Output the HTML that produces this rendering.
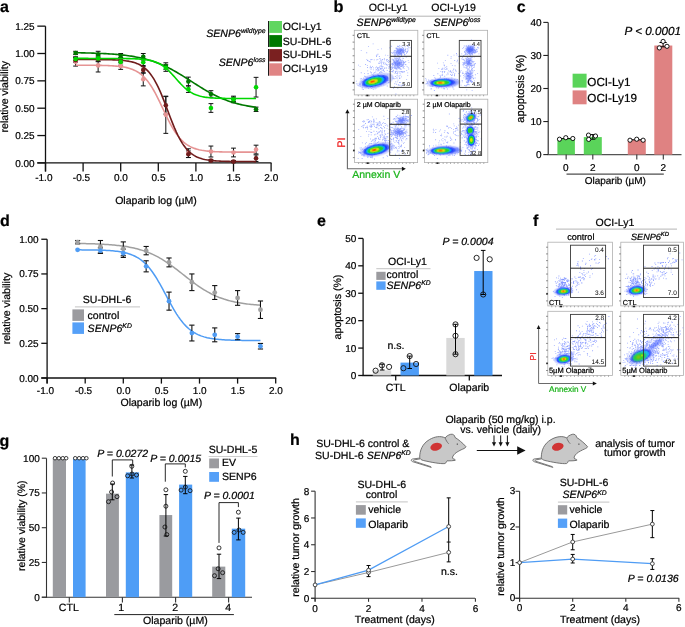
<!DOCTYPE html>
<html><head><meta charset="utf-8"><style>
html,body{margin:0;padding:0;background:#fff;overflow:hidden;}
svg{display:block;font-family:"Liberation Sans", sans-serif;will-change:transform;filter:blur(0.3px);}
text{stroke-width:0.22px;text-rendering:geometricPrecision;}
</style></head><body>
<svg width="685" height="627" viewBox="0 0 685 627">
<defs>
<filter id="bl1" x="-50%" y="-50%" width="200%" height="200%"><feGaussianBlur stdDeviation="1"/></filter>
<filter id="bl2" x="-50%" y="-50%" width="200%" height="200%"><feGaussianBlur stdDeviation="1.6"/></filter>
<filter id="bl07" x="-50%" y="-50%" width="200%" height="200%"><feGaussianBlur stdDeviation="0.7"/></filter>
<filter id="bl05" x="-50%" y="-50%" width="200%" height="200%"><feGaussianBlur stdDeviation="0.5"/></filter>
</defs>
<text x="0.00" y="12.30" font-size="16" text-anchor="start" fill="#000" stroke="#000" font-weight="bold">a</text>
<line x1="45.50" y1="26.20" x2="45.50" y2="171.50" stroke="#111" stroke-width="1.3"/>
<line x1="37.30" y1="162.90" x2="271.50" y2="162.90" stroke="#111" stroke-width="1.3"/>
<line x1="37.30" y1="162.90" x2="45.50" y2="162.90" stroke="#111" stroke-width="1.3"/>
<text x="34.60" y="166.50" font-size="10" text-anchor="end" fill="#000" stroke="#000">0.00</text>
<line x1="37.30" y1="135.55" x2="45.50" y2="135.55" stroke="#111" stroke-width="1.3"/>
<text x="34.60" y="139.15" font-size="10" text-anchor="end" fill="#000" stroke="#000">0.25</text>
<line x1="37.30" y1="108.20" x2="45.50" y2="108.20" stroke="#111" stroke-width="1.3"/>
<text x="34.60" y="111.80" font-size="10" text-anchor="end" fill="#000" stroke="#000">0.50</text>
<line x1="37.30" y1="80.85" x2="45.50" y2="80.85" stroke="#111" stroke-width="1.3"/>
<text x="34.60" y="84.45" font-size="10" text-anchor="end" fill="#000" stroke="#000">0.75</text>
<line x1="37.30" y1="53.50" x2="45.50" y2="53.50" stroke="#111" stroke-width="1.3"/>
<text x="34.60" y="57.10" font-size="10" text-anchor="end" fill="#000" stroke="#000">1.00</text>
<line x1="37.30" y1="26.15" x2="45.50" y2="26.15" stroke="#111" stroke-width="1.3"/>
<text x="34.60" y="29.75" font-size="10" text-anchor="end" fill="#000" stroke="#000">1.25</text>
<line x1="45.50" y1="162.90" x2="45.50" y2="171.50" stroke="#111" stroke-width="1.3"/>
<text x="35.22" y="180.60" font-size="10" text-anchor="start" fill="#000" stroke="#000">-1.0</text>
<line x1="83.10" y1="162.90" x2="83.10" y2="171.50" stroke="#111" stroke-width="1.3"/>
<text x="72.82" y="180.60" font-size="10" text-anchor="start" fill="#000" stroke="#000">-0.5</text>
<line x1="120.70" y1="162.90" x2="120.70" y2="171.50" stroke="#111" stroke-width="1.3"/>
<text x="120.90" y="180.60" font-size="10" text-anchor="middle" fill="#000" stroke="#000">0.0</text>
<line x1="158.30" y1="162.90" x2="158.30" y2="171.50" stroke="#111" stroke-width="1.3"/>
<text x="158.50" y="180.60" font-size="10" text-anchor="middle" fill="#000" stroke="#000">0.5</text>
<line x1="195.90" y1="162.90" x2="195.90" y2="171.50" stroke="#111" stroke-width="1.3"/>
<text x="196.10" y="180.60" font-size="10" text-anchor="middle" fill="#000" stroke="#000">1.0</text>
<line x1="233.50" y1="162.90" x2="233.50" y2="171.50" stroke="#111" stroke-width="1.3"/>
<text x="233.70" y="180.60" font-size="10" text-anchor="middle" fill="#000" stroke="#000">1.5</text>
<line x1="271.10" y1="162.90" x2="271.10" y2="171.50" stroke="#111" stroke-width="1.3"/>
<text x="271.30" y="180.60" font-size="10" text-anchor="middle" fill="#000" stroke="#000">2.0</text>
<text x="156.00" y="203.80" font-size="10.55" text-anchor="middle" fill="#000" stroke="#000">Olaparib log (µM)</text>
<text x="8.40" y="96.70" font-size="10.55" text-anchor="middle" fill="#000" stroke="#000" transform="rotate(-90 8.40 96.70)">relative viability</text>
<line x1="75.58" y1="57.33" x2="75.58" y2="66.08" stroke="#111" stroke-width="1"/>
<line x1="73.18" y1="57.33" x2="77.98" y2="57.33" stroke="#111" stroke-width="1"/>
<line x1="73.18" y1="66.08" x2="77.98" y2="66.08" stroke="#111" stroke-width="1"/>
<line x1="98.14" y1="58.86" x2="98.14" y2="71.99" stroke="#111" stroke-width="1"/>
<line x1="95.74" y1="58.86" x2="100.54" y2="58.86" stroke="#111" stroke-width="1"/>
<line x1="95.74" y1="71.99" x2="100.54" y2="71.99" stroke="#111" stroke-width="1"/>
<line x1="120.70" y1="62.80" x2="120.70" y2="69.36" stroke="#111" stroke-width="1"/>
<line x1="118.30" y1="62.80" x2="123.10" y2="62.80" stroke="#111" stroke-width="1"/>
<line x1="118.30" y1="69.36" x2="123.10" y2="69.36" stroke="#111" stroke-width="1"/>
<line x1="143.26" y1="72.75" x2="143.26" y2="85.88" stroke="#111" stroke-width="1"/>
<line x1="140.86" y1="72.75" x2="145.66" y2="72.75" stroke="#111" stroke-width="1"/>
<line x1="140.86" y1="85.88" x2="145.66" y2="85.88" stroke="#111" stroke-width="1"/>
<line x1="165.82" y1="96.17" x2="165.82" y2="133.36" stroke="#111" stroke-width="1"/>
<line x1="163.42" y1="96.17" x2="168.22" y2="96.17" stroke="#111" stroke-width="1"/>
<line x1="163.42" y1="133.36" x2="168.22" y2="133.36" stroke="#111" stroke-width="1"/>
<line x1="188.38" y1="148.79" x2="188.38" y2="157.54" stroke="#111" stroke-width="1"/>
<line x1="185.98" y1="148.79" x2="190.78" y2="148.79" stroke="#111" stroke-width="1"/>
<line x1="185.98" y1="157.54" x2="190.78" y2="157.54" stroke="#111" stroke-width="1"/>
<line x1="210.94" y1="146.05" x2="210.94" y2="156.99" stroke="#111" stroke-width="1"/>
<line x1="208.54" y1="146.05" x2="213.34" y2="146.05" stroke="#111" stroke-width="1"/>
<line x1="208.54" y1="156.99" x2="213.34" y2="156.99" stroke="#111" stroke-width="1"/>
<line x1="233.50" y1="148.13" x2="233.50" y2="156.88" stroke="#111" stroke-width="1"/>
<line x1="231.10" y1="148.13" x2="235.90" y2="148.13" stroke="#111" stroke-width="1"/>
<line x1="231.10" y1="156.88" x2="235.90" y2="156.88" stroke="#111" stroke-width="1"/>
<line x1="256.06" y1="145.18" x2="256.06" y2="153.93" stroke="#111" stroke-width="1"/>
<line x1="253.66" y1="145.18" x2="258.46" y2="145.18" stroke="#111" stroke-width="1"/>
<line x1="253.66" y1="153.93" x2="258.46" y2="153.93" stroke="#111" stroke-width="1"/>
<line x1="75.58" y1="57.99" x2="75.58" y2="62.36" stroke="#111" stroke-width="1"/>
<line x1="73.18" y1="57.99" x2="77.98" y2="57.99" stroke="#111" stroke-width="1"/>
<line x1="73.18" y1="62.36" x2="77.98" y2="62.36" stroke="#111" stroke-width="1"/>
<line x1="98.14" y1="56.78" x2="98.14" y2="61.16" stroke="#111" stroke-width="1"/>
<line x1="95.74" y1="56.78" x2="100.54" y2="56.78" stroke="#111" stroke-width="1"/>
<line x1="95.74" y1="61.16" x2="100.54" y2="61.16" stroke="#111" stroke-width="1"/>
<line x1="120.70" y1="57.55" x2="120.70" y2="61.92" stroke="#111" stroke-width="1"/>
<line x1="118.30" y1="57.55" x2="123.10" y2="57.55" stroke="#111" stroke-width="1"/>
<line x1="118.30" y1="61.92" x2="123.10" y2="61.92" stroke="#111" stroke-width="1"/>
<line x1="143.26" y1="66.63" x2="143.26" y2="73.19" stroke="#111" stroke-width="1"/>
<line x1="140.86" y1="66.63" x2="145.66" y2="66.63" stroke="#111" stroke-width="1"/>
<line x1="140.86" y1="73.19" x2="145.66" y2="73.19" stroke="#111" stroke-width="1"/>
<line x1="165.82" y1="96.60" x2="165.82" y2="114.11" stroke="#111" stroke-width="1"/>
<line x1="163.42" y1="96.60" x2="168.22" y2="96.60" stroke="#111" stroke-width="1"/>
<line x1="163.42" y1="114.11" x2="168.22" y2="114.11" stroke="#111" stroke-width="1"/>
<line x1="188.38" y1="150.98" x2="188.38" y2="157.54" stroke="#111" stroke-width="1"/>
<line x1="185.98" y1="150.98" x2="190.78" y2="150.98" stroke="#111" stroke-width="1"/>
<line x1="185.98" y1="157.54" x2="190.78" y2="157.54" stroke="#111" stroke-width="1"/>
<line x1="210.94" y1="159.51" x2="210.94" y2="161.70" stroke="#111" stroke-width="1"/>
<line x1="208.54" y1="159.51" x2="213.34" y2="159.51" stroke="#111" stroke-width="1"/>
<line x1="208.54" y1="161.70" x2="213.34" y2="161.70" stroke="#111" stroke-width="1"/>
<line x1="233.50" y1="160.49" x2="233.50" y2="162.68" stroke="#111" stroke-width="1"/>
<line x1="231.10" y1="160.49" x2="235.90" y2="160.49" stroke="#111" stroke-width="1"/>
<line x1="231.10" y1="162.68" x2="235.90" y2="162.68" stroke="#111" stroke-width="1"/>
<line x1="256.06" y1="154.91" x2="256.06" y2="161.48" stroke="#111" stroke-width="1"/>
<line x1="253.66" y1="154.91" x2="258.46" y2="154.91" stroke="#111" stroke-width="1"/>
<line x1="253.66" y1="161.48" x2="258.46" y2="161.48" stroke="#111" stroke-width="1"/>
<line x1="75.58" y1="51.31" x2="75.58" y2="54.59" stroke="#111" stroke-width="1"/>
<line x1="73.18" y1="51.31" x2="77.98" y2="51.31" stroke="#111" stroke-width="1"/>
<line x1="73.18" y1="54.59" x2="77.98" y2="54.59" stroke="#111" stroke-width="1"/>
<line x1="98.14" y1="51.31" x2="98.14" y2="57.88" stroke="#111" stroke-width="1"/>
<line x1="95.74" y1="51.31" x2="100.54" y2="51.31" stroke="#111" stroke-width="1"/>
<line x1="95.74" y1="57.88" x2="100.54" y2="57.88" stroke="#111" stroke-width="1"/>
<line x1="120.70" y1="53.50" x2="120.70" y2="57.88" stroke="#111" stroke-width="1"/>
<line x1="118.30" y1="53.50" x2="123.10" y2="53.50" stroke="#111" stroke-width="1"/>
<line x1="118.30" y1="57.88" x2="123.10" y2="57.88" stroke="#111" stroke-width="1"/>
<line x1="143.26" y1="53.50" x2="143.26" y2="60.06" stroke="#111" stroke-width="1"/>
<line x1="140.86" y1="53.50" x2="145.66" y2="53.50" stroke="#111" stroke-width="1"/>
<line x1="140.86" y1="60.06" x2="145.66" y2="60.06" stroke="#111" stroke-width="1"/>
<line x1="165.82" y1="62.80" x2="165.82" y2="69.36" stroke="#111" stroke-width="1"/>
<line x1="163.42" y1="62.80" x2="168.22" y2="62.80" stroke="#111" stroke-width="1"/>
<line x1="163.42" y1="69.36" x2="168.22" y2="69.36" stroke="#111" stroke-width="1"/>
<line x1="188.38" y1="77.13" x2="188.38" y2="85.88" stroke="#111" stroke-width="1"/>
<line x1="185.98" y1="77.13" x2="190.78" y2="77.13" stroke="#111" stroke-width="1"/>
<line x1="185.98" y1="85.88" x2="190.78" y2="85.88" stroke="#111" stroke-width="1"/>
<line x1="210.94" y1="90.70" x2="210.94" y2="97.26" stroke="#111" stroke-width="1"/>
<line x1="208.54" y1="90.70" x2="213.34" y2="90.70" stroke="#111" stroke-width="1"/>
<line x1="208.54" y1="97.26" x2="213.34" y2="97.26" stroke="#111" stroke-width="1"/>
<line x1="233.50" y1="97.15" x2="233.50" y2="101.53" stroke="#111" stroke-width="1"/>
<line x1="231.10" y1="97.15" x2="235.90" y2="97.15" stroke="#111" stroke-width="1"/>
<line x1="231.10" y1="101.53" x2="235.90" y2="101.53" stroke="#111" stroke-width="1"/>
<line x1="256.06" y1="107.11" x2="256.06" y2="111.48" stroke="#111" stroke-width="1"/>
<line x1="253.66" y1="107.11" x2="258.46" y2="107.11" stroke="#111" stroke-width="1"/>
<line x1="253.66" y1="111.48" x2="258.46" y2="111.48" stroke="#111" stroke-width="1"/>
<line x1="75.58" y1="56.78" x2="75.58" y2="61.16" stroke="#111" stroke-width="1"/>
<line x1="73.18" y1="56.78" x2="77.98" y2="56.78" stroke="#111" stroke-width="1"/>
<line x1="73.18" y1="61.16" x2="77.98" y2="61.16" stroke="#111" stroke-width="1"/>
<line x1="98.14" y1="55.14" x2="98.14" y2="61.71" stroke="#111" stroke-width="1"/>
<line x1="95.74" y1="55.14" x2="100.54" y2="55.14" stroke="#111" stroke-width="1"/>
<line x1="95.74" y1="61.71" x2="100.54" y2="61.71" stroke="#111" stroke-width="1"/>
<line x1="120.70" y1="58.64" x2="120.70" y2="65.21" stroke="#111" stroke-width="1"/>
<line x1="118.30" y1="58.64" x2="123.10" y2="58.64" stroke="#111" stroke-width="1"/>
<line x1="118.30" y1="65.21" x2="123.10" y2="65.21" stroke="#111" stroke-width="1"/>
<line x1="143.26" y1="58.97" x2="143.26" y2="65.53" stroke="#111" stroke-width="1"/>
<line x1="140.86" y1="58.97" x2="145.66" y2="58.97" stroke="#111" stroke-width="1"/>
<line x1="140.86" y1="65.53" x2="145.66" y2="65.53" stroke="#111" stroke-width="1"/>
<line x1="165.82" y1="64.77" x2="165.82" y2="71.33" stroke="#111" stroke-width="1"/>
<line x1="163.42" y1="64.77" x2="168.22" y2="64.77" stroke="#111" stroke-width="1"/>
<line x1="163.42" y1="71.33" x2="168.22" y2="71.33" stroke="#111" stroke-width="1"/>
<line x1="188.38" y1="85.88" x2="188.38" y2="92.45" stroke="#111" stroke-width="1"/>
<line x1="185.98" y1="85.88" x2="190.78" y2="85.88" stroke="#111" stroke-width="1"/>
<line x1="185.98" y1="92.45" x2="190.78" y2="92.45" stroke="#111" stroke-width="1"/>
<line x1="210.94" y1="103.61" x2="210.94" y2="112.36" stroke="#111" stroke-width="1"/>
<line x1="208.54" y1="103.61" x2="213.34" y2="103.61" stroke="#111" stroke-width="1"/>
<line x1="208.54" y1="112.36" x2="213.34" y2="112.36" stroke="#111" stroke-width="1"/>
<line x1="233.50" y1="96.17" x2="233.50" y2="102.73" stroke="#111" stroke-width="1"/>
<line x1="231.10" y1="96.17" x2="235.90" y2="96.17" stroke="#111" stroke-width="1"/>
<line x1="231.10" y1="102.73" x2="235.90" y2="102.73" stroke="#111" stroke-width="1"/>
<line x1="256.06" y1="77.35" x2="256.06" y2="97.04" stroke="#111" stroke-width="1"/>
<line x1="253.66" y1="77.35" x2="258.46" y2="77.35" stroke="#111" stroke-width="1"/>
<line x1="253.66" y1="97.04" x2="258.46" y2="97.04" stroke="#111" stroke-width="1"/>
<path d="M75.58,65.22 L77.08,65.23 L78.59,65.23 L80.09,65.23 L81.60,65.24 L83.10,65.24 L84.60,65.25 L86.11,65.25 L87.61,65.26 L89.12,65.27 L90.62,65.28 L92.12,65.29 L93.63,65.30 L95.13,65.32 L96.64,65.34 L98.14,65.36 L99.64,65.38 L101.15,65.41 L102.65,65.44 L104.16,65.48 L105.66,65.52 L107.16,65.57 L108.67,65.63 L110.17,65.70 L111.68,65.78 L113.18,65.87 L114.68,65.97 L116.19,66.09 L117.69,66.23 L119.20,66.39 L120.70,66.58 L122.20,66.79 L123.71,67.04 L125.21,67.32 L126.72,67.65 L128.22,68.02 L129.72,68.45 L131.23,68.95 L132.73,69.51 L134.24,70.16 L135.74,70.89 L137.24,71.73 L138.75,72.67 L140.25,73.74 L141.76,74.95 L143.26,76.30 L144.76,77.80 L146.27,79.47 L147.77,81.32 L149.28,83.34 L150.78,85.55 L152.28,87.94 L153.79,90.50 L155.29,93.22 L156.80,96.09 L158.30,99.08 L159.80,102.17 L161.31,105.33 L162.81,108.53 L164.32,111.73 L165.82,114.90 L167.32,118.00 L168.83,121.00 L170.33,123.89 L171.84,126.62 L173.34,129.20 L174.84,131.60 L176.35,133.83 L177.85,135.87 L179.36,137.73 L180.86,139.42 L182.36,140.95 L183.87,142.31 L185.37,143.53 L186.88,144.61 L188.38,145.57 L189.88,146.41 L191.39,147.16 L192.89,147.81 L194.40,148.38 L195.90,148.88 L197.40,149.32 L198.91,149.70 L200.41,150.03 L201.92,150.32 L203.42,150.57 L204.92,150.79 L206.43,150.98 L207.93,151.14 L209.44,151.28 L210.94,151.40 L212.44,151.51 L213.95,151.60 L215.45,151.68 L216.96,151.75 L218.46,151.80 L219.96,151.86 L221.47,151.90 L222.97,151.94 L224.48,151.97 L225.98,152.00 L227.48,152.02 L228.99,152.05 L230.49,152.06 L232.00,152.08 L233.50,152.09 L235.00,152.10 L236.51,152.11 L238.01,152.12 L239.52,152.13 L241.02,152.14 L242.52,152.14 L244.03,152.15 L245.53,152.15 L247.04,152.16 L248.54,152.16 L250.04,152.16 L251.55,152.16 L253.05,152.17 L254.56,152.17 L256.06,152.17" stroke="#e69494" stroke-width="1.6" fill="none"/>
<circle cx="75.58" cy="61.70" r="2.3" fill="#e69494" stroke="none" stroke-width="0"/>
<circle cx="98.14" cy="65.42" r="2.3" fill="#e69494" stroke="none" stroke-width="0"/>
<circle cx="120.70" cy="66.08" r="2.3" fill="#e69494" stroke="none" stroke-width="0"/>
<circle cx="143.26" cy="79.32" r="2.3" fill="#e69494" stroke="none" stroke-width="0"/>
<circle cx="165.82" cy="114.76" r="2.3" fill="#e69494" stroke="none" stroke-width="0"/>
<circle cx="188.38" cy="153.16" r="2.3" fill="#e69494" stroke="none" stroke-width="0"/>
<circle cx="210.94" cy="151.52" r="2.3" fill="#e69494" stroke="none" stroke-width="0"/>
<circle cx="233.50" cy="152.51" r="2.3" fill="#e69494" stroke="none" stroke-width="0"/>
<circle cx="256.06" cy="149.55" r="2.3" fill="#e69494" stroke="none" stroke-width="0"/>
<path d="M75.58,59.52 L77.08,59.53 L78.59,59.53 L80.09,59.53 L81.60,59.53 L83.10,59.53 L84.60,59.53 L86.11,59.54 L87.61,59.54 L89.12,59.55 L90.62,59.55 L92.12,59.56 L93.63,59.56 L95.13,59.57 L96.64,59.58 L98.14,59.59 L99.64,59.60 L101.15,59.62 L102.65,59.63 L104.16,59.65 L105.66,59.68 L107.16,59.70 L108.67,59.74 L110.17,59.77 L111.68,59.82 L113.18,59.87 L114.68,59.92 L116.19,59.99 L117.69,60.07 L119.20,60.17 L120.70,60.28 L122.20,60.40 L123.71,60.55 L125.21,60.73 L126.72,60.93 L128.22,61.16 L129.72,61.44 L131.23,61.76 L132.73,62.13 L134.24,62.56 L135.74,63.05 L137.24,63.63 L138.75,64.29 L140.25,65.06 L141.76,65.94 L143.26,66.95 L144.76,68.10 L146.27,69.42 L147.77,70.91 L149.28,72.59 L150.78,74.48 L152.28,76.59 L153.79,78.94 L155.29,81.52 L156.80,84.34 L158.30,87.40 L159.80,90.68 L161.31,94.17 L162.81,97.84 L164.32,101.65 L165.82,105.57 L167.32,109.55 L168.83,113.55 L170.33,117.50 L171.84,121.37 L173.34,125.12 L174.84,128.70 L176.35,132.09 L177.85,135.26 L179.36,138.20 L180.86,140.91 L182.36,143.37 L183.87,145.60 L185.37,147.60 L186.88,149.38 L188.38,150.97 L189.88,152.37 L191.39,153.60 L192.89,154.68 L194.40,155.62 L195.90,156.44 L197.40,157.16 L198.91,157.77 L200.41,158.31 L201.92,158.77 L203.42,159.17 L204.92,159.51 L206.43,159.81 L207.93,160.06 L209.44,160.28 L210.94,160.47 L212.44,160.63 L213.95,160.77 L215.45,160.88 L216.96,160.99 L218.46,161.07 L219.96,161.15 L221.47,161.21 L222.97,161.26 L224.48,161.31 L225.98,161.35 L227.48,161.39 L228.99,161.41 L230.49,161.44 L232.00,161.46 L233.50,161.48 L235.00,161.49 L236.51,161.51 L238.01,161.52 L239.52,161.53 L241.02,161.54 L242.52,161.54 L244.03,161.55 L245.53,161.56 L247.04,161.56 L248.54,161.56 L250.04,161.57 L251.55,161.57 L253.05,161.57 L254.56,161.58 L256.06,161.58" stroke="#701c1c" stroke-width="1.6" fill="none"/>
<circle cx="75.58" cy="60.17" r="2.3" fill="#701c1c" stroke="none" stroke-width="0"/>
<circle cx="98.14" cy="58.97" r="2.3" fill="#701c1c" stroke="none" stroke-width="0"/>
<circle cx="120.70" cy="59.74" r="2.3" fill="#701c1c" stroke="none" stroke-width="0"/>
<circle cx="143.26" cy="69.91" r="2.3" fill="#701c1c" stroke="none" stroke-width="0"/>
<circle cx="165.82" cy="105.36" r="2.3" fill="#701c1c" stroke="none" stroke-width="0"/>
<circle cx="188.38" cy="154.26" r="2.3" fill="#701c1c" stroke="none" stroke-width="0"/>
<circle cx="210.94" cy="160.60" r="2.3" fill="#701c1c" stroke="none" stroke-width="0"/>
<circle cx="233.50" cy="161.59" r="2.3" fill="#701c1c" stroke="none" stroke-width="0"/>
<circle cx="256.06" cy="158.20" r="2.3" fill="#701c1c" stroke="none" stroke-width="0"/>
<path d="M75.58,52.74 L77.08,52.77 L78.59,52.79 L80.09,52.82 L81.60,52.85 L83.10,52.88 L84.60,52.91 L86.11,52.94 L87.61,52.98 L89.12,53.02 L90.62,53.06 L92.12,53.10 L93.63,53.15 L95.13,53.20 L96.64,53.26 L98.14,53.31 L99.64,53.38 L101.15,53.44 L102.65,53.51 L104.16,53.59 L105.66,53.67 L107.16,53.75 L108.67,53.84 L110.17,53.94 L111.68,54.04 L113.18,54.15 L114.68,54.27 L116.19,54.39 L117.69,54.52 L119.20,54.67 L120.70,54.82 L122.20,54.97 L123.71,55.14 L125.21,55.32 L126.72,55.51 L128.22,55.72 L129.72,55.93 L131.23,56.16 L132.73,56.40 L134.24,56.65 L135.74,56.93 L137.24,57.21 L138.75,57.51 L140.25,57.83 L141.76,58.17 L143.26,58.53 L144.76,58.90 L146.27,59.30 L147.77,59.71 L149.28,60.15 L150.78,60.61 L152.28,61.09 L153.79,61.60 L155.29,62.12 L156.80,62.68 L158.30,63.25 L159.80,63.85 L161.31,64.48 L162.81,65.13 L164.32,65.81 L165.82,66.51 L167.32,67.23 L168.83,67.98 L170.33,68.75 L171.84,69.55 L173.34,70.37 L174.84,71.20 L176.35,72.06 L177.85,72.94 L179.36,73.83 L180.86,74.74 L182.36,75.67 L183.87,76.60 L185.37,77.55 L186.88,78.50 L188.38,79.46 L189.88,80.43 L191.39,81.40 L192.89,82.36 L194.40,83.33 L195.90,84.29 L197.40,85.25 L198.91,86.19 L200.41,87.13 L201.92,88.05 L203.42,88.96 L204.92,89.86 L206.43,90.73 L207.93,91.59 L209.44,92.43 L210.94,93.25 L212.44,94.04 L213.95,94.81 L215.45,95.56 L216.96,96.29 L218.46,96.99 L219.96,97.66 L221.47,98.31 L222.97,98.94 L224.48,99.54 L225.98,100.12 L227.48,100.67 L228.99,101.20 L230.49,101.70 L232.00,102.18 L233.50,102.64 L235.00,103.08 L236.51,103.50 L238.01,103.89 L239.52,104.27 L241.02,104.62 L242.52,104.96 L244.03,105.28 L245.53,105.58 L247.04,105.87 L248.54,106.14 L250.04,106.39 L251.55,106.64 L253.05,106.86 L254.56,107.08 L256.06,107.28" stroke="#007800" stroke-width="1.6" fill="none"/>
<circle cx="75.58" cy="52.95" r="2.3" fill="#007800" stroke="none" stroke-width="0"/>
<circle cx="98.14" cy="54.59" r="2.3" fill="#007800" stroke="none" stroke-width="0"/>
<circle cx="120.70" cy="55.69" r="2.3" fill="#007800" stroke="none" stroke-width="0"/>
<circle cx="143.26" cy="56.78" r="2.3" fill="#007800" stroke="none" stroke-width="0"/>
<circle cx="165.82" cy="66.08" r="2.3" fill="#007800" stroke="none" stroke-width="0"/>
<circle cx="188.38" cy="81.51" r="2.3" fill="#007800" stroke="none" stroke-width="0"/>
<circle cx="210.94" cy="93.98" r="2.3" fill="#007800" stroke="none" stroke-width="0"/>
<circle cx="233.50" cy="99.34" r="2.3" fill="#007800" stroke="none" stroke-width="0"/>
<circle cx="256.06" cy="109.29" r="2.3" fill="#007800" stroke="none" stroke-width="0"/>
<path d="M75.58,58.42 L77.08,58.42 L78.59,58.42 L80.09,58.42 L81.60,58.42 L83.10,58.42 L84.60,58.42 L86.11,58.42 L87.61,58.42 L89.12,58.43 L90.62,58.43 L92.12,58.43 L93.63,58.43 L95.13,58.43 L96.64,58.43 L98.14,58.43 L99.64,58.43 L101.15,58.43 L102.65,58.43 L104.16,58.43 L105.66,58.44 L107.16,58.44 L108.67,58.44 L110.17,58.45 L111.68,58.45 L113.18,58.46 L114.68,58.46 L116.19,58.47 L117.69,58.48 L119.20,58.49 L120.70,58.50 L122.20,58.51 L123.71,58.53 L125.21,58.55 L126.72,58.58 L128.22,58.60 L129.72,58.64 L131.23,58.68 L132.73,58.72 L134.24,58.78 L135.74,58.84 L137.24,58.92 L138.75,59.01 L140.25,59.12 L141.76,59.25 L143.26,59.39 L144.76,59.57 L146.27,59.78 L147.77,60.02 L149.28,60.30 L150.78,60.63 L152.28,61.01 L153.79,61.46 L155.29,61.97 L156.80,62.56 L158.30,63.24 L159.80,64.01 L161.31,64.88 L162.81,65.85 L164.32,66.94 L165.82,68.14 L167.32,69.45 L168.83,70.86 L170.33,72.37 L171.84,73.96 L173.34,75.61 L174.84,77.30 L176.35,79.01 L177.85,80.71 L179.36,82.38 L180.86,84.00 L182.36,85.54 L183.87,86.99 L185.37,88.34 L186.88,89.59 L188.38,90.72 L189.88,91.74 L191.39,92.65 L192.89,93.46 L194.40,94.18 L195.90,94.80 L197.40,95.34 L198.91,95.81 L200.41,96.22 L201.92,96.57 L203.42,96.87 L204.92,97.13 L206.43,97.35 L207.93,97.54 L209.44,97.69 L210.94,97.83 L212.44,97.94 L213.95,98.04 L215.45,98.12 L216.96,98.19 L218.46,98.25 L219.96,98.30 L221.47,98.34 L222.97,98.38 L224.48,98.41 L225.98,98.44 L227.48,98.46 L228.99,98.47 L230.49,98.49 L232.00,98.50 L233.50,98.51 L235.00,98.52 L236.51,98.53 L238.01,98.54 L239.52,98.54 L241.02,98.55 L242.52,98.55 L244.03,98.55 L245.53,98.56 L247.04,98.56 L248.54,98.56 L250.04,98.56 L251.55,98.57 L253.05,98.57 L254.56,98.57 L256.06,98.57" stroke="#00d800" stroke-width="1.6" fill="none"/>
<circle cx="75.58" cy="58.97" r="2.3" fill="#00d800" stroke="none" stroke-width="0"/>
<circle cx="98.14" cy="58.42" r="2.3" fill="#00d800" stroke="none" stroke-width="0"/>
<circle cx="120.70" cy="61.92" r="2.3" fill="#00d800" stroke="none" stroke-width="0"/>
<circle cx="143.26" cy="62.25" r="2.3" fill="#00d800" stroke="none" stroke-width="0"/>
<circle cx="165.82" cy="68.05" r="2.3" fill="#00d800" stroke="none" stroke-width="0"/>
<circle cx="188.38" cy="89.16" r="2.3" fill="#00d800" stroke="none" stroke-width="0"/>
<circle cx="210.94" cy="107.98" r="2.3" fill="#00d800" stroke="none" stroke-width="0"/>
<circle cx="233.50" cy="99.45" r="2.3" fill="#00d800" stroke="none" stroke-width="0"/>
<circle cx="256.06" cy="87.20" r="2.3" fill="#00d800" stroke="none" stroke-width="0"/>
<text x="265.50" y="36.70" font-size="10.6" text-anchor="end" fill="#000" stroke="#000" font-style="italic">SENP6<tspan font-size="6.80" dy="-3.80">wildtype</tspan></text>
<text x="265.50" y="65.90" font-size="10.6" text-anchor="end" fill="#000" stroke="#000" font-style="italic">SENP6<tspan font-size="6.80" dy="-3.80">loss</tspan></text>
<line x1="268.60" y1="21.00" x2="268.60" y2="47.00" stroke="#111" stroke-width="1.1"/>
<line x1="268.60" y1="49.00" x2="268.60" y2="75.80" stroke="#111" stroke-width="1.1"/>
<rect x="269.20" y="21.00" width="12.80" height="11.90" fill="#60d660"/>
<rect x="269.20" y="35.10" width="12.80" height="11.80" fill="#007800"/>
<rect x="269.20" y="49.10" width="12.80" height="12.30" fill="#7a2020"/>
<rect x="269.20" y="63.30" width="12.80" height="12.40" fill="#e08484"/>
<text x="282.80" y="30.40" font-size="10.55" text-anchor="start" fill="#000" stroke="#000">OCI-Ly1</text>
<text x="282.80" y="44.70" font-size="10.55" text-anchor="start" fill="#000" stroke="#000">SU-DHL-6</text>
<text x="282.80" y="58.20" font-size="10.55" text-anchor="start" fill="#000" stroke="#000">SU-DHL-5</text>
<text x="282.80" y="72.00" font-size="10.55" text-anchor="start" fill="#000" stroke="#000">OCI-Ly19</text>
<text x="333.50" y="12.00" font-size="16.3" text-anchor="start" fill="#000" stroke="#000" font-weight="bold">b</text>
<text x="388.30" y="11.40" font-size="10.55" text-anchor="middle" fill="#000" stroke="#000">OCI-Ly1</text>
<text x="453.60" y="11.40" font-size="10.55" text-anchor="middle" fill="#000" stroke="#000">OCI-Ly19</text>
<line x1="359.30" y1="16.20" x2="481.00" y2="16.20" stroke="#b4b4b4" stroke-width="1"/>
<text x="356.60" y="26.20" font-size="10.6" text-anchor="start" fill="#000" stroke="#000" font-style="italic">SENP6<tspan font-size="6.80" dy="-3.80">wildtype</tspan></text>
<text x="433.60" y="26.20" font-size="10.6" text-anchor="start" fill="#000" stroke="#000" font-style="italic">SENP6<tspan font-size="6.80" dy="-3.80">loss</tspan></text>
<rect x="354.30" y="30.30" width="63.50" height="64.60" fill="none" stroke="#b0b0b0" stroke-width="0.8"/>
<line x1="352.60" y1="35.30" x2="354.30" y2="35.30" stroke="#555" stroke-width="0.7"/>
<line x1="352.60" y1="42.12" x2="354.30" y2="42.12" stroke="#555" stroke-width="0.7"/>
<line x1="352.60" y1="48.95" x2="354.30" y2="48.95" stroke="#555" stroke-width="0.7"/>
<line x1="352.60" y1="55.77" x2="354.30" y2="55.77" stroke="#555" stroke-width="0.7"/>
<line x1="352.60" y1="62.60" x2="354.30" y2="62.60" stroke="#555" stroke-width="0.7"/>
<line x1="352.60" y1="69.43" x2="354.30" y2="69.43" stroke="#555" stroke-width="0.7"/>
<line x1="352.60" y1="76.25" x2="354.30" y2="76.25" stroke="#555" stroke-width="0.7"/>
<line x1="352.60" y1="83.08" x2="354.30" y2="83.08" stroke="#555" stroke-width="0.7"/>
<line x1="352.60" y1="89.90" x2="354.30" y2="89.90" stroke="#555" stroke-width="0.7"/>
<line x1="358.30" y1="94.90" x2="358.30" y2="96.30" stroke="#777" stroke-width="0.6"/>
<line x1="362.00" y1="94.90" x2="362.00" y2="96.30" stroke="#777" stroke-width="0.6"/>
<line x1="365.70" y1="94.90" x2="365.70" y2="96.30" stroke="#777" stroke-width="0.6"/>
<line x1="369.40" y1="94.90" x2="369.40" y2="96.30" stroke="#777" stroke-width="0.6"/>
<line x1="373.10" y1="94.90" x2="373.10" y2="96.30" stroke="#777" stroke-width="0.6"/>
<line x1="376.80" y1="94.90" x2="376.80" y2="96.30" stroke="#777" stroke-width="0.6"/>
<line x1="380.50" y1="94.90" x2="380.50" y2="96.30" stroke="#777" stroke-width="0.6"/>
<line x1="384.20" y1="94.90" x2="384.20" y2="96.30" stroke="#777" stroke-width="0.6"/>
<line x1="387.90" y1="94.90" x2="387.90" y2="96.30" stroke="#777" stroke-width="0.6"/>
<line x1="391.60" y1="94.90" x2="391.60" y2="96.30" stroke="#777" stroke-width="0.6"/>
<line x1="395.30" y1="94.90" x2="395.30" y2="96.30" stroke="#777" stroke-width="0.6"/>
<line x1="399.00" y1="94.90" x2="399.00" y2="96.30" stroke="#777" stroke-width="0.6"/>
<line x1="402.70" y1="94.90" x2="402.70" y2="96.30" stroke="#777" stroke-width="0.6"/>
<line x1="406.40" y1="94.90" x2="406.40" y2="96.30" stroke="#777" stroke-width="0.6"/>
<line x1="410.10" y1="94.90" x2="410.10" y2="96.30" stroke="#777" stroke-width="0.6"/>
<line x1="413.80" y1="94.90" x2="413.80" y2="96.30" stroke="#777" stroke-width="0.6"/>
<rect x="352.80" y="81.90" width="1.50" height="1.60" fill="#222"/>
<rect x="366.30" y="94.70" width="2.20" height="1.60" fill="#222"/>
<path d="M372.7 80.0h0.85v0.85h-0.85zM375.3 79.2h0.85v0.85h-0.85zM371.0 84.2h0.85v0.85h-0.85zM364.9 82.1h0.85v0.85h-0.85zM368.9 81.8h0.85v0.85h-0.85zM364.3 83.4h0.85v0.85h-0.85zM374.4 85.4h0.85v0.85h-0.85zM385.3 81.3h0.85v0.85h-0.85zM368.9 83.7h0.85v0.85h-0.85zM367.1 80.7h0.85v0.85h-0.85zM376.3 75.9h0.85v0.85h-0.85zM376.8 84.1h0.85v0.85h-0.85zM374.6 84.6h0.85v0.85h-0.85zM364.7 82.8h0.85v0.85h-0.85zM373.1 83.4h0.85v0.85h-0.85zM379.7 82.9h0.85v0.85h-0.85zM361.8 86.9h0.85v0.85h-0.85zM369.6 85.5h0.85v0.85h-0.85zM355.9 83.5h0.85v0.85h-0.85zM362.8 89.1h0.85v0.85h-0.85zM355.9 80.7h0.85v0.85h-0.85zM371.6 84.9h0.85v0.85h-0.85zM362.2 85.6h0.85v0.85h-0.85zM376.0 84.0h0.85v0.85h-0.85zM375.7 87.6h0.85v0.85h-0.85zM372.4 86.9h0.85v0.85h-0.85zM367.0 76.7h0.85v0.85h-0.85zM373.2 84.4h0.85v0.85h-0.85zM373.3 77.8h0.85v0.85h-0.85zM359.5 84.3h0.85v0.85h-0.85zM369.4 85.3h0.85v0.85h-0.85zM363.2 77.7h0.85v0.85h-0.85zM364.3 75.8h0.85v0.85h-0.85zM382.5 80.4h0.85v0.85h-0.85zM365.9 83.2h0.85v0.85h-0.85zM372.5 80.7h0.85v0.85h-0.85zM380.8 80.0h0.85v0.85h-0.85zM367.2 79.6h0.85v0.85h-0.85zM370.9 76.5h0.85v0.85h-0.85zM373.9 80.7h0.85v0.85h-0.85zM372.9 78.1h0.85v0.85h-0.85zM361.0 78.2h0.85v0.85h-0.85zM374.0 83.1h0.85v0.85h-0.85zM384.9 78.7h0.85v0.85h-0.85zM359.7 85.8h0.85v0.85h-0.85zM379.8 76.5h0.85v0.85h-0.85zM373.6 79.0h0.85v0.85h-0.85zM366.6 79.3h0.85v0.85h-0.85zM390.0 74.7h0.85v0.85h-0.85zM379.9 80.7h0.85v0.85h-0.85zM361.9 81.1h0.85v0.85h-0.85zM373.9 82.6h0.85v0.85h-0.85zM378.3 81.6h0.85v0.85h-0.85zM372.8 88.8h0.85v0.85h-0.85zM378.0 75.5h0.85v0.85h-0.85zM373.1 84.7h0.85v0.85h-0.85zM378.8 79.9h0.85v0.85h-0.85zM385.7 78.8h0.85v0.85h-0.85zM366.0 77.8h0.85v0.85h-0.85zM374.5 79.5h0.85v0.85h-0.85zM369.5 84.9h0.85v0.85h-0.85zM374.1 81.0h0.85v0.85h-0.85zM362.6 84.0h0.85v0.85h-0.85zM367.7 81.6h0.85v0.85h-0.85zM372.1 85.8h0.85v0.85h-0.85zM380.9 79.7h0.85v0.85h-0.85zM381.5 71.8h0.85v0.85h-0.85zM360.8 81.6h0.85v0.85h-0.85zM364.6 76.2h0.85v0.85h-0.85zM376.3 69.2h0.85v0.85h-0.85zM369.9 86.9h0.85v0.85h-0.85zM372.2 81.8h0.85v0.85h-0.85zM383.2 75.1h0.85v0.85h-0.85zM378.4 77.0h0.85v0.85h-0.85zM370.9 86.0h0.85v0.85h-0.85zM369.9 82.7h0.85v0.85h-0.85zM370.8 82.1h0.85v0.85h-0.85zM386.4 78.5h0.85v0.85h-0.85zM369.3 82.4h0.85v0.85h-0.85zM370.9 84.8h0.85v0.85h-0.85zM376.5 82.7h0.85v0.85h-0.85zM372.1 82.5h0.85v0.85h-0.85zM370.5 78.3h0.85v0.85h-0.85zM363.6 85.3h0.85v0.85h-0.85zM372.4 79.2h0.85v0.85h-0.85zM369.9 86.1h0.85v0.85h-0.85zM382.3 75.0h0.85v0.85h-0.85zM378.6 79.8h0.85v0.85h-0.85zM372.8 81.5h0.85v0.85h-0.85zM377.9 75.7h0.85v0.85h-0.85zM371.3 88.0h0.85v0.85h-0.85zM383.3 84.5h0.85v0.85h-0.85zM372.6 79.9h0.85v0.85h-0.85zM378.7 83.1h0.85v0.85h-0.85zM361.9 85.2h0.85v0.85h-0.85zM374.2 71.9h0.85v0.85h-0.85zM358.3 85.5h0.85v0.85h-0.85zM370.4 82.4h0.85v0.85h-0.85zM364.3 79.5h0.85v0.85h-0.85zM374.2 80.3h0.85v0.85h-0.85zM392.6 76.7h0.85v0.85h-0.85zM366.5 87.1h0.85v0.85h-0.85zM367.8 83.8h0.85v0.85h-0.85zM374.8 81.1h0.85v0.85h-0.85zM378.5 85.8h0.85v0.85h-0.85zM371.0 79.9h0.85v0.85h-0.85zM370.9 80.6h0.85v0.85h-0.85zM377.9 74.0h0.85v0.85h-0.85zM378.7 85.9h0.85v0.85h-0.85zM364.6 86.7h0.85v0.85h-0.85zM373.0 84.8h0.85v0.85h-0.85zM373.8 83.7h0.85v0.85h-0.85zM363.8 83.9h0.85v0.85h-0.85zM375.4 81.8h0.85v0.85h-0.85zM365.3 82.2h0.85v0.85h-0.85zM381.4 79.0h0.85v0.85h-0.85zM374.7 81.3h0.85v0.85h-0.85zM374.9 86.5h0.85v0.85h-0.85zM368.2 84.5h0.85v0.85h-0.85zM371.9 81.5h0.85v0.85h-0.85zM362.6 81.4h0.85v0.85h-0.85zM377.4 86.3h0.85v0.85h-0.85zM380.5 80.1h0.85v0.85h-0.85zM357.4 83.6h0.85v0.85h-0.85zM378.9 76.3h0.85v0.85h-0.85zM365.5 82.9h0.85v0.85h-0.85zM380.5 83.0h0.85v0.85h-0.85zM373.9 79.9h0.85v0.85h-0.85zM359.3 83.6h0.85v0.85h-0.85zM383.8 78.4h0.85v0.85h-0.85zM385.8 79.2h0.85v0.85h-0.85zM371.3 76.2h0.85v0.85h-0.85zM370.4 81.2h0.85v0.85h-0.85zM371.0 78.9h0.85v0.85h-0.85zM365.1 86.4h0.85v0.85h-0.85zM382.1 76.8h0.85v0.85h-0.85zM368.6 84.5h0.85v0.85h-0.85zM373.7 86.8h0.85v0.85h-0.85zM365.8 81.9h0.85v0.85h-0.85zM367.1 80.6h0.85v0.85h-0.85zM361.9 84.5h0.85v0.85h-0.85zM384.1 79.1h0.85v0.85h-0.85zM370.9 78.4h0.85v0.85h-0.85zM381.8 81.3h0.85v0.85h-0.85zM374.6 88.4h0.85v0.85h-0.85zM366.7 81.9h0.85v0.85h-0.85zM370.0 81.4h0.85v0.85h-0.85zM367.3 79.0h0.85v0.85h-0.85zM373.3 82.6h0.85v0.85h-0.85zM368.8 77.9h0.85v0.85h-0.85zM369.6 78.3h0.85v0.85h-0.85zM361.8 88.5h0.85v0.85h-0.85zM365.2 79.9h0.85v0.85h-0.85zM388.3 82.1h0.85v0.85h-0.85zM368.2 88.0h0.85v0.85h-0.85zM363.9 84.4h0.85v0.85h-0.85zM376.4 82.8h0.85v0.85h-0.85zM386.8 85.6h0.85v0.85h-0.85zM360.1 83.5h0.85v0.85h-0.85zM370.7 79.9h0.85v0.85h-0.85zM366.5 78.0h0.85v0.85h-0.85zM357.5 84.9h0.85v0.85h-0.85zM380.5 85.2h0.85v0.85h-0.85zM373.5 84.8h0.85v0.85h-0.85zM372.9 78.1h0.85v0.85h-0.85zM365.8 80.0h0.85v0.85h-0.85zM376.6 78.9h0.85v0.85h-0.85zM368.5 83.5h0.85v0.85h-0.85zM371.6 81.1h0.85v0.85h-0.85zM363.4 84.3h0.85v0.85h-0.85zM362.5 84.8h0.85v0.85h-0.85zM384.5 78.0h0.85v0.85h-0.85zM368.5 82.3h0.85v0.85h-0.85zM375.7 81.7h0.85v0.85h-0.85zM372.6 81.3h0.85v0.85h-0.85zM388.5 67.9h0.85v0.85h-0.85zM393.2 52.3h0.85v0.85h-0.85zM382.1 58.9h0.85v0.85h-0.85zM381.3 66.3h0.85v0.85h-0.85zM373.6 84.2h0.85v0.85h-0.85zM375.9 54.7h0.85v0.85h-0.85zM368.8 82.5h0.85v0.85h-0.85zM367.7 72.9h0.85v0.85h-0.85zM391.9 66.5h0.85v0.85h-0.85zM383.9 59.3h0.85v0.85h-0.85zM379.9 67.9h0.85v0.85h-0.85zM364.1 73.2h0.85v0.85h-0.85zM376.0 66.6h0.85v0.85h-0.85zM381.3 77.7h0.85v0.85h-0.85zM389.5 67.0h0.85v0.85h-0.85zM398.0 51.9h0.85v0.85h-0.85zM380.9 63.3h0.85v0.85h-0.85zM369.9 65.8h0.85v0.85h-0.85zM371.8 74.0h0.85v0.85h-0.85zM381.5 68.2h0.85v0.85h-0.85zM380.4 68.8h0.85v0.85h-0.85zM372.9 75.0h0.85v0.85h-0.85zM379.3 63.0h0.85v0.85h-0.85zM373.0 75.1h0.85v0.85h-0.85zM390.4 60.7h0.85v0.85h-0.85zM394.3 66.1h0.85v0.85h-0.85zM396.3 68.2h0.85v0.85h-0.85zM377.9 70.5h0.85v0.85h-0.85zM383.5 61.8h0.85v0.85h-0.85zM380.8 68.6h0.85v0.85h-0.85zM377.1 68.2h0.85v0.85h-0.85zM377.0 67.3h0.85v0.85h-0.85zM371.9 76.1h0.85v0.85h-0.85zM367.6 73.3h0.85v0.85h-0.85zM390.0 65.2h0.85v0.85h-0.85zM380.2 68.8h0.85v0.85h-0.85zM384.5 67.6h0.85v0.85h-0.85zM389.1 60.9h0.85v0.85h-0.85zM366.4 76.4h0.85v0.85h-0.85zM372.9 69.4h0.85v0.85h-0.85zM382.6 66.0h0.85v0.85h-0.85zM383.2 63.4h0.85v0.85h-0.85zM379.9 71.3h0.85v0.85h-0.85zM389.9 61.4h0.85v0.85h-0.85zM379.2 61.4h0.85v0.85h-0.85zM372.9 76.1h0.85v0.85h-0.85zM370.6 68.8h0.85v0.85h-0.85zM386.2 60.5h0.85v0.85h-0.85zM384.6 63.9h0.85v0.85h-0.85zM360.8 72.3h0.85v0.85h-0.85zM392.6 59.7h0.85v0.85h-0.85zM387.1 64.7h0.85v0.85h-0.85zM391.8 58.8h0.85v0.85h-0.85zM377.7 68.8h0.85v0.85h-0.85zM378.5 68.5h0.85v0.85h-0.85zM370.2 71.5h0.85v0.85h-0.85zM400.6 50.7h0.85v0.85h-0.85zM378.9 67.0h0.85v0.85h-0.85zM394.5 58.1h0.85v0.85h-0.85zM373.2 67.5h0.85v0.85h-0.85zM384.0 67.8h0.85v0.85h-0.85zM369.7 79.3h0.85v0.85h-0.85zM378.6 69.9h0.85v0.85h-0.85zM388.1 60.0h0.85v0.85h-0.85zM374.2 78.2h0.85v0.85h-0.85zM384.9 54.7h0.85v0.85h-0.85zM386.1 67.6h0.85v0.85h-0.85zM374.8 75.6h0.85v0.85h-0.85zM379.1 72.3h0.85v0.85h-0.85zM379.7 72.4h0.85v0.85h-0.85zM379.5 65.8h0.85v0.85h-0.85zM377.1 70.5h0.85v0.85h-0.85zM377.7 75.8h0.85v0.85h-0.85zM381.1 71.6h0.85v0.85h-0.85zM374.8 75.4h0.85v0.85h-0.85zM367.3 70.5h0.85v0.85h-0.85zM383.4 70.4h0.85v0.85h-0.85zM392.5 66.8h0.85v0.85h-0.85zM373.5 81.7h0.85v0.85h-0.85zM382.8 68.9h0.85v0.85h-0.85zM372.0 66.2h0.85v0.85h-0.85zM377.5 77.9h0.85v0.85h-0.85zM388.1 62.0h0.85v0.85h-0.85zM369.9 61.6h0.85v0.85h-0.85zM394.7 59.8h0.85v0.85h-0.85zM371.2 67.3h0.85v0.85h-0.85zM380.8 60.5h0.85v0.85h-0.85zM378.2 67.0h0.85v0.85h-0.85zM380.3 77.7h0.85v0.85h-0.85zM385.3 62.8h0.85v0.85h-0.85zM381.7 70.0h0.85v0.85h-0.85zM392.2 70.8h0.85v0.85h-0.85zM386.8 74.4h0.85v0.85h-0.85zM373.3 74.6h0.85v0.85h-0.85zM380.4 67.7h0.85v0.85h-0.85zM378.3 62.8h0.85v0.85h-0.85zM387.1 59.2h0.85v0.85h-0.85zM376.4 75.5h0.85v0.85h-0.85zM383.0 69.8h0.85v0.85h-0.85zM369.2 79.5h0.85v0.85h-0.85zM390.2 67.6h0.85v0.85h-0.85zM371.2 72.0h0.85v0.85h-0.85zM368.0 79.4h0.85v0.85h-0.85zM383.9 71.2h0.85v0.85h-0.85zM392.3 63.1h0.85v0.85h-0.85zM373.8 81.9h0.85v0.85h-0.85zM374.9 76.5h0.85v0.85h-0.85zM375.3 71.6h0.85v0.85h-0.85zM374.5 76.6h0.85v0.85h-0.85zM381.7 61.7h0.85v0.85h-0.85zM370.5 66.9h0.85v0.85h-0.85zM378.3 74.9h0.85v0.85h-0.85zM386.3 64.0h0.85v0.85h-0.85zM377.2 74.0h0.85v0.85h-0.85zM379.9 58.7h0.85v0.85h-0.85zM373.4 72.8h0.85v0.85h-0.85zM370.8 73.5h0.85v0.85h-0.85zM365.2 76.5h0.85v0.85h-0.85zM389.0 47.4h0.85v0.85h-0.85zM378.5 68.8h0.85v0.85h-0.85zM386.8 69.9h0.85v0.85h-0.85zM383.0 69.7h0.85v0.85h-0.85zM381.3 64.7h0.85v0.85h-0.85zM382.3 67.6h0.85v0.85h-0.85zM399.1 58.6h0.85v0.85h-0.85zM365.2 64.1h0.85v0.85h-0.85zM369.7 77.5h0.85v0.85h-0.85zM376.0 76.6h0.85v0.85h-0.85zM374.0 79.2h0.85v0.85h-0.85zM393.2 69.7h0.85v0.85h-0.85zM391.6 67.0h0.85v0.85h-0.85zM381.8 59.3h0.85v0.85h-0.85zM381.6 66.0h0.85v0.85h-0.85zM387.4 54.9h0.85v0.85h-0.85zM371.5 59.1h0.85v0.85h-0.85zM377.5 53.8h0.85v0.85h-0.85zM388.9 71.1h0.85v0.85h-0.85zM401.5 61.8h0.85v0.85h-0.85zM376.1 56.1h0.85v0.85h-0.85zM377.4 59.2h0.85v0.85h-0.85zM380.4 60.2h0.85v0.85h-0.85zM394.1 67.6h0.85v0.85h-0.85zM377.6 49.2h0.85v0.85h-0.85zM395.6 53.7h0.85v0.85h-0.85zM366.4 59.0h0.85v0.85h-0.85zM375.8 82.3h0.85v0.85h-0.85zM375.6 69.6h0.85v0.85h-0.85zM387.4 61.1h0.85v0.85h-0.85zM390.5 67.7h0.85v0.85h-0.85zM359.9 78.5h0.85v0.85h-0.85zM367.0 60.1h0.85v0.85h-0.85zM382.0 59.1h0.85v0.85h-0.85zM370.1 71.7h0.85v0.85h-0.85zM359.7 66.0h0.85v0.85h-0.85zM390.5 67.4h0.85v0.85h-0.85zM383.9 57.9h0.85v0.85h-0.85zM383.9 77.4h0.85v0.85h-0.85zM372.3 75.7h0.85v0.85h-0.85zM390.3 66.5h0.85v0.85h-0.85zM375.1 67.5h0.85v0.85h-0.85zM391.2 45.8h0.85v0.85h-0.85zM367.1 67.1h0.85v0.85h-0.85zM367.8 60.4h0.85v0.85h-0.85zM380.5 65.5h0.85v0.85h-0.85zM369.6 67.5h0.85v0.85h-0.85zM386.1 59.3h0.85v0.85h-0.85zM381.1 48.5h0.85v0.85h-0.85zM366.9 64.9h0.85v0.85h-0.85zM378.9 56.1h0.85v0.85h-0.85zM373.8 59.4h0.85v0.85h-0.85zM389.0 57.2h0.85v0.85h-0.85zM370.4 59.3h0.85v0.85h-0.85zM372.7 43.5h0.85v0.85h-0.85zM392.5 71.7h0.85v0.85h-0.85zM404.9 64.0h0.85v0.85h-0.85zM402.0 70.9h0.85v0.85h-0.85zM378.8 77.8h0.85v0.85h-0.85zM380.6 62.2h0.85v0.85h-0.85zM396.4 47.6h0.85v0.85h-0.85zM376.5 54.8h0.85v0.85h-0.85zM366.3 52.3h0.85v0.85h-0.85zM379.4 58.0h0.85v0.85h-0.85zM383.4 62.6h0.85v0.85h-0.85zM368.1 46.0h0.85v0.85h-0.85zM358.2 64.7h0.85v0.85h-0.85zM360.8 49.9h0.85v0.85h-0.85zM386.0 64.4h0.85v0.85h-0.85zM368.9 61.1h0.85v0.85h-0.85zM376.3 59.5h0.85v0.85h-0.85zM380.6 61.4h0.85v0.85h-0.85zM399.0 54.5h0.85v0.85h-0.85zM399.8 57.5h0.85v0.85h-0.85zM395.5 58.2h0.85v0.85h-0.85zM399.7 50.5h0.85v0.85h-0.85zM407.6 50.3h0.85v0.85h-0.85zM407.6 48.6h0.85v0.85h-0.85zM405.1 49.4h0.85v0.85h-0.85zM404.0 53.8h0.85v0.85h-0.85zM396.3 48.7h0.85v0.85h-0.85zM406.4 51.6h0.85v0.85h-0.85zM399.7 51.0h0.85v0.85h-0.85zM401.0 54.5h0.85v0.85h-0.85zM399.1 51.9h0.85v0.85h-0.85zM399.7 49.2h0.85v0.85h-0.85zM398.6 52.3h0.85v0.85h-0.85zM400.3 52.9h0.85v0.85h-0.85zM396.0 52.6h0.85v0.85h-0.85zM399.0 52.7h0.85v0.85h-0.85zM408.1 46.6h0.85v0.85h-0.85zM397.8 45.9h0.85v0.85h-0.85zM399.9 53.5h0.85v0.85h-0.85zM402.6 52.0h0.85v0.85h-0.85zM402.8 50.4h0.85v0.85h-0.85zM395.9 52.7h0.85v0.85h-0.85zM400.1 53.8h0.85v0.85h-0.85zM403.0 48.6h0.85v0.85h-0.85zM400.4 48.9h0.85v0.85h-0.85zM400.3 50.4h0.85v0.85h-0.85zM406.9 51.8h0.85v0.85h-0.85zM396.2 48.5h0.85v0.85h-0.85zM401.4 53.8h0.85v0.85h-0.85zM397.5 50.1h0.85v0.85h-0.85zM404.6 46.3h0.85v0.85h-0.85zM393.8 56.7h0.85v0.85h-0.85zM397.4 51.7h0.85v0.85h-0.85zM396.9 48.5h0.85v0.85h-0.85zM402.2 49.2h0.85v0.85h-0.85zM403.1 52.4h0.85v0.85h-0.85zM406.3 52.0h0.85v0.85h-0.85zM393.7 52.1h0.85v0.85h-0.85zM403.2 51.0h0.85v0.85h-0.85zM399.5 53.1h0.85v0.85h-0.85zM396.9 50.3h0.85v0.85h-0.85zM402.3 51.1h0.85v0.85h-0.85zM396.5 52.2h0.85v0.85h-0.85zM391.7 52.5h0.85v0.85h-0.85zM398.2 50.3h0.85v0.85h-0.85zM394.4 53.2h0.85v0.85h-0.85zM397.6 52.0h0.85v0.85h-0.85zM400.9 49.1h0.85v0.85h-0.85zM400.8 49.5h0.85v0.85h-0.85zM407.0 51.5h0.85v0.85h-0.85zM399.4 51.8h0.85v0.85h-0.85zM395.0 55.3h0.85v0.85h-0.85zM398.2 55.0h0.85v0.85h-0.85zM397.1 53.7h0.85v0.85h-0.85zM397.4 58.2h0.85v0.85h-0.85zM400.9 48.4h0.85v0.85h-0.85zM398.3 53.9h0.85v0.85h-0.85zM392.3 52.9h0.85v0.85h-0.85zM404.3 54.6h0.85v0.85h-0.85zM401.1 55.3h0.85v0.85h-0.85zM399.6 45.7h0.85v0.85h-0.85zM399.5 48.5h0.85v0.85h-0.85zM403.0 51.8h0.85v0.85h-0.85zM400.8 52.9h0.85v0.85h-0.85zM405.3 51.1h0.85v0.85h-0.85zM401.5 50.2h0.85v0.85h-0.85zM401.9 51.6h0.85v0.85h-0.85zM402.1 52.0h0.85v0.85h-0.85zM394.5 52.8h0.85v0.85h-0.85zM400.3 53.7h0.85v0.85h-0.85zM397.0 45.8h0.85v0.85h-0.85zM401.3 52.3h0.85v0.85h-0.85zM394.0 50.3h0.85v0.85h-0.85zM407.0 51.1h0.85v0.85h-0.85zM400.2 50.3h0.85v0.85h-0.85zM394.7 50.5h0.85v0.85h-0.85zM393.9 54.3h0.85v0.85h-0.85zM398.1 49.2h0.85v0.85h-0.85zM398.9 48.9h0.85v0.85h-0.85zM395.9 48.2h0.85v0.85h-0.85zM400.3 50.8h0.85v0.85h-0.85zM398.0 53.1h0.85v0.85h-0.85zM403.0 52.7h0.85v0.85h-0.85zM397.2 51.6h0.85v0.85h-0.85zM400.8 53.6h0.85v0.85h-0.85zM403.7 49.7h0.85v0.85h-0.85zM409.6 47.3h0.85v0.85h-0.85zM396.7 53.8h0.85v0.85h-0.85zM399.2 54.2h0.85v0.85h-0.85zM396.5 51.3h0.85v0.85h-0.85zM402.7 49.3h0.85v0.85h-0.85zM395.5 52.2h0.85v0.85h-0.85zM398.3 51.9h0.85v0.85h-0.85zM399.1 48.8h0.85v0.85h-0.85zM397.2 54.9h0.85v0.85h-0.85zM396.0 51.3h0.85v0.85h-0.85zM398.6 52.8h0.85v0.85h-0.85zM391.4 51.9h0.85v0.85h-0.85zM394.9 53.9h0.85v0.85h-0.85zM398.8 52.5h0.85v0.85h-0.85zM400.2 49.8h0.85v0.85h-0.85zM401.1 56.2h0.85v0.85h-0.85zM393.7 54.3h0.85v0.85h-0.85zM399.8 56.0h0.85v0.85h-0.85zM403.9 52.3h0.85v0.85h-0.85zM401.5 48.6h0.85v0.85h-0.85zM399.4 50.2h0.85v0.85h-0.85zM397.1 53.3h0.85v0.85h-0.85zM402.4 50.3h0.85v0.85h-0.85zM397.9 51.9h0.85v0.85h-0.85zM395.4 51.9h0.85v0.85h-0.85zM395.4 47.7h0.85v0.85h-0.85zM405.2 48.5h0.85v0.85h-0.85zM398.9 45.3h0.85v0.85h-0.85zM404.7 50.3h0.85v0.85h-0.85zM397.6 49.9h0.85v0.85h-0.85zM402.9 48.0h0.85v0.85h-0.85zM397.5 51.3h0.85v0.85h-0.85zM399.7 51.9h0.85v0.85h-0.85zM408.1 44.1h0.85v0.85h-0.85zM401.3 45.7h0.85v0.85h-0.85zM397.2 49.1h0.85v0.85h-0.85zM397.9 46.1h0.85v0.85h-0.85zM400.4 48.2h0.85v0.85h-0.85zM406.0 53.2h0.85v0.85h-0.85zM397.2 49.1h0.85v0.85h-0.85zM394.0 55.0h0.85v0.85h-0.85zM397.7 48.0h0.85v0.85h-0.85zM400.3 51.7h0.85v0.85h-0.85zM400.1 50.1h0.85v0.85h-0.85zM404.9 49.1h0.85v0.85h-0.85zM401.7 52.0h0.85v0.85h-0.85zM404.6 54.2h0.85v0.85h-0.85zM396.0 53.0h0.85v0.85h-0.85zM403.4 50.1h0.85v0.85h-0.85zM407.0 45.8h0.85v0.85h-0.85zM403.4 51.4h0.85v0.85h-0.85zM400.7 50.1h0.85v0.85h-0.85zM401.3 52.8h0.85v0.85h-0.85zM406.7 48.4h0.85v0.85h-0.85zM398.1 56.5h0.85v0.85h-0.85zM397.8 46.3h0.85v0.85h-0.85zM401.5 49.6h0.85v0.85h-0.85zM403.6 52.1h0.85v0.85h-0.85zM398.0 50.7h0.85v0.85h-0.85zM400.5 48.6h0.85v0.85h-0.85zM398.7 50.7h0.85v0.85h-0.85zM399.2 47.5h0.85v0.85h-0.85zM399.6 51.5h0.85v0.85h-0.85zM397.9 58.5h0.85v0.85h-0.85zM400.9 53.8h0.85v0.85h-0.85zM402.3 47.1h0.85v0.85h-0.85zM395.6 50.2h0.85v0.85h-0.85zM398.7 50.3h0.85v0.85h-0.85zM403.4 52.5h0.85v0.85h-0.85zM395.2 50.5h0.85v0.85h-0.85zM400.1 49.1h0.85v0.85h-0.85zM396.8 54.6h0.85v0.85h-0.85zM401.6 66.1h0.85v0.85h-0.85zM396.4 62.5h0.85v0.85h-0.85zM393.3 60.9h0.85v0.85h-0.85zM391.5 67.5h0.85v0.85h-0.85zM395.1 65.4h0.85v0.85h-0.85zM388.6 64.1h0.85v0.85h-0.85zM401.1 66.1h0.85v0.85h-0.85zM395.4 66.5h0.85v0.85h-0.85zM400.0 64.5h0.85v0.85h-0.85zM405.8 56.6h0.85v0.85h-0.85zM402.9 61.6h0.85v0.85h-0.85zM393.2 62.2h0.85v0.85h-0.85zM401.7 60.7h0.85v0.85h-0.85zM402.9 64.1h0.85v0.85h-0.85zM394.9 66.8h0.85v0.85h-0.85zM394.0 62.1h0.85v0.85h-0.85zM397.5 60.3h0.85v0.85h-0.85zM391.3 69.2h0.85v0.85h-0.85zM404.2 62.2h0.85v0.85h-0.85zM387.9 60.0h0.85v0.85h-0.85zM393.4 64.2h0.85v0.85h-0.85zM396.9 64.7h0.85v0.85h-0.85zM397.0 61.5h0.85v0.85h-0.85zM398.7 65.7h0.85v0.85h-0.85zM399.1 62.1h0.85v0.85h-0.85zM397.1 60.9h0.85v0.85h-0.85zM402.8 64.0h0.85v0.85h-0.85zM389.0 65.7h0.85v0.85h-0.85zM398.0 61.7h0.85v0.85h-0.85zM395.0 64.4h0.85v0.85h-0.85zM398.6 63.2h0.85v0.85h-0.85zM398.9 71.4h0.85v0.85h-0.85zM394.2 61.5h0.85v0.85h-0.85zM395.3 67.4h0.85v0.85h-0.85zM401.3 63.4h0.85v0.85h-0.85zM399.5 63.1h0.85v0.85h-0.85zM395.1 65.5h0.85v0.85h-0.85zM406.6 66.0h0.85v0.85h-0.85zM407.7 67.0h0.85v0.85h-0.85zM391.9 64.4h0.85v0.85h-0.85zM399.3 61.8h0.85v0.85h-0.85zM408.5 62.0h0.85v0.85h-0.85zM401.3 64.9h0.85v0.85h-0.85zM398.9 65.1h0.85v0.85h-0.85zM397.1 67.4h0.85v0.85h-0.85zM395.7 64.7h0.85v0.85h-0.85zM397.1 66.5h0.85v0.85h-0.85zM395.7 67.7h0.85v0.85h-0.85zM401.1 64.0h0.85v0.85h-0.85zM396.3 59.3h0.85v0.85h-0.85zM396.1 60.2h0.85v0.85h-0.85zM393.0 59.5h0.85v0.85h-0.85zM397.8 68.0h0.85v0.85h-0.85zM394.2 61.1h0.85v0.85h-0.85zM397.2 66.9h0.85v0.85h-0.85zM402.4 65.1h0.85v0.85h-0.85zM399.5 68.3h0.85v0.85h-0.85zM400.1 66.3h0.85v0.85h-0.85zM399.5 63.2h0.85v0.85h-0.85zM398.2 62.9h0.85v0.85h-0.85zM397.5 63.7h0.85v0.85h-0.85zM396.7 64.0h0.85v0.85h-0.85zM401.2 62.0h0.85v0.85h-0.85zM393.4 63.4h0.85v0.85h-0.85zM403.6 68.0h0.85v0.85h-0.85zM398.1 58.7h0.85v0.85h-0.85zM394.9 64.2h0.85v0.85h-0.85zM395.9 61.0h0.85v0.85h-0.85zM395.2 64.0h0.85v0.85h-0.85zM398.7 65.9h0.85v0.85h-0.85zM395.0 63.3h0.85v0.85h-0.85zM402.8 65.7h0.85v0.85h-0.85zM394.7 59.0h0.85v0.85h-0.85zM388.5 66.6h0.85v0.85h-0.85zM394.9 61.8h0.85v0.85h-0.85zM389.6 65.2h0.85v0.85h-0.85zM397.8 64.0h0.85v0.85h-0.85zM402.4 56.3h0.85v0.85h-0.85zM400.7 61.4h0.85v0.85h-0.85zM392.4 64.1h0.85v0.85h-0.85zM394.8 67.9h0.85v0.85h-0.85zM405.5 64.3h0.85v0.85h-0.85zM399.3 64.2h0.85v0.85h-0.85zM398.0 59.5h0.85v0.85h-0.85zM402.4 67.5h0.85v0.85h-0.85zM408.3 68.6h0.85v0.85h-0.85zM403.4 63.6h0.85v0.85h-0.85zM398.6 62.9h0.85v0.85h-0.85zM399.5 59.0h0.85v0.85h-0.85zM400.6 66.0h0.85v0.85h-0.85zM395.4 71.1h0.85v0.85h-0.85zM393.6 65.5h0.85v0.85h-0.85zM398.2 67.0h0.85v0.85h-0.85zM394.0 65.0h0.85v0.85h-0.85zM397.7 60.7h0.85v0.85h-0.85zM398.4 67.2h0.85v0.85h-0.85zM407.8 60.0h0.85v0.85h-0.85zM394.4 62.9h0.85v0.85h-0.85zM397.5 64.3h0.85v0.85h-0.85zM397.3 66.0h0.85v0.85h-0.85zM399.8 64.7h0.85v0.85h-0.85zM402.4 64.6h0.85v0.85h-0.85zM395.9 61.4h0.85v0.85h-0.85zM394.6 59.9h0.85v0.85h-0.85zM391.1 63.7h0.85v0.85h-0.85zM394.1 61.5h0.85v0.85h-0.85zM400.3 59.8h0.85v0.85h-0.85zM398.2 60.0h0.85v0.85h-0.85zM393.7 62.1h0.85v0.85h-0.85zM396.4 58.3h0.85v0.85h-0.85zM398.1 59.7h0.85v0.85h-0.85zM400.1 58.9h0.85v0.85h-0.85zM395.5 64.0h0.85v0.85h-0.85zM396.9 64.6h0.85v0.85h-0.85zM390.4 69.1h0.85v0.85h-0.85zM393.2 59.3h0.85v0.85h-0.85zM404.8 61.6h0.85v0.85h-0.85zM388.8 66.1h0.85v0.85h-0.85zM396.6 62.9h0.85v0.85h-0.85zM398.9 62.6h0.85v0.85h-0.85zM396.4 68.3h0.85v0.85h-0.85zM394.6 62.6h0.85v0.85h-0.85zM397.7 60.3h0.85v0.85h-0.85zM398.0 59.8h0.85v0.85h-0.85zM397.7 64.4h0.85v0.85h-0.85zM390.1 64.4h0.85v0.85h-0.85zM397.4 59.7h0.85v0.85h-0.85zM394.4 60.7h0.85v0.85h-0.85zM395.7 65.0h0.85v0.85h-0.85zM399.0 65.1h0.85v0.85h-0.85zM400.7 61.7h0.85v0.85h-0.85zM401.8 65.2h0.85v0.85h-0.85zM395.9 65.1h0.85v0.85h-0.85zM401.9 58.5h0.85v0.85h-0.85zM402.9 62.6h0.85v0.85h-0.85zM402.8 64.7h0.85v0.85h-0.85zM403.8 61.9h0.85v0.85h-0.85zM397.4 57.5h0.85v0.85h-0.85zM397.3 62.7h0.85v0.85h-0.85zM401.5 65.6h0.85v0.85h-0.85zM392.3 67.9h0.85v0.85h-0.85zM398.9 57.4h0.85v0.85h-0.85zM395.8 70.8h0.85v0.85h-0.85zM396.5 60.3h0.85v0.85h-0.85zM390.7 66.2h0.85v0.85h-0.85zM394.3 67.0h0.85v0.85h-0.85zM397.9 66.3h0.85v0.85h-0.85zM401.7 63.9h0.85v0.85h-0.85zM402.2 60.2h0.85v0.85h-0.85zM397.7 65.3h0.85v0.85h-0.85zM397.2 61.5h0.85v0.85h-0.85zM394.5 56.4h0.85v0.85h-0.85zM399.7 71.4h0.85v0.85h-0.85zM397.0 65.5h0.85v0.85h-0.85zM400.5 68.6h0.85v0.85h-0.85zM405.4 60.9h0.85v0.85h-0.85zM397.9 67.6h0.85v0.85h-0.85zM391.7 68.0h0.85v0.85h-0.85zM394.4 67.9h0.85v0.85h-0.85zM391.9 63.4h0.85v0.85h-0.85zM393.0 60.1h0.85v0.85h-0.85zM403.5 63.0h0.85v0.85h-0.85zM399.0 57.3h0.85v0.85h-0.85zM391.6 58.7h0.85v0.85h-0.85zM400.7 63.8h0.85v0.85h-0.85zM403.3 60.7h0.85v0.85h-0.85zM396.5 63.0h0.85v0.85h-0.85zM395.2 63.2h0.85v0.85h-0.85zM396.6 68.9h0.85v0.85h-0.85zM399.2 67.1h0.85v0.85h-0.85zM400.7 63.4h0.85v0.85h-0.85zM403.0 66.9h0.85v0.85h-0.85zM403.1 61.3h0.85v0.85h-0.85zM403.0 62.6h0.85v0.85h-0.85zM403.7 66.0h0.85v0.85h-0.85zM400.8 60.0h0.85v0.85h-0.85zM391.6 62.7h0.85v0.85h-0.85zM397.4 59.8h0.85v0.85h-0.85zM399.3 63.8h0.85v0.85h-0.85zM396.4 68.1h0.85v0.85h-0.85zM395.4 62.3h0.85v0.85h-0.85zM398.8 85.2h0.85v0.85h-0.85zM394.9 76.1h0.85v0.85h-0.85zM394.0 86.3h0.85v0.85h-0.85zM393.7 78.4h0.85v0.85h-0.85zM403.1 83.9h0.85v0.85h-0.85zM406.3 70.0h0.85v0.85h-0.85zM399.7 77.7h0.85v0.85h-0.85zM395.5 93.6h0.85v0.85h-0.85zM400.5 62.2h0.85v0.85h-0.85zM396.8 81.4h0.85v0.85h-0.85zM400.8 85.6h0.85v0.85h-0.85zM399.0 75.4h0.85v0.85h-0.85zM399.0 78.1h0.85v0.85h-0.85zM400.1 82.2h0.85v0.85h-0.85zM396.0 66.6h0.85v0.85h-0.85zM396.6 75.3h0.85v0.85h-0.85zM392.0 64.9h0.85v0.85h-0.85zM396.5 66.5h0.85v0.85h-0.85zM393.0 66.9h0.85v0.85h-0.85zM397.5 70.8h0.85v0.85h-0.85zM394.6 73.2h0.85v0.85h-0.85zM398.4 75.7h0.85v0.85h-0.85zM399.6 60.4h0.85v0.85h-0.85zM393.0 88.2h0.85v0.85h-0.85zM395.2 81.5h0.85v0.85h-0.85zM394.7 77.9h0.85v0.85h-0.85zM400.6 69.1h0.85v0.85h-0.85zM404.0 71.3h0.85v0.85h-0.85zM401.0 76.5h0.85v0.85h-0.85zM396.8 75.4h0.85v0.85h-0.85zM403.1 58.2h0.85v0.85h-0.85zM392.7 78.1h0.85v0.85h-0.85zM395.7 56.9h0.85v0.85h-0.85zM388.3 80.2h0.85v0.85h-0.85zM407.3 75.0h0.85v0.85h-0.85zM403.5 71.1h0.85v0.85h-0.85zM394.4 83.3h0.85v0.85h-0.85zM398.6 62.3h0.85v0.85h-0.85zM397.2 73.3h0.85v0.85h-0.85zM398.4 84.0h0.85v0.85h-0.85zM392.8 70.4h0.85v0.85h-0.85zM395.6 68.6h0.85v0.85h-0.85zM399.6 72.9h0.85v0.85h-0.85zM398.8 68.3h0.85v0.85h-0.85zM402.2 84.7h0.85v0.85h-0.85zM398.3 64.5h0.85v0.85h-0.85zM406.2 79.2h0.85v0.85h-0.85zM395.5 61.7h0.85v0.85h-0.85zM398.9 77.5h0.85v0.85h-0.85zM391.3 71.1h0.85v0.85h-0.85zM393.6 50.8h0.85v0.85h-0.85zM402.6 72.0h0.85v0.85h-0.85zM394.7 63.2h0.85v0.85h-0.85zM399.9 68.3h0.85v0.85h-0.85zM397.8 84.7h0.85v0.85h-0.85zM394.3 62.8h0.85v0.85h-0.85zM396.8 63.3h0.85v0.85h-0.85zM396.2 83.8h0.85v0.85h-0.85zM396.3 73.0h0.85v0.85h-0.85zM400.6 84.7h0.85v0.85h-0.85zM400.3 74.7h0.85v0.85h-0.85zM396.0 64.7h0.85v0.85h-0.85zM394.8 71.5h0.85v0.85h-0.85zM399.0 82.1h0.85v0.85h-0.85zM397.6 79.7h0.85v0.85h-0.85zM401.6 72.0h0.85v0.85h-0.85zM407.3 72.4h0.85v0.85h-0.85zM401.0 71.1h0.85v0.85h-0.85zM397.9 67.2h0.85v0.85h-0.85zM397.4 87.9h0.85v0.85h-0.85zM395.0 72.1h0.85v0.85h-0.85zM394.8 62.7h0.85v0.85h-0.85zM394.5 68.1h0.85v0.85h-0.85zM396.6 78.0h0.85v0.85h-0.85zM396.5 77.3h0.85v0.85h-0.85zM400.6 70.9h0.85v0.85h-0.85zM396.6 66.5h0.85v0.85h-0.85zM397.3 72.2h0.85v0.85h-0.85z" fill="#2f4fff" fill-opacity="0.5"/>
<g transform="translate(400.00 51.30) rotate(-20)" filter="url(#bl1)" opacity="0.55"><ellipse cx="0.00" cy="0" rx="4.68" ry="3.12" fill="#8a9aff" fill-opacity="0.45"/><ellipse cx="0.00" cy="0" rx="3.60" ry="2.40" fill="#3050ff" fill-opacity="0.85"/></g>
<g transform="translate(398.00 63.30) rotate(0)" filter="url(#bl1)" opacity="0.55"><ellipse cx="0.00" cy="0" rx="5.20" ry="3.25" fill="#8a9aff" fill-opacity="0.45"/><ellipse cx="0.00" cy="0" rx="4.00" ry="2.50" fill="#3050ff" fill-opacity="0.85"/></g>
<g transform="translate(372.60 81.60) rotate(-13)" filter="url(#bl07)" opacity="1.0"><ellipse cx="3.74" cy="0" rx="17.68" ry="7.28" fill="#8a9aff" fill-opacity="0.45"/><ellipse cx="2.72" cy="0" rx="13.60" ry="5.60" fill="#3050ff" fill-opacity="0.85"/><ellipse cx="2.24" cy="0" rx="11.70" ry="4.82" fill="#1438ff" fill-opacity="0.9"/><ellipse cx="1.84" cy="0" rx="10.06" ry="4.14" fill="#00b4f4" fill-opacity="1"/><ellipse cx="1.43" cy="0" rx="8.43" ry="3.47" fill="#2ad22a" fill-opacity="1"/><ellipse cx="0.48" cy="0" rx="4.62" ry="1.90" fill="#e6e000" fill-opacity="1"/><ellipse cx="-0.03" cy="0" rx="2.58" ry="1.06" fill="#ff4800" fill-opacity="1"/></g>
<rect x="390.20" y="40.40" width="21.30" height="47.00" fill="none" stroke="#3a3a3a" stroke-width="0.9"/>
<line x1="390.20" y1="56.30" x2="411.50" y2="56.30" stroke="#222" stroke-width="1.0"/>
<text x="357.00" y="37.90" font-size="6.8" text-anchor="start" fill="#000" stroke="#000" stroke-width="0.12">CTL</text>
<text x="410.20" y="45.60" font-size="5.7" text-anchor="end" fill="#000">3.3</text>
<text x="410.20" y="86.00" font-size="5.7" text-anchor="end" fill="#000">5.0</text>
<rect x="423.90" y="30.30" width="63.70" height="64.60" fill="none" stroke="#b0b0b0" stroke-width="0.8"/>
<line x1="422.20" y1="35.30" x2="423.90" y2="35.30" stroke="#555" stroke-width="0.7"/>
<line x1="422.20" y1="42.12" x2="423.90" y2="42.12" stroke="#555" stroke-width="0.7"/>
<line x1="422.20" y1="48.95" x2="423.90" y2="48.95" stroke="#555" stroke-width="0.7"/>
<line x1="422.20" y1="55.77" x2="423.90" y2="55.77" stroke="#555" stroke-width="0.7"/>
<line x1="422.20" y1="62.60" x2="423.90" y2="62.60" stroke="#555" stroke-width="0.7"/>
<line x1="422.20" y1="69.43" x2="423.90" y2="69.43" stroke="#555" stroke-width="0.7"/>
<line x1="422.20" y1="76.25" x2="423.90" y2="76.25" stroke="#555" stroke-width="0.7"/>
<line x1="422.20" y1="83.08" x2="423.90" y2="83.08" stroke="#555" stroke-width="0.7"/>
<line x1="422.20" y1="89.90" x2="423.90" y2="89.90" stroke="#555" stroke-width="0.7"/>
<line x1="427.90" y1="94.90" x2="427.90" y2="96.30" stroke="#777" stroke-width="0.6"/>
<line x1="431.61" y1="94.90" x2="431.61" y2="96.30" stroke="#777" stroke-width="0.6"/>
<line x1="435.33" y1="94.90" x2="435.33" y2="96.30" stroke="#777" stroke-width="0.6"/>
<line x1="439.04" y1="94.90" x2="439.04" y2="96.30" stroke="#777" stroke-width="0.6"/>
<line x1="442.75" y1="94.90" x2="442.75" y2="96.30" stroke="#777" stroke-width="0.6"/>
<line x1="446.47" y1="94.90" x2="446.47" y2="96.30" stroke="#777" stroke-width="0.6"/>
<line x1="450.18" y1="94.90" x2="450.18" y2="96.30" stroke="#777" stroke-width="0.6"/>
<line x1="453.89" y1="94.90" x2="453.89" y2="96.30" stroke="#777" stroke-width="0.6"/>
<line x1="457.61" y1="94.90" x2="457.61" y2="96.30" stroke="#777" stroke-width="0.6"/>
<line x1="461.32" y1="94.90" x2="461.32" y2="96.30" stroke="#777" stroke-width="0.6"/>
<line x1="465.03" y1="94.90" x2="465.03" y2="96.30" stroke="#777" stroke-width="0.6"/>
<line x1="468.75" y1="94.90" x2="468.75" y2="96.30" stroke="#777" stroke-width="0.6"/>
<line x1="472.46" y1="94.90" x2="472.46" y2="96.30" stroke="#777" stroke-width="0.6"/>
<line x1="476.17" y1="94.90" x2="476.17" y2="96.30" stroke="#777" stroke-width="0.6"/>
<line x1="479.89" y1="94.90" x2="479.89" y2="96.30" stroke="#777" stroke-width="0.6"/>
<line x1="483.60" y1="94.90" x2="483.60" y2="96.30" stroke="#777" stroke-width="0.6"/>
<rect x="422.40" y="81.90" width="1.50" height="1.60" fill="#222"/>
<rect x="435.90" y="94.70" width="2.20" height="1.60" fill="#222"/>
<path d="M426.6 81.3h0.85v0.85h-0.85zM448.2 85.2h0.85v0.85h-0.85zM435.1 78.4h0.85v0.85h-0.85zM443.9 84.7h0.85v0.85h-0.85zM452.5 82.4h0.85v0.85h-0.85zM446.7 85.0h0.85v0.85h-0.85zM440.2 80.7h0.85v0.85h-0.85zM461.9 81.5h0.85v0.85h-0.85zM446.9 88.6h0.85v0.85h-0.85zM436.4 80.9h0.85v0.85h-0.85zM447.5 81.2h0.85v0.85h-0.85zM444.2 82.3h0.85v0.85h-0.85zM431.2 80.4h0.85v0.85h-0.85zM440.8 86.0h0.85v0.85h-0.85zM438.3 87.3h0.85v0.85h-0.85zM438.2 78.7h0.85v0.85h-0.85zM437.1 85.9h0.85v0.85h-0.85zM435.5 85.8h0.85v0.85h-0.85zM436.4 85.9h0.85v0.85h-0.85zM439.6 80.8h0.85v0.85h-0.85zM441.0 82.6h0.85v0.85h-0.85zM428.3 79.5h0.85v0.85h-0.85zM446.5 79.5h0.85v0.85h-0.85zM427.5 85.5h0.85v0.85h-0.85zM437.7 81.3h0.85v0.85h-0.85zM453.4 88.7h0.85v0.85h-0.85zM432.9 83.2h0.85v0.85h-0.85zM434.7 81.4h0.85v0.85h-0.85zM451.0 85.0h0.85v0.85h-0.85zM436.1 87.5h0.85v0.85h-0.85zM436.9 84.2h0.85v0.85h-0.85zM442.3 80.0h0.85v0.85h-0.85zM450.8 83.9h0.85v0.85h-0.85zM431.5 81.8h0.85v0.85h-0.85zM429.7 81.1h0.85v0.85h-0.85zM428.9 85.5h0.85v0.85h-0.85zM431.2 83.3h0.85v0.85h-0.85zM431.4 80.2h0.85v0.85h-0.85zM443.1 82.1h0.85v0.85h-0.85zM430.9 81.1h0.85v0.85h-0.85zM441.3 83.7h0.85v0.85h-0.85zM444.1 83.3h0.85v0.85h-0.85zM432.5 85.9h0.85v0.85h-0.85zM441.3 84.8h0.85v0.85h-0.85zM456.8 79.1h0.85v0.85h-0.85zM443.3 84.0h0.85v0.85h-0.85zM433.5 85.2h0.85v0.85h-0.85zM439.3 84.1h0.85v0.85h-0.85zM430.6 85.6h0.85v0.85h-0.85zM442.8 81.6h0.85v0.85h-0.85zM448.8 80.6h0.85v0.85h-0.85zM431.6 85.3h0.85v0.85h-0.85zM437.9 80.3h0.85v0.85h-0.85zM451.4 77.6h0.85v0.85h-0.85zM434.9 85.6h0.85v0.85h-0.85zM441.9 81.2h0.85v0.85h-0.85zM429.5 82.2h0.85v0.85h-0.85zM431.6 79.5h0.85v0.85h-0.85zM434.8 79.7h0.85v0.85h-0.85zM461.8 80.1h0.85v0.85h-0.85zM435.9 82.1h0.85v0.85h-0.85zM434.7 83.9h0.85v0.85h-0.85zM434.4 77.3h0.85v0.85h-0.85zM438.3 84.9h0.85v0.85h-0.85zM446.6 80.0h0.85v0.85h-0.85zM441.9 80.3h0.85v0.85h-0.85zM460.6 84.7h0.85v0.85h-0.85zM442.1 82.8h0.85v0.85h-0.85zM454.5 79.2h0.85v0.85h-0.85zM442.8 87.6h0.85v0.85h-0.85zM446.1 80.8h0.85v0.85h-0.85zM425.6 83.6h0.85v0.85h-0.85zM438.7 83.5h0.85v0.85h-0.85zM439.3 86.5h0.85v0.85h-0.85zM437.6 81.9h0.85v0.85h-0.85zM448.8 81.1h0.85v0.85h-0.85zM436.1 85.8h0.85v0.85h-0.85zM435.6 81.1h0.85v0.85h-0.85zM437.4 82.1h0.85v0.85h-0.85zM437.7 87.7h0.85v0.85h-0.85zM444.1 83.8h0.85v0.85h-0.85zM427.3 83.3h0.85v0.85h-0.85zM430.7 88.6h0.85v0.85h-0.85zM442.9 83.9h0.85v0.85h-0.85zM441.5 81.0h0.85v0.85h-0.85zM436.2 84.8h0.85v0.85h-0.85zM434.3 80.0h0.85v0.85h-0.85zM431.7 85.8h0.85v0.85h-0.85zM439.4 86.0h0.85v0.85h-0.85zM451.8 81.6h0.85v0.85h-0.85zM429.4 81.4h0.85v0.85h-0.85zM455.2 83.4h0.85v0.85h-0.85zM448.4 83.0h0.85v0.85h-0.85zM435.5 80.6h0.85v0.85h-0.85zM447.8 84.4h0.85v0.85h-0.85zM425.3 77.9h0.85v0.85h-0.85zM427.1 82.0h0.85v0.85h-0.85zM435.9 82.3h0.85v0.85h-0.85zM436.7 83.8h0.85v0.85h-0.85zM434.8 79.9h0.85v0.85h-0.85zM441.0 84.5h0.85v0.85h-0.85zM445.0 81.4h0.85v0.85h-0.85zM425.8 79.6h0.85v0.85h-0.85zM433.4 80.0h0.85v0.85h-0.85zM435.9 83.9h0.85v0.85h-0.85zM428.4 80.6h0.85v0.85h-0.85zM426.3 83.2h0.85v0.85h-0.85zM429.9 85.7h0.85v0.85h-0.85zM439.9 85.6h0.85v0.85h-0.85zM445.9 86.9h0.85v0.85h-0.85zM445.6 82.3h0.85v0.85h-0.85zM430.1 80.3h0.85v0.85h-0.85zM432.1 85.6h0.85v0.85h-0.85zM430.8 83.8h0.85v0.85h-0.85zM444.5 85.8h0.85v0.85h-0.85zM452.4 86.0h0.85v0.85h-0.85zM435.2 85.1h0.85v0.85h-0.85zM432.2 84.8h0.85v0.85h-0.85zM443.4 84.3h0.85v0.85h-0.85zM450.3 84.0h0.85v0.85h-0.85zM443.4 83.6h0.85v0.85h-0.85zM450.5 83.6h0.85v0.85h-0.85zM441.3 85.5h0.85v0.85h-0.85zM452.3 81.7h0.85v0.85h-0.85zM452.5 87.3h0.85v0.85h-0.85zM439.0 82.7h0.85v0.85h-0.85zM454.4 85.5h0.85v0.85h-0.85zM441.6 82.8h0.85v0.85h-0.85zM440.9 82.4h0.85v0.85h-0.85zM430.8 88.1h0.85v0.85h-0.85zM437.1 82.2h0.85v0.85h-0.85zM447.8 79.8h0.85v0.85h-0.85zM426.9 81.2h0.85v0.85h-0.85zM446.5 82.2h0.85v0.85h-0.85zM443.5 88.4h0.85v0.85h-0.85zM442.8 83.5h0.85v0.85h-0.85zM439.0 80.5h0.85v0.85h-0.85zM446.5 83.9h0.85v0.85h-0.85zM432.4 84.7h0.85v0.85h-0.85zM440.9 87.5h0.85v0.85h-0.85zM462.1 72.7h0.85v0.85h-0.85zM455.1 70.4h0.85v0.85h-0.85zM437.4 73.3h0.85v0.85h-0.85zM449.9 70.2h0.85v0.85h-0.85zM451.0 75.1h0.85v0.85h-0.85zM433.9 90.1h0.85v0.85h-0.85zM462.4 73.1h0.85v0.85h-0.85zM460.0 71.6h0.85v0.85h-0.85zM444.3 71.1h0.85v0.85h-0.85zM439.2 80.0h0.85v0.85h-0.85zM456.1 53.1h0.85v0.85h-0.85zM453.1 69.0h0.85v0.85h-0.85zM458.5 62.7h0.85v0.85h-0.85zM472.4 70.5h0.85v0.85h-0.85zM446.4 74.5h0.85v0.85h-0.85zM447.4 54.8h0.85v0.85h-0.85zM445.3 69.0h0.85v0.85h-0.85zM450.0 71.0h0.85v0.85h-0.85zM444.0 65.3h0.85v0.85h-0.85zM446.3 66.3h0.85v0.85h-0.85zM457.1 59.8h0.85v0.85h-0.85zM452.4 70.5h0.85v0.85h-0.85zM448.1 70.5h0.85v0.85h-0.85zM444.1 68.4h0.85v0.85h-0.85zM456.0 70.7h0.85v0.85h-0.85zM440.8 74.7h0.85v0.85h-0.85zM444.0 71.8h0.85v0.85h-0.85zM443.7 64.6h0.85v0.85h-0.85zM442.3 71.1h0.85v0.85h-0.85zM451.8 73.7h0.85v0.85h-0.85zM438.4 67.9h0.85v0.85h-0.85zM465.3 54.1h0.85v0.85h-0.85zM463.4 62.7h0.85v0.85h-0.85zM451.9 64.9h0.85v0.85h-0.85zM450.6 71.4h0.85v0.85h-0.85zM462.3 48.2h0.85v0.85h-0.85zM458.1 73.0h0.85v0.85h-0.85zM454.0 75.3h0.85v0.85h-0.85zM453.4 68.6h0.85v0.85h-0.85zM444.9 60.2h0.85v0.85h-0.85zM456.5 54.6h0.85v0.85h-0.85zM454.0 74.3h0.85v0.85h-0.85zM473.6 60.9h0.85v0.85h-0.85zM444.4 78.1h0.85v0.85h-0.85zM460.7 69.9h0.85v0.85h-0.85zM439.6 75.2h0.85v0.85h-0.85zM463.3 55.1h0.85v0.85h-0.85zM447.4 72.6h0.85v0.85h-0.85zM451.3 72.2h0.85v0.85h-0.85zM450.7 56.3h0.85v0.85h-0.85zM463.8 64.2h0.85v0.85h-0.85zM447.0 84.3h0.85v0.85h-0.85zM442.4 67.8h0.85v0.85h-0.85zM433.4 75.1h0.85v0.85h-0.85zM452.6 70.4h0.85v0.85h-0.85zM446.4 68.0h0.85v0.85h-0.85zM437.2 62.7h0.85v0.85h-0.85zM448.1 78.8h0.85v0.85h-0.85zM447.7 73.7h0.85v0.85h-0.85zM442.2 73.8h0.85v0.85h-0.85zM463.1 74.9h0.85v0.85h-0.85zM462.4 58.8h0.85v0.85h-0.85zM431.8 81.8h0.85v0.85h-0.85zM449.5 71.3h0.85v0.85h-0.85zM442.3 68.8h0.85v0.85h-0.85zM450.6 62.9h0.85v0.85h-0.85zM444.2 79.0h0.85v0.85h-0.85zM446.5 68.8h0.85v0.85h-0.85zM440.0 76.2h0.85v0.85h-0.85zM462.5 71.7h0.85v0.85h-0.85zM454.4 72.9h0.85v0.85h-0.85zM452.2 74.7h0.85v0.85h-0.85zM455.1 69.4h0.85v0.85h-0.85zM450.1 74.0h0.85v0.85h-0.85zM444.1 88.3h0.85v0.85h-0.85zM454.6 65.3h0.85v0.85h-0.85zM460.1 75.6h0.85v0.85h-0.85zM444.8 67.2h0.85v0.85h-0.85zM456.6 61.3h0.85v0.85h-0.85zM453.6 54.7h0.85v0.85h-0.85zM440.0 77.0h0.85v0.85h-0.85zM446.1 78.3h0.85v0.85h-0.85zM468.2 64.1h0.85v0.85h-0.85zM458.2 56.1h0.85v0.85h-0.85zM444.3 75.8h0.85v0.85h-0.85zM439.3 77.7h0.85v0.85h-0.85zM441.9 71.8h0.85v0.85h-0.85zM441.1 68.8h0.85v0.85h-0.85zM437.9 82.6h0.85v0.85h-0.85zM442.9 62.4h0.85v0.85h-0.85zM440.5 80.4h0.85v0.85h-0.85zM440.7 79.5h0.85v0.85h-0.85zM454.3 60.1h0.85v0.85h-0.85zM440.4 71.0h0.85v0.85h-0.85zM443.6 64.7h0.85v0.85h-0.85zM462.8 73.0h0.85v0.85h-0.85zM450.6 58.0h0.85v0.85h-0.85zM454.0 79.2h0.85v0.85h-0.85zM452.9 72.2h0.85v0.85h-0.85zM442.0 74.9h0.85v0.85h-0.85zM466.6 53.8h0.85v0.85h-0.85zM473.6 50.0h0.85v0.85h-0.85zM475.8 51.6h0.85v0.85h-0.85zM467.3 51.9h0.85v0.85h-0.85zM469.3 54.2h0.85v0.85h-0.85zM473.7 46.9h0.85v0.85h-0.85zM471.4 53.1h0.85v0.85h-0.85zM476.7 48.7h0.85v0.85h-0.85zM468.5 47.7h0.85v0.85h-0.85zM472.0 50.1h0.85v0.85h-0.85zM466.3 49.2h0.85v0.85h-0.85zM477.0 47.0h0.85v0.85h-0.85zM468.0 45.3h0.85v0.85h-0.85zM463.2 47.2h0.85v0.85h-0.85zM469.9 53.9h0.85v0.85h-0.85zM469.9 55.3h0.85v0.85h-0.85zM476.4 51.6h0.85v0.85h-0.85zM469.2 53.1h0.85v0.85h-0.85zM470.3 48.4h0.85v0.85h-0.85zM472.2 49.6h0.85v0.85h-0.85zM475.4 50.6h0.85v0.85h-0.85zM470.1 46.8h0.85v0.85h-0.85zM473.6 47.0h0.85v0.85h-0.85zM472.0 50.1h0.85v0.85h-0.85zM469.4 48.9h0.85v0.85h-0.85zM470.5 46.8h0.85v0.85h-0.85zM470.4 50.9h0.85v0.85h-0.85zM467.4 49.1h0.85v0.85h-0.85zM474.2 52.7h0.85v0.85h-0.85zM465.9 49.8h0.85v0.85h-0.85zM474.0 49.0h0.85v0.85h-0.85zM473.4 50.2h0.85v0.85h-0.85zM470.0 49.3h0.85v0.85h-0.85zM467.9 47.9h0.85v0.85h-0.85zM469.6 48.7h0.85v0.85h-0.85zM471.8 51.9h0.85v0.85h-0.85zM472.7 51.6h0.85v0.85h-0.85zM471.2 53.4h0.85v0.85h-0.85zM473.5 45.1h0.85v0.85h-0.85zM468.5 48.7h0.85v0.85h-0.85zM471.1 48.6h0.85v0.85h-0.85zM465.3 50.3h0.85v0.85h-0.85zM472.7 48.5h0.85v0.85h-0.85zM470.8 48.4h0.85v0.85h-0.85zM469.0 52.0h0.85v0.85h-0.85zM474.0 50.3h0.85v0.85h-0.85zM472.5 46.5h0.85v0.85h-0.85zM461.3 53.5h0.85v0.85h-0.85zM470.4 52.6h0.85v0.85h-0.85zM465.6 48.2h0.85v0.85h-0.85zM473.7 52.1h0.85v0.85h-0.85zM478.3 47.7h0.85v0.85h-0.85zM468.6 53.0h0.85v0.85h-0.85zM470.5 49.2h0.85v0.85h-0.85zM469.5 47.6h0.85v0.85h-0.85zM471.4 48.8h0.85v0.85h-0.85zM472.4 47.7h0.85v0.85h-0.85zM474.4 50.3h0.85v0.85h-0.85zM467.1 50.3h0.85v0.85h-0.85zM475.3 49.9h0.85v0.85h-0.85zM467.3 48.2h0.85v0.85h-0.85zM471.2 39.5h0.85v0.85h-0.85zM474.0 50.1h0.85v0.85h-0.85zM472.6 44.5h0.85v0.85h-0.85zM467.3 50.5h0.85v0.85h-0.85zM468.1 53.0h0.85v0.85h-0.85zM468.8 50.6h0.85v0.85h-0.85zM470.1 48.7h0.85v0.85h-0.85zM474.0 49.3h0.85v0.85h-0.85zM466.2 49.4h0.85v0.85h-0.85zM471.8 48.3h0.85v0.85h-0.85zM472.3 48.2h0.85v0.85h-0.85zM472.1 47.2h0.85v0.85h-0.85zM471.8 53.1h0.85v0.85h-0.85zM475.2 49.8h0.85v0.85h-0.85zM471.9 52.5h0.85v0.85h-0.85zM473.0 49.1h0.85v0.85h-0.85zM472.1 50.0h0.85v0.85h-0.85zM476.0 49.3h0.85v0.85h-0.85zM464.2 51.1h0.85v0.85h-0.85zM474.4 52.1h0.85v0.85h-0.85zM469.5 50.5h0.85v0.85h-0.85zM469.4 47.9h0.85v0.85h-0.85zM467.2 47.6h0.85v0.85h-0.85zM464.3 54.4h0.85v0.85h-0.85zM469.1 49.0h0.85v0.85h-0.85zM468.1 49.0h0.85v0.85h-0.85zM471.9 53.9h0.85v0.85h-0.85zM465.6 52.8h0.85v0.85h-0.85zM474.9 51.3h0.85v0.85h-0.85zM471.2 48.7h0.85v0.85h-0.85zM469.5 56.4h0.85v0.85h-0.85zM468.0 50.9h0.85v0.85h-0.85zM467.8 51.3h0.85v0.85h-0.85zM466.7 49.3h0.85v0.85h-0.85zM468.6 45.8h0.85v0.85h-0.85zM470.3 46.1h0.85v0.85h-0.85zM469.7 50.9h0.85v0.85h-0.85zM465.8 50.9h0.85v0.85h-0.85zM469.4 49.1h0.85v0.85h-0.85zM467.4 46.5h0.85v0.85h-0.85zM470.8 45.8h0.85v0.85h-0.85zM476.3 48.9h0.85v0.85h-0.85zM472.3 45.7h0.85v0.85h-0.85zM469.3 52.3h0.85v0.85h-0.85zM465.1 53.0h0.85v0.85h-0.85zM465.8 57.7h0.85v0.85h-0.85zM464.9 52.3h0.85v0.85h-0.85zM472.6 48.1h0.85v0.85h-0.85zM467.9 47.4h0.85v0.85h-0.85zM470.5 40.1h0.85v0.85h-0.85zM468.3 48.1h0.85v0.85h-0.85zM470.6 49.3h0.85v0.85h-0.85zM474.8 52.5h0.85v0.85h-0.85zM468.1 51.5h0.85v0.85h-0.85zM469.2 51.4h0.85v0.85h-0.85zM467.7 50.4h0.85v0.85h-0.85zM473.1 51.7h0.85v0.85h-0.85zM467.0 53.9h0.85v0.85h-0.85zM466.7 46.8h0.85v0.85h-0.85zM465.9 48.5h0.85v0.85h-0.85zM465.8 45.9h0.85v0.85h-0.85zM471.8 54.3h0.85v0.85h-0.85zM478.5 53.4h0.85v0.85h-0.85zM467.1 51.9h0.85v0.85h-0.85zM473.3 46.4h0.85v0.85h-0.85zM471.1 50.3h0.85v0.85h-0.85zM466.8 49.1h0.85v0.85h-0.85zM469.4 50.0h0.85v0.85h-0.85zM469.6 49.3h0.85v0.85h-0.85zM468.1 51.3h0.85v0.85h-0.85zM476.5 48.7h0.85v0.85h-0.85zM464.2 52.2h0.85v0.85h-0.85zM471.5 50.5h0.85v0.85h-0.85zM471.4 49.0h0.85v0.85h-0.85zM468.4 49.5h0.85v0.85h-0.85zM470.8 48.6h0.85v0.85h-0.85zM473.1 52.1h0.85v0.85h-0.85zM470.8 49.0h0.85v0.85h-0.85zM471.6 50.6h0.85v0.85h-0.85zM472.5 48.7h0.85v0.85h-0.85zM463.8 45.6h0.85v0.85h-0.85zM475.0 52.3h0.85v0.85h-0.85zM477.6 46.8h0.85v0.85h-0.85zM473.4 51.7h0.85v0.85h-0.85zM473.5 51.0h0.85v0.85h-0.85zM465.8 45.2h0.85v0.85h-0.85zM469.9 47.2h0.85v0.85h-0.85zM467.7 48.4h0.85v0.85h-0.85zM468.4 47.5h0.85v0.85h-0.85zM473.4 46.5h0.85v0.85h-0.85zM467.7 51.9h0.85v0.85h-0.85zM469.9 49.1h0.85v0.85h-0.85zM464.2 50.9h0.85v0.85h-0.85zM469.8 48.6h0.85v0.85h-0.85zM470.6 50.7h0.85v0.85h-0.85zM468.0 47.7h0.85v0.85h-0.85zM468.0 49.7h0.85v0.85h-0.85zM476.3 51.4h0.85v0.85h-0.85zM466.4 49.9h0.85v0.85h-0.85zM466.9 48.5h0.85v0.85h-0.85zM467.7 46.8h0.85v0.85h-0.85zM474.1 50.3h0.85v0.85h-0.85zM477.0 50.8h0.85v0.85h-0.85zM471.4 49.1h0.85v0.85h-0.85zM468.0 47.6h0.85v0.85h-0.85zM468.9 51.3h0.85v0.85h-0.85zM473.7 56.7h0.85v0.85h-0.85zM467.4 49.0h0.85v0.85h-0.85zM474.9 50.7h0.85v0.85h-0.85zM469.6 63.9h0.85v0.85h-0.85zM461.3 58.5h0.85v0.85h-0.85zM468.8 62.7h0.85v0.85h-0.85zM466.5 59.0h0.85v0.85h-0.85zM472.4 65.4h0.85v0.85h-0.85zM467.8 63.5h0.85v0.85h-0.85zM466.3 62.1h0.85v0.85h-0.85zM467.9 57.7h0.85v0.85h-0.85zM469.0 62.4h0.85v0.85h-0.85zM466.9 59.5h0.85v0.85h-0.85zM468.4 64.3h0.85v0.85h-0.85zM464.7 61.6h0.85v0.85h-0.85zM467.9 59.4h0.85v0.85h-0.85zM470.7 65.0h0.85v0.85h-0.85zM474.0 64.3h0.85v0.85h-0.85zM470.5 60.1h0.85v0.85h-0.85zM469.3 65.7h0.85v0.85h-0.85zM471.8 61.0h0.85v0.85h-0.85zM471.4 61.0h0.85v0.85h-0.85zM473.2 62.4h0.85v0.85h-0.85zM471.5 59.6h0.85v0.85h-0.85zM468.2 60.6h0.85v0.85h-0.85zM469.2 61.5h0.85v0.85h-0.85zM469.0 66.9h0.85v0.85h-0.85zM469.3 66.8h0.85v0.85h-0.85zM469.1 61.2h0.85v0.85h-0.85zM466.3 67.2h0.85v0.85h-0.85zM462.6 61.9h0.85v0.85h-0.85zM466.6 63.2h0.85v0.85h-0.85zM462.8 64.8h0.85v0.85h-0.85zM468.7 62.9h0.85v0.85h-0.85zM468.5 69.7h0.85v0.85h-0.85zM463.8 62.8h0.85v0.85h-0.85zM470.4 58.2h0.85v0.85h-0.85zM470.9 66.2h0.85v0.85h-0.85zM468.8 60.7h0.85v0.85h-0.85zM473.2 61.0h0.85v0.85h-0.85zM473.7 52.4h0.85v0.85h-0.85zM465.1 65.2h0.85v0.85h-0.85zM471.4 64.6h0.85v0.85h-0.85zM469.7 64.6h0.85v0.85h-0.85zM469.7 65.1h0.85v0.85h-0.85zM471.1 67.4h0.85v0.85h-0.85zM466.5 61.9h0.85v0.85h-0.85zM466.8 65.0h0.85v0.85h-0.85zM466.2 59.6h0.85v0.85h-0.85zM466.4 60.9h0.85v0.85h-0.85zM468.2 65.4h0.85v0.85h-0.85zM464.4 63.3h0.85v0.85h-0.85zM465.6 57.7h0.85v0.85h-0.85zM470.1 63.2h0.85v0.85h-0.85zM468.3 61.4h0.85v0.85h-0.85zM469.6 59.4h0.85v0.85h-0.85zM463.2 63.4h0.85v0.85h-0.85zM466.3 60.7h0.85v0.85h-0.85zM466.9 57.0h0.85v0.85h-0.85zM468.6 58.4h0.85v0.85h-0.85zM466.9 67.7h0.85v0.85h-0.85zM471.1 57.2h0.85v0.85h-0.85zM468.3 62.7h0.85v0.85h-0.85zM468.5 64.0h0.85v0.85h-0.85zM468.5 64.0h0.85v0.85h-0.85zM470.5 58.1h0.85v0.85h-0.85zM467.2 61.0h0.85v0.85h-0.85zM471.6 62.5h0.85v0.85h-0.85zM469.8 64.6h0.85v0.85h-0.85zM468.9 59.9h0.85v0.85h-0.85zM468.6 58.3h0.85v0.85h-0.85zM470.0 65.2h0.85v0.85h-0.85zM471.3 65.5h0.85v0.85h-0.85zM471.1 63.2h0.85v0.85h-0.85zM469.6 60.1h0.85v0.85h-0.85zM471.0 63.3h0.85v0.85h-0.85zM468.8 62.3h0.85v0.85h-0.85zM472.0 64.7h0.85v0.85h-0.85zM468.4 58.0h0.85v0.85h-0.85zM462.7 62.4h0.85v0.85h-0.85zM472.2 61.5h0.85v0.85h-0.85zM468.8 58.4h0.85v0.85h-0.85zM465.2 62.7h0.85v0.85h-0.85zM467.9 62.1h0.85v0.85h-0.85zM466.0 60.7h0.85v0.85h-0.85zM474.4 63.3h0.85v0.85h-0.85zM469.9 57.5h0.85v0.85h-0.85zM464.1 61.8h0.85v0.85h-0.85zM470.0 63.4h0.85v0.85h-0.85zM467.4 62.9h0.85v0.85h-0.85zM473.9 65.4h0.85v0.85h-0.85zM465.6 58.2h0.85v0.85h-0.85zM462.2 57.2h0.85v0.85h-0.85zM468.7 62.8h0.85v0.85h-0.85zM467.5 63.5h0.85v0.85h-0.85zM467.3 68.8h0.85v0.85h-0.85zM462.5 64.0h0.85v0.85h-0.85zM469.7 59.2h0.85v0.85h-0.85zM473.2 64.6h0.85v0.85h-0.85zM463.2 59.3h0.85v0.85h-0.85zM471.8 57.2h0.85v0.85h-0.85zM466.9 70.3h0.85v0.85h-0.85zM475.1 63.0h0.85v0.85h-0.85zM469.7 64.3h0.85v0.85h-0.85zM468.0 63.8h0.85v0.85h-0.85zM471.6 67.8h0.85v0.85h-0.85zM470.0 62.9h0.85v0.85h-0.85zM466.8 65.9h0.85v0.85h-0.85zM470.5 58.7h0.85v0.85h-0.85zM467.1 57.5h0.85v0.85h-0.85zM463.5 66.6h0.85v0.85h-0.85zM474.2 66.7h0.85v0.85h-0.85zM467.5 63.6h0.85v0.85h-0.85zM466.8 62.7h0.85v0.85h-0.85zM469.4 62.5h0.85v0.85h-0.85zM464.1 59.8h0.85v0.85h-0.85zM464.7 66.9h0.85v0.85h-0.85zM467.1 64.1h0.85v0.85h-0.85zM467.0 63.6h0.85v0.85h-0.85zM468.7 63.2h0.85v0.85h-0.85zM471.6 65.4h0.85v0.85h-0.85zM467.2 63.6h0.85v0.85h-0.85zM469.9 64.4h0.85v0.85h-0.85zM466.0 85.3h0.85v0.85h-0.85zM470.3 70.3h0.85v0.85h-0.85zM474.7 77.6h0.85v0.85h-0.85zM467.7 75.1h0.85v0.85h-0.85zM468.7 68.6h0.85v0.85h-0.85zM471.3 72.9h0.85v0.85h-0.85zM471.5 82.1h0.85v0.85h-0.85zM470.6 74.2h0.85v0.85h-0.85zM464.8 72.9h0.85v0.85h-0.85zM470.3 80.8h0.85v0.85h-0.85zM465.9 81.4h0.85v0.85h-0.85zM466.9 81.4h0.85v0.85h-0.85zM470.4 72.6h0.85v0.85h-0.85zM468.2 76.2h0.85v0.85h-0.85zM471.1 81.7h0.85v0.85h-0.85zM477.2 73.2h0.85v0.85h-0.85zM471.0 72.8h0.85v0.85h-0.85zM470.9 80.6h0.85v0.85h-0.85zM466.7 84.3h0.85v0.85h-0.85zM467.3 70.7h0.85v0.85h-0.85zM466.2 63.5h0.85v0.85h-0.85zM467.6 69.2h0.85v0.85h-0.85zM466.2 71.4h0.85v0.85h-0.85zM467.3 75.8h0.85v0.85h-0.85zM468.5 79.6h0.85v0.85h-0.85zM466.4 75.8h0.85v0.85h-0.85zM465.3 73.0h0.85v0.85h-0.85zM465.5 77.3h0.85v0.85h-0.85zM470.2 71.7h0.85v0.85h-0.85zM469.2 76.3h0.85v0.85h-0.85zM471.7 73.3h0.85v0.85h-0.85zM471.7 89.9h0.85v0.85h-0.85zM468.1 80.6h0.85v0.85h-0.85zM470.7 72.3h0.85v0.85h-0.85zM465.3 71.5h0.85v0.85h-0.85zM474.9 74.3h0.85v0.85h-0.85zM472.1 68.3h0.85v0.85h-0.85zM468.4 72.8h0.85v0.85h-0.85zM466.0 72.8h0.85v0.85h-0.85zM470.0 80.9h0.85v0.85h-0.85zM464.1 74.4h0.85v0.85h-0.85zM467.0 72.5h0.85v0.85h-0.85zM470.9 69.8h0.85v0.85h-0.85zM469.2 70.6h0.85v0.85h-0.85zM467.7 76.2h0.85v0.85h-0.85zM471.5 75.4h0.85v0.85h-0.85zM466.3 82.2h0.85v0.85h-0.85zM469.7 73.4h0.85v0.85h-0.85zM467.7 81.8h0.85v0.85h-0.85zM466.8 77.8h0.85v0.85h-0.85zM470.2 76.5h0.85v0.85h-0.85zM466.4 66.5h0.85v0.85h-0.85zM473.9 70.0h0.85v0.85h-0.85zM467.5 80.2h0.85v0.85h-0.85zM474.2 83.5h0.85v0.85h-0.85zM466.2 77.5h0.85v0.85h-0.85zM470.6 80.3h0.85v0.85h-0.85zM465.9 74.5h0.85v0.85h-0.85zM465.5 74.6h0.85v0.85h-0.85zM469.4 73.2h0.85v0.85h-0.85zM470.8 81.4h0.85v0.85h-0.85zM465.7 78.2h0.85v0.85h-0.85zM472.1 75.3h0.85v0.85h-0.85zM466.9 74.9h0.85v0.85h-0.85zM469.3 79.3h0.85v0.85h-0.85zM470.0 78.1h0.85v0.85h-0.85zM470.5 72.3h0.85v0.85h-0.85zM464.3 85.1h0.85v0.85h-0.85zM473.2 77.8h0.85v0.85h-0.85zM470.5 76.6h0.85v0.85h-0.85zM467.9 83.9h0.85v0.85h-0.85zM466.3 81.6h0.85v0.85h-0.85zM464.6 76.1h0.85v0.85h-0.85zM465.5 79.2h0.85v0.85h-0.85zM470.4 71.2h0.85v0.85h-0.85zM468.1 73.3h0.85v0.85h-0.85zM466.1 65.2h0.85v0.85h-0.85zM467.6 82.6h0.85v0.85h-0.85zM473.1 67.0h0.85v0.85h-0.85zM468.1 79.9h0.85v0.85h-0.85zM467.5 72.3h0.85v0.85h-0.85zM472.5 71.6h0.85v0.85h-0.85zM470.2 75.5h0.85v0.85h-0.85zM469.1 77.8h0.85v0.85h-0.85zM467.4 79.6h0.85v0.85h-0.85zM465.0 85.4h0.85v0.85h-0.85zM466.0 78.3h0.85v0.85h-0.85zM467.8 80.9h0.85v0.85h-0.85zM468.4 73.5h0.85v0.85h-0.85zM469.9 80.1h0.85v0.85h-0.85zM470.4 77.3h0.85v0.85h-0.85zM469.6 74.2h0.85v0.85h-0.85zM469.6 76.0h0.85v0.85h-0.85zM466.4 76.2h0.85v0.85h-0.85zM463.4 77.5h0.85v0.85h-0.85zM467.6 78.5h0.85v0.85h-0.85zM466.5 74.0h0.85v0.85h-0.85zM467.3 72.8h0.85v0.85h-0.85zM468.3 80.2h0.85v0.85h-0.85zM465.8 68.0h0.85v0.85h-0.85zM466.1 73.4h0.85v0.85h-0.85zM468.7 84.3h0.85v0.85h-0.85zM469.3 63.0h0.85v0.85h-0.85zM467.3 73.0h0.85v0.85h-0.85zM470.3 79.9h0.85v0.85h-0.85zM468.4 68.2h0.85v0.85h-0.85zM466.3 89.5h0.85v0.85h-0.85zM469.1 63.6h0.85v0.85h-0.85zM473.9 83.7h0.85v0.85h-0.85zM467.2 84.3h0.85v0.85h-0.85zM472.0 81.1h0.85v0.85h-0.85zM472.6 75.4h0.85v0.85h-0.85zM472.9 78.3h0.85v0.85h-0.85zM466.9 72.0h0.85v0.85h-0.85zM474.2 80.5h0.85v0.85h-0.85zM469.3 70.9h0.85v0.85h-0.85zM468.3 75.1h0.85v0.85h-0.85zM468.4 81.5h0.85v0.85h-0.85zM470.6 70.9h0.85v0.85h-0.85zM469.1 74.7h0.85v0.85h-0.85zM468.5 77.3h0.85v0.85h-0.85zM472.3 69.8h0.85v0.85h-0.85zM467.1 82.3h0.85v0.85h-0.85zM466.3 78.2h0.85v0.85h-0.85zM471.1 68.9h0.85v0.85h-0.85zM470.8 76.3h0.85v0.85h-0.85zM471.8 72.6h0.85v0.85h-0.85zM466.2 73.2h0.85v0.85h-0.85zM471.8 76.9h0.85v0.85h-0.85zM470.3 73.0h0.85v0.85h-0.85z" fill="#2f4fff" fill-opacity="0.5"/>
<g transform="translate(470.30 49.80) rotate(-20)" filter="url(#bl1)" opacity="0.8"><ellipse cx="0.00" cy="0" rx="4.94" ry="4.42" fill="#8a9aff" fill-opacity="0.45"/><ellipse cx="0.00" cy="0" rx="3.80" ry="3.40" fill="#3050ff" fill-opacity="0.85"/></g>
<g transform="translate(468.50 62.00) rotate(0)" filter="url(#bl1)" opacity="0.5"><ellipse cx="0.00" cy="0" rx="3.64" ry="3.90" fill="#8a9aff" fill-opacity="0.45"/><ellipse cx="0.00" cy="0" rx="2.80" ry="3.00" fill="#3050ff" fill-opacity="0.85"/></g>
<g transform="translate(469.00 76.50) rotate(0)" filter="url(#bl1)" opacity="0.5"><ellipse cx="0.00" cy="0" rx="3.12" ry="5.72" fill="#8a9aff" fill-opacity="0.45"/><ellipse cx="0.00" cy="0" rx="2.40" ry="4.40" fill="#3050ff" fill-opacity="0.85"/></g>
<g transform="translate(450.00 82.80) rotate(-4)" filter="url(#bl1)" opacity="0.8"><ellipse cx="0.00" cy="0" rx="10.40" ry="3.38" fill="#8a9aff" fill-opacity="0.45"/><ellipse cx="0.00" cy="0" rx="8.00" ry="2.60" fill="#3050ff" fill-opacity="0.85"/><ellipse cx="0.00" cy="0" rx="6.88" ry="2.24" fill="#1438ff" fill-opacity="0.9"/></g>
<g transform="translate(440.20 82.80) rotate(-2)" filter="url(#bl07)" opacity="1.0"><ellipse cx="3.44" cy="0" rx="16.25" ry="5.20" fill="#8a9aff" fill-opacity="0.45"/><ellipse cx="2.50" cy="0" rx="12.50" ry="4.00" fill="#3050ff" fill-opacity="0.85"/><ellipse cx="2.06" cy="0" rx="10.75" ry="3.44" fill="#1438ff" fill-opacity="0.9"/><ellipse cx="1.69" cy="0" rx="9.25" ry="2.96" fill="#00b4f4" fill-opacity="1"/><ellipse cx="1.31" cy="0" rx="7.75" ry="2.48" fill="#2ad22a" fill-opacity="1"/><ellipse cx="0.44" cy="0" rx="4.25" ry="1.36" fill="#e6e000" fill-opacity="1"/><ellipse cx="-0.03" cy="0" rx="2.38" ry="0.76" fill="#ff4800" fill-opacity="1"/></g>
<rect x="459.30" y="40.40" width="21.70" height="47.00" fill="none" stroke="#3a3a3a" stroke-width="0.9"/>
<line x1="459.30" y1="56.30" x2="481.00" y2="56.30" stroke="#222" stroke-width="1.0"/>
<text x="426.60" y="37.90" font-size="6.8" text-anchor="start" fill="#000" stroke="#000" stroke-width="0.12">CTL</text>
<text x="479.90" y="45.60" font-size="5.7" text-anchor="end" fill="#000">4.4</text>
<text x="479.90" y="86.00" font-size="5.7" text-anchor="end" fill="#000">4.5</text>
<rect x="354.60" y="99.20" width="63.00" height="63.40" fill="none" stroke="#b0b0b0" stroke-width="0.8"/>
<line x1="352.90" y1="104.20" x2="354.60" y2="104.20" stroke="#555" stroke-width="0.7"/>
<line x1="352.90" y1="110.88" x2="354.60" y2="110.88" stroke="#555" stroke-width="0.7"/>
<line x1="352.90" y1="117.55" x2="354.60" y2="117.55" stroke="#555" stroke-width="0.7"/>
<line x1="352.90" y1="124.22" x2="354.60" y2="124.22" stroke="#555" stroke-width="0.7"/>
<line x1="352.90" y1="130.90" x2="354.60" y2="130.90" stroke="#555" stroke-width="0.7"/>
<line x1="352.90" y1="137.57" x2="354.60" y2="137.57" stroke="#555" stroke-width="0.7"/>
<line x1="352.90" y1="144.25" x2="354.60" y2="144.25" stroke="#555" stroke-width="0.7"/>
<line x1="352.90" y1="150.93" x2="354.60" y2="150.93" stroke="#555" stroke-width="0.7"/>
<line x1="352.90" y1="157.60" x2="354.60" y2="157.60" stroke="#555" stroke-width="0.7"/>
<line x1="358.60" y1="162.60" x2="358.60" y2="164.00" stroke="#777" stroke-width="0.6"/>
<line x1="362.27" y1="162.60" x2="362.27" y2="164.00" stroke="#777" stroke-width="0.6"/>
<line x1="365.93" y1="162.60" x2="365.93" y2="164.00" stroke="#777" stroke-width="0.6"/>
<line x1="369.60" y1="162.60" x2="369.60" y2="164.00" stroke="#777" stroke-width="0.6"/>
<line x1="373.27" y1="162.60" x2="373.27" y2="164.00" stroke="#777" stroke-width="0.6"/>
<line x1="376.93" y1="162.60" x2="376.93" y2="164.00" stroke="#777" stroke-width="0.6"/>
<line x1="380.60" y1="162.60" x2="380.60" y2="164.00" stroke="#777" stroke-width="0.6"/>
<line x1="384.27" y1="162.60" x2="384.27" y2="164.00" stroke="#777" stroke-width="0.6"/>
<line x1="387.93" y1="162.60" x2="387.93" y2="164.00" stroke="#777" stroke-width="0.6"/>
<line x1="391.60" y1="162.60" x2="391.60" y2="164.00" stroke="#777" stroke-width="0.6"/>
<line x1="395.27" y1="162.60" x2="395.27" y2="164.00" stroke="#777" stroke-width="0.6"/>
<line x1="398.93" y1="162.60" x2="398.93" y2="164.00" stroke="#777" stroke-width="0.6"/>
<line x1="402.60" y1="162.60" x2="402.60" y2="164.00" stroke="#777" stroke-width="0.6"/>
<line x1="406.27" y1="162.60" x2="406.27" y2="164.00" stroke="#777" stroke-width="0.6"/>
<line x1="409.93" y1="162.60" x2="409.93" y2="164.00" stroke="#777" stroke-width="0.6"/>
<line x1="413.60" y1="162.60" x2="413.60" y2="164.00" stroke="#777" stroke-width="0.6"/>
<rect x="353.10" y="149.60" width="1.50" height="1.60" fill="#222"/>
<rect x="366.60" y="162.40" width="2.20" height="1.60" fill="#222"/>
<path d="M381.2 147.0h0.85v0.85h-0.85zM367.3 153.7h0.85v0.85h-0.85zM381.7 148.5h0.85v0.85h-0.85zM371.8 146.2h0.85v0.85h-0.85zM381.2 151.6h0.85v0.85h-0.85zM368.7 153.4h0.85v0.85h-0.85zM369.0 153.0h0.85v0.85h-0.85zM363.6 155.6h0.85v0.85h-0.85zM378.9 152.7h0.85v0.85h-0.85zM381.2 148.2h0.85v0.85h-0.85zM390.7 141.4h0.85v0.85h-0.85zM383.4 142.8h0.85v0.85h-0.85zM376.2 154.2h0.85v0.85h-0.85zM371.7 152.8h0.85v0.85h-0.85zM376.5 149.6h0.85v0.85h-0.85zM372.4 148.6h0.85v0.85h-0.85zM385.9 147.4h0.85v0.85h-0.85zM381.3 148.3h0.85v0.85h-0.85zM365.4 150.4h0.85v0.85h-0.85zM366.4 148.9h0.85v0.85h-0.85zM386.6 154.9h0.85v0.85h-0.85zM375.9 150.2h0.85v0.85h-0.85zM370.5 148.4h0.85v0.85h-0.85zM382.5 143.3h0.85v0.85h-0.85zM369.1 148.2h0.85v0.85h-0.85zM371.1 153.0h0.85v0.85h-0.85zM369.5 153.5h0.85v0.85h-0.85zM380.6 148.6h0.85v0.85h-0.85zM362.1 151.2h0.85v0.85h-0.85zM367.2 147.3h0.85v0.85h-0.85zM367.4 155.8h0.85v0.85h-0.85zM379.7 149.9h0.85v0.85h-0.85zM374.2 158.6h0.85v0.85h-0.85zM372.6 147.4h0.85v0.85h-0.85zM358.1 152.7h0.85v0.85h-0.85zM372.9 153.2h0.85v0.85h-0.85zM359.8 151.9h0.85v0.85h-0.85zM374.7 144.7h0.85v0.85h-0.85zM375.5 146.1h0.85v0.85h-0.85zM372.9 150.4h0.85v0.85h-0.85zM391.2 147.4h0.85v0.85h-0.85zM377.6 148.7h0.85v0.85h-0.85zM379.0 152.3h0.85v0.85h-0.85zM375.0 153.1h0.85v0.85h-0.85zM371.5 151.5h0.85v0.85h-0.85zM381.5 148.3h0.85v0.85h-0.85zM382.5 147.1h0.85v0.85h-0.85zM361.9 154.3h0.85v0.85h-0.85zM383.0 151.2h0.85v0.85h-0.85zM377.6 149.2h0.85v0.85h-0.85zM381.8 149.7h0.85v0.85h-0.85zM376.9 148.0h0.85v0.85h-0.85zM361.0 147.5h0.85v0.85h-0.85zM361.9 148.8h0.85v0.85h-0.85zM389.6 149.2h0.85v0.85h-0.85zM375.5 151.1h0.85v0.85h-0.85zM361.7 158.1h0.85v0.85h-0.85zM376.1 149.5h0.85v0.85h-0.85zM370.4 153.6h0.85v0.85h-0.85zM357.7 158.0h0.85v0.85h-0.85zM358.4 150.9h0.85v0.85h-0.85zM375.3 148.9h0.85v0.85h-0.85zM372.7 150.5h0.85v0.85h-0.85zM370.1 147.1h0.85v0.85h-0.85zM375.9 151.1h0.85v0.85h-0.85zM379.0 152.4h0.85v0.85h-0.85zM371.8 157.3h0.85v0.85h-0.85zM365.5 150.6h0.85v0.85h-0.85zM362.0 151.6h0.85v0.85h-0.85zM368.0 150.2h0.85v0.85h-0.85zM371.4 147.8h0.85v0.85h-0.85zM371.0 151.9h0.85v0.85h-0.85zM360.2 152.8h0.85v0.85h-0.85zM370.0 156.6h0.85v0.85h-0.85zM391.2 148.3h0.85v0.85h-0.85zM364.1 153.8h0.85v0.85h-0.85zM358.0 152.4h0.85v0.85h-0.85zM374.4 144.6h0.85v0.85h-0.85zM378.2 148.6h0.85v0.85h-0.85zM376.5 146.2h0.85v0.85h-0.85zM363.8 155.4h0.85v0.85h-0.85zM381.8 148.0h0.85v0.85h-0.85zM367.3 157.2h0.85v0.85h-0.85zM363.5 154.6h0.85v0.85h-0.85zM368.3 154.0h0.85v0.85h-0.85zM372.2 151.0h0.85v0.85h-0.85zM379.4 149.4h0.85v0.85h-0.85zM379.0 151.1h0.85v0.85h-0.85zM373.5 153.2h0.85v0.85h-0.85zM380.7 145.8h0.85v0.85h-0.85zM374.1 151.5h0.85v0.85h-0.85zM382.8 157.3h0.85v0.85h-0.85zM360.6 152.3h0.85v0.85h-0.85zM359.0 152.1h0.85v0.85h-0.85zM379.3 146.2h0.85v0.85h-0.85zM359.7 147.6h0.85v0.85h-0.85zM371.2 154.6h0.85v0.85h-0.85zM372.2 150.4h0.85v0.85h-0.85zM368.9 151.9h0.85v0.85h-0.85zM370.4 157.2h0.85v0.85h-0.85zM387.1 156.0h0.85v0.85h-0.85zM381.5 152.0h0.85v0.85h-0.85zM393.7 147.8h0.85v0.85h-0.85zM373.5 151.3h0.85v0.85h-0.85zM373.2 151.7h0.85v0.85h-0.85zM379.4 148.6h0.85v0.85h-0.85zM390.3 152.0h0.85v0.85h-0.85zM363.0 154.3h0.85v0.85h-0.85zM374.0 151.0h0.85v0.85h-0.85zM372.3 154.6h0.85v0.85h-0.85zM378.6 152.0h0.85v0.85h-0.85zM374.7 151.3h0.85v0.85h-0.85zM379.0 149.9h0.85v0.85h-0.85zM370.6 156.8h0.85v0.85h-0.85zM373.8 151.7h0.85v0.85h-0.85zM367.0 151.0h0.85v0.85h-0.85zM366.5 148.3h0.85v0.85h-0.85zM371.5 149.1h0.85v0.85h-0.85zM371.0 146.7h0.85v0.85h-0.85zM362.8 152.6h0.85v0.85h-0.85zM387.0 148.0h0.85v0.85h-0.85zM370.3 143.2h0.85v0.85h-0.85zM360.8 152.7h0.85v0.85h-0.85zM383.2 150.2h0.85v0.85h-0.85zM366.5 152.0h0.85v0.85h-0.85zM376.8 145.8h0.85v0.85h-0.85zM373.8 154.4h0.85v0.85h-0.85zM374.7 147.2h0.85v0.85h-0.85zM373.6 145.5h0.85v0.85h-0.85zM367.2 147.4h0.85v0.85h-0.85zM373.4 149.9h0.85v0.85h-0.85zM391.6 149.6h0.85v0.85h-0.85zM373.7 150.6h0.85v0.85h-0.85zM376.0 145.1h0.85v0.85h-0.85zM363.3 149.7h0.85v0.85h-0.85zM360.3 149.5h0.85v0.85h-0.85zM391.9 145.4h0.85v0.85h-0.85zM368.4 144.6h0.85v0.85h-0.85zM391.4 146.5h0.85v0.85h-0.85zM378.2 151.2h0.85v0.85h-0.85zM373.6 149.4h0.85v0.85h-0.85zM377.5 150.7h0.85v0.85h-0.85zM377.9 145.6h0.85v0.85h-0.85zM382.3 142.8h0.85v0.85h-0.85zM376.4 147.0h0.85v0.85h-0.85zM375.1 153.7h0.85v0.85h-0.85zM375.3 153.2h0.85v0.85h-0.85zM384.6 145.9h0.85v0.85h-0.85zM381.1 152.6h0.85v0.85h-0.85zM363.9 150.8h0.85v0.85h-0.85zM368.5 156.4h0.85v0.85h-0.85zM376.3 151.0h0.85v0.85h-0.85zM367.2 149.6h0.85v0.85h-0.85zM370.3 153.4h0.85v0.85h-0.85zM364.0 149.1h0.85v0.85h-0.85zM370.0 147.3h0.85v0.85h-0.85zM375.7 144.2h0.85v0.85h-0.85zM381.9 149.0h0.85v0.85h-0.85zM373.0 149.8h0.85v0.85h-0.85zM391.2 145.9h0.85v0.85h-0.85zM372.0 148.7h0.85v0.85h-0.85zM402.2 148.9h0.85v0.85h-0.85zM381.5 146.7h0.85v0.85h-0.85zM376.8 146.6h0.85v0.85h-0.85zM369.5 155.2h0.85v0.85h-0.85zM371.9 151.5h0.85v0.85h-0.85zM373.3 143.7h0.85v0.85h-0.85zM389.5 144.3h0.85v0.85h-0.85zM361.3 154.7h0.85v0.85h-0.85zM389.8 146.5h0.85v0.85h-0.85zM371.9 155.8h0.85v0.85h-0.85zM378.4 144.0h0.85v0.85h-0.85zM373.8 147.6h0.85v0.85h-0.85zM394.3 130.5h0.85v0.85h-0.85zM387.0 144.4h0.85v0.85h-0.85zM387.3 125.6h0.85v0.85h-0.85zM371.3 132.0h0.85v0.85h-0.85zM373.8 148.9h0.85v0.85h-0.85zM378.1 149.9h0.85v0.85h-0.85zM375.9 137.8h0.85v0.85h-0.85zM366.0 131.0h0.85v0.85h-0.85zM396.8 136.3h0.85v0.85h-0.85zM392.3 127.3h0.85v0.85h-0.85zM388.1 140.0h0.85v0.85h-0.85zM373.4 141.7h0.85v0.85h-0.85zM379.7 134.8h0.85v0.85h-0.85zM374.8 137.7h0.85v0.85h-0.85zM399.0 134.9h0.85v0.85h-0.85zM389.5 141.2h0.85v0.85h-0.85zM378.7 122.7h0.85v0.85h-0.85zM375.5 133.7h0.85v0.85h-0.85zM371.6 156.3h0.85v0.85h-0.85zM374.4 138.6h0.85v0.85h-0.85zM368.2 135.7h0.85v0.85h-0.85zM385.0 133.9h0.85v0.85h-0.85zM382.4 134.9h0.85v0.85h-0.85zM375.1 140.1h0.85v0.85h-0.85zM377.2 135.9h0.85v0.85h-0.85zM393.8 125.5h0.85v0.85h-0.85zM372.6 139.3h0.85v0.85h-0.85zM375.6 142.9h0.85v0.85h-0.85zM377.3 133.3h0.85v0.85h-0.85zM375.3 138.6h0.85v0.85h-0.85zM378.0 137.8h0.85v0.85h-0.85zM390.8 139.4h0.85v0.85h-0.85zM397.5 127.9h0.85v0.85h-0.85zM367.0 145.7h0.85v0.85h-0.85zM383.7 138.7h0.85v0.85h-0.85zM383.7 137.8h0.85v0.85h-0.85zM385.1 141.8h0.85v0.85h-0.85zM382.2 139.6h0.85v0.85h-0.85zM385.4 146.8h0.85v0.85h-0.85zM394.9 136.8h0.85v0.85h-0.85zM378.0 138.5h0.85v0.85h-0.85zM379.5 134.7h0.85v0.85h-0.85zM385.0 140.3h0.85v0.85h-0.85zM384.7 137.9h0.85v0.85h-0.85zM380.3 136.5h0.85v0.85h-0.85zM385.1 123.0h0.85v0.85h-0.85zM375.6 127.0h0.85v0.85h-0.85zM384.6 136.7h0.85v0.85h-0.85zM384.2 140.1h0.85v0.85h-0.85zM376.5 145.7h0.85v0.85h-0.85zM370.8 134.4h0.85v0.85h-0.85zM377.0 147.1h0.85v0.85h-0.85zM381.7 132.3h0.85v0.85h-0.85zM377.5 142.0h0.85v0.85h-0.85zM374.7 144.1h0.85v0.85h-0.85zM381.2 130.7h0.85v0.85h-0.85zM384.3 130.1h0.85v0.85h-0.85zM360.4 135.9h0.85v0.85h-0.85zM392.7 121.8h0.85v0.85h-0.85zM376.1 127.0h0.85v0.85h-0.85zM382.6 138.8h0.85v0.85h-0.85zM390.9 130.2h0.85v0.85h-0.85zM385.7 140.1h0.85v0.85h-0.85zM378.3 141.2h0.85v0.85h-0.85zM397.8 120.3h0.85v0.85h-0.85zM374.4 143.9h0.85v0.85h-0.85zM379.9 134.6h0.85v0.85h-0.85zM391.0 134.1h0.85v0.85h-0.85zM374.3 143.7h0.85v0.85h-0.85zM377.8 131.7h0.85v0.85h-0.85zM385.2 133.8h0.85v0.85h-0.85zM401.9 122.5h0.85v0.85h-0.85zM373.6 139.6h0.85v0.85h-0.85zM384.7 140.7h0.85v0.85h-0.85zM393.3 140.6h0.85v0.85h-0.85zM381.4 133.7h0.85v0.85h-0.85zM370.9 141.2h0.85v0.85h-0.85zM377.6 122.6h0.85v0.85h-0.85zM382.4 134.7h0.85v0.85h-0.85zM384.1 131.3h0.85v0.85h-0.85zM383.8 118.9h0.85v0.85h-0.85zM391.3 131.6h0.85v0.85h-0.85zM387.4 136.6h0.85v0.85h-0.85zM382.0 130.6h0.85v0.85h-0.85zM371.7 140.5h0.85v0.85h-0.85zM377.6 132.0h0.85v0.85h-0.85zM386.4 138.5h0.85v0.85h-0.85zM373.5 130.8h0.85v0.85h-0.85zM381.7 133.9h0.85v0.85h-0.85zM382.0 150.3h0.85v0.85h-0.85zM394.7 127.5h0.85v0.85h-0.85zM401.2 126.0h0.85v0.85h-0.85zM378.3 137.5h0.85v0.85h-0.85zM381.2 127.9h0.85v0.85h-0.85zM380.0 137.2h0.85v0.85h-0.85zM393.7 130.8h0.85v0.85h-0.85zM382.0 128.5h0.85v0.85h-0.85zM383.8 137.2h0.85v0.85h-0.85zM384.5 143.4h0.85v0.85h-0.85zM386.7 140.5h0.85v0.85h-0.85zM368.4 134.0h0.85v0.85h-0.85zM384.2 127.3h0.85v0.85h-0.85zM370.6 132.2h0.85v0.85h-0.85zM390.1 138.2h0.85v0.85h-0.85zM385.2 138.3h0.85v0.85h-0.85zM393.4 133.2h0.85v0.85h-0.85zM378.8 131.8h0.85v0.85h-0.85zM386.4 124.4h0.85v0.85h-0.85zM374.7 141.7h0.85v0.85h-0.85zM387.3 133.0h0.85v0.85h-0.85zM377.2 133.1h0.85v0.85h-0.85zM384.1 135.6h0.85v0.85h-0.85zM384.8 138.8h0.85v0.85h-0.85zM390.5 131.8h0.85v0.85h-0.85zM361.9 142.5h0.85v0.85h-0.85zM377.4 123.8h0.85v0.85h-0.85zM368.9 143.3h0.85v0.85h-0.85zM392.5 129.9h0.85v0.85h-0.85zM364.9 146.0h0.85v0.85h-0.85zM372.3 139.7h0.85v0.85h-0.85zM365.9 142.2h0.85v0.85h-0.85zM397.9 130.1h0.85v0.85h-0.85zM371.3 143.1h0.85v0.85h-0.85zM383.4 136.0h0.85v0.85h-0.85zM374.3 134.3h0.85v0.85h-0.85zM365.1 143.3h0.85v0.85h-0.85zM379.8 138.7h0.85v0.85h-0.85zM384.0 127.3h0.85v0.85h-0.85zM376.2 130.9h0.85v0.85h-0.85zM388.6 129.0h0.85v0.85h-0.85zM383.2 144.0h0.85v0.85h-0.85zM382.7 136.9h0.85v0.85h-0.85zM383.9 145.4h0.85v0.85h-0.85zM384.4 133.4h0.85v0.85h-0.85zM396.5 123.6h0.85v0.85h-0.85zM380.2 127.1h0.85v0.85h-0.85zM381.6 132.1h0.85v0.85h-0.85zM381.9 146.6h0.85v0.85h-0.85zM376.9 141.9h0.85v0.85h-0.85zM396.5 131.2h0.85v0.85h-0.85zM375.3 145.8h0.85v0.85h-0.85zM374.5 141.2h0.85v0.85h-0.85zM380.5 135.6h0.85v0.85h-0.85zM378.9 139.0h0.85v0.85h-0.85zM400.3 128.1h0.85v0.85h-0.85zM364.2 151.8h0.85v0.85h-0.85zM386.7 136.3h0.85v0.85h-0.85zM388.4 132.7h0.85v0.85h-0.85zM370.2 138.6h0.85v0.85h-0.85zM375.8 138.4h0.85v0.85h-0.85zM366.4 126.8h0.85v0.85h-0.85zM380.0 130.3h0.85v0.85h-0.85zM358.3 129.2h0.85v0.85h-0.85zM371.5 126.1h0.85v0.85h-0.85zM389.7 123.3h0.85v0.85h-0.85zM370.6 122.4h0.85v0.85h-0.85zM365.1 123.1h0.85v0.85h-0.85zM372.9 121.5h0.85v0.85h-0.85zM382.0 123.2h0.85v0.85h-0.85zM371.9 116.4h0.85v0.85h-0.85zM377.3 124.5h0.85v0.85h-0.85zM373.7 123.9h0.85v0.85h-0.85zM370.4 131.7h0.85v0.85h-0.85zM395.1 126.3h0.85v0.85h-0.85zM373.5 122.6h0.85v0.85h-0.85zM369.2 125.7h0.85v0.85h-0.85zM369.6 120.3h0.85v0.85h-0.85zM375.7 122.2h0.85v0.85h-0.85zM375.9 118.4h0.85v0.85h-0.85zM378.4 128.3h0.85v0.85h-0.85zM374.0 125.8h0.85v0.85h-0.85zM363.0 120.5h0.85v0.85h-0.85zM376.7 123.8h0.85v0.85h-0.85zM370.8 126.8h0.85v0.85h-0.85zM371.0 125.5h0.85v0.85h-0.85zM362.6 125.1h0.85v0.85h-0.85zM369.0 121.4h0.85v0.85h-0.85zM367.9 122.1h0.85v0.85h-0.85zM372.7 124.3h0.85v0.85h-0.85zM362.8 126.8h0.85v0.85h-0.85zM373.4 121.5h0.85v0.85h-0.85zM373.9 120.6h0.85v0.85h-0.85zM365.2 127.4h0.85v0.85h-0.85zM368.6 121.2h0.85v0.85h-0.85zM367.0 127.2h0.85v0.85h-0.85zM379.4 124.7h0.85v0.85h-0.85zM370.6 129.2h0.85v0.85h-0.85zM361.4 126.1h0.85v0.85h-0.85zM370.0 126.3h0.85v0.85h-0.85zM378.9 121.2h0.85v0.85h-0.85zM368.6 121.9h0.85v0.85h-0.85zM374.0 125.9h0.85v0.85h-0.85zM367.1 128.6h0.85v0.85h-0.85zM386.6 128.2h0.85v0.85h-0.85zM379.4 130.9h0.85v0.85h-0.85zM380.9 124.9h0.85v0.85h-0.85zM363.7 124.6h0.85v0.85h-0.85zM365.3 127.0h0.85v0.85h-0.85zM380.6 124.1h0.85v0.85h-0.85zM371.6 123.8h0.85v0.85h-0.85zM371.2 120.9h0.85v0.85h-0.85zM375.3 127.0h0.85v0.85h-0.85zM364.2 120.8h0.85v0.85h-0.85zM378.4 125.5h0.85v0.85h-0.85zM373.1 119.7h0.85v0.85h-0.85zM376.4 127.3h0.85v0.85h-0.85zM368.3 120.9h0.85v0.85h-0.85zM376.6 126.5h0.85v0.85h-0.85zM368.1 119.2h0.85v0.85h-0.85zM379.7 122.7h0.85v0.85h-0.85zM380.9 127.5h0.85v0.85h-0.85zM379.4 121.6h0.85v0.85h-0.85zM376.6 124.2h0.85v0.85h-0.85zM377.4 122.6h0.85v0.85h-0.85zM378.8 124.9h0.85v0.85h-0.85zM371.1 125.3h0.85v0.85h-0.85zM373.7 120.7h0.85v0.85h-0.85zM371.0 125.7h0.85v0.85h-0.85zM363.3 121.6h0.85v0.85h-0.85zM369.2 121.0h0.85v0.85h-0.85zM377.6 124.0h0.85v0.85h-0.85zM382.9 122.0h0.85v0.85h-0.85zM368.6 130.9h0.85v0.85h-0.85zM366.7 119.3h0.85v0.85h-0.85zM383.2 126.2h0.85v0.85h-0.85zM366.8 127.0h0.85v0.85h-0.85zM387.5 118.1h0.85v0.85h-0.85zM373.4 118.8h0.85v0.85h-0.85zM366.8 125.7h0.85v0.85h-0.85zM379.9 122.6h0.85v0.85h-0.85zM384.9 125.2h0.85v0.85h-0.85zM363.0 127.4h0.85v0.85h-0.85zM383.9 122.9h0.85v0.85h-0.85zM371.0 120.8h0.85v0.85h-0.85zM383.4 115.8h0.85v0.85h-0.85zM370.3 124.6h0.85v0.85h-0.85zM362.0 121.2h0.85v0.85h-0.85zM376.5 124.9h0.85v0.85h-0.85zM403.3 122.3h0.85v0.85h-0.85zM395.6 118.3h0.85v0.85h-0.85zM407.9 116.3h0.85v0.85h-0.85zM404.8 114.6h0.85v0.85h-0.85zM406.5 124.6h0.85v0.85h-0.85zM397.3 121.6h0.85v0.85h-0.85zM400.4 121.2h0.85v0.85h-0.85zM399.2 119.1h0.85v0.85h-0.85zM400.9 123.3h0.85v0.85h-0.85zM396.0 116.1h0.85v0.85h-0.85zM403.5 119.8h0.85v0.85h-0.85zM404.2 125.5h0.85v0.85h-0.85zM403.0 118.9h0.85v0.85h-0.85zM399.9 120.8h0.85v0.85h-0.85zM407.2 120.6h0.85v0.85h-0.85zM402.0 118.0h0.85v0.85h-0.85zM391.2 123.1h0.85v0.85h-0.85zM400.0 123.3h0.85v0.85h-0.85zM401.7 120.7h0.85v0.85h-0.85zM405.8 120.1h0.85v0.85h-0.85zM400.4 119.6h0.85v0.85h-0.85zM401.0 121.3h0.85v0.85h-0.85zM399.3 121.0h0.85v0.85h-0.85zM405.4 123.2h0.85v0.85h-0.85zM400.6 122.5h0.85v0.85h-0.85zM399.3 120.2h0.85v0.85h-0.85zM397.3 114.8h0.85v0.85h-0.85zM404.4 121.4h0.85v0.85h-0.85zM400.2 122.6h0.85v0.85h-0.85zM394.7 119.6h0.85v0.85h-0.85zM402.9 114.5h0.85v0.85h-0.85zM398.3 118.1h0.85v0.85h-0.85zM403.8 122.2h0.85v0.85h-0.85zM402.5 117.1h0.85v0.85h-0.85zM406.1 117.8h0.85v0.85h-0.85zM406.0 119.7h0.85v0.85h-0.85zM400.4 123.9h0.85v0.85h-0.85zM401.1 120.3h0.85v0.85h-0.85zM396.7 121.3h0.85v0.85h-0.85zM407.9 117.1h0.85v0.85h-0.85zM404.6 123.8h0.85v0.85h-0.85zM407.9 121.4h0.85v0.85h-0.85zM400.5 120.3h0.85v0.85h-0.85zM392.9 118.8h0.85v0.85h-0.85zM407.2 116.6h0.85v0.85h-0.85zM402.5 121.6h0.85v0.85h-0.85zM401.8 118.3h0.85v0.85h-0.85zM402.6 122.4h0.85v0.85h-0.85zM404.5 120.4h0.85v0.85h-0.85zM404.1 120.4h0.85v0.85h-0.85zM396.1 123.5h0.85v0.85h-0.85zM406.3 120.3h0.85v0.85h-0.85zM399.2 118.6h0.85v0.85h-0.85zM399.8 119.9h0.85v0.85h-0.85zM410.0 124.3h0.85v0.85h-0.85zM404.5 116.2h0.85v0.85h-0.85zM400.2 119.4h0.85v0.85h-0.85zM395.3 124.8h0.85v0.85h-0.85zM402.3 119.6h0.85v0.85h-0.85zM403.3 117.6h0.85v0.85h-0.85zM400.6 117.0h0.85v0.85h-0.85zM397.3 122.8h0.85v0.85h-0.85zM399.4 123.6h0.85v0.85h-0.85zM397.9 125.0h0.85v0.85h-0.85zM402.7 120.1h0.85v0.85h-0.85zM405.7 122.0h0.85v0.85h-0.85zM405.1 116.5h0.85v0.85h-0.85zM399.1 121.4h0.85v0.85h-0.85zM402.3 118.3h0.85v0.85h-0.85zM404.1 120.1h0.85v0.85h-0.85zM400.3 122.6h0.85v0.85h-0.85zM401.9 123.0h0.85v0.85h-0.85zM409.3 115.5h0.85v0.85h-0.85zM403.4 123.2h0.85v0.85h-0.85zM404.9 118.1h0.85v0.85h-0.85zM399.4 118.1h0.85v0.85h-0.85zM401.8 119.7h0.85v0.85h-0.85zM394.2 118.3h0.85v0.85h-0.85zM401.7 120.2h0.85v0.85h-0.85zM406.6 119.7h0.85v0.85h-0.85zM409.8 117.5h0.85v0.85h-0.85zM406.8 120.3h0.85v0.85h-0.85zM404.2 118.7h0.85v0.85h-0.85zM402.0 120.2h0.85v0.85h-0.85zM398.5 117.2h0.85v0.85h-0.85zM401.2 120.5h0.85v0.85h-0.85zM403.6 117.4h0.85v0.85h-0.85zM398.5 119.9h0.85v0.85h-0.85zM405.3 119.0h0.85v0.85h-0.85zM398.1 121.7h0.85v0.85h-0.85zM393.8 117.9h0.85v0.85h-0.85zM396.8 117.3h0.85v0.85h-0.85zM395.2 121.2h0.85v0.85h-0.85zM396.8 122.8h0.85v0.85h-0.85zM406.4 119.9h0.85v0.85h-0.85zM401.6 122.6h0.85v0.85h-0.85zM403.5 123.2h0.85v0.85h-0.85zM406.6 120.2h0.85v0.85h-0.85zM406.7 118.8h0.85v0.85h-0.85zM399.2 118.1h0.85v0.85h-0.85zM406.3 116.4h0.85v0.85h-0.85zM403.0 118.6h0.85v0.85h-0.85zM402.0 120.9h0.85v0.85h-0.85zM403.7 120.3h0.85v0.85h-0.85zM396.3 121.7h0.85v0.85h-0.85zM398.7 120.6h0.85v0.85h-0.85zM401.8 121.9h0.85v0.85h-0.85zM404.3 120.1h0.85v0.85h-0.85zM400.6 121.3h0.85v0.85h-0.85zM401.5 121.1h0.85v0.85h-0.85zM405.2 117.8h0.85v0.85h-0.85zM406.6 116.1h0.85v0.85h-0.85zM405.1 120.6h0.85v0.85h-0.85zM407.0 119.9h0.85v0.85h-0.85zM400.1 120.1h0.85v0.85h-0.85zM400.3 119.5h0.85v0.85h-0.85zM404.6 125.6h0.85v0.85h-0.85zM400.1 118.6h0.85v0.85h-0.85zM399.7 120.2h0.85v0.85h-0.85zM408.4 119.2h0.85v0.85h-0.85zM400.2 117.5h0.85v0.85h-0.85zM398.1 121.5h0.85v0.85h-0.85zM404.9 124.2h0.85v0.85h-0.85zM409.5 120.6h0.85v0.85h-0.85zM402.5 121.7h0.85v0.85h-0.85zM407.0 120.4h0.85v0.85h-0.85zM400.2 120.9h0.85v0.85h-0.85zM400.5 123.1h0.85v0.85h-0.85zM399.0 120.5h0.85v0.85h-0.85zM401.0 119.3h0.85v0.85h-0.85zM409.0 118.6h0.85v0.85h-0.85zM397.9 123.7h0.85v0.85h-0.85zM408.3 119.3h0.85v0.85h-0.85zM398.4 122.9h0.85v0.85h-0.85zM399.5 115.4h0.85v0.85h-0.85zM405.8 122.3h0.85v0.85h-0.85zM405.8 125.4h0.85v0.85h-0.85zM403.8 123.3h0.85v0.85h-0.85zM395.2 121.1h0.85v0.85h-0.85zM402.6 117.7h0.85v0.85h-0.85zM398.0 122.0h0.85v0.85h-0.85zM411.1 115.1h0.85v0.85h-0.85zM401.5 122.2h0.85v0.85h-0.85zM402.2 118.7h0.85v0.85h-0.85zM398.0 123.8h0.85v0.85h-0.85zM400.9 124.1h0.85v0.85h-0.85zM395.4 116.4h0.85v0.85h-0.85zM405.8 119.9h0.85v0.85h-0.85zM400.3 118.7h0.85v0.85h-0.85zM403.0 116.1h0.85v0.85h-0.85zM398.7 119.4h0.85v0.85h-0.85zM399.7 120.2h0.85v0.85h-0.85zM407.5 121.5h0.85v0.85h-0.85zM397.0 117.4h0.85v0.85h-0.85zM395.5 124.7h0.85v0.85h-0.85zM404.7 124.8h0.85v0.85h-0.85zM397.8 122.9h0.85v0.85h-0.85zM400.5 122.0h0.85v0.85h-0.85zM405.3 119.2h0.85v0.85h-0.85zM397.8 118.1h0.85v0.85h-0.85zM405.6 120.6h0.85v0.85h-0.85zM399.4 121.9h0.85v0.85h-0.85zM408.1 120.5h0.85v0.85h-0.85zM408.6 125.3h0.85v0.85h-0.85zM400.5 122.5h0.85v0.85h-0.85zM401.3 121.5h0.85v0.85h-0.85zM399.6 125.0h0.85v0.85h-0.85zM401.7 116.6h0.85v0.85h-0.85zM405.5 116.1h0.85v0.85h-0.85zM396.0 120.8h0.85v0.85h-0.85zM396.2 130.9h0.85v0.85h-0.85zM401.9 133.4h0.85v0.85h-0.85zM397.7 129.1h0.85v0.85h-0.85zM406.3 132.5h0.85v0.85h-0.85zM405.4 127.5h0.85v0.85h-0.85zM402.2 130.9h0.85v0.85h-0.85zM397.4 130.8h0.85v0.85h-0.85zM401.6 133.8h0.85v0.85h-0.85zM402.4 132.7h0.85v0.85h-0.85zM394.5 131.7h0.85v0.85h-0.85zM400.5 134.5h0.85v0.85h-0.85zM402.0 132.7h0.85v0.85h-0.85zM399.9 133.7h0.85v0.85h-0.85zM405.6 134.3h0.85v0.85h-0.85zM404.1 132.0h0.85v0.85h-0.85zM395.5 131.4h0.85v0.85h-0.85zM399.5 133.1h0.85v0.85h-0.85zM395.5 131.0h0.85v0.85h-0.85zM401.4 133.3h0.85v0.85h-0.85zM395.4 135.3h0.85v0.85h-0.85zM402.9 134.6h0.85v0.85h-0.85zM400.6 131.1h0.85v0.85h-0.85zM403.1 128.6h0.85v0.85h-0.85zM398.4 132.0h0.85v0.85h-0.85zM392.9 131.8h0.85v0.85h-0.85zM406.4 135.3h0.85v0.85h-0.85zM398.3 131.1h0.85v0.85h-0.85zM404.8 131.6h0.85v0.85h-0.85zM400.8 134.2h0.85v0.85h-0.85zM401.8 130.8h0.85v0.85h-0.85zM406.7 131.7h0.85v0.85h-0.85zM400.4 137.0h0.85v0.85h-0.85zM404.9 136.3h0.85v0.85h-0.85zM392.8 133.9h0.85v0.85h-0.85zM402.7 132.9h0.85v0.85h-0.85zM398.0 129.5h0.85v0.85h-0.85zM398.4 133.7h0.85v0.85h-0.85zM399.0 132.3h0.85v0.85h-0.85zM400.5 132.8h0.85v0.85h-0.85zM406.0 130.7h0.85v0.85h-0.85zM391.2 132.1h0.85v0.85h-0.85zM399.2 131.7h0.85v0.85h-0.85zM396.0 133.0h0.85v0.85h-0.85zM403.9 136.2h0.85v0.85h-0.85zM397.2 133.2h0.85v0.85h-0.85zM400.9 127.5h0.85v0.85h-0.85zM397.3 129.5h0.85v0.85h-0.85zM401.8 127.7h0.85v0.85h-0.85zM403.3 130.0h0.85v0.85h-0.85zM397.3 133.7h0.85v0.85h-0.85zM399.2 133.3h0.85v0.85h-0.85zM393.0 130.5h0.85v0.85h-0.85zM400.3 132.9h0.85v0.85h-0.85zM402.6 130.1h0.85v0.85h-0.85zM396.7 128.2h0.85v0.85h-0.85zM403.7 128.2h0.85v0.85h-0.85zM390.3 129.8h0.85v0.85h-0.85zM391.2 136.1h0.85v0.85h-0.85zM393.2 128.4h0.85v0.85h-0.85zM397.0 135.6h0.85v0.85h-0.85zM399.1 135.9h0.85v0.85h-0.85zM398.7 131.7h0.85v0.85h-0.85zM398.7 132.0h0.85v0.85h-0.85zM402.0 130.4h0.85v0.85h-0.85zM397.0 132.1h0.85v0.85h-0.85zM393.7 134.0h0.85v0.85h-0.85zM393.8 132.2h0.85v0.85h-0.85zM407.9 134.9h0.85v0.85h-0.85zM389.1 135.5h0.85v0.85h-0.85zM398.3 133.1h0.85v0.85h-0.85zM405.1 133.1h0.85v0.85h-0.85zM401.0 132.0h0.85v0.85h-0.85zM395.5 133.1h0.85v0.85h-0.85zM399.0 129.0h0.85v0.85h-0.85zM402.6 133.3h0.85v0.85h-0.85zM404.1 132.7h0.85v0.85h-0.85zM395.2 129.7h0.85v0.85h-0.85zM402.2 138.2h0.85v0.85h-0.85zM400.1 129.4h0.85v0.85h-0.85zM403.6 129.7h0.85v0.85h-0.85zM404.8 132.9h0.85v0.85h-0.85zM397.6 126.7h0.85v0.85h-0.85zM392.9 129.9h0.85v0.85h-0.85zM400.7 127.9h0.85v0.85h-0.85zM406.5 129.5h0.85v0.85h-0.85zM401.9 131.8h0.85v0.85h-0.85zM400.0 133.0h0.85v0.85h-0.85zM409.1 135.2h0.85v0.85h-0.85zM394.6 134.4h0.85v0.85h-0.85zM402.8 135.5h0.85v0.85h-0.85zM396.6 133.8h0.85v0.85h-0.85zM399.2 130.8h0.85v0.85h-0.85zM399.4 135.3h0.85v0.85h-0.85zM405.4 130.8h0.85v0.85h-0.85zM395.1 130.4h0.85v0.85h-0.85zM396.8 136.4h0.85v0.85h-0.85zM392.3 134.4h0.85v0.85h-0.85zM401.0 132.8h0.85v0.85h-0.85zM397.1 134.3h0.85v0.85h-0.85zM400.8 134.6h0.85v0.85h-0.85zM394.5 128.3h0.85v0.85h-0.85zM397.5 131.9h0.85v0.85h-0.85zM403.4 128.8h0.85v0.85h-0.85zM398.3 132.5h0.85v0.85h-0.85zM401.6 130.3h0.85v0.85h-0.85zM401.2 135.9h0.85v0.85h-0.85zM397.5 133.6h0.85v0.85h-0.85zM392.4 129.9h0.85v0.85h-0.85zM403.1 132.1h0.85v0.85h-0.85zM399.7 128.8h0.85v0.85h-0.85zM403.1 132.3h0.85v0.85h-0.85zM390.5 133.7h0.85v0.85h-0.85zM392.1 132.9h0.85v0.85h-0.85zM390.0 126.7h0.85v0.85h-0.85zM395.3 131.2h0.85v0.85h-0.85zM403.4 133.6h0.85v0.85h-0.85zM401.4 133.0h0.85v0.85h-0.85zM398.9 135.4h0.85v0.85h-0.85zM399.6 128.5h0.85v0.85h-0.85zM402.2 133.6h0.85v0.85h-0.85zM397.7 130.3h0.85v0.85h-0.85zM400.7 132.7h0.85v0.85h-0.85zM399.6 133.3h0.85v0.85h-0.85zM389.8 134.1h0.85v0.85h-0.85zM397.4 130.5h0.85v0.85h-0.85zM404.7 132.7h0.85v0.85h-0.85zM397.3 128.9h0.85v0.85h-0.85zM398.4 128.2h0.85v0.85h-0.85zM396.5 133.7h0.85v0.85h-0.85zM397.0 132.0h0.85v0.85h-0.85zM403.7 127.6h0.85v0.85h-0.85zM397.9 129.8h0.85v0.85h-0.85zM394.7 132.2h0.85v0.85h-0.85zM385.9 136.5h0.85v0.85h-0.85zM396.6 135.1h0.85v0.85h-0.85zM390.7 134.4h0.85v0.85h-0.85zM391.3 127.1h0.85v0.85h-0.85zM402.3 131.9h0.85v0.85h-0.85zM402.0 133.5h0.85v0.85h-0.85zM390.9 133.2h0.85v0.85h-0.85zM402.6 133.3h0.85v0.85h-0.85zM400.9 131.5h0.85v0.85h-0.85zM395.7 137.1h0.85v0.85h-0.85zM402.1 136.3h0.85v0.85h-0.85zM392.2 131.9h0.85v0.85h-0.85zM393.9 129.4h0.85v0.85h-0.85zM393.0 137.9h0.85v0.85h-0.85zM394.3 130.6h0.85v0.85h-0.85zM402.7 135.5h0.85v0.85h-0.85zM393.4 137.5h0.85v0.85h-0.85zM394.2 129.5h0.85v0.85h-0.85zM395.0 132.9h0.85v0.85h-0.85zM399.8 131.2h0.85v0.85h-0.85zM397.6 133.6h0.85v0.85h-0.85zM402.6 133.0h0.85v0.85h-0.85zM396.0 137.6h0.85v0.85h-0.85zM393.6 133.8h0.85v0.85h-0.85zM396.9 132.1h0.85v0.85h-0.85zM399.1 135.3h0.85v0.85h-0.85zM395.1 131.4h0.85v0.85h-0.85zM400.2 131.1h0.85v0.85h-0.85zM406.6 138.4h0.85v0.85h-0.85zM396.5 129.8h0.85v0.85h-0.85zM399.2 130.8h0.85v0.85h-0.85zM404.6 132.3h0.85v0.85h-0.85zM396.2 129.2h0.85v0.85h-0.85zM395.4 126.2h0.85v0.85h-0.85zM394.4 135.1h0.85v0.85h-0.85zM400.6 129.9h0.85v0.85h-0.85zM401.1 130.6h0.85v0.85h-0.85zM398.3 131.1h0.85v0.85h-0.85zM399.1 129.4h0.85v0.85h-0.85zM404.3 129.1h0.85v0.85h-0.85zM402.6 132.6h0.85v0.85h-0.85zM393.0 138.8h0.85v0.85h-0.85zM398.9 134.2h0.85v0.85h-0.85zM399.4 134.2h0.85v0.85h-0.85zM401.9 127.9h0.85v0.85h-0.85zM398.0 132.1h0.85v0.85h-0.85zM396.2 128.8h0.85v0.85h-0.85zM397.0 134.3h0.85v0.85h-0.85zM391.4 131.5h0.85v0.85h-0.85zM398.8 132.2h0.85v0.85h-0.85zM396.4 131.9h0.85v0.85h-0.85zM400.8 130.5h0.85v0.85h-0.85zM394.6 127.9h0.85v0.85h-0.85zM397.0 133.8h0.85v0.85h-0.85zM394.8 128.3h0.85v0.85h-0.85zM394.4 128.8h0.85v0.85h-0.85zM401.8 131.3h0.85v0.85h-0.85zM395.3 147.3h0.85v0.85h-0.85zM398.7 153.7h0.85v0.85h-0.85zM401.3 140.1h0.85v0.85h-0.85zM398.7 130.1h0.85v0.85h-0.85zM398.5 150.6h0.85v0.85h-0.85zM397.9 145.9h0.85v0.85h-0.85zM400.8 146.4h0.85v0.85h-0.85zM391.3 142.9h0.85v0.85h-0.85zM399.1 157.9h0.85v0.85h-0.85zM394.5 142.2h0.85v0.85h-0.85zM393.5 145.2h0.85v0.85h-0.85zM397.8 128.7h0.85v0.85h-0.85zM396.4 137.6h0.85v0.85h-0.85zM399.8 136.8h0.85v0.85h-0.85zM401.6 141.4h0.85v0.85h-0.85zM389.7 144.1h0.85v0.85h-0.85zM397.5 136.4h0.85v0.85h-0.85zM404.6 153.8h0.85v0.85h-0.85zM400.8 134.2h0.85v0.85h-0.85zM402.9 138.5h0.85v0.85h-0.85zM398.1 143.3h0.85v0.85h-0.85zM392.8 132.9h0.85v0.85h-0.85zM393.9 145.6h0.85v0.85h-0.85zM400.3 146.1h0.85v0.85h-0.85zM401.1 139.6h0.85v0.85h-0.85zM395.2 155.0h0.85v0.85h-0.85zM396.9 142.2h0.85v0.85h-0.85zM398.7 143.6h0.85v0.85h-0.85zM391.7 134.9h0.85v0.85h-0.85zM396.6 129.9h0.85v0.85h-0.85zM403.5 137.2h0.85v0.85h-0.85zM405.4 139.4h0.85v0.85h-0.85zM397.4 138.5h0.85v0.85h-0.85zM404.2 147.0h0.85v0.85h-0.85zM396.0 124.9h0.85v0.85h-0.85zM395.0 133.7h0.85v0.85h-0.85zM390.0 128.8h0.85v0.85h-0.85zM401.1 151.0h0.85v0.85h-0.85zM396.5 137.7h0.85v0.85h-0.85zM406.0 138.0h0.85v0.85h-0.85zM399.0 133.9h0.85v0.85h-0.85zM398.5 147.9h0.85v0.85h-0.85zM391.5 138.8h0.85v0.85h-0.85zM403.0 143.2h0.85v0.85h-0.85zM396.5 127.4h0.85v0.85h-0.85zM397.2 149.8h0.85v0.85h-0.85zM390.1 144.4h0.85v0.85h-0.85zM401.0 145.5h0.85v0.85h-0.85zM401.3 150.3h0.85v0.85h-0.85zM395.7 140.3h0.85v0.85h-0.85zM398.1 140.5h0.85v0.85h-0.85zM399.2 146.7h0.85v0.85h-0.85zM401.2 144.6h0.85v0.85h-0.85zM398.2 139.9h0.85v0.85h-0.85zM403.8 142.0h0.85v0.85h-0.85zM397.0 138.1h0.85v0.85h-0.85zM395.7 146.7h0.85v0.85h-0.85zM396.2 148.2h0.85v0.85h-0.85zM388.9 141.7h0.85v0.85h-0.85zM395.0 154.8h0.85v0.85h-0.85zM401.3 130.9h0.85v0.85h-0.85zM398.7 140.0h0.85v0.85h-0.85zM394.9 153.7h0.85v0.85h-0.85zM399.0 138.7h0.85v0.85h-0.85zM390.7 130.4h0.85v0.85h-0.85zM396.8 151.4h0.85v0.85h-0.85zM399.6 145.5h0.85v0.85h-0.85zM400.3 133.3h0.85v0.85h-0.85zM395.1 147.1h0.85v0.85h-0.85zM401.0 134.5h0.85v0.85h-0.85zM404.4 132.3h0.85v0.85h-0.85zM396.3 140.6h0.85v0.85h-0.85zM400.4 138.3h0.85v0.85h-0.85zM392.4 134.0h0.85v0.85h-0.85zM390.9 139.1h0.85v0.85h-0.85zM400.0 134.6h0.85v0.85h-0.85zM398.0 142.1h0.85v0.85h-0.85zM398.5 141.5h0.85v0.85h-0.85zM395.8 146.9h0.85v0.85h-0.85zM396.8 138.5h0.85v0.85h-0.85z" fill="#2f4fff" fill-opacity="0.5"/>
<g transform="translate(401.80 120.20) rotate(-15)" filter="url(#bl1)" opacity="0.55"><ellipse cx="0.00" cy="0" rx="4.68" ry="3.12" fill="#8a9aff" fill-opacity="0.45"/><ellipse cx="0.00" cy="0" rx="3.60" ry="2.40" fill="#3050ff" fill-opacity="0.85"/></g>
<g transform="translate(399.00 132.30) rotate(0)" filter="url(#bl1)" opacity="0.55"><ellipse cx="0.00" cy="0" rx="5.20" ry="3.25" fill="#8a9aff" fill-opacity="0.45"/><ellipse cx="0.00" cy="0" rx="4.00" ry="2.50" fill="#3050ff" fill-opacity="0.85"/></g>
<g transform="translate(374.20 150.00) rotate(-12)" filter="url(#bl07)" opacity="1.0"><ellipse cx="2.95" cy="0" rx="17.42" ry="6.76" fill="#8a9aff" fill-opacity="0.45"/><ellipse cx="2.14" cy="0" rx="13.40" ry="5.20" fill="#3050ff" fill-opacity="0.85"/><ellipse cx="1.77" cy="0" rx="11.52" ry="4.47" fill="#1438ff" fill-opacity="0.9"/><ellipse cx="1.45" cy="0" rx="9.92" ry="3.85" fill="#00b4f4" fill-opacity="1"/><ellipse cx="1.13" cy="0" rx="8.31" ry="3.22" fill="#2ad22a" fill-opacity="1"/><ellipse cx="0.38" cy="0" rx="4.56" ry="1.77" fill="#e6e000" fill-opacity="1"/><ellipse cx="-0.03" cy="0" rx="2.55" ry="0.99" fill="#ff4800" fill-opacity="1"/></g>
<rect x="389.70" y="109.30" width="20.40" height="46.10" fill="none" stroke="#3a3a3a" stroke-width="0.9"/>
<line x1="389.70" y1="124.30" x2="410.10" y2="124.30" stroke="#222" stroke-width="1.0"/>
<text x="356.80" y="106.60" font-size="7" text-anchor="start" fill="#000" stroke="#000" stroke-width="0.12">2 µM Olaparib</text>
<text x="409.30" y="114.20" font-size="5.7" text-anchor="end" fill="#000">2.8</text>
<text x="409.30" y="154.00" font-size="5.7" text-anchor="end" fill="#000">5.7</text>
<rect x="424.40" y="99.20" width="63.40" height="63.40" fill="none" stroke="#b0b0b0" stroke-width="0.8"/>
<line x1="422.70" y1="104.20" x2="424.40" y2="104.20" stroke="#555" stroke-width="0.7"/>
<line x1="422.70" y1="110.88" x2="424.40" y2="110.88" stroke="#555" stroke-width="0.7"/>
<line x1="422.70" y1="117.55" x2="424.40" y2="117.55" stroke="#555" stroke-width="0.7"/>
<line x1="422.70" y1="124.22" x2="424.40" y2="124.22" stroke="#555" stroke-width="0.7"/>
<line x1="422.70" y1="130.90" x2="424.40" y2="130.90" stroke="#555" stroke-width="0.7"/>
<line x1="422.70" y1="137.57" x2="424.40" y2="137.57" stroke="#555" stroke-width="0.7"/>
<line x1="422.70" y1="144.25" x2="424.40" y2="144.25" stroke="#555" stroke-width="0.7"/>
<line x1="422.70" y1="150.93" x2="424.40" y2="150.93" stroke="#555" stroke-width="0.7"/>
<line x1="422.70" y1="157.60" x2="424.40" y2="157.60" stroke="#555" stroke-width="0.7"/>
<line x1="428.40" y1="162.60" x2="428.40" y2="164.00" stroke="#777" stroke-width="0.6"/>
<line x1="432.09" y1="162.60" x2="432.09" y2="164.00" stroke="#777" stroke-width="0.6"/>
<line x1="435.79" y1="162.60" x2="435.79" y2="164.00" stroke="#777" stroke-width="0.6"/>
<line x1="439.48" y1="162.60" x2="439.48" y2="164.00" stroke="#777" stroke-width="0.6"/>
<line x1="443.17" y1="162.60" x2="443.17" y2="164.00" stroke="#777" stroke-width="0.6"/>
<line x1="446.87" y1="162.60" x2="446.87" y2="164.00" stroke="#777" stroke-width="0.6"/>
<line x1="450.56" y1="162.60" x2="450.56" y2="164.00" stroke="#777" stroke-width="0.6"/>
<line x1="454.25" y1="162.60" x2="454.25" y2="164.00" stroke="#777" stroke-width="0.6"/>
<line x1="457.95" y1="162.60" x2="457.95" y2="164.00" stroke="#777" stroke-width="0.6"/>
<line x1="461.64" y1="162.60" x2="461.64" y2="164.00" stroke="#777" stroke-width="0.6"/>
<line x1="465.33" y1="162.60" x2="465.33" y2="164.00" stroke="#777" stroke-width="0.6"/>
<line x1="469.03" y1="162.60" x2="469.03" y2="164.00" stroke="#777" stroke-width="0.6"/>
<line x1="472.72" y1="162.60" x2="472.72" y2="164.00" stroke="#777" stroke-width="0.6"/>
<line x1="476.41" y1="162.60" x2="476.41" y2="164.00" stroke="#777" stroke-width="0.6"/>
<line x1="480.11" y1="162.60" x2="480.11" y2="164.00" stroke="#777" stroke-width="0.6"/>
<line x1="483.80" y1="162.60" x2="483.80" y2="164.00" stroke="#777" stroke-width="0.6"/>
<rect x="422.90" y="149.60" width="1.50" height="1.60" fill="#222"/>
<rect x="436.40" y="162.40" width="2.20" height="1.60" fill="#222"/>
<path d="M426.4 149.6h0.85v0.85h-0.85zM426.6 149.8h0.85v0.85h-0.85zM439.5 148.2h0.85v0.85h-0.85zM460.9 150.8h0.85v0.85h-0.85zM452.6 148.7h0.85v0.85h-0.85zM434.7 148.4h0.85v0.85h-0.85zM453.8 155.1h0.85v0.85h-0.85zM428.5 152.4h0.85v0.85h-0.85zM454.6 153.6h0.85v0.85h-0.85zM437.8 150.6h0.85v0.85h-0.85zM451.7 153.0h0.85v0.85h-0.85zM449.9 152.5h0.85v0.85h-0.85zM439.1 153.6h0.85v0.85h-0.85zM446.4 156.6h0.85v0.85h-0.85zM429.6 149.9h0.85v0.85h-0.85zM441.5 151.1h0.85v0.85h-0.85zM455.5 150.3h0.85v0.85h-0.85zM450.9 146.8h0.85v0.85h-0.85zM443.5 150.5h0.85v0.85h-0.85zM430.3 152.1h0.85v0.85h-0.85zM455.2 149.0h0.85v0.85h-0.85zM432.8 153.8h0.85v0.85h-0.85zM446.8 149.4h0.85v0.85h-0.85zM427.9 154.2h0.85v0.85h-0.85zM461.0 155.0h0.85v0.85h-0.85zM455.6 151.7h0.85v0.85h-0.85zM435.6 147.9h0.85v0.85h-0.85zM435.8 154.3h0.85v0.85h-0.85zM426.6 150.1h0.85v0.85h-0.85zM425.6 149.5h0.85v0.85h-0.85zM447.8 150.8h0.85v0.85h-0.85zM450.0 149.1h0.85v0.85h-0.85zM446.7 153.3h0.85v0.85h-0.85zM445.6 152.5h0.85v0.85h-0.85zM435.7 153.7h0.85v0.85h-0.85zM446.8 152.0h0.85v0.85h-0.85zM442.5 150.1h0.85v0.85h-0.85zM460.2 152.8h0.85v0.85h-0.85zM458.4 149.4h0.85v0.85h-0.85zM436.9 158.1h0.85v0.85h-0.85zM438.4 149.9h0.85v0.85h-0.85zM459.0 149.0h0.85v0.85h-0.85zM464.0 153.5h0.85v0.85h-0.85zM437.3 150.4h0.85v0.85h-0.85zM445.3 149.9h0.85v0.85h-0.85zM457.1 151.6h0.85v0.85h-0.85zM432.4 152.7h0.85v0.85h-0.85zM450.2 152.5h0.85v0.85h-0.85zM438.8 149.7h0.85v0.85h-0.85zM471.1 151.6h0.85v0.85h-0.85zM447.6 152.7h0.85v0.85h-0.85zM440.8 152.5h0.85v0.85h-0.85zM438.4 142.5h0.85v0.85h-0.85zM455.2 148.2h0.85v0.85h-0.85zM450.6 148.5h0.85v0.85h-0.85zM429.4 149.9h0.85v0.85h-0.85zM445.1 151.0h0.85v0.85h-0.85zM426.3 152.9h0.85v0.85h-0.85zM433.4 152.1h0.85v0.85h-0.85zM426.9 150.2h0.85v0.85h-0.85zM426.5 150.6h0.85v0.85h-0.85zM434.2 155.1h0.85v0.85h-0.85zM430.7 148.9h0.85v0.85h-0.85zM448.8 151.3h0.85v0.85h-0.85zM452.1 154.6h0.85v0.85h-0.85zM439.6 151.4h0.85v0.85h-0.85zM429.0 145.2h0.85v0.85h-0.85zM452.2 151.5h0.85v0.85h-0.85zM451.2 153.2h0.85v0.85h-0.85zM450.4 151.7h0.85v0.85h-0.85zM454.2 149.8h0.85v0.85h-0.85zM439.9 152.8h0.85v0.85h-0.85zM427.3 151.6h0.85v0.85h-0.85zM436.3 150.8h0.85v0.85h-0.85zM449.3 151.3h0.85v0.85h-0.85zM433.2 151.2h0.85v0.85h-0.85zM434.0 149.6h0.85v0.85h-0.85zM425.7 149.3h0.85v0.85h-0.85zM428.4 150.6h0.85v0.85h-0.85zM452.6 148.0h0.85v0.85h-0.85zM447.9 147.2h0.85v0.85h-0.85zM428.5 153.9h0.85v0.85h-0.85zM429.4 149.9h0.85v0.85h-0.85zM435.7 150.4h0.85v0.85h-0.85zM449.1 150.1h0.85v0.85h-0.85zM428.4 150.6h0.85v0.85h-0.85zM440.4 150.6h0.85v0.85h-0.85zM427.3 148.4h0.85v0.85h-0.85zM447.5 152.9h0.85v0.85h-0.85zM453.3 148.7h0.85v0.85h-0.85zM428.5 153.2h0.85v0.85h-0.85zM433.1 145.5h0.85v0.85h-0.85zM452.1 147.7h0.85v0.85h-0.85zM437.8 153.1h0.85v0.85h-0.85zM435.9 150.1h0.85v0.85h-0.85zM448.7 148.8h0.85v0.85h-0.85zM444.8 151.5h0.85v0.85h-0.85zM455.9 147.8h0.85v0.85h-0.85zM452.0 150.7h0.85v0.85h-0.85zM435.5 144.7h0.85v0.85h-0.85zM441.0 149.3h0.85v0.85h-0.85zM441.7 148.8h0.85v0.85h-0.85zM426.1 151.9h0.85v0.85h-0.85zM430.7 152.8h0.85v0.85h-0.85zM454.2 148.3h0.85v0.85h-0.85zM454.5 149.0h0.85v0.85h-0.85zM445.9 145.2h0.85v0.85h-0.85zM440.8 144.3h0.85v0.85h-0.85zM449.0 154.5h0.85v0.85h-0.85zM448.2 150.3h0.85v0.85h-0.85zM457.0 148.8h0.85v0.85h-0.85zM437.7 148.6h0.85v0.85h-0.85zM439.7 147.7h0.85v0.85h-0.85zM439.5 154.0h0.85v0.85h-0.85zM465.2 150.3h0.85v0.85h-0.85zM453.9 155.2h0.85v0.85h-0.85zM431.4 150.0h0.85v0.85h-0.85zM438.5 144.4h0.85v0.85h-0.85zM434.0 152.7h0.85v0.85h-0.85zM442.7 149.5h0.85v0.85h-0.85zM445.1 149.9h0.85v0.85h-0.85zM470.1 154.6h0.85v0.85h-0.85zM454.9 153.5h0.85v0.85h-0.85zM447.8 150.5h0.85v0.85h-0.85zM434.1 148.5h0.85v0.85h-0.85zM440.7 151.8h0.85v0.85h-0.85zM436.6 148.9h0.85v0.85h-0.85zM443.1 153.7h0.85v0.85h-0.85zM454.6 153.0h0.85v0.85h-0.85zM458.3 152.1h0.85v0.85h-0.85zM438.0 152.0h0.85v0.85h-0.85zM460.6 149.8h0.85v0.85h-0.85zM447.5 152.8h0.85v0.85h-0.85zM457.4 149.9h0.85v0.85h-0.85zM449.4 152.1h0.85v0.85h-0.85zM455.6 148.0h0.85v0.85h-0.85zM443.2 150.8h0.85v0.85h-0.85zM432.6 151.6h0.85v0.85h-0.85zM450.7 148.5h0.85v0.85h-0.85zM451.1 149.4h0.85v0.85h-0.85zM467.8 149.1h0.85v0.85h-0.85zM440.2 148.6h0.85v0.85h-0.85zM455.4 151.6h0.85v0.85h-0.85zM427.5 154.5h0.85v0.85h-0.85zM439.8 151.4h0.85v0.85h-0.85zM468.1 146.3h0.85v0.85h-0.85zM459.6 150.8h0.85v0.85h-0.85zM432.0 153.2h0.85v0.85h-0.85zM459.8 149.8h0.85v0.85h-0.85zM456.8 153.4h0.85v0.85h-0.85zM452.0 152.1h0.85v0.85h-0.85zM447.2 151.6h0.85v0.85h-0.85zM445.5 149.8h0.85v0.85h-0.85zM432.2 149.2h0.85v0.85h-0.85zM436.4 149.9h0.85v0.85h-0.85zM451.4 150.7h0.85v0.85h-0.85zM444.3 151.9h0.85v0.85h-0.85zM464.9 151.6h0.85v0.85h-0.85zM438.6 149.7h0.85v0.85h-0.85zM438.6 151.5h0.85v0.85h-0.85zM446.0 146.3h0.85v0.85h-0.85zM447.2 148.5h0.85v0.85h-0.85zM443.5 148.5h0.85v0.85h-0.85zM432.8 150.0h0.85v0.85h-0.85zM460.6 149.8h0.85v0.85h-0.85zM434.7 149.9h0.85v0.85h-0.85zM451.2 148.3h0.85v0.85h-0.85zM439.2 152.3h0.85v0.85h-0.85zM428.3 151.3h0.85v0.85h-0.85zM459.7 146.3h0.85v0.85h-0.85zM432.4 147.6h0.85v0.85h-0.85zM447.9 155.0h0.85v0.85h-0.85zM438.4 149.4h0.85v0.85h-0.85zM451.7 149.5h0.85v0.85h-0.85zM441.5 150.8h0.85v0.85h-0.85zM437.3 150.0h0.85v0.85h-0.85zM468.7 150.4h0.85v0.85h-0.85zM440.1 154.6h0.85v0.85h-0.85zM440.8 151.1h0.85v0.85h-0.85zM429.7 152.7h0.85v0.85h-0.85zM433.7 153.5h0.85v0.85h-0.85zM450.5 148.0h0.85v0.85h-0.85zM449.5 154.9h0.85v0.85h-0.85zM442.8 152.3h0.85v0.85h-0.85zM434.3 153.0h0.85v0.85h-0.85zM451.0 148.3h0.85v0.85h-0.85zM455.5 129.8h0.85v0.85h-0.85zM446.7 135.8h0.85v0.85h-0.85zM466.0 111.2h0.85v0.85h-0.85zM461.2 133.1h0.85v0.85h-0.85zM455.1 139.6h0.85v0.85h-0.85zM457.6 135.3h0.85v0.85h-0.85zM458.1 124.7h0.85v0.85h-0.85zM472.2 135.4h0.85v0.85h-0.85zM466.6 138.2h0.85v0.85h-0.85zM459.4 121.2h0.85v0.85h-0.85zM463.0 120.8h0.85v0.85h-0.85zM449.3 149.2h0.85v0.85h-0.85zM443.9 132.2h0.85v0.85h-0.85zM447.2 142.5h0.85v0.85h-0.85zM453.2 132.4h0.85v0.85h-0.85zM459.5 117.7h0.85v0.85h-0.85zM456.0 126.5h0.85v0.85h-0.85zM435.2 132.1h0.85v0.85h-0.85zM446.9 132.1h0.85v0.85h-0.85zM448.9 113.6h0.85v0.85h-0.85zM461.0 149.9h0.85v0.85h-0.85zM460.0 142.2h0.85v0.85h-0.85zM461.5 137.5h0.85v0.85h-0.85zM439.7 148.8h0.85v0.85h-0.85zM463.9 132.5h0.85v0.85h-0.85zM462.1 137.4h0.85v0.85h-0.85zM462.4 134.2h0.85v0.85h-0.85zM449.8 145.7h0.85v0.85h-0.85zM441.1 133.7h0.85v0.85h-0.85zM450.0 140.0h0.85v0.85h-0.85zM451.1 127.9h0.85v0.85h-0.85zM446.1 125.7h0.85v0.85h-0.85zM446.7 125.4h0.85v0.85h-0.85zM468.5 121.4h0.85v0.85h-0.85zM468.3 128.7h0.85v0.85h-0.85zM438.9 130.7h0.85v0.85h-0.85zM457.0 147.8h0.85v0.85h-0.85zM473.8 127.8h0.85v0.85h-0.85zM447.6 133.2h0.85v0.85h-0.85zM460.3 119.5h0.85v0.85h-0.85zM464.2 120.0h0.85v0.85h-0.85zM453.5 142.6h0.85v0.85h-0.85zM447.9 132.8h0.85v0.85h-0.85zM446.6 126.0h0.85v0.85h-0.85zM447.4 141.5h0.85v0.85h-0.85zM432.9 128.8h0.85v0.85h-0.85zM449.8 136.8h0.85v0.85h-0.85zM465.4 132.8h0.85v0.85h-0.85zM450.4 138.1h0.85v0.85h-0.85zM455.0 138.9h0.85v0.85h-0.85zM451.3 139.3h0.85v0.85h-0.85zM445.7 147.6h0.85v0.85h-0.85zM464.5 122.1h0.85v0.85h-0.85zM429.2 146.4h0.85v0.85h-0.85zM445.8 136.7h0.85v0.85h-0.85zM456.1 128.1h0.85v0.85h-0.85zM448.4 150.8h0.85v0.85h-0.85zM466.1 137.3h0.85v0.85h-0.85zM464.3 125.5h0.85v0.85h-0.85zM441.2 135.3h0.85v0.85h-0.85zM449.6 127.1h0.85v0.85h-0.85zM442.5 140.4h0.85v0.85h-0.85zM464.0 136.8h0.85v0.85h-0.85zM454.7 134.1h0.85v0.85h-0.85zM453.5 130.9h0.85v0.85h-0.85zM458.5 117.9h0.85v0.85h-0.85zM460.8 134.2h0.85v0.85h-0.85zM464.3 124.0h0.85v0.85h-0.85zM456.8 127.6h0.85v0.85h-0.85zM443.4 142.8h0.85v0.85h-0.85zM463.7 140.4h0.85v0.85h-0.85zM455.1 128.1h0.85v0.85h-0.85zM450.5 153.6h0.85v0.85h-0.85zM469.6 129.5h0.85v0.85h-0.85zM453.0 132.6h0.85v0.85h-0.85zM460.0 135.0h0.85v0.85h-0.85zM444.5 139.1h0.85v0.85h-0.85zM448.0 127.6h0.85v0.85h-0.85zM453.0 129.0h0.85v0.85h-0.85zM444.5 130.3h0.85v0.85h-0.85zM455.7 135.1h0.85v0.85h-0.85zM435.7 149.4h0.85v0.85h-0.85zM466.0 125.5h0.85v0.85h-0.85zM448.2 146.2h0.85v0.85h-0.85zM446.4 142.1h0.85v0.85h-0.85zM435.5 129.2h0.85v0.85h-0.85zM457.3 129.6h0.85v0.85h-0.85zM440.1 135.0h0.85v0.85h-0.85zM454.9 131.2h0.85v0.85h-0.85zM452.4 148.0h0.85v0.85h-0.85zM459.7 106.0h0.85v0.85h-0.85zM457.5 129.7h0.85v0.85h-0.85zM466.9 117.2h0.85v0.85h-0.85zM433.5 130.0h0.85v0.85h-0.85zM461.0 131.4h0.85v0.85h-0.85zM444.9 140.5h0.85v0.85h-0.85zM453.8 125.5h0.85v0.85h-0.85zM453.3 123.5h0.85v0.85h-0.85zM441.1 139.5h0.85v0.85h-0.85zM432.9 131.8h0.85v0.85h-0.85zM435.2 139.3h0.85v0.85h-0.85zM444.4 136.5h0.85v0.85h-0.85zM442.5 138.2h0.85v0.85h-0.85zM440.4 143.7h0.85v0.85h-0.85zM447.0 126.2h0.85v0.85h-0.85zM459.4 131.7h0.85v0.85h-0.85zM439.2 140.4h0.85v0.85h-0.85zM440.1 129.5h0.85v0.85h-0.85zM467.2 116.1h0.85v0.85h-0.85zM469.0 120.0h0.85v0.85h-0.85zM473.9 117.7h0.85v0.85h-0.85zM472.4 120.5h0.85v0.85h-0.85zM469.1 116.5h0.85v0.85h-0.85zM470.6 123.0h0.85v0.85h-0.85zM471.4 109.9h0.85v0.85h-0.85zM478.7 114.4h0.85v0.85h-0.85zM468.0 119.7h0.85v0.85h-0.85zM472.4 112.7h0.85v0.85h-0.85zM473.4 120.6h0.85v0.85h-0.85zM466.7 113.7h0.85v0.85h-0.85zM471.3 118.3h0.85v0.85h-0.85zM471.2 114.8h0.85v0.85h-0.85zM468.6 116.5h0.85v0.85h-0.85zM472.8 118.6h0.85v0.85h-0.85zM474.6 117.6h0.85v0.85h-0.85zM475.0 116.7h0.85v0.85h-0.85zM469.7 125.5h0.85v0.85h-0.85zM471.3 118.0h0.85v0.85h-0.85zM479.9 114.6h0.85v0.85h-0.85zM466.1 121.2h0.85v0.85h-0.85zM471.4 120.9h0.85v0.85h-0.85zM474.1 122.3h0.85v0.85h-0.85zM471.1 124.3h0.85v0.85h-0.85zM473.1 114.7h0.85v0.85h-0.85zM471.2 121.7h0.85v0.85h-0.85zM473.5 122.0h0.85v0.85h-0.85zM475.6 118.0h0.85v0.85h-0.85zM469.6 118.9h0.85v0.85h-0.85zM471.3 107.5h0.85v0.85h-0.85zM470.3 116.0h0.85v0.85h-0.85zM468.9 124.3h0.85v0.85h-0.85zM470.4 111.7h0.85v0.85h-0.85zM466.0 116.1h0.85v0.85h-0.85zM473.5 119.0h0.85v0.85h-0.85zM477.3 120.0h0.85v0.85h-0.85zM477.3 123.7h0.85v0.85h-0.85zM475.6 111.8h0.85v0.85h-0.85zM466.6 118.1h0.85v0.85h-0.85zM476.6 121.0h0.85v0.85h-0.85zM467.6 113.4h0.85v0.85h-0.85zM470.3 117.9h0.85v0.85h-0.85zM477.9 124.6h0.85v0.85h-0.85zM466.2 122.6h0.85v0.85h-0.85zM473.9 119.9h0.85v0.85h-0.85zM471.6 108.9h0.85v0.85h-0.85zM469.9 117.5h0.85v0.85h-0.85zM467.0 119.4h0.85v0.85h-0.85zM472.2 116.9h0.85v0.85h-0.85zM468.6 117.8h0.85v0.85h-0.85zM474.7 128.8h0.85v0.85h-0.85zM475.4 117.2h0.85v0.85h-0.85zM465.0 114.6h0.85v0.85h-0.85zM468.5 118.9h0.85v0.85h-0.85zM469.2 116.9h0.85v0.85h-0.85zM465.8 116.9h0.85v0.85h-0.85zM466.0 117.7h0.85v0.85h-0.85zM470.9 120.7h0.85v0.85h-0.85zM469.7 118.8h0.85v0.85h-0.85zM463.9 113.8h0.85v0.85h-0.85zM468.3 117.5h0.85v0.85h-0.85zM472.6 119.7h0.85v0.85h-0.85zM465.7 116.4h0.85v0.85h-0.85zM466.8 122.0h0.85v0.85h-0.85zM476.9 120.7h0.85v0.85h-0.85zM475.8 114.5h0.85v0.85h-0.85zM464.0 119.1h0.85v0.85h-0.85zM465.1 124.9h0.85v0.85h-0.85zM472.0 123.5h0.85v0.85h-0.85zM465.7 117.8h0.85v0.85h-0.85zM469.5 121.1h0.85v0.85h-0.85zM468.7 115.6h0.85v0.85h-0.85zM472.7 112.9h0.85v0.85h-0.85zM460.4 119.9h0.85v0.85h-0.85zM461.7 118.9h0.85v0.85h-0.85zM465.6 119.8h0.85v0.85h-0.85zM474.6 117.9h0.85v0.85h-0.85zM469.9 119.1h0.85v0.85h-0.85zM463.7 116.2h0.85v0.85h-0.85zM472.5 119.7h0.85v0.85h-0.85zM473.3 120.9h0.85v0.85h-0.85zM469.5 117.8h0.85v0.85h-0.85zM469.2 120.8h0.85v0.85h-0.85zM472.3 111.8h0.85v0.85h-0.85zM475.3 115.2h0.85v0.85h-0.85zM471.1 123.1h0.85v0.85h-0.85zM472.6 124.2h0.85v0.85h-0.85zM470.3 118.9h0.85v0.85h-0.85zM469.0 117.6h0.85v0.85h-0.85zM466.8 113.6h0.85v0.85h-0.85zM471.5 119.3h0.85v0.85h-0.85zM469.3 120.7h0.85v0.85h-0.85zM469.5 112.8h0.85v0.85h-0.85zM474.2 120.0h0.85v0.85h-0.85zM472.5 119.7h0.85v0.85h-0.85zM474.0 119.5h0.85v0.85h-0.85zM464.2 114.1h0.85v0.85h-0.85zM472.7 119.9h0.85v0.85h-0.85zM468.1 112.8h0.85v0.85h-0.85zM467.3 123.2h0.85v0.85h-0.85zM467.1 118.5h0.85v0.85h-0.85zM475.3 113.9h0.85v0.85h-0.85zM473.8 122.7h0.85v0.85h-0.85zM467.6 122.0h0.85v0.85h-0.85zM465.9 115.7h0.85v0.85h-0.85zM470.6 125.7h0.85v0.85h-0.85zM468.7 114.5h0.85v0.85h-0.85zM477.1 119.1h0.85v0.85h-0.85zM464.7 122.1h0.85v0.85h-0.85zM463.2 110.1h0.85v0.85h-0.85zM469.5 121.5h0.85v0.85h-0.85zM470.5 117.8h0.85v0.85h-0.85zM471.0 117.9h0.85v0.85h-0.85zM473.5 114.2h0.85v0.85h-0.85zM478.8 119.2h0.85v0.85h-0.85zM469.1 114.1h0.85v0.85h-0.85zM468.3 114.6h0.85v0.85h-0.85zM463.5 116.4h0.85v0.85h-0.85zM471.5 113.7h0.85v0.85h-0.85zM473.9 123.5h0.85v0.85h-0.85zM469.5 113.3h0.85v0.85h-0.85zM475.2 115.4h0.85v0.85h-0.85zM470.6 116.9h0.85v0.85h-0.85zM476.6 118.0h0.85v0.85h-0.85zM471.8 120.8h0.85v0.85h-0.85zM466.3 120.9h0.85v0.85h-0.85zM468.0 116.9h0.85v0.85h-0.85zM464.4 116.7h0.85v0.85h-0.85zM463.6 118.1h0.85v0.85h-0.85zM471.6 120.9h0.85v0.85h-0.85zM474.0 120.4h0.85v0.85h-0.85zM478.3 116.2h0.85v0.85h-0.85zM470.3 110.8h0.85v0.85h-0.85zM469.6 125.5h0.85v0.85h-0.85zM466.1 121.3h0.85v0.85h-0.85zM474.4 118.9h0.85v0.85h-0.85zM472.1 119.2h0.85v0.85h-0.85zM468.1 116.2h0.85v0.85h-0.85zM473.3 114.5h0.85v0.85h-0.85zM472.7 116.8h0.85v0.85h-0.85zM463.0 117.2h0.85v0.85h-0.85zM473.5 115.8h0.85v0.85h-0.85zM471.0 112.9h0.85v0.85h-0.85zM468.9 116.9h0.85v0.85h-0.85zM468.8 120.0h0.85v0.85h-0.85zM477.5 116.3h0.85v0.85h-0.85zM476.6 118.1h0.85v0.85h-0.85zM477.8 110.8h0.85v0.85h-0.85zM465.9 117.3h0.85v0.85h-0.85zM467.9 117.6h0.85v0.85h-0.85zM474.1 113.7h0.85v0.85h-0.85zM465.7 111.9h0.85v0.85h-0.85zM467.6 119.4h0.85v0.85h-0.85zM463.3 115.2h0.85v0.85h-0.85zM477.9 119.7h0.85v0.85h-0.85zM474.8 116.5h0.85v0.85h-0.85zM472.3 120.2h0.85v0.85h-0.85zM471.4 116.8h0.85v0.85h-0.85zM468.8 112.7h0.85v0.85h-0.85zM468.9 117.7h0.85v0.85h-0.85zM473.0 116.9h0.85v0.85h-0.85zM467.7 120.3h0.85v0.85h-0.85zM475.4 116.4h0.85v0.85h-0.85zM468.5 116.6h0.85v0.85h-0.85zM467.0 121.0h0.85v0.85h-0.85zM475.7 122.1h0.85v0.85h-0.85zM469.9 120.7h0.85v0.85h-0.85zM472.7 121.6h0.85v0.85h-0.85zM468.8 119.6h0.85v0.85h-0.85zM461.5 120.7h0.85v0.85h-0.85zM472.7 121.1h0.85v0.85h-0.85zM465.1 119.4h0.85v0.85h-0.85zM474.8 118.2h0.85v0.85h-0.85zM464.3 118.5h0.85v0.85h-0.85zM463.0 126.4h0.85v0.85h-0.85zM471.7 118.0h0.85v0.85h-0.85zM472.2 117.2h0.85v0.85h-0.85zM470.9 116.7h0.85v0.85h-0.85zM465.6 117.9h0.85v0.85h-0.85zM474.1 118.9h0.85v0.85h-0.85zM464.6 114.0h0.85v0.85h-0.85zM468.6 111.1h0.85v0.85h-0.85zM467.3 119.0h0.85v0.85h-0.85zM469.0 112.4h0.85v0.85h-0.85zM473.9 118.9h0.85v0.85h-0.85zM468.0 118.5h0.85v0.85h-0.85zM472.8 122.0h0.85v0.85h-0.85zM473.3 123.8h0.85v0.85h-0.85zM463.7 119.3h0.85v0.85h-0.85zM465.8 116.1h0.85v0.85h-0.85zM469.0 113.9h0.85v0.85h-0.85zM468.1 115.2h0.85v0.85h-0.85zM471.7 118.1h0.85v0.85h-0.85zM462.8 110.8h0.85v0.85h-0.85zM473.4 118.3h0.85v0.85h-0.85zM473.5 118.0h0.85v0.85h-0.85zM469.8 120.3h0.85v0.85h-0.85zM465.0 116.8h0.85v0.85h-0.85zM470.5 118.4h0.85v0.85h-0.85zM467.4 126.1h0.85v0.85h-0.85zM468.4 131.5h0.85v0.85h-0.85zM463.8 132.5h0.85v0.85h-0.85zM470.4 132.6h0.85v0.85h-0.85zM475.4 126.3h0.85v0.85h-0.85zM470.6 130.6h0.85v0.85h-0.85zM471.3 124.1h0.85v0.85h-0.85zM466.6 134.8h0.85v0.85h-0.85zM475.0 127.0h0.85v0.85h-0.85zM467.3 130.0h0.85v0.85h-0.85zM472.8 129.3h0.85v0.85h-0.85zM470.4 128.8h0.85v0.85h-0.85zM466.6 126.9h0.85v0.85h-0.85zM473.6 124.0h0.85v0.85h-0.85zM470.1 138.0h0.85v0.85h-0.85zM470.6 132.1h0.85v0.85h-0.85zM471.6 132.2h0.85v0.85h-0.85zM469.9 139.5h0.85v0.85h-0.85zM468.7 130.7h0.85v0.85h-0.85zM471.6 133.3h0.85v0.85h-0.85zM468.6 131.2h0.85v0.85h-0.85zM470.2 135.9h0.85v0.85h-0.85zM467.7 133.1h0.85v0.85h-0.85zM464.8 132.4h0.85v0.85h-0.85zM467.6 130.1h0.85v0.85h-0.85zM468.3 132.2h0.85v0.85h-0.85zM470.1 135.8h0.85v0.85h-0.85zM474.1 122.8h0.85v0.85h-0.85zM464.1 130.6h0.85v0.85h-0.85zM470.5 129.5h0.85v0.85h-0.85zM462.3 129.9h0.85v0.85h-0.85zM466.3 123.2h0.85v0.85h-0.85zM468.2 134.1h0.85v0.85h-0.85zM462.1 127.7h0.85v0.85h-0.85zM463.5 130.2h0.85v0.85h-0.85zM470.5 129.1h0.85v0.85h-0.85zM470.3 124.5h0.85v0.85h-0.85zM469.6 129.3h0.85v0.85h-0.85zM467.2 123.8h0.85v0.85h-0.85zM477.5 127.4h0.85v0.85h-0.85zM469.4 129.9h0.85v0.85h-0.85zM467.0 131.1h0.85v0.85h-0.85zM475.9 131.4h0.85v0.85h-0.85zM472.2 130.6h0.85v0.85h-0.85zM468.7 139.7h0.85v0.85h-0.85zM474.2 132.9h0.85v0.85h-0.85zM470.5 126.2h0.85v0.85h-0.85zM472.3 128.7h0.85v0.85h-0.85zM470.8 128.5h0.85v0.85h-0.85zM466.4 130.4h0.85v0.85h-0.85zM473.4 128.7h0.85v0.85h-0.85zM470.6 127.7h0.85v0.85h-0.85zM466.5 137.7h0.85v0.85h-0.85zM467.3 131.3h0.85v0.85h-0.85zM473.3 129.8h0.85v0.85h-0.85zM468.7 130.1h0.85v0.85h-0.85zM470.2 130.3h0.85v0.85h-0.85zM472.3 136.7h0.85v0.85h-0.85zM470.4 133.0h0.85v0.85h-0.85zM464.7 135.6h0.85v0.85h-0.85zM472.2 118.7h0.85v0.85h-0.85zM473.3 132.4h0.85v0.85h-0.85zM473.0 135.4h0.85v0.85h-0.85zM475.7 139.0h0.85v0.85h-0.85zM471.3 131.3h0.85v0.85h-0.85zM472.7 124.3h0.85v0.85h-0.85zM475.6 133.5h0.85v0.85h-0.85zM469.0 128.7h0.85v0.85h-0.85zM476.1 124.0h0.85v0.85h-0.85zM476.1 128.7h0.85v0.85h-0.85zM472.7 135.4h0.85v0.85h-0.85zM476.4 135.9h0.85v0.85h-0.85zM473.0 134.0h0.85v0.85h-0.85zM466.9 127.0h0.85v0.85h-0.85zM474.0 141.2h0.85v0.85h-0.85zM471.1 126.5h0.85v0.85h-0.85zM471.4 130.8h0.85v0.85h-0.85zM470.5 125.4h0.85v0.85h-0.85zM474.8 136.4h0.85v0.85h-0.85zM471.9 132.9h0.85v0.85h-0.85zM467.6 134.7h0.85v0.85h-0.85zM471.7 131.5h0.85v0.85h-0.85zM472.6 130.9h0.85v0.85h-0.85zM467.5 131.9h0.85v0.85h-0.85zM468.5 123.6h0.85v0.85h-0.85zM468.7 135.1h0.85v0.85h-0.85zM467.9 134.8h0.85v0.85h-0.85zM471.2 129.6h0.85v0.85h-0.85zM473.6 131.1h0.85v0.85h-0.85zM476.6 132.4h0.85v0.85h-0.85zM474.2 137.4h0.85v0.85h-0.85zM473.6 132.9h0.85v0.85h-0.85zM474.0 131.3h0.85v0.85h-0.85zM474.7 129.1h0.85v0.85h-0.85zM468.7 125.2h0.85v0.85h-0.85zM472.4 128.8h0.85v0.85h-0.85zM471.1 131.5h0.85v0.85h-0.85zM469.5 130.2h0.85v0.85h-0.85zM468.4 131.5h0.85v0.85h-0.85zM468.2 134.2h0.85v0.85h-0.85zM469.1 132.9h0.85v0.85h-0.85zM465.7 132.3h0.85v0.85h-0.85zM471.8 133.8h0.85v0.85h-0.85zM469.9 131.9h0.85v0.85h-0.85zM470.4 131.1h0.85v0.85h-0.85zM471.2 133.1h0.85v0.85h-0.85zM472.5 124.3h0.85v0.85h-0.85zM467.9 136.2h0.85v0.85h-0.85zM469.6 126.0h0.85v0.85h-0.85zM464.4 134.5h0.85v0.85h-0.85zM462.2 131.2h0.85v0.85h-0.85zM463.2 135.6h0.85v0.85h-0.85zM475.4 131.3h0.85v0.85h-0.85zM463.6 127.4h0.85v0.85h-0.85zM471.7 135.5h0.85v0.85h-0.85zM475.2 131.9h0.85v0.85h-0.85zM468.4 131.7h0.85v0.85h-0.85zM475.7 131.5h0.85v0.85h-0.85zM476.5 135.2h0.85v0.85h-0.85zM473.3 134.5h0.85v0.85h-0.85zM478.3 132.1h0.85v0.85h-0.85zM472.2 125.0h0.85v0.85h-0.85zM467.5 129.6h0.85v0.85h-0.85zM471.8 131.6h0.85v0.85h-0.85zM468.5 138.4h0.85v0.85h-0.85zM465.5 132.7h0.85v0.85h-0.85zM465.5 130.8h0.85v0.85h-0.85zM478.1 136.0h0.85v0.85h-0.85zM468.1 130.8h0.85v0.85h-0.85zM469.9 131.1h0.85v0.85h-0.85zM467.7 131.8h0.85v0.85h-0.85zM470.5 125.2h0.85v0.85h-0.85zM469.2 135.0h0.85v0.85h-0.85zM468.6 132.9h0.85v0.85h-0.85zM465.8 130.1h0.85v0.85h-0.85zM465.1 126.6h0.85v0.85h-0.85zM467.4 132.1h0.85v0.85h-0.85zM471.1 136.8h0.85v0.85h-0.85zM477.3 128.7h0.85v0.85h-0.85zM473.7 127.0h0.85v0.85h-0.85zM476.4 132.9h0.85v0.85h-0.85zM471.7 124.8h0.85v0.85h-0.85zM469.7 122.3h0.85v0.85h-0.85zM465.4 129.4h0.85v0.85h-0.85zM470.1 128.5h0.85v0.85h-0.85zM462.6 130.1h0.85v0.85h-0.85zM469.0 129.0h0.85v0.85h-0.85zM475.8 132.6h0.85v0.85h-0.85zM471.2 130.3h0.85v0.85h-0.85zM474.0 128.8h0.85v0.85h-0.85zM468.7 129.4h0.85v0.85h-0.85zM465.3 133.8h0.85v0.85h-0.85zM468.4 135.1h0.85v0.85h-0.85zM468.7 134.8h0.85v0.85h-0.85zM474.3 134.0h0.85v0.85h-0.85zM477.0 118.0h0.85v0.85h-0.85zM467.5 127.2h0.85v0.85h-0.85zM468.8 130.0h0.85v0.85h-0.85zM469.6 132.1h0.85v0.85h-0.85zM468.9 124.8h0.85v0.85h-0.85zM476.2 142.3h0.85v0.85h-0.85zM472.3 141.8h0.85v0.85h-0.85zM469.0 137.3h0.85v0.85h-0.85zM471.8 141.4h0.85v0.85h-0.85zM470.0 133.0h0.85v0.85h-0.85zM468.5 124.0h0.85v0.85h-0.85zM473.0 140.9h0.85v0.85h-0.85zM469.6 131.3h0.85v0.85h-0.85zM466.3 135.6h0.85v0.85h-0.85zM469.0 134.0h0.85v0.85h-0.85zM470.8 145.0h0.85v0.85h-0.85zM467.4 134.0h0.85v0.85h-0.85zM475.6 142.9h0.85v0.85h-0.85zM467.4 138.3h0.85v0.85h-0.85zM477.4 133.8h0.85v0.85h-0.85zM474.3 131.7h0.85v0.85h-0.85zM467.9 144.0h0.85v0.85h-0.85zM471.7 143.5h0.85v0.85h-0.85zM475.4 145.8h0.85v0.85h-0.85zM470.6 152.1h0.85v0.85h-0.85zM467.0 142.8h0.85v0.85h-0.85zM471.6 142.8h0.85v0.85h-0.85zM478.2 140.4h0.85v0.85h-0.85zM466.0 141.8h0.85v0.85h-0.85zM473.2 139.0h0.85v0.85h-0.85zM471.3 135.8h0.85v0.85h-0.85zM470.8 153.1h0.85v0.85h-0.85zM469.9 129.9h0.85v0.85h-0.85zM470.1 142.6h0.85v0.85h-0.85zM474.9 143.8h0.85v0.85h-0.85zM473.3 142.0h0.85v0.85h-0.85zM467.7 135.3h0.85v0.85h-0.85zM476.7 139.9h0.85v0.85h-0.85zM466.7 138.3h0.85v0.85h-0.85zM473.6 134.6h0.85v0.85h-0.85zM471.9 140.8h0.85v0.85h-0.85zM475.4 138.6h0.85v0.85h-0.85zM472.5 137.7h0.85v0.85h-0.85zM474.9 145.1h0.85v0.85h-0.85zM471.2 134.7h0.85v0.85h-0.85zM474.7 143.7h0.85v0.85h-0.85zM472.5 137.4h0.85v0.85h-0.85zM478.8 143.6h0.85v0.85h-0.85zM468.8 141.4h0.85v0.85h-0.85zM475.4 142.5h0.85v0.85h-0.85zM472.9 135.1h0.85v0.85h-0.85zM471.9 136.4h0.85v0.85h-0.85zM469.3 135.9h0.85v0.85h-0.85zM472.8 142.0h0.85v0.85h-0.85zM466.1 145.5h0.85v0.85h-0.85zM466.5 147.4h0.85v0.85h-0.85zM473.7 138.0h0.85v0.85h-0.85zM465.8 141.5h0.85v0.85h-0.85zM476.3 131.3h0.85v0.85h-0.85zM470.3 127.7h0.85v0.85h-0.85zM472.1 135.8h0.85v0.85h-0.85zM471.5 137.0h0.85v0.85h-0.85zM472.7 131.7h0.85v0.85h-0.85zM470.3 130.3h0.85v0.85h-0.85zM470.0 144.1h0.85v0.85h-0.85zM470.8 136.1h0.85v0.85h-0.85zM474.9 130.9h0.85v0.85h-0.85zM475.2 154.8h0.85v0.85h-0.85zM475.7 142.0h0.85v0.85h-0.85zM472.5 139.0h0.85v0.85h-0.85zM470.6 145.0h0.85v0.85h-0.85zM465.4 136.4h0.85v0.85h-0.85zM473.5 150.4h0.85v0.85h-0.85zM474.2 131.7h0.85v0.85h-0.85zM469.9 133.1h0.85v0.85h-0.85zM474.1 140.1h0.85v0.85h-0.85zM475.8 136.3h0.85v0.85h-0.85zM471.6 149.3h0.85v0.85h-0.85zM475.0 131.3h0.85v0.85h-0.85zM472.3 136.5h0.85v0.85h-0.85zM465.2 142.3h0.85v0.85h-0.85zM469.6 144.2h0.85v0.85h-0.85zM469.8 146.8h0.85v0.85h-0.85zM473.1 142.9h0.85v0.85h-0.85zM468.2 154.0h0.85v0.85h-0.85zM469.7 138.0h0.85v0.85h-0.85zM467.9 141.9h0.85v0.85h-0.85zM471.1 145.9h0.85v0.85h-0.85zM471.5 138.9h0.85v0.85h-0.85zM474.7 139.1h0.85v0.85h-0.85zM474.1 138.0h0.85v0.85h-0.85zM471.8 136.9h0.85v0.85h-0.85zM472.1 134.0h0.85v0.85h-0.85zM471.6 137.5h0.85v0.85h-0.85zM471.7 131.5h0.85v0.85h-0.85zM476.7 143.1h0.85v0.85h-0.85zM462.6 131.3h0.85v0.85h-0.85zM470.7 153.1h0.85v0.85h-0.85zM472.4 150.9h0.85v0.85h-0.85zM475.2 147.4h0.85v0.85h-0.85zM467.4 139.5h0.85v0.85h-0.85zM472.5 137.2h0.85v0.85h-0.85zM474.3 148.1h0.85v0.85h-0.85zM469.7 141.8h0.85v0.85h-0.85zM464.6 144.1h0.85v0.85h-0.85zM470.0 136.4h0.85v0.85h-0.85zM467.1 147.1h0.85v0.85h-0.85zM473.5 136.0h0.85v0.85h-0.85zM468.3 141.4h0.85v0.85h-0.85zM477.5 130.4h0.85v0.85h-0.85zM471.8 136.8h0.85v0.85h-0.85zM468.5 143.7h0.85v0.85h-0.85zM469.5 138.0h0.85v0.85h-0.85zM467.4 138.0h0.85v0.85h-0.85zM472.6 145.4h0.85v0.85h-0.85zM476.5 140.3h0.85v0.85h-0.85zM470.5 148.1h0.85v0.85h-0.85zM474.5 126.3h0.85v0.85h-0.85zM468.0 144.1h0.85v0.85h-0.85zM472.3 143.7h0.85v0.85h-0.85zM479.3 131.5h0.85v0.85h-0.85zM466.4 132.9h0.85v0.85h-0.85zM475.6 145.9h0.85v0.85h-0.85zM475.4 134.3h0.85v0.85h-0.85zM464.7 136.9h0.85v0.85h-0.85zM466.2 144.3h0.85v0.85h-0.85zM467.9 138.7h0.85v0.85h-0.85zM474.7 143.5h0.85v0.85h-0.85zM469.8 135.5h0.85v0.85h-0.85zM470.7 142.5h0.85v0.85h-0.85zM473.7 147.2h0.85v0.85h-0.85zM471.7 142.6h0.85v0.85h-0.85zM472.1 127.6h0.85v0.85h-0.85zM470.1 144.6h0.85v0.85h-0.85zM475.2 141.0h0.85v0.85h-0.85zM468.5 135.3h0.85v0.85h-0.85zM477.1 149.0h0.85v0.85h-0.85zM470.1 130.3h0.85v0.85h-0.85zM468.5 151.9h0.85v0.85h-0.85zM473.5 136.9h0.85v0.85h-0.85zM472.8 150.1h0.85v0.85h-0.85zM464.3 140.4h0.85v0.85h-0.85zM472.0 132.7h0.85v0.85h-0.85zM466.5 141.2h0.85v0.85h-0.85zM468.4 142.7h0.85v0.85h-0.85zM474.0 143.9h0.85v0.85h-0.85zM468.2 147.0h0.85v0.85h-0.85zM472.5 135.3h0.85v0.85h-0.85zM469.9 143.6h0.85v0.85h-0.85zM478.0 145.1h0.85v0.85h-0.85zM470.9 139.1h0.85v0.85h-0.85zM467.1 135.1h0.85v0.85h-0.85zM467.4 135.0h0.85v0.85h-0.85zM468.1 145.2h0.85v0.85h-0.85zM471.7 145.4h0.85v0.85h-0.85zM471.2 135.7h0.85v0.85h-0.85zM474.6 132.7h0.85v0.85h-0.85zM471.8 148.1h0.85v0.85h-0.85zM471.7 131.4h0.85v0.85h-0.85zM472.4 141.6h0.85v0.85h-0.85zM470.8 135.9h0.85v0.85h-0.85zM472.3 130.2h0.85v0.85h-0.85zM474.0 141.4h0.85v0.85h-0.85zM474.0 139.5h0.85v0.85h-0.85zM469.3 149.3h0.85v0.85h-0.85zM465.0 154.2h0.85v0.85h-0.85zM468.4 139.5h0.85v0.85h-0.85zM472.2 146.8h0.85v0.85h-0.85zM462.5 146.9h0.85v0.85h-0.85zM469.6 137.5h0.85v0.85h-0.85zM472.8 135.5h0.85v0.85h-0.85zM469.2 150.3h0.85v0.85h-0.85zM467.3 138.5h0.85v0.85h-0.85zM477.4 140.5h0.85v0.85h-0.85zM476.1 138.9h0.85v0.85h-0.85zM470.3 139.9h0.85v0.85h-0.85zM475.8 137.1h0.85v0.85h-0.85zM475.8 145.1h0.85v0.85h-0.85zM467.3 148.2h0.85v0.85h-0.85zM480.6 138.4h0.85v0.85h-0.85zM467.9 132.4h0.85v0.85h-0.85zM470.3 141.0h0.85v0.85h-0.85zM467.4 131.8h0.85v0.85h-0.85zM471.5 136.8h0.85v0.85h-0.85zM466.6 148.0h0.85v0.85h-0.85zM471.2 154.5h0.85v0.85h-0.85zM475.0 142.9h0.85v0.85h-0.85zM471.9 134.3h0.85v0.85h-0.85zM470.3 145.3h0.85v0.85h-0.85zM476.6 127.3h0.85v0.85h-0.85zM468.1 136.5h0.85v0.85h-0.85zM474.6 149.8h0.85v0.85h-0.85zM470.1 145.1h0.85v0.85h-0.85zM471.9 132.4h0.85v0.85h-0.85zM471.3 130.7h0.85v0.85h-0.85zM471.6 145.8h0.85v0.85h-0.85zM471.0 140.4h0.85v0.85h-0.85zM468.4 137.1h0.85v0.85h-0.85zM469.2 143.1h0.85v0.85h-0.85zM472.7 137.2h0.85v0.85h-0.85zM470.8 129.2h0.85v0.85h-0.85zM467.1 145.5h0.85v0.85h-0.85zM468.7 136.8h0.85v0.85h-0.85zM468.7 134.7h0.85v0.85h-0.85zM471.0 132.7h0.85v0.85h-0.85z" fill="#2f4fff" fill-opacity="0.5"/>
<g transform="translate(470.80 117.60) rotate(-35)" filter="url(#bl07)" opacity="1.0"><ellipse cx="0.00" cy="0" rx="6.50" ry="4.68" fill="#8a9aff" fill-opacity="0.45"/><ellipse cx="0.00" cy="0" rx="5.00" ry="3.60" fill="#3050ff" fill-opacity="0.85"/><ellipse cx="0.00" cy="0" rx="4.30" ry="3.10" fill="#1438ff" fill-opacity="0.9"/><ellipse cx="0.00" cy="0" rx="3.70" ry="2.66" fill="#00b4f4" fill-opacity="1"/><ellipse cx="0.00" cy="0" rx="3.10" ry="2.23" fill="#2ad22a" fill-opacity="1"/><ellipse cx="0.00" cy="0" rx="1.70" ry="1.22" fill="#e6e000" fill-opacity="1"/><ellipse cx="-0.00" cy="0" rx="0.95" ry="0.68" fill="#ff4800" fill-opacity="1"/></g>
<g transform="translate(470.20 130.60) rotate(0)" filter="url(#bl07)" opacity="1.0"><ellipse cx="0.00" cy="0" rx="4.94" ry="5.46" fill="#8a9aff" fill-opacity="0.45"/><ellipse cx="0.00" cy="0" rx="3.80" ry="4.20" fill="#3050ff" fill-opacity="0.85"/><ellipse cx="0.00" cy="0" rx="3.27" ry="3.61" fill="#1438ff" fill-opacity="0.9"/><ellipse cx="0.00" cy="0" rx="2.81" ry="3.11" fill="#00b4f4" fill-opacity="1"/><ellipse cx="0.00" cy="0" rx="2.36" ry="2.60" fill="#2ad22a" fill-opacity="1"/></g>
<g transform="translate(471.30 140.00) rotate(0)" filter="url(#bl07)" opacity="1.0"><ellipse cx="0.00" cy="0" rx="5.07" ry="7.80" fill="#8a9aff" fill-opacity="0.45"/><ellipse cx="0.00" cy="0" rx="3.90" ry="6.00" fill="#3050ff" fill-opacity="0.85"/><ellipse cx="0.00" cy="0" rx="3.35" ry="5.16" fill="#1438ff" fill-opacity="0.9"/><ellipse cx="0.00" cy="0" rx="2.89" ry="4.44" fill="#00b4f4" fill-opacity="1"/><ellipse cx="0.00" cy="0" rx="2.42" ry="3.72" fill="#2ad22a" fill-opacity="1"/><ellipse cx="0.00" cy="0" rx="1.33" ry="2.04" fill="#e6e000" fill-opacity="1"/></g>
<g transform="translate(452.00 150.40) rotate(-4)" filter="url(#bl1)" opacity="0.8"><ellipse cx="0.00" cy="0" rx="10.40" ry="3.38" fill="#8a9aff" fill-opacity="0.45"/><ellipse cx="0.00" cy="0" rx="8.00" ry="2.60" fill="#3050ff" fill-opacity="0.85"/><ellipse cx="0.00" cy="0" rx="6.88" ry="2.24" fill="#1438ff" fill-opacity="0.9"/></g>
<g transform="translate(440.50 150.60) rotate(-2)" filter="url(#bl07)" opacity="1.0"><ellipse cx="3.44" cy="0" rx="16.25" ry="5.07" fill="#8a9aff" fill-opacity="0.45"/><ellipse cx="2.50" cy="0" rx="12.50" ry="3.90" fill="#3050ff" fill-opacity="0.85"/><ellipse cx="2.06" cy="0" rx="10.75" ry="3.35" fill="#1438ff" fill-opacity="0.9"/><ellipse cx="1.69" cy="0" rx="9.25" ry="2.89" fill="#00b4f4" fill-opacity="1"/><ellipse cx="1.31" cy="0" rx="7.75" ry="2.42" fill="#2ad22a" fill-opacity="1"/><ellipse cx="0.44" cy="0" rx="4.25" ry="1.33" fill="#e6e000" fill-opacity="1"/><ellipse cx="-0.03" cy="0" rx="2.38" ry="0.74" fill="#ff4800" fill-opacity="1"/></g>
<rect x="460.10" y="109.10" width="21.50" height="46.30" fill="none" stroke="#3a3a3a" stroke-width="0.9"/>
<line x1="460.10" y1="124.10" x2="481.60" y2="124.10" stroke="#222" stroke-width="1.0"/>
<text x="426.60" y="106.70" font-size="7" text-anchor="start" fill="#000" stroke="#000" stroke-width="0.12">2 µM Olaparib</text>
<text x="481.20" y="114.30" font-size="5.8" text-anchor="end" fill="#000">17.5</text>
<text x="481.20" y="154.60" font-size="5.8" text-anchor="end" fill="#000">32.8</text>
<path d="M347.4 112 L347.4 168.8 L403 168.8" stroke="#6a6a6a" stroke-width="1.1" fill="none"/>
<path d="M345.3 113.2 L347.4 109.2 L349.5 113.2 Z" stroke="none" stroke-width="0" fill="#111"/>
<path d="M401.9 166.7 L405.8 168.8 L401.9 170.9 Z" stroke="none" stroke-width="0" fill="#111"/>
<text x="345.20" y="142.60" font-size="11" text-anchor="middle" fill="#ee1c1c" stroke="#ee1c1c" transform="rotate(-90 345.20 142.60)">PI</text>
<text x="352.20" y="178.20" font-size="10.55" text-anchor="start" fill="#1db41d" stroke="#1db41d">Annexin V</text>
<text x="516.80" y="12.20" font-size="16" text-anchor="start" fill="#000" stroke="#000" font-weight="bold">c</text>
<line x1="548.20" y1="22.40" x2="548.20" y2="155.10" stroke="#222" stroke-width="1.1"/>
<line x1="547.60" y1="154.60" x2="681.50" y2="154.60" stroke="#555" stroke-width="1.1"/>
<line x1="543.30" y1="154.60" x2="548.20" y2="154.60" stroke="#222" stroke-width="1.1"/>
<text x="541.60" y="158.20" font-size="10" text-anchor="end" fill="#000" stroke="#000">0</text>
<line x1="543.30" y1="121.55" x2="548.20" y2="121.55" stroke="#222" stroke-width="1.1"/>
<text x="541.60" y="125.15" font-size="10" text-anchor="end" fill="#000" stroke="#000">10</text>
<line x1="543.30" y1="88.50" x2="548.20" y2="88.50" stroke="#222" stroke-width="1.1"/>
<text x="541.60" y="92.10" font-size="10" text-anchor="end" fill="#000" stroke="#000">20</text>
<line x1="543.30" y1="55.45" x2="548.20" y2="55.45" stroke="#222" stroke-width="1.1"/>
<text x="541.60" y="59.05" font-size="10" text-anchor="end" fill="#000" stroke="#000">30</text>
<line x1="543.30" y1="22.40" x2="548.20" y2="22.40" stroke="#222" stroke-width="1.1"/>
<text x="541.60" y="26.00" font-size="10" text-anchor="end" fill="#000" stroke="#000">40</text>
<rect x="557.40" y="138.41" width="17.50" height="16.19" fill="#5ad45a"/>
<rect x="583.80" y="137.08" width="18.00" height="17.52" fill="#5ad45a"/>
<rect x="627.80" y="139.73" width="18.00" height="14.87" fill="#df8282"/>
<rect x="654.30" y="45.53" width="18.00" height="109.07" fill="#df8282"/>
<line x1="566.15" y1="154.60" x2="566.15" y2="159.40" stroke="#333" stroke-width="1.1"/>
<line x1="592.80" y1="154.60" x2="592.80" y2="159.40" stroke="#333" stroke-width="1.1"/>
<line x1="636.80" y1="154.60" x2="636.80" y2="159.40" stroke="#333" stroke-width="1.1"/>
<line x1="663.30" y1="154.60" x2="663.30" y2="159.40" stroke="#333" stroke-width="1.1"/>
<line x1="559.50" y1="138.60" x2="572.80" y2="138.60" stroke="#000" stroke-width="1"/>
<circle cx="559.50" cy="139.20" r="2.1" fill="#fff" stroke="#000" stroke-width="0.9"/>
<circle cx="565.80" cy="137.70" r="2.1" fill="#fff" stroke="#000" stroke-width="0.9"/>
<circle cx="572.80" cy="138.50" r="2.1" fill="#fff" stroke="#000" stroke-width="0.9"/>
<line x1="592.80" y1="134.60" x2="592.80" y2="139.20" stroke="#000" stroke-width="1.0"/>
<line x1="590.20" y1="134.60" x2="595.40" y2="134.60" stroke="#000" stroke-width="1.0"/>
<line x1="590.20" y1="139.20" x2="595.40" y2="139.20" stroke="#000" stroke-width="1.0"/>
<circle cx="588.50" cy="135.10" r="2.1" fill="#fff" stroke="#000" stroke-width="0.9"/>
<circle cx="588.70" cy="139.40" r="2.1" fill="#fff" stroke="#000" stroke-width="0.9"/>
<circle cx="595.50" cy="136.00" r="2.1" fill="#fff" stroke="#000" stroke-width="0.9"/>
<line x1="630.00" y1="139.80" x2="643.10" y2="139.80" stroke="#000" stroke-width="1"/>
<circle cx="630.00" cy="140.20" r="2.1" fill="#fff" stroke="#000" stroke-width="0.9"/>
<circle cx="636.70" cy="139.20" r="2.1" fill="#fff" stroke="#000" stroke-width="0.9"/>
<circle cx="643.10" cy="140.20" r="2.1" fill="#fff" stroke="#000" stroke-width="0.9"/>
<line x1="663.10" y1="42.50" x2="663.10" y2="46.80" stroke="#000" stroke-width="1.0"/>
<line x1="659.50" y1="42.50" x2="666.70" y2="42.50" stroke="#000" stroke-width="1.0"/>
<line x1="659.50" y1="46.80" x2="666.70" y2="46.80" stroke="#000" stroke-width="1.0"/>
<circle cx="663.10" cy="41.40" r="2.1" fill="#fff" stroke="#000" stroke-width="0.9"/>
<circle cx="659.30" cy="47.90" r="2.1" fill="#fff" stroke="#000" stroke-width="0.9"/>
<circle cx="667.00" cy="46.30" r="2.1" fill="#fff" stroke="#000" stroke-width="0.9"/>
<text x="565.90" y="170.50" font-size="10" text-anchor="middle" fill="#000" stroke="#000">0</text>
<text x="592.80" y="170.50" font-size="10" text-anchor="middle" fill="#000" stroke="#000">2</text>
<text x="636.80" y="170.50" font-size="10" text-anchor="middle" fill="#000" stroke="#000">0</text>
<text x="663.30" y="170.50" font-size="10" text-anchor="middle" fill="#000" stroke="#000">2</text>
<line x1="566.50" y1="174.10" x2="663.80" y2="174.10" stroke="#222" stroke-width="1"/>
<text x="615.30" y="184.20" font-size="10" text-anchor="middle" fill="#000" stroke="#000">Olaparib (µM)</text>
<text x="624.60" y="34.70" font-size="11.7" text-anchor="start" fill="#000" stroke="#000" font-style="italic">P &lt; 0.0001</text>
<rect x="572.60" y="73.70" width="14.00" height="13.90" fill="#5ad45a"/>
<rect x="572.60" y="90.40" width="14.00" height="13.90" fill="#df8282"/>
<text x="587.30" y="85.90" font-size="11.7" text-anchor="start" fill="#000" stroke="#000">OCI-Ly1</text>
<text x="587.30" y="102.40" font-size="11.7" text-anchor="start" fill="#000" stroke="#000">OCI-Ly19</text>
<text x="523.60" y="88.60" font-size="11.2" text-anchor="middle" fill="#000" stroke="#000" transform="rotate(-90 523.60 88.60)">apoptosis (%)</text>
<text x="0.00" y="226.30" font-size="16" text-anchor="start" fill="#000" stroke="#000" font-weight="bold">d</text>
<line x1="47.10" y1="239.20" x2="47.10" y2="383.60" stroke="#111" stroke-width="1.3"/>
<line x1="41.30" y1="378.00" x2="276.20" y2="378.00" stroke="#111" stroke-width="1.3"/>
<line x1="41.30" y1="378.00" x2="47.10" y2="378.00" stroke="#111" stroke-width="1.3"/>
<text x="38.60" y="381.50" font-size="10" text-anchor="end" fill="#000" stroke="#000">0.00</text>
<line x1="41.30" y1="343.31" x2="47.10" y2="343.31" stroke="#111" stroke-width="1.3"/>
<text x="38.60" y="346.81" font-size="10" text-anchor="end" fill="#000" stroke="#000">0.25</text>
<line x1="41.30" y1="308.62" x2="47.10" y2="308.62" stroke="#111" stroke-width="1.3"/>
<text x="38.60" y="312.12" font-size="10" text-anchor="end" fill="#000" stroke="#000">0.50</text>
<line x1="41.30" y1="273.94" x2="47.10" y2="273.94" stroke="#111" stroke-width="1.3"/>
<text x="38.60" y="277.44" font-size="10" text-anchor="end" fill="#000" stroke="#000">0.75</text>
<line x1="41.30" y1="239.25" x2="47.10" y2="239.25" stroke="#111" stroke-width="1.3"/>
<text x="38.60" y="242.75" font-size="10" text-anchor="end" fill="#000" stroke="#000">1.00</text>
<line x1="47.10" y1="378.00" x2="47.10" y2="383.60" stroke="#111" stroke-width="1.3"/>
<text x="36.82" y="394.00" font-size="10" text-anchor="start" fill="#000" stroke="#000">-1.0</text>
<line x1="85.20" y1="378.00" x2="85.20" y2="383.60" stroke="#111" stroke-width="1.3"/>
<text x="74.92" y="394.00" font-size="10" text-anchor="start" fill="#000" stroke="#000">-0.5</text>
<line x1="123.30" y1="378.00" x2="123.30" y2="383.60" stroke="#111" stroke-width="1.3"/>
<text x="123.50" y="394.00" font-size="10" text-anchor="middle" fill="#000" stroke="#000">0.0</text>
<line x1="161.40" y1="378.00" x2="161.40" y2="383.60" stroke="#111" stroke-width="1.3"/>
<text x="161.60" y="394.00" font-size="10" text-anchor="middle" fill="#000" stroke="#000">0.5</text>
<line x1="199.50" y1="378.00" x2="199.50" y2="383.60" stroke="#111" stroke-width="1.3"/>
<text x="199.70" y="394.00" font-size="10" text-anchor="middle" fill="#000" stroke="#000">1.0</text>
<line x1="237.60" y1="378.00" x2="237.60" y2="383.60" stroke="#111" stroke-width="1.3"/>
<text x="237.80" y="394.00" font-size="10" text-anchor="middle" fill="#000" stroke="#000">1.5</text>
<line x1="275.70" y1="378.00" x2="275.70" y2="383.60" stroke="#111" stroke-width="1.3"/>
<text x="275.90" y="394.00" font-size="10" text-anchor="middle" fill="#000" stroke="#000">2.0</text>
<text x="161.30" y="406.00" font-size="10.55" text-anchor="middle" fill="#000" stroke="#000">Olaparib log (µM)</text>
<text x="9.60" y="308.60" font-size="10.55" text-anchor="middle" fill="#000" stroke="#000" transform="rotate(-90 9.60 308.60)">relative viability</text>
<path d="M77.58,243.46 L79.10,243.48 L80.63,243.51 L82.15,243.54 L83.68,243.57 L85.20,243.60 L86.72,243.64 L88.25,243.68 L89.77,243.72 L91.30,243.77 L92.82,243.82 L94.34,243.87 L95.87,243.93 L97.39,243.99 L98.92,244.06 L100.44,244.13 L101.96,244.20 L103.49,244.29 L105.01,244.38 L106.54,244.47 L108.06,244.58 L109.58,244.69 L111.11,244.81 L112.63,244.93 L114.16,245.07 L115.68,245.22 L117.20,245.38 L118.73,245.55 L120.25,245.73 L121.78,245.93 L123.30,246.14 L124.82,246.36 L126.35,246.60 L127.87,246.86 L129.40,247.14 L130.92,247.43 L132.44,247.75 L133.97,248.08 L135.49,248.44 L137.02,248.82 L138.54,249.23 L140.06,249.66 L141.59,250.12 L143.11,250.60 L144.64,251.12 L146.16,251.66 L147.68,252.24 L149.21,252.85 L150.73,253.49 L152.26,254.17 L153.78,254.88 L155.30,255.62 L156.83,256.40 L158.35,257.21 L159.88,258.06 L161.40,258.95 L162.92,259.87 L164.45,260.82 L165.97,261.81 L167.50,262.82 L169.02,263.87 L170.54,264.94 L172.07,266.04 L173.59,267.17 L175.12,268.31 L176.64,269.47 L178.16,270.65 L179.69,271.84 L181.21,273.03 L182.74,274.24 L184.26,275.44 L185.78,276.64 L187.31,277.84 L188.83,279.03 L190.36,280.21 L191.88,281.37 L193.40,282.51 L194.93,283.64 L196.45,284.74 L197.98,285.81 L199.50,286.86 L201.02,287.87 L202.55,288.86 L204.07,289.81 L205.60,290.73 L207.12,291.61 L208.64,292.46 L210.17,293.28 L211.69,294.06 L213.22,294.80 L214.74,295.51 L216.26,296.19 L217.79,296.83 L219.31,297.44 L220.84,298.01 L222.36,298.56 L223.88,299.08 L225.41,299.56 L226.93,300.02 L228.46,300.45 L229.98,300.86 L231.50,301.24 L233.03,301.60 L234.55,301.93 L236.08,302.25 L237.60,302.54 L239.12,302.82 L240.65,303.07 L242.17,303.32 L243.70,303.54 L245.22,303.75 L246.74,303.95 L248.27,304.13 L249.79,304.30 L251.32,304.46 L252.84,304.61 L254.36,304.74 L255.89,304.87 L257.41,304.99 L258.94,305.10 L260.46,305.21" stroke="#a0a0a0" stroke-width="1.5" fill="none"/>
<path d="M77.58,249.85 L79.10,249.86 L80.63,249.87 L82.15,249.88 L83.68,249.89 L85.20,249.91 L86.72,249.92 L88.25,249.94 L89.77,249.96 L91.30,249.98 L92.82,250.00 L94.34,250.03 L95.87,250.06 L97.39,250.10 L98.92,250.14 L100.44,250.18 L101.96,250.24 L103.49,250.30 L105.01,250.36 L106.54,250.44 L108.06,250.53 L109.58,250.62 L111.11,250.74 L112.63,250.86 L114.16,251.00 L115.68,251.16 L117.20,251.34 L118.73,251.55 L120.25,251.78 L121.78,252.04 L123.30,252.34 L124.82,252.67 L126.35,253.05 L127.87,253.47 L129.40,253.94 L130.92,254.47 L132.44,255.07 L133.97,255.73 L135.49,256.47 L137.02,257.30 L138.54,258.22 L140.06,259.24 L141.59,260.36 L143.11,261.61 L144.64,262.97 L146.16,264.46 L147.68,266.08 L149.21,267.85 L150.73,269.75 L152.26,271.79 L153.78,273.97 L155.30,276.28 L156.83,278.71 L158.35,281.26 L159.88,283.91 L161.40,286.65 L162.92,289.45 L164.45,292.30 L165.97,295.17 L167.50,298.04 L169.02,300.88 L170.54,303.68 L172.07,306.42 L173.59,309.07 L175.12,311.62 L176.64,314.06 L178.16,316.37 L179.69,318.55 L181.21,320.59 L182.74,322.49 L184.26,324.25 L185.78,325.87 L187.31,327.36 L188.83,328.73 L190.36,329.97 L191.88,331.09 L193.40,332.11 L194.93,333.03 L196.45,333.86 L197.98,334.60 L199.50,335.27 L201.02,335.86 L202.55,336.39 L204.07,336.87 L205.60,337.29 L207.12,337.66 L208.64,337.99 L210.17,338.29 L211.69,338.55 L213.22,338.78 L214.74,338.99 L216.26,339.17 L217.79,339.33 L219.31,339.47 L220.84,339.60 L222.36,339.71 L223.88,339.81 L225.41,339.89 L226.93,339.97 L228.46,340.04 L229.98,340.10 L231.50,340.15 L233.03,340.19 L234.55,340.23 L236.08,340.27 L237.60,340.30 L239.12,340.33 L240.65,340.35 L242.17,340.38 L243.70,340.40 L245.22,340.41 L246.74,340.43 L248.27,340.44 L249.79,340.45 L251.32,340.46 L252.84,340.47 L254.36,340.48 L255.89,340.49 L257.41,340.49 L258.94,340.50 L260.46,340.50" stroke="#4f9cf4" stroke-width="1.5" fill="none"/>
<line x1="77.58" y1="240.50" x2="77.58" y2="243.83" stroke="#111" stroke-width="1.1"/>
<line x1="74.98" y1="240.50" x2="80.18" y2="240.50" stroke="#111" stroke-width="1.1"/>
<line x1="74.98" y1="243.83" x2="80.18" y2="243.83" stroke="#111" stroke-width="1.1"/>
<line x1="100.44" y1="240.50" x2="100.44" y2="252.99" stroke="#111" stroke-width="1.1"/>
<line x1="97.84" y1="240.50" x2="103.04" y2="240.50" stroke="#111" stroke-width="1.1"/>
<line x1="97.84" y1="252.99" x2="103.04" y2="252.99" stroke="#111" stroke-width="1.1"/>
<line x1="123.30" y1="241.89" x2="123.30" y2="255.76" stroke="#111" stroke-width="1.1"/>
<line x1="120.70" y1="241.89" x2="125.90" y2="241.89" stroke="#111" stroke-width="1.1"/>
<line x1="120.70" y1="255.76" x2="125.90" y2="255.76" stroke="#111" stroke-width="1.1"/>
<line x1="146.16" y1="246.47" x2="146.16" y2="254.79" stroke="#111" stroke-width="1.1"/>
<line x1="143.56" y1="246.47" x2="148.76" y2="246.47" stroke="#111" stroke-width="1.1"/>
<line x1="143.56" y1="254.79" x2="148.76" y2="254.79" stroke="#111" stroke-width="1.1"/>
<line x1="169.02" y1="257.98" x2="169.02" y2="266.86" stroke="#111" stroke-width="1.1"/>
<line x1="166.42" y1="257.98" x2="171.62" y2="257.98" stroke="#111" stroke-width="1.1"/>
<line x1="166.42" y1="266.86" x2="171.62" y2="266.86" stroke="#111" stroke-width="1.1"/>
<line x1="191.88" y1="273.94" x2="191.88" y2="290.59" stroke="#111" stroke-width="1.1"/>
<line x1="189.28" y1="273.94" x2="194.48" y2="273.94" stroke="#111" stroke-width="1.1"/>
<line x1="189.28" y1="290.59" x2="194.48" y2="290.59" stroke="#111" stroke-width="1.1"/>
<line x1="214.74" y1="285.59" x2="214.74" y2="299.47" stroke="#111" stroke-width="1.1"/>
<line x1="212.14" y1="285.59" x2="217.34" y2="285.59" stroke="#111" stroke-width="1.1"/>
<line x1="212.14" y1="299.47" x2="217.34" y2="299.47" stroke="#111" stroke-width="1.1"/>
<line x1="237.60" y1="290.59" x2="237.60" y2="305.30" stroke="#111" stroke-width="1.1"/>
<line x1="235.00" y1="290.59" x2="240.20" y2="290.59" stroke="#111" stroke-width="1.1"/>
<line x1="235.00" y1="305.30" x2="240.20" y2="305.30" stroke="#111" stroke-width="1.1"/>
<line x1="260.46" y1="300.99" x2="260.46" y2="318.48" stroke="#111" stroke-width="1.1"/>
<line x1="257.86" y1="300.99" x2="263.06" y2="300.99" stroke="#111" stroke-width="1.1"/>
<line x1="257.86" y1="318.48" x2="263.06" y2="318.48" stroke="#111" stroke-width="1.1"/>
<line x1="100.44" y1="247.85" x2="100.44" y2="253.40" stroke="#111" stroke-width="1.1"/>
<line x1="97.84" y1="247.85" x2="103.04" y2="247.85" stroke="#111" stroke-width="1.1"/>
<line x1="97.84" y1="253.40" x2="103.04" y2="253.40" stroke="#111" stroke-width="1.1"/>
<line x1="123.30" y1="249.10" x2="123.30" y2="257.43" stroke="#111" stroke-width="1.1"/>
<line x1="120.70" y1="249.10" x2="125.90" y2="249.10" stroke="#111" stroke-width="1.1"/>
<line x1="120.70" y1="257.43" x2="125.90" y2="257.43" stroke="#111" stroke-width="1.1"/>
<line x1="146.16" y1="260.76" x2="146.16" y2="271.86" stroke="#111" stroke-width="1.1"/>
<line x1="143.56" y1="260.76" x2="148.76" y2="260.76" stroke="#111" stroke-width="1.1"/>
<line x1="143.56" y1="271.86" x2="148.76" y2="271.86" stroke="#111" stroke-width="1.1"/>
<line x1="169.02" y1="292.11" x2="169.02" y2="310.15" stroke="#111" stroke-width="1.1"/>
<line x1="166.42" y1="292.11" x2="171.62" y2="292.11" stroke="#111" stroke-width="1.1"/>
<line x1="166.42" y1="310.15" x2="171.62" y2="310.15" stroke="#111" stroke-width="1.1"/>
<line x1="191.88" y1="325.14" x2="191.88" y2="340.95" stroke="#111" stroke-width="1.1"/>
<line x1="189.28" y1="325.14" x2="194.48" y2="325.14" stroke="#111" stroke-width="1.1"/>
<line x1="189.28" y1="340.95" x2="194.48" y2="340.95" stroke="#111" stroke-width="1.1"/>
<line x1="214.74" y1="327.91" x2="214.74" y2="341.79" stroke="#111" stroke-width="1.1"/>
<line x1="212.14" y1="327.91" x2="217.34" y2="327.91" stroke="#111" stroke-width="1.1"/>
<line x1="212.14" y1="341.79" x2="217.34" y2="341.79" stroke="#111" stroke-width="1.1"/>
<line x1="237.60" y1="333.60" x2="237.60" y2="339.70" stroke="#111" stroke-width="1.1"/>
<line x1="235.00" y1="333.60" x2="240.20" y2="333.60" stroke="#111" stroke-width="1.1"/>
<line x1="235.00" y1="339.70" x2="240.20" y2="339.70" stroke="#111" stroke-width="1.1"/>
<line x1="260.46" y1="343.45" x2="260.46" y2="349.00" stroke="#111" stroke-width="1.1"/>
<line x1="257.86" y1="343.45" x2="263.06" y2="343.45" stroke="#111" stroke-width="1.1"/>
<line x1="257.86" y1="349.00" x2="263.06" y2="349.00" stroke="#111" stroke-width="1.1"/>
<circle cx="77.58" cy="242.16" r="2.4" fill="#a0a0a0" stroke="none" stroke-width="0"/>
<circle cx="100.44" cy="246.74" r="2.4" fill="#a0a0a0" stroke="none" stroke-width="0"/>
<circle cx="123.30" cy="248.82" r="2.4" fill="#a0a0a0" stroke="none" stroke-width="0"/>
<circle cx="146.16" cy="250.63" r="2.4" fill="#a0a0a0" stroke="none" stroke-width="0"/>
<circle cx="169.02" cy="262.42" r="2.4" fill="#a0a0a0" stroke="none" stroke-width="0"/>
<circle cx="191.88" cy="282.26" r="2.4" fill="#a0a0a0" stroke="none" stroke-width="0"/>
<circle cx="214.74" cy="292.53" r="2.4" fill="#a0a0a0" stroke="none" stroke-width="0"/>
<circle cx="237.60" cy="297.94" r="2.4" fill="#a0a0a0" stroke="none" stroke-width="0"/>
<circle cx="260.46" cy="309.74" r="2.4" fill="#a0a0a0" stroke="none" stroke-width="0"/>
<circle cx="77.58" cy="249.79" r="2.4" fill="#4f9cf4" stroke="none" stroke-width="0"/>
<circle cx="100.44" cy="250.63" r="2.4" fill="#4f9cf4" stroke="none" stroke-width="0"/>
<circle cx="123.30" cy="253.26" r="2.4" fill="#4f9cf4" stroke="none" stroke-width="0"/>
<circle cx="146.16" cy="266.31" r="2.4" fill="#4f9cf4" stroke="none" stroke-width="0"/>
<circle cx="169.02" cy="301.13" r="2.4" fill="#4f9cf4" stroke="none" stroke-width="0"/>
<circle cx="191.88" cy="333.05" r="2.4" fill="#4f9cf4" stroke="none" stroke-width="0"/>
<circle cx="214.74" cy="334.85" r="2.4" fill="#4f9cf4" stroke="none" stroke-width="0"/>
<circle cx="237.60" cy="336.65" r="2.4" fill="#4f9cf4" stroke="none" stroke-width="0"/>
<circle cx="260.46" cy="346.23" r="2.4" fill="#4f9cf4" stroke="none" stroke-width="0"/>
<text x="107.10" y="303.30" font-size="10.55" text-anchor="middle" fill="#000" stroke="#000">SU-DHL-6</text>
<line x1="74.90" y1="306.90" x2="140.00" y2="306.90" stroke="#cfcfcf" stroke-width="1.3"/>
<rect x="72.40" y="309.40" width="11.60" height="11.50" fill="#9b9b9f"/>
<rect x="72.40" y="322.40" width="11.60" height="11.50" fill="#55a0f8"/>
<text x="87.60" y="319.00" font-size="10.55" text-anchor="start" fill="#000" stroke="#000">control</text>
<text x="87.60" y="332.00" font-size="10.6" text-anchor="start" fill="#000" stroke="#000" font-style="italic">SENP6<tspan font-size="6.80" dy="-3.80">KD</tspan></text>
<text x="317.00" y="226.30" font-size="16" text-anchor="start" fill="#000" stroke="#000" font-weight="bold">e</text>
<line x1="363.10" y1="238.40" x2="363.10" y2="376.00" stroke="#111" stroke-width="1.3"/>
<line x1="362.60" y1="375.50" x2="502.00" y2="375.50" stroke="#111" stroke-width="1.3"/>
<line x1="358.20" y1="375.50" x2="363.10" y2="375.50" stroke="#111" stroke-width="1.3"/>
<text x="356.40" y="379.10" font-size="10" text-anchor="end" fill="#000" stroke="#000">0</text>
<line x1="358.20" y1="348.08" x2="363.10" y2="348.08" stroke="#111" stroke-width="1.3"/>
<text x="356.40" y="351.68" font-size="10" text-anchor="end" fill="#000" stroke="#000">10</text>
<line x1="358.20" y1="320.66" x2="363.10" y2="320.66" stroke="#111" stroke-width="1.3"/>
<text x="356.40" y="324.26" font-size="10" text-anchor="end" fill="#000" stroke="#000">20</text>
<line x1="358.20" y1="293.24" x2="363.10" y2="293.24" stroke="#111" stroke-width="1.3"/>
<text x="356.40" y="296.84" font-size="10" text-anchor="end" fill="#000" stroke="#000">30</text>
<line x1="358.20" y1="265.82" x2="363.10" y2="265.82" stroke="#111" stroke-width="1.3"/>
<text x="356.40" y="269.42" font-size="10" text-anchor="end" fill="#000" stroke="#000">40</text>
<line x1="358.20" y1="238.40" x2="363.10" y2="238.40" stroke="#111" stroke-width="1.3"/>
<text x="356.40" y="242.00" font-size="10" text-anchor="end" fill="#000" stroke="#000">50</text>
<rect x="372.80" y="370.29" width="18.40" height="5.21" fill="#d9d9d9"/>
<rect x="400.50" y="362.61" width="18.40" height="12.89" fill="#4d9cf6"/>
<rect x="446.30" y="337.93" width="18.40" height="37.57" fill="#d9d9d9"/>
<rect x="474.20" y="271.03" width="18.30" height="104.47" fill="#4d9cf6"/>
<line x1="395.70" y1="375.50" x2="395.70" y2="380.60" stroke="#111" stroke-width="1.3"/>
<line x1="469.30" y1="375.50" x2="469.30" y2="380.60" stroke="#111" stroke-width="1.3"/>
<line x1="382.20" y1="364.20" x2="382.20" y2="370.00" stroke="#000" stroke-width="1.0"/>
<line x1="379.90" y1="364.20" x2="384.50" y2="364.20" stroke="#000" stroke-width="1.0"/>
<line x1="379.90" y1="370.00" x2="384.50" y2="370.00" stroke="#000" stroke-width="1.0"/>
<line x1="409.70" y1="356.10" x2="409.70" y2="368.50" stroke="#000" stroke-width="1.0"/>
<line x1="407.40" y1="356.10" x2="412.00" y2="356.10" stroke="#000" stroke-width="1.0"/>
<line x1="407.40" y1="368.50" x2="412.00" y2="368.50" stroke="#000" stroke-width="1.0"/>
<line x1="455.50" y1="324.30" x2="455.50" y2="354.20" stroke="#000" stroke-width="1.0"/>
<line x1="453.20" y1="324.30" x2="457.80" y2="324.30" stroke="#000" stroke-width="1.0"/>
<line x1="453.20" y1="354.20" x2="457.80" y2="354.20" stroke="#000" stroke-width="1.0"/>
<line x1="483.20" y1="250.40" x2="483.20" y2="294.50" stroke="#000" stroke-width="1.0"/>
<line x1="480.90" y1="250.40" x2="485.50" y2="250.40" stroke="#000" stroke-width="1.0"/>
<line x1="480.90" y1="294.50" x2="485.50" y2="294.50" stroke="#000" stroke-width="1.0"/>
<circle cx="375.60" cy="370.70" r="2.6" fill="none" stroke="#111" stroke-width="0.9"/>
<circle cx="381.90" cy="365.30" r="2.6" fill="none" stroke="#111" stroke-width="0.9"/>
<circle cx="389.10" cy="366.90" r="2.6" fill="none" stroke="#111" stroke-width="0.9"/>
<circle cx="403.40" cy="368.20" r="2.6" fill="none" stroke="#111" stroke-width="0.9"/>
<circle cx="409.70" cy="356.10" r="2.6" fill="none" stroke="#111" stroke-width="0.9"/>
<circle cx="416.10" cy="364.00" r="2.6" fill="none" stroke="#111" stroke-width="0.9"/>
<circle cx="455.50" cy="324.40" r="2.6" fill="none" stroke="#111" stroke-width="0.9"/>
<circle cx="455.50" cy="335.80" r="2.6" fill="none" stroke="#111" stroke-width="0.9"/>
<circle cx="455.50" cy="354.20" r="2.6" fill="none" stroke="#111" stroke-width="0.9"/>
<circle cx="476.60" cy="257.90" r="2.6" fill="none" stroke="#111" stroke-width="0.9"/>
<circle cx="489.70" cy="259.30" r="2.6" fill="none" stroke="#111" stroke-width="0.9"/>
<circle cx="483.20" cy="294.50" r="2.6" fill="none" stroke="#111" stroke-width="0.9"/>
<text x="395.60" y="390.80" font-size="10.55" text-anchor="middle" fill="#000" stroke="#000">CTL</text>
<text x="469.30" y="390.80" font-size="10.55" text-anchor="middle" fill="#000" stroke="#000">Olaparib</text>
<text x="395.90" y="348.70" font-size="10.55" text-anchor="middle" fill="#000" stroke="#000">n.s.</text>
<text x="442.60" y="244.90" font-size="10.55" text-anchor="start" fill="#000" stroke="#000" font-style="italic">P = 0.0004</text>
<text x="407.40" y="265.40" font-size="10.55" text-anchor="middle" fill="#000" stroke="#000">OCI-Ly1</text>
<line x1="376.30" y1="268.70" x2="430.50" y2="268.70" stroke="#cfcfcf" stroke-width="1.2"/>
<rect x="376.30" y="271.80" width="9.30" height="8.10" fill="#9b9b9f"/>
<rect x="376.30" y="281.40" width="9.30" height="8.40" fill="#55a0f8"/>
<text x="386.60" y="278.20" font-size="10.55" text-anchor="start" fill="#000" stroke="#000">control</text>
<text x="386.40" y="288.50" font-size="10.6" text-anchor="start" fill="#000" stroke="#000" font-style="italic">SENP6<tspan font-size="6.80" dy="-3.80">KD</tspan></text>
<text x="341.20" y="307.00" font-size="10.6" text-anchor="middle" fill="#000" stroke="#000" transform="rotate(-90 341.20 307.00)">apoptosis (%)</text>
<text x="533.00" y="225.90" font-size="16" text-anchor="start" fill="#000" stroke="#000" font-weight="bold">f</text>
<text x="615.00" y="225.80" font-size="10.55" text-anchor="middle" fill="#000" stroke="#000">OCI-Ly1</text>
<line x1="556.00" y1="229.10" x2="677.00" y2="229.10" stroke="#b4b4b4" stroke-width="1"/>
<text x="580.80" y="239.60" font-size="9.1" text-anchor="middle" fill="#000" stroke="#000">control</text>
<text x="631.00" y="239.60" font-size="9.1" text-anchor="start" fill="#000" stroke="#000" font-style="italic">SENP6<tspan font-size="5.90" dy="-3.30">KD</tspan></text>
<rect x="547.80" y="242.20" width="64.70" height="63.70" fill="none" stroke="#b0b0b0" stroke-width="0.8"/>
<line x1="546.10" y1="247.20" x2="547.80" y2="247.20" stroke="#555" stroke-width="0.7"/>
<line x1="546.10" y1="253.91" x2="547.80" y2="253.91" stroke="#555" stroke-width="0.7"/>
<line x1="546.10" y1="260.62" x2="547.80" y2="260.62" stroke="#555" stroke-width="0.7"/>
<line x1="546.10" y1="267.34" x2="547.80" y2="267.34" stroke="#555" stroke-width="0.7"/>
<line x1="546.10" y1="274.05" x2="547.80" y2="274.05" stroke="#555" stroke-width="0.7"/>
<line x1="546.10" y1="280.76" x2="547.80" y2="280.76" stroke="#555" stroke-width="0.7"/>
<line x1="546.10" y1="287.47" x2="547.80" y2="287.47" stroke="#555" stroke-width="0.7"/>
<line x1="546.10" y1="294.19" x2="547.80" y2="294.19" stroke="#555" stroke-width="0.7"/>
<line x1="546.10" y1="300.90" x2="547.80" y2="300.90" stroke="#555" stroke-width="0.7"/>
<line x1="551.80" y1="305.90" x2="551.80" y2="307.30" stroke="#777" stroke-width="0.6"/>
<line x1="555.58" y1="305.90" x2="555.58" y2="307.30" stroke="#777" stroke-width="0.6"/>
<line x1="559.36" y1="305.90" x2="559.36" y2="307.30" stroke="#777" stroke-width="0.6"/>
<line x1="563.14" y1="305.90" x2="563.14" y2="307.30" stroke="#777" stroke-width="0.6"/>
<line x1="566.92" y1="305.90" x2="566.92" y2="307.30" stroke="#777" stroke-width="0.6"/>
<line x1="570.70" y1="305.90" x2="570.70" y2="307.30" stroke="#777" stroke-width="0.6"/>
<line x1="574.48" y1="305.90" x2="574.48" y2="307.30" stroke="#777" stroke-width="0.6"/>
<line x1="578.26" y1="305.90" x2="578.26" y2="307.30" stroke="#777" stroke-width="0.6"/>
<line x1="582.04" y1="305.90" x2="582.04" y2="307.30" stroke="#777" stroke-width="0.6"/>
<line x1="585.82" y1="305.90" x2="585.82" y2="307.30" stroke="#777" stroke-width="0.6"/>
<line x1="589.60" y1="305.90" x2="589.60" y2="307.30" stroke="#777" stroke-width="0.6"/>
<line x1="593.38" y1="305.90" x2="593.38" y2="307.30" stroke="#777" stroke-width="0.6"/>
<line x1="597.16" y1="305.90" x2="597.16" y2="307.30" stroke="#777" stroke-width="0.6"/>
<line x1="600.94" y1="305.90" x2="600.94" y2="307.30" stroke="#777" stroke-width="0.6"/>
<line x1="604.72" y1="305.90" x2="604.72" y2="307.30" stroke="#777" stroke-width="0.6"/>
<line x1="608.50" y1="305.90" x2="608.50" y2="307.30" stroke="#777" stroke-width="0.6"/>
<rect x="546.30" y="292.90" width="1.50" height="1.60" fill="#222"/>
<rect x="559.80" y="305.70" width="2.20" height="1.60" fill="#222"/>
<path d="M564.0 294.1h0.85v0.85h-0.85zM558.7 290.6h0.85v0.85h-0.85zM565.8 292.5h0.85v0.85h-0.85zM561.4 286.3h0.85v0.85h-0.85zM568.1 290.1h0.85v0.85h-0.85zM560.8 287.3h0.85v0.85h-0.85zM559.5 291.3h0.85v0.85h-0.85zM552.9 291.0h0.85v0.85h-0.85zM557.3 289.3h0.85v0.85h-0.85zM566.3 293.0h0.85v0.85h-0.85zM577.9 291.7h0.85v0.85h-0.85zM556.5 289.8h0.85v0.85h-0.85zM557.6 289.8h0.85v0.85h-0.85zM564.4 287.7h0.85v0.85h-0.85zM565.1 290.5h0.85v0.85h-0.85zM559.4 295.6h0.85v0.85h-0.85zM563.1 289.4h0.85v0.85h-0.85zM554.7 291.9h0.85v0.85h-0.85zM561.2 289.7h0.85v0.85h-0.85zM567.2 292.7h0.85v0.85h-0.85zM570.9 291.9h0.85v0.85h-0.85zM561.9 290.4h0.85v0.85h-0.85zM561.4 287.1h0.85v0.85h-0.85zM565.0 289.8h0.85v0.85h-0.85zM568.2 293.6h0.85v0.85h-0.85zM565.1 290.4h0.85v0.85h-0.85zM559.0 292.3h0.85v0.85h-0.85zM564.5 289.9h0.85v0.85h-0.85zM567.5 286.9h0.85v0.85h-0.85zM559.2 291.9h0.85v0.85h-0.85zM556.1 291.6h0.85v0.85h-0.85zM565.3 289.7h0.85v0.85h-0.85zM564.5 290.1h0.85v0.85h-0.85zM567.5 291.6h0.85v0.85h-0.85zM563.2 289.7h0.85v0.85h-0.85zM559.5 291.7h0.85v0.85h-0.85zM560.6 290.5h0.85v0.85h-0.85zM557.6 285.8h0.85v0.85h-0.85zM558.0 290.6h0.85v0.85h-0.85zM559.9 289.6h0.85v0.85h-0.85zM560.3 289.1h0.85v0.85h-0.85zM568.3 291.8h0.85v0.85h-0.85zM556.6 289.9h0.85v0.85h-0.85zM562.5 292.1h0.85v0.85h-0.85zM559.8 293.3h0.85v0.85h-0.85zM570.1 291.3h0.85v0.85h-0.85zM564.0 287.6h0.85v0.85h-0.85zM560.9 289.4h0.85v0.85h-0.85zM566.8 292.9h0.85v0.85h-0.85zM563.1 290.4h0.85v0.85h-0.85zM560.4 289.2h0.85v0.85h-0.85zM570.4 290.8h0.85v0.85h-0.85zM566.3 292.0h0.85v0.85h-0.85zM571.4 291.5h0.85v0.85h-0.85zM568.5 292.4h0.85v0.85h-0.85zM566.6 289.2h0.85v0.85h-0.85zM563.4 290.4h0.85v0.85h-0.85zM557.4 290.4h0.85v0.85h-0.85zM566.3 290.9h0.85v0.85h-0.85zM563.1 286.4h0.85v0.85h-0.85zM566.1 290.4h0.85v0.85h-0.85zM562.7 288.0h0.85v0.85h-0.85zM559.3 294.0h0.85v0.85h-0.85zM557.8 294.3h0.85v0.85h-0.85zM566.3 294.6h0.85v0.85h-0.85zM569.2 292.7h0.85v0.85h-0.85zM561.3 289.9h0.85v0.85h-0.85zM565.0 293.0h0.85v0.85h-0.85zM569.7 290.5h0.85v0.85h-0.85zM558.6 292.3h0.85v0.85h-0.85zM561.1 289.0h0.85v0.85h-0.85zM557.2 289.7h0.85v0.85h-0.85zM568.6 292.0h0.85v0.85h-0.85zM564.1 294.8h0.85v0.85h-0.85zM560.5 290.9h0.85v0.85h-0.85zM554.6 295.9h0.85v0.85h-0.85zM561.9 297.0h0.85v0.85h-0.85zM567.7 288.2h0.85v0.85h-0.85zM561.3 290.9h0.85v0.85h-0.85zM560.7 288.9h0.85v0.85h-0.85zM566.0 290.7h0.85v0.85h-0.85zM556.7 289.8h0.85v0.85h-0.85zM563.1 290.8h0.85v0.85h-0.85zM565.8 293.1h0.85v0.85h-0.85zM558.9 293.0h0.85v0.85h-0.85zM558.7 291.5h0.85v0.85h-0.85zM564.0 291.0h0.85v0.85h-0.85zM562.3 291.2h0.85v0.85h-0.85zM561.6 291.2h0.85v0.85h-0.85zM563.8 292.2h0.85v0.85h-0.85zM563.9 291.0h0.85v0.85h-0.85zM558.2 292.1h0.85v0.85h-0.85zM559.5 288.1h0.85v0.85h-0.85zM565.0 292.7h0.85v0.85h-0.85zM568.4 294.8h0.85v0.85h-0.85zM569.5 291.4h0.85v0.85h-0.85zM558.6 287.9h0.85v0.85h-0.85zM568.2 293.9h0.85v0.85h-0.85zM566.6 290.3h0.85v0.85h-0.85zM562.7 284.5h0.85v0.85h-0.85zM565.2 290.5h0.85v0.85h-0.85zM566.9 292.3h0.85v0.85h-0.85zM571.7 291.8h0.85v0.85h-0.85zM557.6 293.7h0.85v0.85h-0.85zM565.8 292.3h0.85v0.85h-0.85zM562.1 291.2h0.85v0.85h-0.85zM561.8 286.7h0.85v0.85h-0.85zM568.5 288.5h0.85v0.85h-0.85zM566.9 291.4h0.85v0.85h-0.85zM557.8 292.4h0.85v0.85h-0.85zM561.4 288.7h0.85v0.85h-0.85zM564.0 289.6h0.85v0.85h-0.85zM555.8 292.0h0.85v0.85h-0.85zM567.1 286.8h0.85v0.85h-0.85zM562.5 286.7h0.85v0.85h-0.85zM563.6 290.5h0.85v0.85h-0.85zM564.5 291.5h0.85v0.85h-0.85zM571.8 289.9h0.85v0.85h-0.85zM563.0 286.0h0.85v0.85h-0.85zM561.1 291.0h0.85v0.85h-0.85zM571.5 288.1h0.85v0.85h-0.85zM560.4 292.4h0.85v0.85h-0.85zM560.2 290.8h0.85v0.85h-0.85zM556.0 291.5h0.85v0.85h-0.85zM568.2 292.4h0.85v0.85h-0.85zM564.2 289.8h0.85v0.85h-0.85zM565.2 292.8h0.85v0.85h-0.85zM563.7 293.7h0.85v0.85h-0.85zM562.2 291.8h0.85v0.85h-0.85zM559.0 293.9h0.85v0.85h-0.85zM559.0 289.6h0.85v0.85h-0.85zM565.0 293.0h0.85v0.85h-0.85zM563.5 291.6h0.85v0.85h-0.85zM570.9 288.8h0.85v0.85h-0.85zM559.1 290.8h0.85v0.85h-0.85zM560.4 289.8h0.85v0.85h-0.85zM557.8 289.8h0.85v0.85h-0.85zM569.7 291.2h0.85v0.85h-0.85zM556.8 293.3h0.85v0.85h-0.85zM566.7 290.3h0.85v0.85h-0.85zM563.9 277.2h0.85v0.85h-0.85zM558.4 284.2h0.85v0.85h-0.85zM563.8 283.5h0.85v0.85h-0.85zM567.5 279.2h0.85v0.85h-0.85zM566.3 287.7h0.85v0.85h-0.85zM565.1 292.5h0.85v0.85h-0.85zM561.6 289.8h0.85v0.85h-0.85zM560.1 277.7h0.85v0.85h-0.85zM563.1 289.5h0.85v0.85h-0.85zM558.8 284.8h0.85v0.85h-0.85zM559.2 283.6h0.85v0.85h-0.85zM566.7 281.2h0.85v0.85h-0.85zM560.3 283.8h0.85v0.85h-0.85zM569.7 290.1h0.85v0.85h-0.85zM558.5 286.3h0.85v0.85h-0.85zM565.0 282.0h0.85v0.85h-0.85zM559.4 280.9h0.85v0.85h-0.85zM564.1 282.0h0.85v0.85h-0.85zM559.9 286.5h0.85v0.85h-0.85zM563.6 292.2h0.85v0.85h-0.85zM562.9 279.1h0.85v0.85h-0.85zM561.9 283.8h0.85v0.85h-0.85zM565.2 282.1h0.85v0.85h-0.85zM568.7 280.5h0.85v0.85h-0.85zM561.4 285.6h0.85v0.85h-0.85zM566.5 286.3h0.85v0.85h-0.85zM563.8 277.5h0.85v0.85h-0.85zM563.4 279.2h0.85v0.85h-0.85zM571.1 289.2h0.85v0.85h-0.85zM555.9 285.3h0.85v0.85h-0.85zM561.1 286.2h0.85v0.85h-0.85zM557.2 281.6h0.85v0.85h-0.85zM562.4 282.1h0.85v0.85h-0.85zM562.7 285.9h0.85v0.85h-0.85zM576.7 281.6h0.85v0.85h-0.85zM564.7 278.9h0.85v0.85h-0.85zM569.7 283.8h0.85v0.85h-0.85zM568.0 287.9h0.85v0.85h-0.85zM561.9 279.2h0.85v0.85h-0.85zM565.1 288.6h0.85v0.85h-0.85zM569.2 287.0h0.85v0.85h-0.85zM564.1 280.0h0.85v0.85h-0.85zM564.2 283.9h0.85v0.85h-0.85zM565.2 283.7h0.85v0.85h-0.85zM558.2 286.7h0.85v0.85h-0.85zM560.6 286.8h0.85v0.85h-0.85zM564.6 278.0h0.85v0.85h-0.85zM565.4 277.8h0.85v0.85h-0.85zM560.3 288.4h0.85v0.85h-0.85zM562.3 284.4h0.85v0.85h-0.85zM563.0 285.7h0.85v0.85h-0.85zM562.9 285.3h0.85v0.85h-0.85zM565.9 290.7h0.85v0.85h-0.85zM563.8 278.5h0.85v0.85h-0.85zM564.0 288.7h0.85v0.85h-0.85zM558.5 280.2h0.85v0.85h-0.85zM559.8 287.1h0.85v0.85h-0.85zM564.6 289.8h0.85v0.85h-0.85zM557.9 277.7h0.85v0.85h-0.85zM564.4 285.6h0.85v0.85h-0.85zM561.2 282.6h0.85v0.85h-0.85zM560.6 282.6h0.85v0.85h-0.85zM565.7 284.0h0.85v0.85h-0.85zM561.1 279.2h0.85v0.85h-0.85zM560.5 279.6h0.85v0.85h-0.85zM561.1 286.8h0.85v0.85h-0.85zM563.6 287.6h0.85v0.85h-0.85zM573.0 281.3h0.85v0.85h-0.85zM556.1 277.4h0.85v0.85h-0.85zM563.4 294.2h0.85v0.85h-0.85zM562.6 288.7h0.85v0.85h-0.85zM566.7 285.4h0.85v0.85h-0.85zM562.2 279.3h0.85v0.85h-0.85zM554.9 281.3h0.85v0.85h-0.85zM568.0 284.9h0.85v0.85h-0.85zM559.6 279.6h0.85v0.85h-0.85zM563.2 291.0h0.85v0.85h-0.85zM558.7 284.5h0.85v0.85h-0.85zM559.6 285.6h0.85v0.85h-0.85zM561.7 279.3h0.85v0.85h-0.85zM566.4 279.8h0.85v0.85h-0.85zM566.4 280.3h0.85v0.85h-0.85zM561.3 285.1h0.85v0.85h-0.85zM565.2 282.7h0.85v0.85h-0.85zM562.1 282.6h0.85v0.85h-0.85zM563.8 285.2h0.85v0.85h-0.85zM564.0 284.8h0.85v0.85h-0.85zM565.6 290.4h0.85v0.85h-0.85zM561.3 283.0h0.85v0.85h-0.85zM563.0 279.4h0.85v0.85h-0.85zM564.2 283.8h0.85v0.85h-0.85zM563.7 290.3h0.85v0.85h-0.85zM560.6 281.4h0.85v0.85h-0.85zM569.4 284.1h0.85v0.85h-0.85zM561.8 282.3h0.85v0.85h-0.85zM566.0 285.6h0.85v0.85h-0.85zM564.1 285.0h0.85v0.85h-0.85zM567.7 280.3h0.85v0.85h-0.85zM555.8 282.8h0.85v0.85h-0.85zM570.5 288.0h0.85v0.85h-0.85zM562.7 288.7h0.85v0.85h-0.85zM559.1 287.9h0.85v0.85h-0.85zM563.9 287.7h0.85v0.85h-0.85zM571.3 282.4h0.85v0.85h-0.85zM565.2 282.2h0.85v0.85h-0.85zM559.1 288.0h0.85v0.85h-0.85zM561.8 278.7h0.85v0.85h-0.85zM568.0 283.6h0.85v0.85h-0.85zM558.5 275.6h0.85v0.85h-0.85zM562.8 282.2h0.85v0.85h-0.85zM562.4 280.7h0.85v0.85h-0.85zM570.9 278.5h0.85v0.85h-0.85zM562.4 286.4h0.85v0.85h-0.85zM568.0 280.6h0.85v0.85h-0.85zM561.0 282.2h0.85v0.85h-0.85zM560.6 282.7h0.85v0.85h-0.85zM566.9 280.6h0.85v0.85h-0.85zM565.6 290.1h0.85v0.85h-0.85zM557.4 281.7h0.85v0.85h-0.85zM565.6 284.7h0.85v0.85h-0.85zM565.6 278.1h0.85v0.85h-0.85zM561.3 281.8h0.85v0.85h-0.85zM564.2 282.4h0.85v0.85h-0.85zM564.3 282.5h0.85v0.85h-0.85zM561.7 281.3h0.85v0.85h-0.85zM561.4 284.5h0.85v0.85h-0.85zM561.1 290.7h0.85v0.85h-0.85zM562.4 283.3h0.85v0.85h-0.85zM558.8 283.2h0.85v0.85h-0.85zM563.2 282.1h0.85v0.85h-0.85zM598.7 262.1h0.85v0.85h-0.85zM592.0 268.1h0.85v0.85h-0.85zM585.0 275.9h0.85v0.85h-0.85zM583.5 271.9h0.85v0.85h-0.85zM576.5 285.2h0.85v0.85h-0.85zM581.5 282.6h0.85v0.85h-0.85zM583.5 279.4h0.85v0.85h-0.85zM579.7 276.3h0.85v0.85h-0.85zM570.3 280.0h0.85v0.85h-0.85zM573.0 282.1h0.85v0.85h-0.85zM583.9 275.2h0.85v0.85h-0.85zM583.6 278.0h0.85v0.85h-0.85zM563.5 291.0h0.85v0.85h-0.85zM579.8 276.9h0.85v0.85h-0.85zM592.1 273.5h0.85v0.85h-0.85zM573.6 280.7h0.85v0.85h-0.85zM583.5 279.0h0.85v0.85h-0.85zM570.5 289.3h0.85v0.85h-0.85zM583.5 269.9h0.85v0.85h-0.85zM571.9 285.8h0.85v0.85h-0.85zM569.2 284.8h0.85v0.85h-0.85zM575.5 278.0h0.85v0.85h-0.85zM594.0 259.0h0.85v0.85h-0.85zM572.2 278.5h0.85v0.85h-0.85zM571.0 287.0h0.85v0.85h-0.85zM582.4 274.3h0.85v0.85h-0.85zM581.9 277.3h0.85v0.85h-0.85zM590.2 265.3h0.85v0.85h-0.85zM569.6 285.4h0.85v0.85h-0.85zM567.2 287.6h0.85v0.85h-0.85zM574.4 276.6h0.85v0.85h-0.85zM579.4 272.0h0.85v0.85h-0.85zM583.2 276.9h0.85v0.85h-0.85zM588.1 271.6h0.85v0.85h-0.85zM566.7 285.4h0.85v0.85h-0.85zM573.3 283.1h0.85v0.85h-0.85zM580.0 280.4h0.85v0.85h-0.85zM589.5 277.0h0.85v0.85h-0.85zM581.6 273.1h0.85v0.85h-0.85zM577.7 282.2h0.85v0.85h-0.85zM576.0 289.3h0.85v0.85h-0.85zM586.5 272.7h0.85v0.85h-0.85zM589.6 275.4h0.85v0.85h-0.85zM595.2 255.2h0.85v0.85h-0.85zM581.1 282.5h0.85v0.85h-0.85zM591.9 267.9h0.85v0.85h-0.85zM567.1 281.5h0.85v0.85h-0.85zM577.1 283.3h0.85v0.85h-0.85zM576.6 284.8h0.85v0.85h-0.85zM578.5 283.8h0.85v0.85h-0.85zM575.4 286.3h0.85v0.85h-0.85zM575.6 281.5h0.85v0.85h-0.85zM577.9 276.8h0.85v0.85h-0.85zM575.5 279.9h0.85v0.85h-0.85zM584.6 273.9h0.85v0.85h-0.85zM579.9 279.6h0.85v0.85h-0.85zM578.8 277.0h0.85v0.85h-0.85zM590.9 269.0h0.85v0.85h-0.85zM583.7 278.1h0.85v0.85h-0.85zM581.5 277.9h0.85v0.85h-0.85zM607.9 258.3h0.85v0.85h-0.85zM605.8 256.1h0.85v0.85h-0.85zM577.3 263.1h0.85v0.85h-0.85zM581.9 260.6h0.85v0.85h-0.85zM576.6 265.1h0.85v0.85h-0.85zM578.0 265.5h0.85v0.85h-0.85zM591.5 258.4h0.85v0.85h-0.85zM580.1 266.6h0.85v0.85h-0.85zM577.6 261.3h0.85v0.85h-0.85zM585.5 262.8h0.85v0.85h-0.85zM594.4 259.6h0.85v0.85h-0.85zM582.9 257.9h0.85v0.85h-0.85zM585.1 263.9h0.85v0.85h-0.85zM594.1 255.7h0.85v0.85h-0.85zM589.1 253.7h0.85v0.85h-0.85zM590.9 258.9h0.85v0.85h-0.85zM595.4 258.5h0.85v0.85h-0.85zM580.2 267.6h0.85v0.85h-0.85zM589.0 260.0h0.85v0.85h-0.85zM583.9 268.0h0.85v0.85h-0.85zM597.7 262.9h0.85v0.85h-0.85zM595.6 262.6h0.85v0.85h-0.85zM580.4 268.8h0.85v0.85h-0.85zM599.2 258.9h0.85v0.85h-0.85zM577.5 264.0h0.85v0.85h-0.85z" fill="#2f4fff" fill-opacity="0.6"/>
<g transform="translate(563.40 291.30) rotate(-4)" filter="url(#bl07)" opacity="1.0"><ellipse cx="0.00" cy="0" rx="9.88" ry="4.81" fill="#8a9aff" fill-opacity="0.45"/><ellipse cx="0.00" cy="0" rx="7.60" ry="3.70" fill="#3050ff" fill-opacity="0.85"/><ellipse cx="0.00" cy="0" rx="6.54" ry="3.18" fill="#1438ff" fill-opacity="0.9"/><ellipse cx="0.00" cy="0" rx="5.62" ry="2.74" fill="#00b4f4" fill-opacity="1"/><ellipse cx="0.00" cy="0" rx="4.71" ry="2.29" fill="#2ad22a" fill-opacity="1"/><ellipse cx="0.00" cy="0" rx="2.58" ry="1.26" fill="#e6e000" fill-opacity="1"/><ellipse cx="-0.00" cy="0" rx="1.44" ry="0.70" fill="#ff4800" fill-opacity="1"/></g>
<rect x="570.50" y="245.20" width="35.10" height="52.30" fill="none" stroke="#3a3a3a" stroke-width="0.9"/>
<line x1="570.50" y1="268.20" x2="605.60" y2="268.20" stroke="#222" stroke-width="1.0"/>
<text x="549.10" y="305.30" font-size="7.2" text-anchor="start" fill="#000" stroke="#000" stroke-width="0.12">CTL</text>
<text x="604.00" y="251.50" font-size="6.5" text-anchor="end" fill="#000">0.4</text>
<text x="604.00" y="294.90" font-size="6.5" text-anchor="end" fill="#000">3.6</text>
<rect x="620.80" y="242.20" width="62.80" height="63.70" fill="none" stroke="#b0b0b0" stroke-width="0.8"/>
<line x1="619.10" y1="247.20" x2="620.80" y2="247.20" stroke="#555" stroke-width="0.7"/>
<line x1="619.10" y1="253.91" x2="620.80" y2="253.91" stroke="#555" stroke-width="0.7"/>
<line x1="619.10" y1="260.62" x2="620.80" y2="260.62" stroke="#555" stroke-width="0.7"/>
<line x1="619.10" y1="267.34" x2="620.80" y2="267.34" stroke="#555" stroke-width="0.7"/>
<line x1="619.10" y1="274.05" x2="620.80" y2="274.05" stroke="#555" stroke-width="0.7"/>
<line x1="619.10" y1="280.76" x2="620.80" y2="280.76" stroke="#555" stroke-width="0.7"/>
<line x1="619.10" y1="287.47" x2="620.80" y2="287.47" stroke="#555" stroke-width="0.7"/>
<line x1="619.10" y1="294.19" x2="620.80" y2="294.19" stroke="#555" stroke-width="0.7"/>
<line x1="619.10" y1="300.90" x2="620.80" y2="300.90" stroke="#555" stroke-width="0.7"/>
<line x1="624.80" y1="305.90" x2="624.80" y2="307.30" stroke="#777" stroke-width="0.6"/>
<line x1="628.45" y1="305.90" x2="628.45" y2="307.30" stroke="#777" stroke-width="0.6"/>
<line x1="632.11" y1="305.90" x2="632.11" y2="307.30" stroke="#777" stroke-width="0.6"/>
<line x1="635.76" y1="305.90" x2="635.76" y2="307.30" stroke="#777" stroke-width="0.6"/>
<line x1="639.41" y1="305.90" x2="639.41" y2="307.30" stroke="#777" stroke-width="0.6"/>
<line x1="643.07" y1="305.90" x2="643.07" y2="307.30" stroke="#777" stroke-width="0.6"/>
<line x1="646.72" y1="305.90" x2="646.72" y2="307.30" stroke="#777" stroke-width="0.6"/>
<line x1="650.37" y1="305.90" x2="650.37" y2="307.30" stroke="#777" stroke-width="0.6"/>
<line x1="654.03" y1="305.90" x2="654.03" y2="307.30" stroke="#777" stroke-width="0.6"/>
<line x1="657.68" y1="305.90" x2="657.68" y2="307.30" stroke="#777" stroke-width="0.6"/>
<line x1="661.33" y1="305.90" x2="661.33" y2="307.30" stroke="#777" stroke-width="0.6"/>
<line x1="664.99" y1="305.90" x2="664.99" y2="307.30" stroke="#777" stroke-width="0.6"/>
<line x1="668.64" y1="305.90" x2="668.64" y2="307.30" stroke="#777" stroke-width="0.6"/>
<line x1="672.29" y1="305.90" x2="672.29" y2="307.30" stroke="#777" stroke-width="0.6"/>
<line x1="675.95" y1="305.90" x2="675.95" y2="307.30" stroke="#777" stroke-width="0.6"/>
<line x1="679.60" y1="305.90" x2="679.60" y2="307.30" stroke="#777" stroke-width="0.6"/>
<rect x="619.30" y="292.90" width="1.50" height="1.60" fill="#222"/>
<rect x="632.80" y="305.70" width="2.20" height="1.60" fill="#222"/>
<path d="M639.8 292.3h0.85v0.85h-0.85zM641.6 286.9h0.85v0.85h-0.85zM637.6 291.3h0.85v0.85h-0.85zM635.0 293.6h0.85v0.85h-0.85zM627.8 285.0h0.85v0.85h-0.85zM640.0 290.4h0.85v0.85h-0.85zM638.2 290.5h0.85v0.85h-0.85zM629.3 290.3h0.85v0.85h-0.85zM636.9 288.0h0.85v0.85h-0.85zM640.3 289.1h0.85v0.85h-0.85zM635.7 286.5h0.85v0.85h-0.85zM640.6 290.1h0.85v0.85h-0.85zM640.4 291.1h0.85v0.85h-0.85zM628.3 288.2h0.85v0.85h-0.85zM634.7 287.6h0.85v0.85h-0.85zM639.0 288.7h0.85v0.85h-0.85zM641.3 289.8h0.85v0.85h-0.85zM644.0 289.9h0.85v0.85h-0.85zM625.9 289.5h0.85v0.85h-0.85zM636.0 289.9h0.85v0.85h-0.85zM640.2 286.7h0.85v0.85h-0.85zM643.0 283.3h0.85v0.85h-0.85zM645.5 291.2h0.85v0.85h-0.85zM631.3 293.1h0.85v0.85h-0.85zM634.3 286.4h0.85v0.85h-0.85zM630.6 288.2h0.85v0.85h-0.85zM640.8 290.5h0.85v0.85h-0.85zM629.1 292.0h0.85v0.85h-0.85zM642.8 291.3h0.85v0.85h-0.85zM641.4 292.8h0.85v0.85h-0.85zM639.0 289.6h0.85v0.85h-0.85zM624.5 290.7h0.85v0.85h-0.85zM632.7 290.7h0.85v0.85h-0.85zM640.4 288.8h0.85v0.85h-0.85zM628.6 292.6h0.85v0.85h-0.85zM635.0 291.2h0.85v0.85h-0.85zM635.8 292.1h0.85v0.85h-0.85zM641.2 288.9h0.85v0.85h-0.85zM637.9 292.2h0.85v0.85h-0.85zM637.8 287.3h0.85v0.85h-0.85zM633.9 290.7h0.85v0.85h-0.85zM636.4 283.6h0.85v0.85h-0.85zM635.6 287.4h0.85v0.85h-0.85zM640.3 291.5h0.85v0.85h-0.85zM635.4 288.7h0.85v0.85h-0.85zM641.9 290.2h0.85v0.85h-0.85zM627.1 286.0h0.85v0.85h-0.85zM642.9 293.4h0.85v0.85h-0.85zM635.4 291.2h0.85v0.85h-0.85zM642.5 289.7h0.85v0.85h-0.85zM636.8 290.7h0.85v0.85h-0.85zM641.0 290.5h0.85v0.85h-0.85zM644.4 293.1h0.85v0.85h-0.85zM633.3 290.3h0.85v0.85h-0.85zM636.8 286.3h0.85v0.85h-0.85zM635.4 289.2h0.85v0.85h-0.85zM637.5 292.8h0.85v0.85h-0.85zM627.5 291.1h0.85v0.85h-0.85zM635.4 288.8h0.85v0.85h-0.85zM635.0 291.2h0.85v0.85h-0.85zM632.1 290.0h0.85v0.85h-0.85zM635.3 291.2h0.85v0.85h-0.85zM627.9 286.0h0.85v0.85h-0.85zM643.9 287.7h0.85v0.85h-0.85zM638.8 291.3h0.85v0.85h-0.85zM646.6 289.2h0.85v0.85h-0.85zM631.6 290.6h0.85v0.85h-0.85zM630.0 294.4h0.85v0.85h-0.85zM637.9 289.0h0.85v0.85h-0.85zM627.3 290.3h0.85v0.85h-0.85zM637.5 288.5h0.85v0.85h-0.85zM632.5 288.3h0.85v0.85h-0.85zM634.5 289.6h0.85v0.85h-0.85zM637.7 286.4h0.85v0.85h-0.85zM636.6 284.8h0.85v0.85h-0.85zM646.4 293.0h0.85v0.85h-0.85zM639.7 289.5h0.85v0.85h-0.85zM629.3 292.4h0.85v0.85h-0.85zM641.6 290.0h0.85v0.85h-0.85zM629.0 290.1h0.85v0.85h-0.85zM636.8 291.3h0.85v0.85h-0.85zM629.5 291.4h0.85v0.85h-0.85zM631.8 286.9h0.85v0.85h-0.85zM643.4 292.6h0.85v0.85h-0.85zM633.3 287.5h0.85v0.85h-0.85zM632.8 290.2h0.85v0.85h-0.85zM633.2 295.8h0.85v0.85h-0.85zM634.6 289.9h0.85v0.85h-0.85zM644.1 293.7h0.85v0.85h-0.85zM629.9 288.9h0.85v0.85h-0.85zM629.6 291.2h0.85v0.85h-0.85zM639.4 289.9h0.85v0.85h-0.85zM627.6 290.7h0.85v0.85h-0.85zM634.3 287.8h0.85v0.85h-0.85zM642.4 287.6h0.85v0.85h-0.85zM636.3 290.5h0.85v0.85h-0.85zM633.7 286.1h0.85v0.85h-0.85zM632.4 287.8h0.85v0.85h-0.85zM631.3 291.3h0.85v0.85h-0.85zM633.1 288.3h0.85v0.85h-0.85zM637.0 287.7h0.85v0.85h-0.85zM643.0 287.2h0.85v0.85h-0.85zM641.5 290.1h0.85v0.85h-0.85zM633.2 288.9h0.85v0.85h-0.85zM632.3 290.1h0.85v0.85h-0.85zM640.0 289.3h0.85v0.85h-0.85zM626.4 294.1h0.85v0.85h-0.85zM633.9 288.7h0.85v0.85h-0.85zM634.5 285.2h0.85v0.85h-0.85zM630.2 290.0h0.85v0.85h-0.85zM630.8 289.8h0.85v0.85h-0.85zM638.1 290.1h0.85v0.85h-0.85zM627.2 286.0h0.85v0.85h-0.85zM631.3 292.4h0.85v0.85h-0.85zM632.7 289.7h0.85v0.85h-0.85zM636.7 289.7h0.85v0.85h-0.85zM628.8 286.1h0.85v0.85h-0.85zM642.1 290.9h0.85v0.85h-0.85zM634.5 289.6h0.85v0.85h-0.85zM634.8 292.9h0.85v0.85h-0.85zM634.2 288.8h0.85v0.85h-0.85zM632.5 286.9h0.85v0.85h-0.85zM630.9 290.1h0.85v0.85h-0.85zM642.4 287.6h0.85v0.85h-0.85zM637.3 290.7h0.85v0.85h-0.85zM635.6 287.2h0.85v0.85h-0.85zM641.6 289.5h0.85v0.85h-0.85zM632.3 289.2h0.85v0.85h-0.85zM639.6 289.7h0.85v0.85h-0.85zM636.3 288.6h0.85v0.85h-0.85zM631.3 287.9h0.85v0.85h-0.85zM640.3 289.6h0.85v0.85h-0.85zM628.0 288.4h0.85v0.85h-0.85zM639.7 290.1h0.85v0.85h-0.85zM631.3 289.1h0.85v0.85h-0.85zM638.3 284.5h0.85v0.85h-0.85zM643.6 289.6h0.85v0.85h-0.85zM639.2 293.0h0.85v0.85h-0.85zM632.9 290.5h0.85v0.85h-0.85zM636.0 291.2h0.85v0.85h-0.85zM634.1 290.8h0.85v0.85h-0.85zM629.7 288.7h0.85v0.85h-0.85zM630.1 286.7h0.85v0.85h-0.85zM636.3 291.7h0.85v0.85h-0.85zM639.0 292.2h0.85v0.85h-0.85zM626.5 291.1h0.85v0.85h-0.85zM635.7 290.8h0.85v0.85h-0.85zM638.8 290.7h0.85v0.85h-0.85zM636.7 289.7h0.85v0.85h-0.85zM630.6 290.4h0.85v0.85h-0.85zM634.7 280.7h0.85v0.85h-0.85zM635.9 282.7h0.85v0.85h-0.85zM631.0 277.4h0.85v0.85h-0.85zM632.2 282.8h0.85v0.85h-0.85zM636.8 281.6h0.85v0.85h-0.85zM633.3 278.8h0.85v0.85h-0.85zM625.3 278.0h0.85v0.85h-0.85zM635.1 283.4h0.85v0.85h-0.85zM625.8 286.1h0.85v0.85h-0.85zM642.0 283.5h0.85v0.85h-0.85zM637.4 278.0h0.85v0.85h-0.85zM637.2 285.5h0.85v0.85h-0.85zM632.1 282.8h0.85v0.85h-0.85zM630.3 284.8h0.85v0.85h-0.85zM633.8 287.4h0.85v0.85h-0.85zM634.7 277.8h0.85v0.85h-0.85zM631.7 281.3h0.85v0.85h-0.85zM635.2 279.2h0.85v0.85h-0.85zM637.3 277.9h0.85v0.85h-0.85zM636.9 291.4h0.85v0.85h-0.85zM630.6 286.4h0.85v0.85h-0.85zM626.3 273.7h0.85v0.85h-0.85zM634.6 284.0h0.85v0.85h-0.85zM632.1 279.4h0.85v0.85h-0.85zM636.3 287.4h0.85v0.85h-0.85zM640.9 282.4h0.85v0.85h-0.85zM640.9 281.2h0.85v0.85h-0.85zM635.7 282.7h0.85v0.85h-0.85zM638.9 283.8h0.85v0.85h-0.85zM640.9 282.1h0.85v0.85h-0.85zM634.8 281.0h0.85v0.85h-0.85zM635.7 281.3h0.85v0.85h-0.85zM637.9 284.4h0.85v0.85h-0.85zM634.5 276.7h0.85v0.85h-0.85zM632.7 282.0h0.85v0.85h-0.85zM631.8 281.4h0.85v0.85h-0.85zM634.7 279.7h0.85v0.85h-0.85zM632.3 285.4h0.85v0.85h-0.85zM637.7 276.0h0.85v0.85h-0.85zM633.4 280.3h0.85v0.85h-0.85zM640.3 278.0h0.85v0.85h-0.85zM639.3 284.5h0.85v0.85h-0.85zM629.9 279.8h0.85v0.85h-0.85zM638.8 282.2h0.85v0.85h-0.85zM633.1 283.8h0.85v0.85h-0.85zM639.9 274.5h0.85v0.85h-0.85zM636.6 284.1h0.85v0.85h-0.85zM634.5 278.5h0.85v0.85h-0.85zM637.3 280.8h0.85v0.85h-0.85zM632.6 281.5h0.85v0.85h-0.85zM635.9 285.8h0.85v0.85h-0.85zM636.2 285.4h0.85v0.85h-0.85zM634.1 290.2h0.85v0.85h-0.85zM636.2 282.8h0.85v0.85h-0.85zM630.9 279.8h0.85v0.85h-0.85zM636.8 279.7h0.85v0.85h-0.85zM630.1 285.1h0.85v0.85h-0.85zM637.1 289.5h0.85v0.85h-0.85zM636.5 283.6h0.85v0.85h-0.85zM637.4 279.3h0.85v0.85h-0.85zM632.6 283.3h0.85v0.85h-0.85zM646.3 283.2h0.85v0.85h-0.85zM633.9 282.2h0.85v0.85h-0.85zM635.3 278.5h0.85v0.85h-0.85zM631.9 270.1h0.85v0.85h-0.85zM640.2 279.5h0.85v0.85h-0.85zM632.9 286.9h0.85v0.85h-0.85zM638.5 283.0h0.85v0.85h-0.85zM631.1 271.7h0.85v0.85h-0.85zM635.9 282.0h0.85v0.85h-0.85zM633.3 273.4h0.85v0.85h-0.85zM638.3 291.3h0.85v0.85h-0.85zM633.7 282.9h0.85v0.85h-0.85zM631.5 276.4h0.85v0.85h-0.85zM636.5 285.7h0.85v0.85h-0.85zM630.2 278.3h0.85v0.85h-0.85zM631.1 284.6h0.85v0.85h-0.85zM637.7 282.1h0.85v0.85h-0.85zM627.7 276.5h0.85v0.85h-0.85zM637.7 285.1h0.85v0.85h-0.85zM633.3 275.7h0.85v0.85h-0.85zM631.3 288.3h0.85v0.85h-0.85zM635.7 282.3h0.85v0.85h-0.85zM637.2 277.2h0.85v0.85h-0.85zM632.6 273.5h0.85v0.85h-0.85zM634.1 289.5h0.85v0.85h-0.85zM637.8 288.8h0.85v0.85h-0.85zM637.7 276.1h0.85v0.85h-0.85zM634.6 289.7h0.85v0.85h-0.85zM631.9 282.8h0.85v0.85h-0.85zM631.2 281.0h0.85v0.85h-0.85zM632.6 281.6h0.85v0.85h-0.85zM637.4 280.7h0.85v0.85h-0.85zM637.0 288.7h0.85v0.85h-0.85zM636.0 282.7h0.85v0.85h-0.85zM640.1 273.4h0.85v0.85h-0.85zM633.7 291.8h0.85v0.85h-0.85zM633.4 286.1h0.85v0.85h-0.85zM633.4 276.9h0.85v0.85h-0.85zM642.1 280.3h0.85v0.85h-0.85zM627.1 277.8h0.85v0.85h-0.85zM636.0 282.2h0.85v0.85h-0.85zM636.5 283.8h0.85v0.85h-0.85zM635.1 283.1h0.85v0.85h-0.85zM643.7 279.2h0.85v0.85h-0.85zM639.3 278.3h0.85v0.85h-0.85zM637.8 286.0h0.85v0.85h-0.85zM631.5 281.5h0.85v0.85h-0.85zM636.8 292.5h0.85v0.85h-0.85zM633.5 278.2h0.85v0.85h-0.85zM635.1 285.7h0.85v0.85h-0.85zM635.6 282.2h0.85v0.85h-0.85zM633.1 278.5h0.85v0.85h-0.85zM637.3 288.4h0.85v0.85h-0.85zM641.0 282.6h0.85v0.85h-0.85zM638.8 277.8h0.85v0.85h-0.85zM635.7 280.5h0.85v0.85h-0.85zM627.6 286.8h0.85v0.85h-0.85zM639.0 276.3h0.85v0.85h-0.85zM639.0 288.4h0.85v0.85h-0.85zM634.2 285.2h0.85v0.85h-0.85zM633.1 280.7h0.85v0.85h-0.85zM637.4 288.3h0.85v0.85h-0.85zM631.9 290.2h0.85v0.85h-0.85zM637.9 284.8h0.85v0.85h-0.85zM630.9 282.8h0.85v0.85h-0.85zM631.5 290.6h0.85v0.85h-0.85zM635.0 289.0h0.85v0.85h-0.85zM629.5 277.7h0.85v0.85h-0.85zM634.9 281.0h0.85v0.85h-0.85zM636.9 281.0h0.85v0.85h-0.85zM630.0 280.1h0.85v0.85h-0.85zM638.4 275.0h0.85v0.85h-0.85zM632.8 286.2h0.85v0.85h-0.85zM637.0 282.4h0.85v0.85h-0.85zM635.8 282.5h0.85v0.85h-0.85zM633.2 288.6h0.85v0.85h-0.85zM633.0 279.4h0.85v0.85h-0.85zM628.5 281.7h0.85v0.85h-0.85zM632.3 283.3h0.85v0.85h-0.85zM632.1 280.0h0.85v0.85h-0.85zM641.1 281.5h0.85v0.85h-0.85zM638.8 285.6h0.85v0.85h-0.85zM629.8 282.0h0.85v0.85h-0.85zM638.0 288.2h0.85v0.85h-0.85zM635.8 278.5h0.85v0.85h-0.85zM633.5 282.9h0.85v0.85h-0.85zM636.7 275.3h0.85v0.85h-0.85zM637.9 281.4h0.85v0.85h-0.85zM632.8 278.7h0.85v0.85h-0.85zM672.1 273.9h0.85v0.85h-0.85zM662.0 272.3h0.85v0.85h-0.85zM655.0 267.6h0.85v0.85h-0.85zM670.6 263.2h0.85v0.85h-0.85zM665.9 264.5h0.85v0.85h-0.85zM661.5 272.2h0.85v0.85h-0.85zM649.0 282.0h0.85v0.85h-0.85zM640.0 284.3h0.85v0.85h-0.85zM652.7 274.6h0.85v0.85h-0.85zM651.4 278.9h0.85v0.85h-0.85zM648.9 281.1h0.85v0.85h-0.85zM647.8 273.1h0.85v0.85h-0.85zM642.0 290.7h0.85v0.85h-0.85zM668.3 266.7h0.85v0.85h-0.85zM644.8 284.9h0.85v0.85h-0.85zM649.5 282.3h0.85v0.85h-0.85zM658.3 270.7h0.85v0.85h-0.85zM640.4 288.2h0.85v0.85h-0.85zM665.1 273.0h0.85v0.85h-0.85zM665.3 272.9h0.85v0.85h-0.85zM653.0 280.2h0.85v0.85h-0.85zM644.9 283.9h0.85v0.85h-0.85zM649.3 278.4h0.85v0.85h-0.85zM640.9 292.9h0.85v0.85h-0.85zM668.3 268.5h0.85v0.85h-0.85zM654.7 275.7h0.85v0.85h-0.85zM644.5 277.2h0.85v0.85h-0.85zM645.3 281.3h0.85v0.85h-0.85zM656.7 268.6h0.85v0.85h-0.85zM670.7 269.4h0.85v0.85h-0.85zM644.0 286.3h0.85v0.85h-0.85zM648.5 279.3h0.85v0.85h-0.85zM638.8 288.6h0.85v0.85h-0.85zM665.7 278.3h0.85v0.85h-0.85zM658.6 278.7h0.85v0.85h-0.85zM672.8 258.1h0.85v0.85h-0.85zM653.7 277.6h0.85v0.85h-0.85zM648.9 277.2h0.85v0.85h-0.85zM645.6 278.0h0.85v0.85h-0.85zM662.9 271.4h0.85v0.85h-0.85zM644.8 294.0h0.85v0.85h-0.85zM664.5 275.4h0.85v0.85h-0.85zM657.3 275.4h0.85v0.85h-0.85zM649.8 279.7h0.85v0.85h-0.85zM647.3 283.8h0.85v0.85h-0.85zM666.3 272.0h0.85v0.85h-0.85zM669.0 260.6h0.85v0.85h-0.85zM647.6 275.8h0.85v0.85h-0.85zM663.1 277.7h0.85v0.85h-0.85zM671.1 265.5h0.85v0.85h-0.85zM652.4 285.1h0.85v0.85h-0.85zM653.2 279.3h0.85v0.85h-0.85zM646.7 289.0h0.85v0.85h-0.85zM652.6 276.6h0.85v0.85h-0.85zM655.2 278.7h0.85v0.85h-0.85zM654.1 283.5h0.85v0.85h-0.85zM650.2 284.6h0.85v0.85h-0.85zM640.0 287.0h0.85v0.85h-0.85zM644.6 288.5h0.85v0.85h-0.85zM645.0 282.3h0.85v0.85h-0.85zM658.2 269.2h0.85v0.85h-0.85zM651.4 281.8h0.85v0.85h-0.85zM649.9 286.2h0.85v0.85h-0.85zM662.4 274.4h0.85v0.85h-0.85zM657.8 270.1h0.85v0.85h-0.85zM649.8 284.3h0.85v0.85h-0.85zM650.6 283.0h0.85v0.85h-0.85zM660.1 271.3h0.85v0.85h-0.85zM653.7 268.6h0.85v0.85h-0.85zM649.3 285.2h0.85v0.85h-0.85zM658.8 277.4h0.85v0.85h-0.85zM655.6 278.4h0.85v0.85h-0.85zM661.9 265.1h0.85v0.85h-0.85zM644.5 279.6h0.85v0.85h-0.85zM664.8 273.2h0.85v0.85h-0.85zM660.4 275.8h0.85v0.85h-0.85zM646.8 285.3h0.85v0.85h-0.85zM664.0 269.0h0.85v0.85h-0.85zM663.9 271.5h0.85v0.85h-0.85zM642.1 285.0h0.85v0.85h-0.85zM672.3 262.3h0.85v0.85h-0.85zM643.1 283.0h0.85v0.85h-0.85zM647.2 284.1h0.85v0.85h-0.85zM651.3 278.3h0.85v0.85h-0.85zM663.7 273.8h0.85v0.85h-0.85zM661.6 274.6h0.85v0.85h-0.85zM652.7 275.8h0.85v0.85h-0.85zM670.7 271.7h0.85v0.85h-0.85zM656.6 271.5h0.85v0.85h-0.85zM668.4 268.2h0.85v0.85h-0.85zM674.4 262.1h0.85v0.85h-0.85zM675.9 261.1h0.85v0.85h-0.85zM644.5 266.2h0.85v0.85h-0.85zM673.4 261.6h0.85v0.85h-0.85zM675.1 260.6h0.85v0.85h-0.85zM676.6 259.0h0.85v0.85h-0.85zM646.3 271.7h0.85v0.85h-0.85zM657.7 262.5h0.85v0.85h-0.85zM663.1 262.1h0.85v0.85h-0.85zM659.7 261.9h0.85v0.85h-0.85zM676.1 260.0h0.85v0.85h-0.85zM657.6 262.2h0.85v0.85h-0.85zM674.8 259.3h0.85v0.85h-0.85zM667.6 257.2h0.85v0.85h-0.85zM651.6 266.1h0.85v0.85h-0.85zM655.3 264.0h0.85v0.85h-0.85zM659.9 263.1h0.85v0.85h-0.85zM665.0 262.1h0.85v0.85h-0.85zM672.2 258.4h0.85v0.85h-0.85zM662.2 261.9h0.85v0.85h-0.85zM669.6 253.4h0.85v0.85h-0.85zM651.8 270.0h0.85v0.85h-0.85zM637.6 269.6h0.85v0.85h-0.85zM660.9 262.3h0.85v0.85h-0.85zM667.0 258.3h0.85v0.85h-0.85zM662.0 265.9h0.85v0.85h-0.85zM654.5 262.6h0.85v0.85h-0.85zM668.1 262.1h0.85v0.85h-0.85zM681.6 259.4h0.85v0.85h-0.85zM664.8 267.0h0.85v0.85h-0.85zM659.1 267.6h0.85v0.85h-0.85zM657.5 266.3h0.85v0.85h-0.85zM679.4 252.6h0.85v0.85h-0.85zM665.0 265.8h0.85v0.85h-0.85zM670.4 263.5h0.85v0.85h-0.85z" fill="#2f4fff" fill-opacity="0.6"/>
<g transform="translate(636.60 290.30) rotate(-6)" filter="url(#bl07)" opacity="1.0"><ellipse cx="0.00" cy="0" rx="10.66" ry="5.46" fill="#8a9aff" fill-opacity="0.45"/><ellipse cx="0.00" cy="0" rx="8.20" ry="4.20" fill="#3050ff" fill-opacity="0.85"/><ellipse cx="0.00" cy="0" rx="7.05" ry="3.61" fill="#1438ff" fill-opacity="0.9"/><ellipse cx="0.00" cy="0" rx="6.07" ry="3.11" fill="#00b4f4" fill-opacity="1"/><ellipse cx="0.00" cy="0" rx="5.08" ry="2.60" fill="#2ad22a" fill-opacity="1"/><ellipse cx="0.00" cy="0" rx="2.79" ry="1.43" fill="#e6e000" fill-opacity="1"/><ellipse cx="-0.00" cy="0" rx="1.56" ry="0.80" fill="#ff4800" fill-opacity="1"/></g>
<rect x="643.50" y="245.20" width="35.10" height="52.30" fill="none" stroke="#3a3a3a" stroke-width="0.9"/>
<line x1="643.50" y1="268.20" x2="678.60" y2="268.20" stroke="#222" stroke-width="1.0"/>
<text x="622.80" y="305.30" font-size="7.2" text-anchor="start" fill="#000" stroke="#000" stroke-width="0.12">CTL</text>
<text x="676.80" y="251.50" font-size="6.5" text-anchor="end" fill="#000">0.5</text>
<text x="676.80" y="294.90" font-size="6.5" text-anchor="end" fill="#000">7.0</text>
<rect x="547.80" y="311.30" width="64.70" height="64.20" fill="none" stroke="#b0b0b0" stroke-width="0.8"/>
<line x1="546.10" y1="316.30" x2="547.80" y2="316.30" stroke="#555" stroke-width="0.7"/>
<line x1="546.10" y1="323.07" x2="547.80" y2="323.07" stroke="#555" stroke-width="0.7"/>
<line x1="546.10" y1="329.85" x2="547.80" y2="329.85" stroke="#555" stroke-width="0.7"/>
<line x1="546.10" y1="336.62" x2="547.80" y2="336.62" stroke="#555" stroke-width="0.7"/>
<line x1="546.10" y1="343.40" x2="547.80" y2="343.40" stroke="#555" stroke-width="0.7"/>
<line x1="546.10" y1="350.18" x2="547.80" y2="350.18" stroke="#555" stroke-width="0.7"/>
<line x1="546.10" y1="356.95" x2="547.80" y2="356.95" stroke="#555" stroke-width="0.7"/>
<line x1="546.10" y1="363.73" x2="547.80" y2="363.73" stroke="#555" stroke-width="0.7"/>
<line x1="546.10" y1="370.50" x2="547.80" y2="370.50" stroke="#555" stroke-width="0.7"/>
<line x1="551.80" y1="375.50" x2="551.80" y2="376.90" stroke="#777" stroke-width="0.6"/>
<line x1="555.58" y1="375.50" x2="555.58" y2="376.90" stroke="#777" stroke-width="0.6"/>
<line x1="559.36" y1="375.50" x2="559.36" y2="376.90" stroke="#777" stroke-width="0.6"/>
<line x1="563.14" y1="375.50" x2="563.14" y2="376.90" stroke="#777" stroke-width="0.6"/>
<line x1="566.92" y1="375.50" x2="566.92" y2="376.90" stroke="#777" stroke-width="0.6"/>
<line x1="570.70" y1="375.50" x2="570.70" y2="376.90" stroke="#777" stroke-width="0.6"/>
<line x1="574.48" y1="375.50" x2="574.48" y2="376.90" stroke="#777" stroke-width="0.6"/>
<line x1="578.26" y1="375.50" x2="578.26" y2="376.90" stroke="#777" stroke-width="0.6"/>
<line x1="582.04" y1="375.50" x2="582.04" y2="376.90" stroke="#777" stroke-width="0.6"/>
<line x1="585.82" y1="375.50" x2="585.82" y2="376.90" stroke="#777" stroke-width="0.6"/>
<line x1="589.60" y1="375.50" x2="589.60" y2="376.90" stroke="#777" stroke-width="0.6"/>
<line x1="593.38" y1="375.50" x2="593.38" y2="376.90" stroke="#777" stroke-width="0.6"/>
<line x1="597.16" y1="375.50" x2="597.16" y2="376.90" stroke="#777" stroke-width="0.6"/>
<line x1="600.94" y1="375.50" x2="600.94" y2="376.90" stroke="#777" stroke-width="0.6"/>
<line x1="604.72" y1="375.50" x2="604.72" y2="376.90" stroke="#777" stroke-width="0.6"/>
<line x1="608.50" y1="375.50" x2="608.50" y2="376.90" stroke="#777" stroke-width="0.6"/>
<rect x="546.30" y="362.50" width="1.50" height="1.60" fill="#222"/>
<rect x="559.80" y="375.30" width="2.20" height="1.60" fill="#222"/>
<path d="M568.6 364.6h0.85v0.85h-0.85zM568.4 360.5h0.85v0.85h-0.85zM564.4 360.6h0.85v0.85h-0.85zM561.2 357.1h0.85v0.85h-0.85zM570.0 359.5h0.85v0.85h-0.85zM571.0 363.6h0.85v0.85h-0.85zM558.3 359.1h0.85v0.85h-0.85zM569.0 360.7h0.85v0.85h-0.85zM565.4 361.1h0.85v0.85h-0.85zM568.9 359.6h0.85v0.85h-0.85zM565.5 361.9h0.85v0.85h-0.85zM570.1 358.6h0.85v0.85h-0.85zM569.7 359.3h0.85v0.85h-0.85zM568.9 356.6h0.85v0.85h-0.85zM556.5 364.5h0.85v0.85h-0.85zM568.6 358.8h0.85v0.85h-0.85zM564.3 358.3h0.85v0.85h-0.85zM557.9 361.4h0.85v0.85h-0.85zM567.9 356.9h0.85v0.85h-0.85zM556.6 358.1h0.85v0.85h-0.85zM569.0 356.2h0.85v0.85h-0.85zM573.4 358.1h0.85v0.85h-0.85zM561.3 357.1h0.85v0.85h-0.85zM569.1 359.4h0.85v0.85h-0.85zM566.6 357.8h0.85v0.85h-0.85zM567.7 356.6h0.85v0.85h-0.85zM556.7 357.4h0.85v0.85h-0.85zM567.4 357.8h0.85v0.85h-0.85zM564.8 356.8h0.85v0.85h-0.85zM568.2 360.3h0.85v0.85h-0.85zM564.2 359.7h0.85v0.85h-0.85zM570.1 358.4h0.85v0.85h-0.85zM565.6 355.2h0.85v0.85h-0.85zM567.8 359.3h0.85v0.85h-0.85zM571.6 355.0h0.85v0.85h-0.85zM565.1 358.5h0.85v0.85h-0.85zM569.6 358.2h0.85v0.85h-0.85zM565.4 356.6h0.85v0.85h-0.85zM567.0 356.1h0.85v0.85h-0.85zM561.3 356.4h0.85v0.85h-0.85zM568.4 363.0h0.85v0.85h-0.85zM570.8 357.4h0.85v0.85h-0.85zM563.7 357.6h0.85v0.85h-0.85zM568.5 360.4h0.85v0.85h-0.85zM566.5 359.1h0.85v0.85h-0.85zM558.2 360.6h0.85v0.85h-0.85zM566.1 355.1h0.85v0.85h-0.85zM571.3 355.4h0.85v0.85h-0.85zM561.5 366.1h0.85v0.85h-0.85zM554.5 358.0h0.85v0.85h-0.85zM565.3 357.4h0.85v0.85h-0.85zM560.7 358.5h0.85v0.85h-0.85zM574.5 360.5h0.85v0.85h-0.85zM564.0 355.2h0.85v0.85h-0.85zM564.2 358.8h0.85v0.85h-0.85zM560.8 358.0h0.85v0.85h-0.85zM565.5 359.7h0.85v0.85h-0.85zM561.1 358.5h0.85v0.85h-0.85zM559.3 356.8h0.85v0.85h-0.85zM563.8 356.0h0.85v0.85h-0.85zM559.8 352.2h0.85v0.85h-0.85zM571.3 360.4h0.85v0.85h-0.85zM557.9 354.5h0.85v0.85h-0.85zM563.8 357.1h0.85v0.85h-0.85zM560.5 362.1h0.85v0.85h-0.85zM556.7 357.1h0.85v0.85h-0.85zM573.2 359.5h0.85v0.85h-0.85zM552.8 357.6h0.85v0.85h-0.85zM572.0 359.7h0.85v0.85h-0.85zM556.6 358.1h0.85v0.85h-0.85zM564.7 356.8h0.85v0.85h-0.85zM576.4 361.3h0.85v0.85h-0.85zM552.7 357.4h0.85v0.85h-0.85zM556.8 354.8h0.85v0.85h-0.85zM571.3 357.3h0.85v0.85h-0.85zM565.1 359.4h0.85v0.85h-0.85zM561.2 355.4h0.85v0.85h-0.85zM564.0 360.0h0.85v0.85h-0.85zM559.0 359.9h0.85v0.85h-0.85zM564.9 363.2h0.85v0.85h-0.85zM572.3 356.5h0.85v0.85h-0.85zM562.1 359.7h0.85v0.85h-0.85zM564.9 354.1h0.85v0.85h-0.85zM570.7 357.1h0.85v0.85h-0.85zM574.9 358.3h0.85v0.85h-0.85zM561.0 359.0h0.85v0.85h-0.85zM565.8 357.9h0.85v0.85h-0.85zM561.2 357.8h0.85v0.85h-0.85zM560.7 356.6h0.85v0.85h-0.85zM562.0 357.0h0.85v0.85h-0.85zM560.8 358.8h0.85v0.85h-0.85zM554.9 359.4h0.85v0.85h-0.85zM553.5 359.6h0.85v0.85h-0.85zM560.3 360.5h0.85v0.85h-0.85zM564.9 360.9h0.85v0.85h-0.85zM570.7 353.7h0.85v0.85h-0.85zM561.3 356.8h0.85v0.85h-0.85zM563.3 357.7h0.85v0.85h-0.85zM567.8 356.5h0.85v0.85h-0.85zM568.2 360.6h0.85v0.85h-0.85zM563.6 359.9h0.85v0.85h-0.85zM563.9 357.8h0.85v0.85h-0.85zM574.3 358.4h0.85v0.85h-0.85zM562.4 361.1h0.85v0.85h-0.85zM561.6 357.2h0.85v0.85h-0.85zM555.4 357.3h0.85v0.85h-0.85zM566.5 360.2h0.85v0.85h-0.85zM562.8 359.2h0.85v0.85h-0.85zM574.5 361.5h0.85v0.85h-0.85zM562.4 359.0h0.85v0.85h-0.85zM568.6 359.9h0.85v0.85h-0.85zM569.2 356.8h0.85v0.85h-0.85zM573.1 355.8h0.85v0.85h-0.85zM557.1 358.0h0.85v0.85h-0.85zM572.6 351.7h0.85v0.85h-0.85zM564.3 359.0h0.85v0.85h-0.85zM563.6 360.4h0.85v0.85h-0.85zM562.5 358.2h0.85v0.85h-0.85zM562.1 357.5h0.85v0.85h-0.85zM562.3 360.7h0.85v0.85h-0.85zM551.6 358.0h0.85v0.85h-0.85zM566.9 360.4h0.85v0.85h-0.85zM564.5 363.3h0.85v0.85h-0.85zM559.1 359.8h0.85v0.85h-0.85zM563.9 360.3h0.85v0.85h-0.85zM576.6 359.2h0.85v0.85h-0.85zM566.2 358.7h0.85v0.85h-0.85zM562.1 358.7h0.85v0.85h-0.85zM573.4 358.2h0.85v0.85h-0.85zM559.9 360.7h0.85v0.85h-0.85zM563.4 354.2h0.85v0.85h-0.85zM561.2 357.4h0.85v0.85h-0.85zM562.9 359.6h0.85v0.85h-0.85zM568.1 356.0h0.85v0.85h-0.85zM567.3 357.8h0.85v0.85h-0.85zM560.3 356.4h0.85v0.85h-0.85zM563.5 359.1h0.85v0.85h-0.85zM564.6 360.1h0.85v0.85h-0.85zM562.0 361.5h0.85v0.85h-0.85zM564.0 359.3h0.85v0.85h-0.85zM560.3 356.3h0.85v0.85h-0.85zM560.2 358.7h0.85v0.85h-0.85zM564.4 359.4h0.85v0.85h-0.85zM558.6 361.4h0.85v0.85h-0.85zM566.4 352.9h0.85v0.85h-0.85zM563.1 359.0h0.85v0.85h-0.85zM559.2 353.7h0.85v0.85h-0.85zM560.9 359.8h0.85v0.85h-0.85zM561.6 359.1h0.85v0.85h-0.85zM563.3 359.3h0.85v0.85h-0.85zM564.8 360.2h0.85v0.85h-0.85zM563.1 359.0h0.85v0.85h-0.85zM559.5 356.5h0.85v0.85h-0.85zM571.8 358.9h0.85v0.85h-0.85zM569.0 360.9h0.85v0.85h-0.85zM564.8 357.8h0.85v0.85h-0.85zM569.3 358.1h0.85v0.85h-0.85zM565.9 355.2h0.85v0.85h-0.85zM562.8 360.8h0.85v0.85h-0.85zM564.6 356.9h0.85v0.85h-0.85zM561.9 339.3h0.85v0.85h-0.85zM563.2 357.3h0.85v0.85h-0.85zM561.4 352.3h0.85v0.85h-0.85zM564.0 346.5h0.85v0.85h-0.85zM570.6 342.4h0.85v0.85h-0.85zM568.5 355.6h0.85v0.85h-0.85zM571.2 351.2h0.85v0.85h-0.85zM571.5 352.8h0.85v0.85h-0.85zM561.3 348.7h0.85v0.85h-0.85zM567.2 346.2h0.85v0.85h-0.85zM571.6 354.2h0.85v0.85h-0.85zM575.0 345.4h0.85v0.85h-0.85zM559.0 354.3h0.85v0.85h-0.85zM559.0 342.0h0.85v0.85h-0.85zM567.1 345.6h0.85v0.85h-0.85zM563.7 343.1h0.85v0.85h-0.85zM560.8 356.3h0.85v0.85h-0.85zM566.8 341.6h0.85v0.85h-0.85zM561.7 344.6h0.85v0.85h-0.85zM555.4 353.2h0.85v0.85h-0.85zM565.0 351.1h0.85v0.85h-0.85zM565.6 360.5h0.85v0.85h-0.85zM567.8 358.8h0.85v0.85h-0.85zM569.1 352.9h0.85v0.85h-0.85zM565.9 353.3h0.85v0.85h-0.85zM564.1 341.3h0.85v0.85h-0.85zM562.2 345.8h0.85v0.85h-0.85zM558.0 348.4h0.85v0.85h-0.85zM563.2 349.2h0.85v0.85h-0.85zM569.4 343.4h0.85v0.85h-0.85zM567.9 345.5h0.85v0.85h-0.85zM573.9 345.9h0.85v0.85h-0.85zM564.4 355.1h0.85v0.85h-0.85zM557.4 352.0h0.85v0.85h-0.85zM568.7 348.4h0.85v0.85h-0.85zM569.6 348.7h0.85v0.85h-0.85zM560.1 351.4h0.85v0.85h-0.85zM558.2 346.7h0.85v0.85h-0.85zM565.8 348.7h0.85v0.85h-0.85zM568.2 341.8h0.85v0.85h-0.85zM560.3 353.2h0.85v0.85h-0.85zM563.6 354.6h0.85v0.85h-0.85zM561.8 351.7h0.85v0.85h-0.85zM560.0 352.3h0.85v0.85h-0.85zM559.4 351.7h0.85v0.85h-0.85zM565.7 359.8h0.85v0.85h-0.85zM563.5 351.0h0.85v0.85h-0.85zM562.2 343.7h0.85v0.85h-0.85zM553.9 345.0h0.85v0.85h-0.85zM572.6 353.4h0.85v0.85h-0.85zM561.0 355.1h0.85v0.85h-0.85zM564.5 353.7h0.85v0.85h-0.85zM560.2 354.0h0.85v0.85h-0.85zM566.7 350.9h0.85v0.85h-0.85zM558.6 342.9h0.85v0.85h-0.85zM565.5 346.6h0.85v0.85h-0.85zM564.3 341.3h0.85v0.85h-0.85zM569.0 348.1h0.85v0.85h-0.85zM560.4 343.5h0.85v0.85h-0.85zM562.3 350.5h0.85v0.85h-0.85zM564.1 349.2h0.85v0.85h-0.85zM574.1 340.7h0.85v0.85h-0.85zM558.7 353.5h0.85v0.85h-0.85zM566.3 353.6h0.85v0.85h-0.85zM562.2 343.3h0.85v0.85h-0.85zM566.4 350.7h0.85v0.85h-0.85zM567.9 353.4h0.85v0.85h-0.85zM565.7 348.6h0.85v0.85h-0.85zM566.2 354.1h0.85v0.85h-0.85zM566.3 350.9h0.85v0.85h-0.85zM562.5 355.1h0.85v0.85h-0.85zM564.1 350.9h0.85v0.85h-0.85zM557.9 349.2h0.85v0.85h-0.85zM563.5 352.4h0.85v0.85h-0.85zM561.7 353.7h0.85v0.85h-0.85zM564.0 351.2h0.85v0.85h-0.85zM568.2 347.8h0.85v0.85h-0.85zM566.7 346.2h0.85v0.85h-0.85zM567.1 348.2h0.85v0.85h-0.85zM569.8 347.2h0.85v0.85h-0.85zM554.8 350.9h0.85v0.85h-0.85zM566.9 350.8h0.85v0.85h-0.85zM564.9 349.5h0.85v0.85h-0.85zM564.6 349.9h0.85v0.85h-0.85zM559.4 350.8h0.85v0.85h-0.85zM567.4 357.5h0.85v0.85h-0.85zM570.0 355.7h0.85v0.85h-0.85zM569.4 347.2h0.85v0.85h-0.85zM564.7 352.0h0.85v0.85h-0.85zM567.8 348.4h0.85v0.85h-0.85zM569.0 349.5h0.85v0.85h-0.85zM572.9 348.8h0.85v0.85h-0.85zM570.3 346.9h0.85v0.85h-0.85zM565.6 343.4h0.85v0.85h-0.85zM565.4 338.1h0.85v0.85h-0.85zM565.7 350.9h0.85v0.85h-0.85zM566.0 355.6h0.85v0.85h-0.85zM562.9 345.6h0.85v0.85h-0.85zM568.3 352.4h0.85v0.85h-0.85zM562.1 348.1h0.85v0.85h-0.85zM561.6 351.3h0.85v0.85h-0.85zM566.5 346.0h0.85v0.85h-0.85zM562.6 348.8h0.85v0.85h-0.85zM564.0 349.4h0.85v0.85h-0.85zM556.1 338.5h0.85v0.85h-0.85zM568.4 351.0h0.85v0.85h-0.85zM565.0 349.2h0.85v0.85h-0.85zM564.5 337.9h0.85v0.85h-0.85zM567.0 353.0h0.85v0.85h-0.85zM565.9 349.7h0.85v0.85h-0.85zM562.0 350.9h0.85v0.85h-0.85zM573.6 351.6h0.85v0.85h-0.85zM563.1 347.9h0.85v0.85h-0.85zM569.2 344.7h0.85v0.85h-0.85zM572.9 347.7h0.85v0.85h-0.85zM562.4 347.8h0.85v0.85h-0.85zM565.4 360.6h0.85v0.85h-0.85zM561.5 358.8h0.85v0.85h-0.85zM569.5 347.5h0.85v0.85h-0.85zM563.6 347.9h0.85v0.85h-0.85zM560.3 351.4h0.85v0.85h-0.85zM570.7 352.6h0.85v0.85h-0.85zM569.0 346.5h0.85v0.85h-0.85zM561.2 345.0h0.85v0.85h-0.85zM570.1 359.2h0.85v0.85h-0.85zM565.9 355.0h0.85v0.85h-0.85zM576.7 342.4h0.85v0.85h-0.85zM572.4 341.3h0.85v0.85h-0.85zM562.6 345.9h0.85v0.85h-0.85zM563.9 350.9h0.85v0.85h-0.85zM561.2 352.5h0.85v0.85h-0.85zM565.6 348.2h0.85v0.85h-0.85zM565.2 342.0h0.85v0.85h-0.85zM568.2 350.9h0.85v0.85h-0.85zM565.4 352.8h0.85v0.85h-0.85zM558.7 349.9h0.85v0.85h-0.85zM561.5 347.5h0.85v0.85h-0.85zM571.1 352.6h0.85v0.85h-0.85zM570.0 349.6h0.85v0.85h-0.85zM564.3 344.4h0.85v0.85h-0.85zM564.4 350.3h0.85v0.85h-0.85zM564.3 343.6h0.85v0.85h-0.85zM565.1 354.5h0.85v0.85h-0.85zM557.8 352.1h0.85v0.85h-0.85zM568.8 345.0h0.85v0.85h-0.85zM562.2 350.9h0.85v0.85h-0.85zM565.6 355.9h0.85v0.85h-0.85zM554.1 339.4h0.85v0.85h-0.85zM566.0 349.2h0.85v0.85h-0.85zM570.7 357.9h0.85v0.85h-0.85zM572.2 358.6h0.85v0.85h-0.85zM580.4 343.6h0.85v0.85h-0.85zM578.7 363.6h0.85v0.85h-0.85zM576.5 337.5h0.85v0.85h-0.85zM563.7 364.1h0.85v0.85h-0.85zM570.3 357.8h0.85v0.85h-0.85zM578.9 348.3h0.85v0.85h-0.85zM580.1 337.9h0.85v0.85h-0.85zM582.1 335.9h0.85v0.85h-0.85zM585.5 338.9h0.85v0.85h-0.85zM593.0 334.5h0.85v0.85h-0.85zM584.6 333.2h0.85v0.85h-0.85zM585.5 333.4h0.85v0.85h-0.85zM576.0 352.9h0.85v0.85h-0.85zM584.7 348.2h0.85v0.85h-0.85zM608.5 316.1h0.85v0.85h-0.85zM600.0 322.7h0.85v0.85h-0.85zM587.4 333.9h0.85v0.85h-0.85zM597.4 346.5h0.85v0.85h-0.85zM592.9 337.2h0.85v0.85h-0.85zM578.9 346.0h0.85v0.85h-0.85zM603.1 331.5h0.85v0.85h-0.85zM587.0 354.6h0.85v0.85h-0.85zM585.8 348.1h0.85v0.85h-0.85zM596.8 320.7h0.85v0.85h-0.85zM564.1 359.2h0.85v0.85h-0.85zM584.4 338.8h0.85v0.85h-0.85zM566.4 355.4h0.85v0.85h-0.85zM572.8 343.7h0.85v0.85h-0.85zM580.5 342.4h0.85v0.85h-0.85zM575.9 341.8h0.85v0.85h-0.85zM585.3 343.0h0.85v0.85h-0.85zM576.0 349.3h0.85v0.85h-0.85zM577.0 338.7h0.85v0.85h-0.85zM566.5 346.1h0.85v0.85h-0.85zM577.6 344.4h0.85v0.85h-0.85zM572.6 356.5h0.85v0.85h-0.85zM590.0 339.8h0.85v0.85h-0.85zM571.0 353.1h0.85v0.85h-0.85zM577.6 325.3h0.85v0.85h-0.85zM577.3 344.5h0.85v0.85h-0.85zM577.5 342.7h0.85v0.85h-0.85zM591.8 332.5h0.85v0.85h-0.85zM579.5 337.7h0.85v0.85h-0.85zM564.5 356.5h0.85v0.85h-0.85zM584.8 336.7h0.85v0.85h-0.85zM587.3 343.6h0.85v0.85h-0.85zM578.4 345.5h0.85v0.85h-0.85zM570.1 354.0h0.85v0.85h-0.85zM582.9 342.0h0.85v0.85h-0.85zM580.5 346.2h0.85v0.85h-0.85zM598.9 325.7h0.85v0.85h-0.85zM578.7 346.5h0.85v0.85h-0.85zM603.2 331.5h0.85v0.85h-0.85zM597.6 335.2h0.85v0.85h-0.85zM578.3 349.1h0.85v0.85h-0.85zM579.9 354.5h0.85v0.85h-0.85zM595.0 333.4h0.85v0.85h-0.85zM578.1 340.5h0.85v0.85h-0.85zM578.1 335.3h0.85v0.85h-0.85zM578.0 342.5h0.85v0.85h-0.85zM571.7 352.5h0.85v0.85h-0.85zM580.6 347.5h0.85v0.85h-0.85zM577.7 354.7h0.85v0.85h-0.85zM567.1 353.1h0.85v0.85h-0.85zM577.3 342.4h0.85v0.85h-0.85zM601.0 331.8h0.85v0.85h-0.85zM600.8 334.6h0.85v0.85h-0.85zM580.4 341.8h0.85v0.85h-0.85zM584.9 343.3h0.85v0.85h-0.85zM591.8 344.1h0.85v0.85h-0.85zM595.7 333.4h0.85v0.85h-0.85zM585.2 340.3h0.85v0.85h-0.85zM571.4 339.2h0.85v0.85h-0.85zM583.6 351.2h0.85v0.85h-0.85zM594.8 336.5h0.85v0.85h-0.85zM606.1 322.8h0.85v0.85h-0.85zM575.5 346.4h0.85v0.85h-0.85zM560.2 354.8h0.85v0.85h-0.85zM589.4 336.3h0.85v0.85h-0.85zM581.6 343.3h0.85v0.85h-0.85zM587.5 346.1h0.85v0.85h-0.85zM589.5 328.7h0.85v0.85h-0.85zM588.0 347.9h0.85v0.85h-0.85zM571.0 353.8h0.85v0.85h-0.85zM569.2 363.2h0.85v0.85h-0.85zM578.9 339.9h0.85v0.85h-0.85zM573.5 353.6h0.85v0.85h-0.85zM589.3 345.3h0.85v0.85h-0.85zM571.7 353.7h0.85v0.85h-0.85zM574.5 340.4h0.85v0.85h-0.85zM568.4 353.6h0.85v0.85h-0.85zM581.2 348.0h0.85v0.85h-0.85zM574.0 341.4h0.85v0.85h-0.85zM583.0 332.9h0.85v0.85h-0.85zM595.3 333.2h0.85v0.85h-0.85zM577.8 341.0h0.85v0.85h-0.85zM577.2 352.5h0.85v0.85h-0.85zM596.1 323.0h0.85v0.85h-0.85zM579.7 333.3h0.85v0.85h-0.85zM585.4 335.3h0.85v0.85h-0.85zM593.0 343.8h0.85v0.85h-0.85zM592.7 328.2h0.85v0.85h-0.85zM591.6 335.0h0.85v0.85h-0.85zM589.5 338.6h0.85v0.85h-0.85zM586.3 333.4h0.85v0.85h-0.85zM578.7 354.0h0.85v0.85h-0.85zM577.8 348.6h0.85v0.85h-0.85zM583.2 345.6h0.85v0.85h-0.85zM577.8 336.1h0.85v0.85h-0.85zM576.9 336.4h0.85v0.85h-0.85zM576.1 330.3h0.85v0.85h-0.85zM582.2 342.1h0.85v0.85h-0.85zM578.1 345.6h0.85v0.85h-0.85zM570.6 358.8h0.85v0.85h-0.85zM595.1 341.9h0.85v0.85h-0.85zM587.0 337.4h0.85v0.85h-0.85zM573.9 349.1h0.85v0.85h-0.85zM588.6 340.8h0.85v0.85h-0.85zM591.3 345.6h0.85v0.85h-0.85zM580.5 339.4h0.85v0.85h-0.85zM568.4 360.1h0.85v0.85h-0.85zM571.1 351.8h0.85v0.85h-0.85zM576.2 346.6h0.85v0.85h-0.85zM599.7 333.2h0.85v0.85h-0.85zM572.4 347.0h0.85v0.85h-0.85zM576.0 341.9h0.85v0.85h-0.85zM575.0 354.4h0.85v0.85h-0.85zM578.2 346.9h0.85v0.85h-0.85zM584.8 339.3h0.85v0.85h-0.85zM563.7 359.2h0.85v0.85h-0.85zM559.1 367.7h0.85v0.85h-0.85zM587.3 336.4h0.85v0.85h-0.85zM585.5 345.6h0.85v0.85h-0.85zM578.7 349.5h0.85v0.85h-0.85zM596.2 340.8h0.85v0.85h-0.85zM595.5 340.0h0.85v0.85h-0.85zM566.9 363.1h0.85v0.85h-0.85zM580.5 343.7h0.85v0.85h-0.85zM592.9 334.6h0.85v0.85h-0.85zM574.7 346.2h0.85v0.85h-0.85zM589.4 356.2h0.85v0.85h-0.85zM590.4 334.6h0.85v0.85h-0.85zM582.1 347.3h0.85v0.85h-0.85zM576.5 357.7h0.85v0.85h-0.85zM572.0 343.5h0.85v0.85h-0.85zM568.1 350.6h0.85v0.85h-0.85zM586.3 337.2h0.85v0.85h-0.85zM564.0 353.2h0.85v0.85h-0.85zM587.3 330.3h0.85v0.85h-0.85zM566.3 354.4h0.85v0.85h-0.85zM587.4 347.5h0.85v0.85h-0.85zM572.0 357.5h0.85v0.85h-0.85zM580.0 345.8h0.85v0.85h-0.85zM591.9 335.0h0.85v0.85h-0.85zM587.1 327.9h0.85v0.85h-0.85zM596.6 335.2h0.85v0.85h-0.85zM583.3 345.4h0.85v0.85h-0.85zM580.0 338.2h0.85v0.85h-0.85zM585.4 342.0h0.85v0.85h-0.85zM587.5 337.4h0.85v0.85h-0.85zM577.4 344.4h0.85v0.85h-0.85zM589.2 330.6h0.85v0.85h-0.85zM583.3 338.0h0.85v0.85h-0.85zM589.7 330.4h0.85v0.85h-0.85zM588.5 341.0h0.85v0.85h-0.85zM589.9 339.0h0.85v0.85h-0.85zM577.2 350.2h0.85v0.85h-0.85zM578.3 345.8h0.85v0.85h-0.85zM569.8 351.9h0.85v0.85h-0.85zM586.9 353.1h0.85v0.85h-0.85zM574.9 337.6h0.85v0.85h-0.85zM594.1 340.8h0.85v0.85h-0.85zM572.6 354.5h0.85v0.85h-0.85zM579.9 342.2h0.85v0.85h-0.85zM593.1 332.2h0.85v0.85h-0.85zM588.0 330.3h0.85v0.85h-0.85zM555.5 358.2h0.85v0.85h-0.85zM580.0 344.8h0.85v0.85h-0.85zM590.3 325.1h0.85v0.85h-0.85zM563.9 365.7h0.85v0.85h-0.85zM593.2 341.1h0.85v0.85h-0.85zM563.0 337.7h0.85v0.85h-0.85zM573.3 341.1h0.85v0.85h-0.85zM585.6 342.3h0.85v0.85h-0.85zM566.7 358.9h0.85v0.85h-0.85zM584.8 342.0h0.85v0.85h-0.85zM578.3 349.9h0.85v0.85h-0.85zM578.5 351.9h0.85v0.85h-0.85zM591.8 340.7h0.85v0.85h-0.85zM585.8 340.5h0.85v0.85h-0.85zM590.5 341.9h0.85v0.85h-0.85zM576.8 337.5h0.85v0.85h-0.85zM575.8 348.4h0.85v0.85h-0.85zM580.9 336.5h0.85v0.85h-0.85zM600.9 336.1h0.85v0.85h-0.85zM592.2 350.3h0.85v0.85h-0.85zM595.6 326.0h0.85v0.85h-0.85zM581.7 330.9h0.85v0.85h-0.85zM590.7 327.7h0.85v0.85h-0.85zM592.7 329.7h0.85v0.85h-0.85zM592.0 323.9h0.85v0.85h-0.85zM601.2 328.3h0.85v0.85h-0.85zM596.7 319.1h0.85v0.85h-0.85zM571.9 335.5h0.85v0.85h-0.85zM602.6 325.7h0.85v0.85h-0.85zM587.0 326.4h0.85v0.85h-0.85zM585.4 323.5h0.85v0.85h-0.85zM603.3 326.5h0.85v0.85h-0.85zM588.9 326.2h0.85v0.85h-0.85zM582.5 334.6h0.85v0.85h-0.85zM582.9 334.5h0.85v0.85h-0.85zM592.2 327.8h0.85v0.85h-0.85zM598.6 325.5h0.85v0.85h-0.85zM604.4 327.6h0.85v0.85h-0.85zM591.0 329.8h0.85v0.85h-0.85zM587.0 325.7h0.85v0.85h-0.85zM604.2 324.2h0.85v0.85h-0.85zM589.1 331.3h0.85v0.85h-0.85zM603.0 324.7h0.85v0.85h-0.85zM593.8 328.0h0.85v0.85h-0.85zM593.4 326.8h0.85v0.85h-0.85zM589.9 328.2h0.85v0.85h-0.85zM592.7 323.6h0.85v0.85h-0.85zM586.3 323.9h0.85v0.85h-0.85zM588.2 334.0h0.85v0.85h-0.85zM589.9 325.9h0.85v0.85h-0.85zM587.2 330.6h0.85v0.85h-0.85zM592.0 321.5h0.85v0.85h-0.85zM592.6 328.3h0.85v0.85h-0.85zM588.7 325.6h0.85v0.85h-0.85zM594.3 339.6h0.85v0.85h-0.85zM588.7 324.8h0.85v0.85h-0.85zM603.5 319.6h0.85v0.85h-0.85zM593.0 331.5h0.85v0.85h-0.85zM588.9 333.8h0.85v0.85h-0.85zM586.7 320.9h0.85v0.85h-0.85zM597.1 327.1h0.85v0.85h-0.85zM591.5 331.8h0.85v0.85h-0.85zM589.0 323.8h0.85v0.85h-0.85zM590.8 331.2h0.85v0.85h-0.85zM592.3 325.5h0.85v0.85h-0.85zM593.4 323.2h0.85v0.85h-0.85zM594.6 325.4h0.85v0.85h-0.85zM578.9 330.7h0.85v0.85h-0.85zM581.9 325.7h0.85v0.85h-0.85zM575.1 343.5h0.85v0.85h-0.85zM597.2 324.1h0.85v0.85h-0.85zM599.1 322.1h0.85v0.85h-0.85zM602.7 327.6h0.85v0.85h-0.85zM592.8 327.3h0.85v0.85h-0.85zM602.2 329.8h0.85v0.85h-0.85zM591.1 327.1h0.85v0.85h-0.85zM591.4 329.6h0.85v0.85h-0.85zM580.3 332.5h0.85v0.85h-0.85zM586.1 330.7h0.85v0.85h-0.85zM587.1 328.8h0.85v0.85h-0.85zM598.5 325.1h0.85v0.85h-0.85zM606.5 329.7h0.85v0.85h-0.85zM587.3 326.7h0.85v0.85h-0.85zM593.8 324.9h0.85v0.85h-0.85zM593.4 325.9h0.85v0.85h-0.85zM586.7 332.2h0.85v0.85h-0.85zM579.4 334.2h0.85v0.85h-0.85zM587.4 333.5h0.85v0.85h-0.85zM579.2 326.9h0.85v0.85h-0.85zM589.8 329.8h0.85v0.85h-0.85z" fill="#2f4fff" fill-opacity="0.55"/>
<g transform="translate(563.80 359.10) rotate(-8)" filter="url(#bl07)" opacity="1.0"><ellipse cx="0.00" cy="0" rx="9.88" ry="5.46" fill="#8a9aff" fill-opacity="0.45"/><ellipse cx="0.00" cy="0" rx="7.60" ry="4.20" fill="#3050ff" fill-opacity="0.85"/><ellipse cx="0.00" cy="0" rx="6.54" ry="3.61" fill="#1438ff" fill-opacity="0.9"/><ellipse cx="0.00" cy="0" rx="5.62" ry="3.11" fill="#00b4f4" fill-opacity="1"/><ellipse cx="0.00" cy="0" rx="4.71" ry="2.60" fill="#2ad22a" fill-opacity="1"/><ellipse cx="0.00" cy="0" rx="2.58" ry="1.43" fill="#e6e000" fill-opacity="1"/><ellipse cx="-0.00" cy="0" rx="1.44" ry="0.80" fill="#ff4800" fill-opacity="1"/></g>
<rect x="570.50" y="314.40" width="35.10" height="51.70" fill="none" stroke="#3a3a3a" stroke-width="0.9"/>
<line x1="570.50" y1="337.60" x2="605.60" y2="337.60" stroke="#222" stroke-width="1.0"/>
<text x="548.90" y="373.30" font-size="7.5" text-anchor="start" fill="#000" stroke="#000" stroke-width="0.12">5µM Olaparib</text>
<text x="604.20" y="320.00" font-size="6.5" text-anchor="end" fill="#000">2.8</text>
<text x="604.20" y="364.40" font-size="6.5" text-anchor="end" fill="#000">14.5</text>
<rect x="620.80" y="311.30" width="62.80" height="64.20" fill="none" stroke="#b0b0b0" stroke-width="0.8"/>
<line x1="619.10" y1="316.30" x2="620.80" y2="316.30" stroke="#555" stroke-width="0.7"/>
<line x1="619.10" y1="323.07" x2="620.80" y2="323.07" stroke="#555" stroke-width="0.7"/>
<line x1="619.10" y1="329.85" x2="620.80" y2="329.85" stroke="#555" stroke-width="0.7"/>
<line x1="619.10" y1="336.62" x2="620.80" y2="336.62" stroke="#555" stroke-width="0.7"/>
<line x1="619.10" y1="343.40" x2="620.80" y2="343.40" stroke="#555" stroke-width="0.7"/>
<line x1="619.10" y1="350.18" x2="620.80" y2="350.18" stroke="#555" stroke-width="0.7"/>
<line x1="619.10" y1="356.95" x2="620.80" y2="356.95" stroke="#555" stroke-width="0.7"/>
<line x1="619.10" y1="363.73" x2="620.80" y2="363.73" stroke="#555" stroke-width="0.7"/>
<line x1="619.10" y1="370.50" x2="620.80" y2="370.50" stroke="#555" stroke-width="0.7"/>
<line x1="624.80" y1="375.50" x2="624.80" y2="376.90" stroke="#777" stroke-width="0.6"/>
<line x1="628.45" y1="375.50" x2="628.45" y2="376.90" stroke="#777" stroke-width="0.6"/>
<line x1="632.11" y1="375.50" x2="632.11" y2="376.90" stroke="#777" stroke-width="0.6"/>
<line x1="635.76" y1="375.50" x2="635.76" y2="376.90" stroke="#777" stroke-width="0.6"/>
<line x1="639.41" y1="375.50" x2="639.41" y2="376.90" stroke="#777" stroke-width="0.6"/>
<line x1="643.07" y1="375.50" x2="643.07" y2="376.90" stroke="#777" stroke-width="0.6"/>
<line x1="646.72" y1="375.50" x2="646.72" y2="376.90" stroke="#777" stroke-width="0.6"/>
<line x1="650.37" y1="375.50" x2="650.37" y2="376.90" stroke="#777" stroke-width="0.6"/>
<line x1="654.03" y1="375.50" x2="654.03" y2="376.90" stroke="#777" stroke-width="0.6"/>
<line x1="657.68" y1="375.50" x2="657.68" y2="376.90" stroke="#777" stroke-width="0.6"/>
<line x1="661.33" y1="375.50" x2="661.33" y2="376.90" stroke="#777" stroke-width="0.6"/>
<line x1="664.99" y1="375.50" x2="664.99" y2="376.90" stroke="#777" stroke-width="0.6"/>
<line x1="668.64" y1="375.50" x2="668.64" y2="376.90" stroke="#777" stroke-width="0.6"/>
<line x1="672.29" y1="375.50" x2="672.29" y2="376.90" stroke="#777" stroke-width="0.6"/>
<line x1="675.95" y1="375.50" x2="675.95" y2="376.90" stroke="#777" stroke-width="0.6"/>
<line x1="679.60" y1="375.50" x2="679.60" y2="376.90" stroke="#777" stroke-width="0.6"/>
<rect x="619.30" y="362.50" width="1.50" height="1.60" fill="#222"/>
<rect x="632.80" y="375.30" width="2.20" height="1.60" fill="#222"/>
<path d="M637.0 353.1h0.85v0.85h-0.85zM638.9 361.1h0.85v0.85h-0.85zM644.0 363.6h0.85v0.85h-0.85zM624.5 365.7h0.85v0.85h-0.85zM644.6 362.2h0.85v0.85h-0.85zM639.9 352.6h0.85v0.85h-0.85zM629.4 364.9h0.85v0.85h-0.85zM640.5 360.5h0.85v0.85h-0.85zM650.6 345.3h0.85v0.85h-0.85zM634.1 350.7h0.85v0.85h-0.85zM643.7 351.5h0.85v0.85h-0.85zM638.1 357.3h0.85v0.85h-0.85zM633.7 360.7h0.85v0.85h-0.85zM631.8 358.2h0.85v0.85h-0.85zM636.4 357.2h0.85v0.85h-0.85zM650.6 351.9h0.85v0.85h-0.85zM646.8 354.2h0.85v0.85h-0.85zM634.8 360.9h0.85v0.85h-0.85zM649.0 355.3h0.85v0.85h-0.85zM638.7 356.5h0.85v0.85h-0.85zM634.4 359.5h0.85v0.85h-0.85zM642.8 353.1h0.85v0.85h-0.85zM633.4 362.4h0.85v0.85h-0.85zM625.9 359.0h0.85v0.85h-0.85zM653.2 359.2h0.85v0.85h-0.85zM624.5 361.8h0.85v0.85h-0.85zM644.8 355.8h0.85v0.85h-0.85zM625.9 357.8h0.85v0.85h-0.85zM639.1 355.0h0.85v0.85h-0.85zM638.4 357.6h0.85v0.85h-0.85zM636.2 357.7h0.85v0.85h-0.85zM637.2 351.8h0.85v0.85h-0.85zM639.6 356.6h0.85v0.85h-0.85zM632.6 359.7h0.85v0.85h-0.85zM640.1 358.8h0.85v0.85h-0.85zM650.1 358.5h0.85v0.85h-0.85zM633.4 357.2h0.85v0.85h-0.85zM639.0 347.2h0.85v0.85h-0.85zM630.0 359.2h0.85v0.85h-0.85zM640.2 347.4h0.85v0.85h-0.85zM643.2 349.0h0.85v0.85h-0.85zM662.2 353.1h0.85v0.85h-0.85zM648.3 355.9h0.85v0.85h-0.85zM642.5 352.3h0.85v0.85h-0.85zM650.7 349.4h0.85v0.85h-0.85zM631.4 359.0h0.85v0.85h-0.85zM646.1 345.7h0.85v0.85h-0.85zM636.1 360.0h0.85v0.85h-0.85zM634.2 356.7h0.85v0.85h-0.85zM651.8 360.7h0.85v0.85h-0.85zM640.2 351.1h0.85v0.85h-0.85zM652.5 356.5h0.85v0.85h-0.85zM626.7 357.8h0.85v0.85h-0.85zM643.7 359.8h0.85v0.85h-0.85zM634.0 353.8h0.85v0.85h-0.85zM638.8 360.2h0.85v0.85h-0.85zM623.3 360.2h0.85v0.85h-0.85zM646.4 350.0h0.85v0.85h-0.85zM641.4 355.0h0.85v0.85h-0.85zM632.4 361.3h0.85v0.85h-0.85zM629.3 362.1h0.85v0.85h-0.85zM635.1 365.6h0.85v0.85h-0.85zM652.8 355.5h0.85v0.85h-0.85zM635.0 345.5h0.85v0.85h-0.85zM636.5 355.6h0.85v0.85h-0.85zM641.0 346.4h0.85v0.85h-0.85zM639.4 354.6h0.85v0.85h-0.85zM642.8 358.2h0.85v0.85h-0.85zM644.1 348.4h0.85v0.85h-0.85zM640.9 350.3h0.85v0.85h-0.85zM647.5 354.2h0.85v0.85h-0.85zM629.6 358.7h0.85v0.85h-0.85zM642.9 362.8h0.85v0.85h-0.85zM637.5 358.7h0.85v0.85h-0.85zM641.7 358.2h0.85v0.85h-0.85zM642.3 363.8h0.85v0.85h-0.85zM633.9 356.1h0.85v0.85h-0.85zM637.1 357.3h0.85v0.85h-0.85zM646.3 349.2h0.85v0.85h-0.85zM635.8 359.0h0.85v0.85h-0.85zM631.2 364.4h0.85v0.85h-0.85zM647.0 360.2h0.85v0.85h-0.85zM648.0 353.2h0.85v0.85h-0.85zM636.7 354.1h0.85v0.85h-0.85zM639.9 352.7h0.85v0.85h-0.85zM630.9 352.9h0.85v0.85h-0.85zM638.5 357.4h0.85v0.85h-0.85zM651.3 358.7h0.85v0.85h-0.85zM643.0 343.9h0.85v0.85h-0.85zM637.9 346.6h0.85v0.85h-0.85zM639.9 363.0h0.85v0.85h-0.85zM624.1 354.4h0.85v0.85h-0.85zM643.2 356.7h0.85v0.85h-0.85zM641.9 349.6h0.85v0.85h-0.85zM650.0 356.4h0.85v0.85h-0.85zM658.0 353.5h0.85v0.85h-0.85zM643.4 355.8h0.85v0.85h-0.85zM649.3 356.9h0.85v0.85h-0.85zM630.9 359.8h0.85v0.85h-0.85zM650.9 355.0h0.85v0.85h-0.85zM650.1 361.4h0.85v0.85h-0.85zM653.1 356.8h0.85v0.85h-0.85zM644.7 351.5h0.85v0.85h-0.85zM642.6 351.5h0.85v0.85h-0.85zM652.0 350.8h0.85v0.85h-0.85zM634.3 357.3h0.85v0.85h-0.85zM645.5 354.6h0.85v0.85h-0.85zM648.1 350.5h0.85v0.85h-0.85zM634.6 361.4h0.85v0.85h-0.85zM630.7 359.9h0.85v0.85h-0.85zM644.3 356.5h0.85v0.85h-0.85zM641.2 355.9h0.85v0.85h-0.85zM646.1 357.0h0.85v0.85h-0.85zM643.6 349.3h0.85v0.85h-0.85zM636.3 365.2h0.85v0.85h-0.85zM643.5 356.7h0.85v0.85h-0.85zM650.2 354.8h0.85v0.85h-0.85zM638.2 359.9h0.85v0.85h-0.85zM639.5 361.7h0.85v0.85h-0.85zM632.0 362.8h0.85v0.85h-0.85zM647.3 354.8h0.85v0.85h-0.85zM656.0 349.6h0.85v0.85h-0.85zM626.4 353.4h0.85v0.85h-0.85zM646.8 354.9h0.85v0.85h-0.85zM647.2 352.2h0.85v0.85h-0.85zM635.1 356.6h0.85v0.85h-0.85zM640.8 367.5h0.85v0.85h-0.85zM628.7 351.6h0.85v0.85h-0.85zM633.8 358.9h0.85v0.85h-0.85zM643.5 360.9h0.85v0.85h-0.85zM647.1 358.4h0.85v0.85h-0.85zM643.1 361.2h0.85v0.85h-0.85zM645.3 348.3h0.85v0.85h-0.85zM640.4 351.6h0.85v0.85h-0.85zM631.6 362.4h0.85v0.85h-0.85zM651.8 350.7h0.85v0.85h-0.85zM652.7 360.0h0.85v0.85h-0.85zM634.8 359.4h0.85v0.85h-0.85zM655.2 351.8h0.85v0.85h-0.85zM644.8 356.7h0.85v0.85h-0.85zM640.9 354.7h0.85v0.85h-0.85zM656.3 351.0h0.85v0.85h-0.85zM627.0 360.9h0.85v0.85h-0.85zM645.4 352.1h0.85v0.85h-0.85zM638.7 358.1h0.85v0.85h-0.85zM630.3 353.1h0.85v0.85h-0.85zM650.4 345.5h0.85v0.85h-0.85zM645.0 356.8h0.85v0.85h-0.85zM630.1 361.1h0.85v0.85h-0.85zM633.4 354.2h0.85v0.85h-0.85zM646.9 352.8h0.85v0.85h-0.85zM653.4 346.5h0.85v0.85h-0.85zM627.0 370.9h0.85v0.85h-0.85zM640.0 348.9h0.85v0.85h-0.85zM639.8 364.7h0.85v0.85h-0.85zM624.7 358.0h0.85v0.85h-0.85zM639.6 358.6h0.85v0.85h-0.85zM626.7 360.0h0.85v0.85h-0.85zM635.3 356.3h0.85v0.85h-0.85zM655.1 355.4h0.85v0.85h-0.85zM645.9 358.2h0.85v0.85h-0.85zM646.4 352.7h0.85v0.85h-0.85zM643.9 350.6h0.85v0.85h-0.85zM646.5 364.0h0.85v0.85h-0.85zM650.6 359.3h0.85v0.85h-0.85zM631.0 360.4h0.85v0.85h-0.85zM637.0 356.1h0.85v0.85h-0.85zM647.9 355.0h0.85v0.85h-0.85zM634.5 358.8h0.85v0.85h-0.85zM638.6 362.6h0.85v0.85h-0.85zM648.9 348.6h0.85v0.85h-0.85zM653.1 351.8h0.85v0.85h-0.85zM634.2 354.8h0.85v0.85h-0.85zM635.7 364.2h0.85v0.85h-0.85zM648.0 362.1h0.85v0.85h-0.85zM642.5 355.1h0.85v0.85h-0.85zM635.7 360.6h0.85v0.85h-0.85zM647.5 360.4h0.85v0.85h-0.85zM644.6 353.3h0.85v0.85h-0.85zM639.7 352.1h0.85v0.85h-0.85zM666.3 351.8h0.85v0.85h-0.85zM652.5 354.3h0.85v0.85h-0.85zM646.9 352.9h0.85v0.85h-0.85zM651.2 359.4h0.85v0.85h-0.85zM665.3 348.4h0.85v0.85h-0.85zM646.8 345.4h0.85v0.85h-0.85zM635.1 359.9h0.85v0.85h-0.85zM643.0 355.0h0.85v0.85h-0.85zM644.0 364.0h0.85v0.85h-0.85zM635.8 357.9h0.85v0.85h-0.85zM642.3 354.6h0.85v0.85h-0.85zM643.2 357.4h0.85v0.85h-0.85zM640.4 357.5h0.85v0.85h-0.85zM634.3 351.8h0.85v0.85h-0.85zM647.5 354.3h0.85v0.85h-0.85zM626.8 359.7h0.85v0.85h-0.85zM649.5 359.7h0.85v0.85h-0.85zM644.3 366.4h0.85v0.85h-0.85zM641.0 350.7h0.85v0.85h-0.85zM653.1 347.6h0.85v0.85h-0.85zM625.2 358.7h0.85v0.85h-0.85zM632.3 355.9h0.85v0.85h-0.85zM645.9 354.6h0.85v0.85h-0.85zM637.2 362.7h0.85v0.85h-0.85zM635.1 352.0h0.85v0.85h-0.85zM634.1 349.8h0.85v0.85h-0.85zM644.0 360.3h0.85v0.85h-0.85zM648.2 359.8h0.85v0.85h-0.85zM635.8 350.6h0.85v0.85h-0.85zM639.8 348.7h0.85v0.85h-0.85zM644.3 355.5h0.85v0.85h-0.85zM636.6 362.9h0.85v0.85h-0.85zM635.9 362.8h0.85v0.85h-0.85zM657.0 351.2h0.85v0.85h-0.85zM634.5 361.7h0.85v0.85h-0.85zM651.2 353.9h0.85v0.85h-0.85zM640.3 353.7h0.85v0.85h-0.85zM655.6 359.9h0.85v0.85h-0.85zM635.2 358.2h0.85v0.85h-0.85zM643.1 350.0h0.85v0.85h-0.85zM642.5 353.3h0.85v0.85h-0.85zM636.3 350.4h0.85v0.85h-0.85zM643.1 355.4h0.85v0.85h-0.85zM635.8 363.2h0.85v0.85h-0.85zM637.9 351.2h0.85v0.85h-0.85zM639.0 362.2h0.85v0.85h-0.85zM650.1 362.8h0.85v0.85h-0.85zM640.4 358.1h0.85v0.85h-0.85zM627.2 355.6h0.85v0.85h-0.85zM636.1 353.8h0.85v0.85h-0.85zM639.2 355.1h0.85v0.85h-0.85zM631.1 353.6h0.85v0.85h-0.85zM649.6 347.0h0.85v0.85h-0.85zM643.5 353.9h0.85v0.85h-0.85zM647.2 353.0h0.85v0.85h-0.85zM635.1 361.1h0.85v0.85h-0.85zM635.4 352.4h0.85v0.85h-0.85zM651.8 361.1h0.85v0.85h-0.85zM630.3 365.1h0.85v0.85h-0.85zM644.9 358.9h0.85v0.85h-0.85zM640.3 353.2h0.85v0.85h-0.85zM639.1 365.1h0.85v0.85h-0.85zM640.7 354.5h0.85v0.85h-0.85zM634.4 367.2h0.85v0.85h-0.85zM644.0 360.1h0.85v0.85h-0.85zM629.1 356.1h0.85v0.85h-0.85zM629.2 358.2h0.85v0.85h-0.85zM655.0 360.0h0.85v0.85h-0.85zM636.3 362.6h0.85v0.85h-0.85zM622.7 362.0h0.85v0.85h-0.85zM648.9 354.2h0.85v0.85h-0.85zM634.4 359.4h0.85v0.85h-0.85zM639.7 355.6h0.85v0.85h-0.85zM647.2 350.7h0.85v0.85h-0.85zM642.8 353.4h0.85v0.85h-0.85zM655.5 353.0h0.85v0.85h-0.85zM638.0 352.6h0.85v0.85h-0.85zM646.6 357.5h0.85v0.85h-0.85zM632.3 359.8h0.85v0.85h-0.85zM643.1 359.0h0.85v0.85h-0.85zM654.6 355.4h0.85v0.85h-0.85zM646.6 360.0h0.85v0.85h-0.85zM642.9 358.4h0.85v0.85h-0.85zM625.2 365.2h0.85v0.85h-0.85zM637.1 356.6h0.85v0.85h-0.85zM630.7 362.6h0.85v0.85h-0.85zM645.6 350.1h0.85v0.85h-0.85zM634.0 357.5h0.85v0.85h-0.85zM644.7 358.3h0.85v0.85h-0.85zM632.1 359.1h0.85v0.85h-0.85zM656.9 352.4h0.85v0.85h-0.85zM629.2 355.3h0.85v0.85h-0.85zM643.8 361.6h0.85v0.85h-0.85zM661.5 345.9h0.85v0.85h-0.85zM642.9 357.3h0.85v0.85h-0.85zM633.2 358.8h0.85v0.85h-0.85zM647.1 358.3h0.85v0.85h-0.85zM648.2 351.6h0.85v0.85h-0.85zM646.2 349.4h0.85v0.85h-0.85zM641.9 354.3h0.85v0.85h-0.85zM657.2 352.8h0.85v0.85h-0.85zM643.4 362.1h0.85v0.85h-0.85zM633.3 348.2h0.85v0.85h-0.85zM644.2 348.7h0.85v0.85h-0.85zM645.1 356.1h0.85v0.85h-0.85zM632.6 365.1h0.85v0.85h-0.85zM654.6 352.6h0.85v0.85h-0.85zM639.0 358.4h0.85v0.85h-0.85zM626.7 363.7h0.85v0.85h-0.85zM653.1 354.4h0.85v0.85h-0.85zM655.9 358.6h0.85v0.85h-0.85zM652.0 355.0h0.85v0.85h-0.85zM643.2 349.3h0.85v0.85h-0.85zM637.7 339.2h0.85v0.85h-0.85zM641.8 345.2h0.85v0.85h-0.85zM635.7 341.5h0.85v0.85h-0.85zM639.0 343.6h0.85v0.85h-0.85zM637.4 349.2h0.85v0.85h-0.85zM636.3 343.0h0.85v0.85h-0.85zM644.7 347.8h0.85v0.85h-0.85zM638.2 340.4h0.85v0.85h-0.85zM634.0 355.0h0.85v0.85h-0.85zM636.3 342.5h0.85v0.85h-0.85zM640.8 352.6h0.85v0.85h-0.85zM653.3 359.5h0.85v0.85h-0.85zM642.1 331.6h0.85v0.85h-0.85zM649.5 340.4h0.85v0.85h-0.85zM643.5 345.2h0.85v0.85h-0.85zM627.6 353.6h0.85v0.85h-0.85zM642.9 343.5h0.85v0.85h-0.85zM635.4 348.8h0.85v0.85h-0.85zM632.4 342.0h0.85v0.85h-0.85zM634.1 349.9h0.85v0.85h-0.85zM651.4 339.1h0.85v0.85h-0.85zM631.0 351.5h0.85v0.85h-0.85zM636.8 328.2h0.85v0.85h-0.85zM647.6 334.9h0.85v0.85h-0.85zM644.6 357.5h0.85v0.85h-0.85zM630.2 347.5h0.85v0.85h-0.85zM639.9 341.0h0.85v0.85h-0.85zM637.4 359.9h0.85v0.85h-0.85zM639.4 352.8h0.85v0.85h-0.85zM645.1 353.3h0.85v0.85h-0.85zM637.1 343.9h0.85v0.85h-0.85zM638.6 350.2h0.85v0.85h-0.85zM649.4 349.5h0.85v0.85h-0.85zM629.4 336.3h0.85v0.85h-0.85zM638.3 350.1h0.85v0.85h-0.85zM643.4 345.3h0.85v0.85h-0.85zM633.0 354.3h0.85v0.85h-0.85zM636.7 354.4h0.85v0.85h-0.85zM632.6 342.5h0.85v0.85h-0.85zM641.5 342.7h0.85v0.85h-0.85zM636.8 347.6h0.85v0.85h-0.85zM645.3 350.4h0.85v0.85h-0.85zM646.7 343.9h0.85v0.85h-0.85zM640.8 345.7h0.85v0.85h-0.85zM638.3 350.2h0.85v0.85h-0.85zM642.1 349.0h0.85v0.85h-0.85zM640.9 353.5h0.85v0.85h-0.85zM633.2 347.9h0.85v0.85h-0.85zM647.0 341.0h0.85v0.85h-0.85zM641.9 335.6h0.85v0.85h-0.85zM645.3 351.4h0.85v0.85h-0.85zM632.3 344.4h0.85v0.85h-0.85zM645.8 344.3h0.85v0.85h-0.85zM653.3 344.6h0.85v0.85h-0.85zM644.3 336.8h0.85v0.85h-0.85zM631.8 344.0h0.85v0.85h-0.85zM640.8 330.5h0.85v0.85h-0.85zM640.2 343.9h0.85v0.85h-0.85zM641.9 340.9h0.85v0.85h-0.85zM639.1 357.7h0.85v0.85h-0.85zM643.5 349.2h0.85v0.85h-0.85zM637.7 345.1h0.85v0.85h-0.85zM641.9 347.4h0.85v0.85h-0.85zM636.4 350.9h0.85v0.85h-0.85zM641.1 341.8h0.85v0.85h-0.85zM646.6 345.0h0.85v0.85h-0.85zM637.6 344.2h0.85v0.85h-0.85zM644.6 361.7h0.85v0.85h-0.85zM635.2 346.8h0.85v0.85h-0.85zM638.3 334.3h0.85v0.85h-0.85zM639.1 351.3h0.85v0.85h-0.85zM648.1 362.3h0.85v0.85h-0.85zM635.9 340.5h0.85v0.85h-0.85zM647.9 367.8h0.85v0.85h-0.85zM631.7 346.0h0.85v0.85h-0.85zM639.6 352.6h0.85v0.85h-0.85zM646.0 342.9h0.85v0.85h-0.85zM644.7 344.7h0.85v0.85h-0.85zM634.4 338.8h0.85v0.85h-0.85zM633.1 339.9h0.85v0.85h-0.85zM645.8 333.2h0.85v0.85h-0.85zM632.9 353.4h0.85v0.85h-0.85zM644.0 339.3h0.85v0.85h-0.85zM637.4 348.7h0.85v0.85h-0.85zM640.4 348.4h0.85v0.85h-0.85zM654.5 342.4h0.85v0.85h-0.85zM649.9 346.7h0.85v0.85h-0.85zM645.6 345.8h0.85v0.85h-0.85zM632.2 343.3h0.85v0.85h-0.85zM642.4 346.7h0.85v0.85h-0.85zM640.8 346.7h0.85v0.85h-0.85zM639.9 340.1h0.85v0.85h-0.85zM648.6 338.4h0.85v0.85h-0.85zM630.1 341.1h0.85v0.85h-0.85zM642.4 347.1h0.85v0.85h-0.85zM641.3 354.9h0.85v0.85h-0.85zM635.9 355.5h0.85v0.85h-0.85zM651.0 348.3h0.85v0.85h-0.85zM632.8 352.2h0.85v0.85h-0.85zM640.7 347.1h0.85v0.85h-0.85zM641.0 353.2h0.85v0.85h-0.85zM627.2 347.2h0.85v0.85h-0.85zM631.8 348.8h0.85v0.85h-0.85zM634.6 344.6h0.85v0.85h-0.85zM645.3 346.3h0.85v0.85h-0.85zM646.2 358.1h0.85v0.85h-0.85zM644.1 338.9h0.85v0.85h-0.85zM641.9 346.4h0.85v0.85h-0.85zM627.1 342.7h0.85v0.85h-0.85zM641.8 352.3h0.85v0.85h-0.85zM637.4 357.6h0.85v0.85h-0.85zM647.6 344.4h0.85v0.85h-0.85zM648.7 329.2h0.85v0.85h-0.85zM654.1 350.2h0.85v0.85h-0.85zM644.8 350.2h0.85v0.85h-0.85zM645.4 335.9h0.85v0.85h-0.85zM634.2 344.8h0.85v0.85h-0.85zM641.0 345.9h0.85v0.85h-0.85zM633.0 332.0h0.85v0.85h-0.85zM645.9 350.5h0.85v0.85h-0.85zM660.7 336.3h0.85v0.85h-0.85zM659.1 338.5h0.85v0.85h-0.85zM645.7 349.8h0.85v0.85h-0.85zM652.1 350.3h0.85v0.85h-0.85zM646.1 341.0h0.85v0.85h-0.85zM660.4 335.0h0.85v0.85h-0.85zM643.0 344.7h0.85v0.85h-0.85zM669.6 325.3h0.85v0.85h-0.85zM658.5 334.8h0.85v0.85h-0.85zM636.2 362.2h0.85v0.85h-0.85zM679.9 333.6h0.85v0.85h-0.85zM661.7 343.7h0.85v0.85h-0.85zM647.7 341.3h0.85v0.85h-0.85zM657.8 340.0h0.85v0.85h-0.85zM634.3 352.1h0.85v0.85h-0.85zM659.7 340.5h0.85v0.85h-0.85zM633.6 365.1h0.85v0.85h-0.85zM647.1 351.0h0.85v0.85h-0.85zM673.1 332.2h0.85v0.85h-0.85zM669.6 329.6h0.85v0.85h-0.85zM647.9 337.1h0.85v0.85h-0.85zM641.2 342.2h0.85v0.85h-0.85zM666.2 332.5h0.85v0.85h-0.85zM657.4 342.9h0.85v0.85h-0.85zM662.0 343.0h0.85v0.85h-0.85zM662.3 334.3h0.85v0.85h-0.85zM645.2 349.8h0.85v0.85h-0.85zM665.6 334.8h0.85v0.85h-0.85zM636.7 361.7h0.85v0.85h-0.85zM671.9 328.2h0.85v0.85h-0.85zM637.0 350.1h0.85v0.85h-0.85zM652.5 349.4h0.85v0.85h-0.85zM650.4 347.5h0.85v0.85h-0.85zM665.2 335.8h0.85v0.85h-0.85zM661.2 330.3h0.85v0.85h-0.85zM660.3 337.6h0.85v0.85h-0.85zM657.9 330.6h0.85v0.85h-0.85zM656.4 330.2h0.85v0.85h-0.85zM655.1 340.5h0.85v0.85h-0.85zM635.0 355.2h0.85v0.85h-0.85zM633.3 361.7h0.85v0.85h-0.85zM635.5 364.5h0.85v0.85h-0.85zM655.8 341.0h0.85v0.85h-0.85zM658.5 348.4h0.85v0.85h-0.85zM653.4 339.9h0.85v0.85h-0.85zM660.7 341.3h0.85v0.85h-0.85zM650.7 338.5h0.85v0.85h-0.85zM646.1 349.4h0.85v0.85h-0.85zM639.6 352.2h0.85v0.85h-0.85zM635.6 355.8h0.85v0.85h-0.85zM670.9 332.4h0.85v0.85h-0.85zM661.3 327.0h0.85v0.85h-0.85zM642.2 352.4h0.85v0.85h-0.85zM651.4 340.4h0.85v0.85h-0.85zM661.4 337.4h0.85v0.85h-0.85zM674.4 328.7h0.85v0.85h-0.85zM649.0 344.5h0.85v0.85h-0.85zM657.3 338.0h0.85v0.85h-0.85zM665.8 327.3h0.85v0.85h-0.85zM639.2 357.0h0.85v0.85h-0.85zM646.8 344.7h0.85v0.85h-0.85zM657.1 342.5h0.85v0.85h-0.85zM645.0 342.1h0.85v0.85h-0.85zM682.4 327.5h0.85v0.85h-0.85zM663.0 330.2h0.85v0.85h-0.85zM661.4 342.8h0.85v0.85h-0.85zM644.9 347.3h0.85v0.85h-0.85zM667.0 335.3h0.85v0.85h-0.85zM662.7 335.0h0.85v0.85h-0.85zM652.5 347.2h0.85v0.85h-0.85zM651.7 344.4h0.85v0.85h-0.85zM643.9 357.1h0.85v0.85h-0.85zM657.2 343.6h0.85v0.85h-0.85zM667.3 335.7h0.85v0.85h-0.85zM671.2 337.8h0.85v0.85h-0.85zM660.8 333.6h0.85v0.85h-0.85zM668.4 338.1h0.85v0.85h-0.85zM650.2 345.9h0.85v0.85h-0.85zM647.5 339.9h0.85v0.85h-0.85zM670.4 332.2h0.85v0.85h-0.85zM660.6 336.3h0.85v0.85h-0.85zM652.1 352.9h0.85v0.85h-0.85zM660.4 335.0h0.85v0.85h-0.85zM665.3 334.0h0.85v0.85h-0.85zM664.5 335.6h0.85v0.85h-0.85zM652.6 333.7h0.85v0.85h-0.85zM652.1 346.7h0.85v0.85h-0.85zM658.0 334.2h0.85v0.85h-0.85zM678.0 331.2h0.85v0.85h-0.85zM662.1 344.9h0.85v0.85h-0.85zM649.1 346.3h0.85v0.85h-0.85zM655.9 332.8h0.85v0.85h-0.85zM643.6 351.7h0.85v0.85h-0.85zM659.2 339.4h0.85v0.85h-0.85zM654.9 345.6h0.85v0.85h-0.85zM665.8 331.8h0.85v0.85h-0.85zM654.4 336.1h0.85v0.85h-0.85zM667.1 331.6h0.85v0.85h-0.85zM678.5 318.6h0.85v0.85h-0.85zM658.4 348.3h0.85v0.85h-0.85zM645.6 345.5h0.85v0.85h-0.85zM659.5 334.9h0.85v0.85h-0.85zM655.2 341.4h0.85v0.85h-0.85zM654.6 335.6h0.85v0.85h-0.85zM648.7 344.4h0.85v0.85h-0.85zM661.8 335.7h0.85v0.85h-0.85zM655.8 338.6h0.85v0.85h-0.85zM632.6 358.0h0.85v0.85h-0.85zM656.9 346.8h0.85v0.85h-0.85zM660.9 339.4h0.85v0.85h-0.85zM665.4 326.7h0.85v0.85h-0.85zM649.0 344.2h0.85v0.85h-0.85zM649.6 349.9h0.85v0.85h-0.85zM666.9 329.1h0.85v0.85h-0.85zM649.9 346.2h0.85v0.85h-0.85zM657.3 339.8h0.85v0.85h-0.85zM662.6 338.6h0.85v0.85h-0.85zM663.6 334.1h0.85v0.85h-0.85zM656.0 340.3h0.85v0.85h-0.85zM642.2 347.3h0.85v0.85h-0.85zM667.9 333.6h0.85v0.85h-0.85zM649.3 341.4h0.85v0.85h-0.85zM655.1 350.8h0.85v0.85h-0.85zM677.5 324.1h0.85v0.85h-0.85zM665.0 332.8h0.85v0.85h-0.85zM646.9 352.2h0.85v0.85h-0.85zM650.9 344.6h0.85v0.85h-0.85zM653.8 343.2h0.85v0.85h-0.85zM648.1 346.9h0.85v0.85h-0.85zM634.0 354.4h0.85v0.85h-0.85zM662.4 331.2h0.85v0.85h-0.85zM662.7 332.1h0.85v0.85h-0.85zM661.7 342.5h0.85v0.85h-0.85zM650.4 342.1h0.85v0.85h-0.85zM657.4 337.8h0.85v0.85h-0.85zM661.9 334.1h0.85v0.85h-0.85zM646.9 351.8h0.85v0.85h-0.85zM657.7 350.0h0.85v0.85h-0.85zM647.9 342.5h0.85v0.85h-0.85zM665.0 336.8h0.85v0.85h-0.85zM659.3 339.1h0.85v0.85h-0.85zM641.6 350.7h0.85v0.85h-0.85zM650.9 347.6h0.85v0.85h-0.85zM671.8 322.1h0.85v0.85h-0.85zM648.0 351.6h0.85v0.85h-0.85zM658.4 340.3h0.85v0.85h-0.85zM647.0 342.9h0.85v0.85h-0.85zM673.5 335.6h0.85v0.85h-0.85zM657.7 344.1h0.85v0.85h-0.85zM654.5 348.2h0.85v0.85h-0.85zM640.0 345.9h0.85v0.85h-0.85zM652.9 342.0h0.85v0.85h-0.85zM663.7 332.3h0.85v0.85h-0.85zM664.9 337.3h0.85v0.85h-0.85zM645.5 356.2h0.85v0.85h-0.85zM667.9 321.8h0.85v0.85h-0.85zM653.6 343.0h0.85v0.85h-0.85zM644.7 349.2h0.85v0.85h-0.85zM660.0 343.0h0.85v0.85h-0.85zM649.5 345.9h0.85v0.85h-0.85zM646.8 341.6h0.85v0.85h-0.85zM649.0 345.5h0.85v0.85h-0.85zM652.6 338.3h0.85v0.85h-0.85zM648.9 342.5h0.85v0.85h-0.85zM638.1 355.2h0.85v0.85h-0.85zM660.5 335.0h0.85v0.85h-0.85zM651.3 346.1h0.85v0.85h-0.85zM665.0 326.1h0.85v0.85h-0.85zM667.7 343.9h0.85v0.85h-0.85zM665.8 339.9h0.85v0.85h-0.85zM659.9 341.7h0.85v0.85h-0.85zM666.6 326.0h0.85v0.85h-0.85zM647.2 336.7h0.85v0.85h-0.85zM643.4 346.3h0.85v0.85h-0.85zM659.2 337.3h0.85v0.85h-0.85zM632.9 370.6h0.85v0.85h-0.85zM655.5 348.2h0.85v0.85h-0.85zM657.1 337.4h0.85v0.85h-0.85zM654.7 348.2h0.85v0.85h-0.85zM672.5 334.5h0.85v0.85h-0.85zM663.6 335.2h0.85v0.85h-0.85zM660.4 343.9h0.85v0.85h-0.85zM652.7 345.3h0.85v0.85h-0.85zM666.1 329.7h0.85v0.85h-0.85zM646.0 342.7h0.85v0.85h-0.85zM651.4 344.0h0.85v0.85h-0.85zM666.5 338.0h0.85v0.85h-0.85zM659.0 331.6h0.85v0.85h-0.85zM673.6 318.9h0.85v0.85h-0.85zM655.2 344.5h0.85v0.85h-0.85zM629.3 347.7h0.85v0.85h-0.85zM667.7 341.3h0.85v0.85h-0.85zM668.3 329.1h0.85v0.85h-0.85zM656.2 344.7h0.85v0.85h-0.85zM677.3 334.0h0.85v0.85h-0.85zM671.3 321.5h0.85v0.85h-0.85zM646.4 343.1h0.85v0.85h-0.85zM656.6 352.1h0.85v0.85h-0.85zM642.1 350.4h0.85v0.85h-0.85zM661.5 336.0h0.85v0.85h-0.85zM664.2 335.7h0.85v0.85h-0.85zM665.1 339.3h0.85v0.85h-0.85zM646.4 355.4h0.85v0.85h-0.85zM648.3 347.6h0.85v0.85h-0.85zM640.1 351.7h0.85v0.85h-0.85zM638.9 354.2h0.85v0.85h-0.85zM642.6 353.1h0.85v0.85h-0.85zM642.6 358.2h0.85v0.85h-0.85zM654.5 342.9h0.85v0.85h-0.85zM665.1 343.3h0.85v0.85h-0.85zM660.5 333.0h0.85v0.85h-0.85zM657.2 342.8h0.85v0.85h-0.85zM653.4 352.2h0.85v0.85h-0.85zM659.2 345.2h0.85v0.85h-0.85zM662.9 337.3h0.85v0.85h-0.85zM650.7 340.6h0.85v0.85h-0.85zM654.8 338.2h0.85v0.85h-0.85zM652.4 343.0h0.85v0.85h-0.85zM651.3 346.3h0.85v0.85h-0.85zM655.8 339.9h0.85v0.85h-0.85zM640.6 345.5h0.85v0.85h-0.85zM665.3 329.9h0.85v0.85h-0.85zM640.8 355.5h0.85v0.85h-0.85zM663.0 339.9h0.85v0.85h-0.85zM638.1 347.7h0.85v0.85h-0.85zM671.0 327.4h0.85v0.85h-0.85zM661.0 328.4h0.85v0.85h-0.85zM646.0 345.9h0.85v0.85h-0.85zM660.2 356.1h0.85v0.85h-0.85zM644.3 350.5h0.85v0.85h-0.85zM654.5 340.4h0.85v0.85h-0.85zM658.9 335.7h0.85v0.85h-0.85zM679.9 316.0h0.85v0.85h-0.85zM636.9 346.3h0.85v0.85h-0.85zM669.0 330.6h0.85v0.85h-0.85zM649.2 344.9h0.85v0.85h-0.85zM662.6 343.5h0.85v0.85h-0.85zM661.2 328.5h0.85v0.85h-0.85zM662.8 337.9h0.85v0.85h-0.85zM663.8 341.8h0.85v0.85h-0.85zM640.0 332.6h0.85v0.85h-0.85zM666.7 328.1h0.85v0.85h-0.85zM643.5 331.5h0.85v0.85h-0.85zM665.3 329.5h0.85v0.85h-0.85zM675.1 325.9h0.85v0.85h-0.85zM660.0 326.4h0.85v0.85h-0.85zM662.9 327.0h0.85v0.85h-0.85zM652.9 328.9h0.85v0.85h-0.85zM663.0 329.0h0.85v0.85h-0.85zM671.6 334.7h0.85v0.85h-0.85zM658.1 325.6h0.85v0.85h-0.85zM658.6 321.7h0.85v0.85h-0.85zM664.0 332.9h0.85v0.85h-0.85zM668.4 328.2h0.85v0.85h-0.85zM643.3 329.6h0.85v0.85h-0.85zM660.6 340.5h0.85v0.85h-0.85zM653.0 336.1h0.85v0.85h-0.85zM665.1 332.5h0.85v0.85h-0.85zM670.6 334.0h0.85v0.85h-0.85zM663.2 330.6h0.85v0.85h-0.85zM673.2 334.0h0.85v0.85h-0.85zM649.9 327.6h0.85v0.85h-0.85zM655.8 327.2h0.85v0.85h-0.85zM649.9 328.2h0.85v0.85h-0.85zM660.6 336.6h0.85v0.85h-0.85zM661.0 336.5h0.85v0.85h-0.85zM658.0 327.6h0.85v0.85h-0.85zM647.6 334.9h0.85v0.85h-0.85zM659.2 329.5h0.85v0.85h-0.85zM655.5 334.5h0.85v0.85h-0.85zM666.2 328.8h0.85v0.85h-0.85zM657.2 334.0h0.85v0.85h-0.85zM671.9 329.7h0.85v0.85h-0.85zM662.4 328.9h0.85v0.85h-0.85zM641.0 330.0h0.85v0.85h-0.85zM658.2 330.8h0.85v0.85h-0.85zM645.4 327.7h0.85v0.85h-0.85zM669.9 324.5h0.85v0.85h-0.85zM674.7 337.1h0.85v0.85h-0.85zM659.7 328.5h0.85v0.85h-0.85zM664.5 322.7h0.85v0.85h-0.85zM645.2 320.8h0.85v0.85h-0.85zM637.0 318.6h0.85v0.85h-0.85zM654.3 327.6h0.85v0.85h-0.85zM657.4 335.7h0.85v0.85h-0.85zM644.5 323.4h0.85v0.85h-0.85zM660.9 328.8h0.85v0.85h-0.85zM663.2 322.6h0.85v0.85h-0.85zM666.6 334.7h0.85v0.85h-0.85zM675.9 331.6h0.85v0.85h-0.85zM668.3 331.5h0.85v0.85h-0.85zM656.3 335.7h0.85v0.85h-0.85zM661.1 336.9h0.85v0.85h-0.85zM666.2 334.4h0.85v0.85h-0.85zM649.3 327.8h0.85v0.85h-0.85zM673.6 324.7h0.85v0.85h-0.85zM669.2 325.9h0.85v0.85h-0.85zM657.7 322.9h0.85v0.85h-0.85zM653.5 337.6h0.85v0.85h-0.85zM668.6 330.7h0.85v0.85h-0.85zM669.6 331.0h0.85v0.85h-0.85zM678.4 338.5h0.85v0.85h-0.85zM670.1 327.8h0.85v0.85h-0.85zM662.2 335.0h0.85v0.85h-0.85zM667.2 331.4h0.85v0.85h-0.85zM650.7 329.5h0.85v0.85h-0.85zM667.4 322.3h0.85v0.85h-0.85zM644.3 333.9h0.85v0.85h-0.85zM664.4 327.1h0.85v0.85h-0.85zM665.8 328.3h0.85v0.85h-0.85zM644.1 331.1h0.85v0.85h-0.85zM679.7 330.6h0.85v0.85h-0.85zM648.3 334.8h0.85v0.85h-0.85zM670.8 327.4h0.85v0.85h-0.85zM654.7 330.8h0.85v0.85h-0.85zM663.3 331.3h0.85v0.85h-0.85zM653.3 330.3h0.85v0.85h-0.85zM670.7 329.1h0.85v0.85h-0.85zM678.6 335.1h0.85v0.85h-0.85zM668.1 327.2h0.85v0.85h-0.85zM667.3 324.2h0.85v0.85h-0.85zM661.7 330.0h0.85v0.85h-0.85zM657.7 335.0h0.85v0.85h-0.85zM666.4 328.0h0.85v0.85h-0.85zM661.8 327.6h0.85v0.85h-0.85zM658.6 328.7h0.85v0.85h-0.85zM646.1 330.8h0.85v0.85h-0.85zM657.0 329.4h0.85v0.85h-0.85zM666.2 351.8h0.85v0.85h-0.85zM653.6 357.3h0.85v0.85h-0.85zM673.5 354.5h0.85v0.85h-0.85zM667.9 358.0h0.85v0.85h-0.85zM658.9 333.9h0.85v0.85h-0.85zM672.7 349.5h0.85v0.85h-0.85zM667.0 354.4h0.85v0.85h-0.85zM673.3 355.7h0.85v0.85h-0.85zM657.0 346.9h0.85v0.85h-0.85zM674.5 358.2h0.85v0.85h-0.85zM664.5 360.2h0.85v0.85h-0.85zM651.5 352.8h0.85v0.85h-0.85zM668.9 350.7h0.85v0.85h-0.85zM662.4 349.7h0.85v0.85h-0.85zM658.0 353.3h0.85v0.85h-0.85zM662.9 360.8h0.85v0.85h-0.85zM652.3 363.1h0.85v0.85h-0.85zM667.9 348.9h0.85v0.85h-0.85zM662.9 345.6h0.85v0.85h-0.85zM662.6 346.6h0.85v0.85h-0.85zM673.0 359.4h0.85v0.85h-0.85zM664.5 353.9h0.85v0.85h-0.85zM660.2 354.4h0.85v0.85h-0.85zM658.4 355.8h0.85v0.85h-0.85zM663.9 355.0h0.85v0.85h-0.85zM670.8 351.4h0.85v0.85h-0.85zM660.7 344.8h0.85v0.85h-0.85zM657.8 347.8h0.85v0.85h-0.85zM670.0 353.2h0.85v0.85h-0.85zM664.6 355.1h0.85v0.85h-0.85zM664.1 349.6h0.85v0.85h-0.85zM677.1 349.3h0.85v0.85h-0.85zM656.8 362.1h0.85v0.85h-0.85zM665.5 348.9h0.85v0.85h-0.85zM653.3 353.9h0.85v0.85h-0.85zM662.4 350.0h0.85v0.85h-0.85zM667.9 346.1h0.85v0.85h-0.85zM671.2 341.4h0.85v0.85h-0.85zM656.4 348.4h0.85v0.85h-0.85zM669.4 346.4h0.85v0.85h-0.85zM669.1 358.4h0.85v0.85h-0.85zM663.5 344.1h0.85v0.85h-0.85zM679.5 349.3h0.85v0.85h-0.85zM664.3 357.0h0.85v0.85h-0.85zM658.8 351.5h0.85v0.85h-0.85zM666.9 355.8h0.85v0.85h-0.85zM652.7 358.3h0.85v0.85h-0.85zM673.9 340.4h0.85v0.85h-0.85zM670.4 349.3h0.85v0.85h-0.85zM661.8 345.4h0.85v0.85h-0.85zM668.0 362.0h0.85v0.85h-0.85zM667.6 351.4h0.85v0.85h-0.85zM676.2 355.8h0.85v0.85h-0.85zM660.4 364.5h0.85v0.85h-0.85zM656.3 349.7h0.85v0.85h-0.85zM651.7 352.8h0.85v0.85h-0.85zM662.4 355.2h0.85v0.85h-0.85zM654.6 350.4h0.85v0.85h-0.85zM663.2 361.3h0.85v0.85h-0.85zM666.8 358.1h0.85v0.85h-0.85zM661.5 359.5h0.85v0.85h-0.85zM658.4 352.6h0.85v0.85h-0.85zM671.6 349.8h0.85v0.85h-0.85zM663.0 349.8h0.85v0.85h-0.85zM665.7 349.7h0.85v0.85h-0.85zM670.1 340.6h0.85v0.85h-0.85zM656.2 354.9h0.85v0.85h-0.85zM658.6 358.1h0.85v0.85h-0.85zM679.7 352.2h0.85v0.85h-0.85zM663.3 348.7h0.85v0.85h-0.85zM657.8 352.5h0.85v0.85h-0.85zM662.7 353.9h0.85v0.85h-0.85zM660.7 354.6h0.85v0.85h-0.85zM656.7 365.1h0.85v0.85h-0.85zM661.7 346.2h0.85v0.85h-0.85zM664.1 354.9h0.85v0.85h-0.85zM664.2 357.2h0.85v0.85h-0.85zM667.6 352.8h0.85v0.85h-0.85zM653.5 350.6h0.85v0.85h-0.85zM655.0 345.0h0.85v0.85h-0.85zM669.1 348.0h0.85v0.85h-0.85zM661.5 357.3h0.85v0.85h-0.85zM671.8 362.6h0.85v0.85h-0.85zM666.1 347.6h0.85v0.85h-0.85zM655.5 355.6h0.85v0.85h-0.85zM667.6 356.0h0.85v0.85h-0.85zM658.0 359.4h0.85v0.85h-0.85zM665.9 354.0h0.85v0.85h-0.85zM671.8 355.4h0.85v0.85h-0.85zM677.3 358.6h0.85v0.85h-0.85z" fill="#2f4fff" fill-opacity="0.55"/>
<g transform="translate(656.00 344.00) rotate(-38)" filter="url(#bl1)" opacity="0.7"><ellipse cx="0.00" cy="0" rx="10.40" ry="2.86" fill="#8a9aff" fill-opacity="0.45"/><ellipse cx="0.00" cy="0" rx="8.00" ry="2.20" fill="#3050ff" fill-opacity="0.85"/></g>
<g transform="translate(641.00 355.80) rotate(-22)" filter="url(#bl07)" opacity="0.85"><ellipse cx="0.00" cy="0" rx="14.95" ry="7.54" fill="#8a9aff" fill-opacity="0.45"/><ellipse cx="0.00" cy="0" rx="11.50" ry="5.80" fill="#3050ff" fill-opacity="0.85"/><ellipse cx="0.00" cy="0" rx="9.89" ry="4.99" fill="#1438ff" fill-opacity="0.9"/><ellipse cx="0.00" cy="0" rx="8.51" ry="4.29" fill="#00b4f4" fill-opacity="1"/></g>
<g transform="translate(639.50 356.80) rotate(-18)" filter="url(#bl1)" opacity="1.0"><ellipse cx="0.00" cy="0" rx="6.82" ry="3.84" fill="#2ad22a" fill-opacity="1"/></g>
<g transform="translate(638.50 357.20) rotate(-10)" filter="url(#bl1)" opacity="1.0"><ellipse cx="0.00" cy="0" rx="1.77" ry="1.16" fill="#e6e000" fill-opacity="1"/><ellipse cx="-0.00" cy="0" rx="0.99" ry="0.65" fill="#ff4800" fill-opacity="1"/></g>
<g transform="translate(642.00 355.40) rotate(-10)" filter="url(#bl07)" opacity="1.0"><ellipse cx="0.00" cy="0" rx="1.02" ry="0.68" fill="#e6e000" fill-opacity="1"/></g>
<rect x="643.50" y="314.40" width="35.10" height="51.70" fill="none" stroke="#3a3a3a" stroke-width="0.9"/>
<line x1="643.50" y1="337.60" x2="678.60" y2="337.60" stroke="#222" stroke-width="1.0"/>
<text x="622.30" y="373.30" font-size="7.5" text-anchor="start" fill="#000" stroke="#000" stroke-width="0.12">5µM Olaparib</text>
<text x="676.80" y="320.00" font-size="6.5" text-anchor="end" fill="#000">4.2</text>
<text x="676.80" y="364.40" font-size="6.5" text-anchor="end" fill="#000">42.1</text>
<path d="M538.6 328 L538.6 383.5 L593.5 383.5" stroke="#6a6a6a" stroke-width="1.0" fill="none"/>
<path d="M536.7 329 L538.6 325.1 L540.5 329 Z" stroke="none" stroke-width="0" fill="#111"/>
<path d="M592.8 381.6 L596.8 383.5 L592.8 385.4 Z" stroke="none" stroke-width="0" fill="#111"/>
<text x="536.40" y="356.40" font-size="8.6" text-anchor="middle" fill="#ee1c1c" stroke="#ee1c1c" transform="rotate(-90 536.40 356.40)">PI</text>
<text x="549.00" y="391.60" font-size="8.2" text-anchor="start" fill="#1db41d" stroke="#1db41d">Annexin V</text>
<text x="-0.60" y="445.60" font-size="16" text-anchor="start" fill="#000" stroke="#000" font-weight="bold">g</text>
<line x1="46.50" y1="458.30" x2="46.50" y2="597.70" stroke="#333" stroke-width="1.1"/>
<line x1="41.80" y1="597.30" x2="252.00" y2="597.30" stroke="#333" stroke-width="1.1"/>
<line x1="41.80" y1="597.20" x2="46.50" y2="597.20" stroke="#333" stroke-width="1.1"/>
<text x="39.80" y="600.70" font-size="10" text-anchor="end" fill="#000" stroke="#000">0</text>
<line x1="41.80" y1="562.45" x2="46.50" y2="562.45" stroke="#333" stroke-width="1.1"/>
<text x="39.80" y="565.95" font-size="10" text-anchor="end" fill="#000" stroke="#000">25</text>
<line x1="41.80" y1="527.70" x2="46.50" y2="527.70" stroke="#333" stroke-width="1.1"/>
<text x="39.80" y="531.20" font-size="10" text-anchor="end" fill="#000" stroke="#000">50</text>
<line x1="41.80" y1="492.95" x2="46.50" y2="492.95" stroke="#333" stroke-width="1.1"/>
<text x="39.80" y="496.45" font-size="10" text-anchor="end" fill="#000" stroke="#000">75</text>
<line x1="41.80" y1="458.20" x2="46.50" y2="458.20" stroke="#333" stroke-width="1.1"/>
<text x="39.80" y="461.70" font-size="10" text-anchor="end" fill="#000" stroke="#000">100</text>
<rect x="52.80" y="458.20" width="13.20" height="139.00" fill="#9a9b9f"/>
<rect x="73.00" y="458.20" width="12.60" height="139.00" fill="#4e9df6"/>
<rect x="106.00" y="493.65" width="12.90" height="103.56" fill="#9a9b9f"/>
<rect x="125.80" y="472.38" width="13.20" height="124.82" fill="#4e9df6"/>
<rect x="159.40" y="515.05" width="12.80" height="82.15" fill="#9a9b9f"/>
<rect x="179.10" y="484.61" width="13.10" height="112.59" fill="#4e9df6"/>
<rect x="212.20" y="566.62" width="13.10" height="30.58" fill="#9a9b9f"/>
<rect x="231.80" y="528.67" width="13.40" height="68.53" fill="#4e9df6"/>
<line x1="69.30" y1="597.20" x2="69.30" y2="602.60" stroke="#333" stroke-width="1.1"/>
<line x1="122.40" y1="597.20" x2="122.40" y2="602.60" stroke="#333" stroke-width="1.1"/>
<line x1="175.60" y1="597.20" x2="175.60" y2="602.60" stroke="#333" stroke-width="1.1"/>
<line x1="228.60" y1="597.20" x2="228.60" y2="602.60" stroke="#333" stroke-width="1.1"/>
<circle cx="55.00" cy="458.20" r="1.75" fill="#fff" stroke="#111" stroke-width="0.8"/>
<circle cx="58.90" cy="458.20" r="1.75" fill="#fff" stroke="#111" stroke-width="0.8"/>
<circle cx="62.80" cy="458.20" r="1.75" fill="#fff" stroke="#111" stroke-width="0.8"/>
<circle cx="66.20" cy="458.20" r="1.75" fill="#fff" stroke="#111" stroke-width="0.8"/>
<circle cx="75.20" cy="458.20" r="1.75" fill="#fff" stroke="#111" stroke-width="0.8"/>
<circle cx="79.10" cy="458.20" r="1.75" fill="#fff" stroke="#111" stroke-width="0.8"/>
<circle cx="83.00" cy="458.20" r="1.75" fill="#fff" stroke="#111" stroke-width="0.8"/>
<circle cx="86.40" cy="458.20" r="1.75" fill="#fff" stroke="#111" stroke-width="0.8"/>
<line x1="112.30" y1="484.00" x2="112.30" y2="499.80" stroke="#000" stroke-width="1.0"/>
<line x1="110.10" y1="484.00" x2="114.50" y2="484.00" stroke="#000" stroke-width="1.0"/>
<line x1="110.10" y1="499.80" x2="114.50" y2="499.80" stroke="#000" stroke-width="1.0"/>
<line x1="131.90" y1="465.00" x2="131.90" y2="478.00" stroke="#000" stroke-width="1.0"/>
<line x1="129.70" y1="465.00" x2="134.10" y2="465.00" stroke="#000" stroke-width="1.0"/>
<line x1="129.70" y1="478.00" x2="134.10" y2="478.00" stroke="#000" stroke-width="1.0"/>
<line x1="165.90" y1="494.60" x2="165.90" y2="536.00" stroke="#000" stroke-width="1.0"/>
<line x1="163.70" y1="494.60" x2="168.10" y2="494.60" stroke="#000" stroke-width="1.0"/>
<line x1="163.70" y1="536.00" x2="168.10" y2="536.00" stroke="#000" stroke-width="1.0"/>
<line x1="185.30" y1="476.40" x2="185.30" y2="493.70" stroke="#000" stroke-width="1.0"/>
<line x1="183.10" y1="476.40" x2="187.50" y2="476.40" stroke="#000" stroke-width="1.0"/>
<line x1="183.10" y1="493.70" x2="187.50" y2="493.70" stroke="#000" stroke-width="1.0"/>
<line x1="219.00" y1="554.20" x2="219.00" y2="578.60" stroke="#000" stroke-width="1.0"/>
<line x1="216.80" y1="554.20" x2="221.20" y2="554.20" stroke="#000" stroke-width="1.0"/>
<line x1="216.80" y1="578.60" x2="221.20" y2="578.60" stroke="#000" stroke-width="1.0"/>
<line x1="238.40" y1="518.10" x2="238.40" y2="539.90" stroke="#000" stroke-width="1.0"/>
<line x1="236.20" y1="518.10" x2="240.60" y2="518.10" stroke="#000" stroke-width="1.0"/>
<line x1="236.20" y1="539.90" x2="240.60" y2="539.90" stroke="#000" stroke-width="1.0"/>
<circle cx="108.50" cy="501.70" r="2.0" fill="none" stroke="#111" stroke-width="0.85"/>
<circle cx="111.60" cy="492.00" r="2.0" fill="none" stroke="#111" stroke-width="0.85"/>
<circle cx="112.60" cy="483.00" r="2.0" fill="none" stroke="#111" stroke-width="0.85"/>
<circle cx="117.00" cy="496.70" r="2.0" fill="none" stroke="#111" stroke-width="0.85"/>
<circle cx="127.60" cy="475.80" r="2.0" fill="none" stroke="#111" stroke-width="0.85"/>
<circle cx="132.00" cy="474.00" r="2.0" fill="none" stroke="#111" stroke-width="0.85"/>
<circle cx="136.50" cy="475.00" r="2.0" fill="none" stroke="#111" stroke-width="0.85"/>
<circle cx="131.80" cy="466.30" r="2.0" fill="none" stroke="#111" stroke-width="0.85"/>
<circle cx="165.90" cy="489.80" r="2.0" fill="none" stroke="#111" stroke-width="0.85"/>
<circle cx="165.90" cy="506.20" r="2.0" fill="none" stroke="#111" stroke-width="0.85"/>
<circle cx="164.90" cy="527.00" r="2.0" fill="none" stroke="#111" stroke-width="0.85"/>
<circle cx="166.80" cy="534.60" r="2.0" fill="none" stroke="#111" stroke-width="0.85"/>
<circle cx="185.30" cy="471.30" r="2.0" fill="none" stroke="#111" stroke-width="0.85"/>
<circle cx="181.10" cy="490.10" r="2.0" fill="none" stroke="#111" stroke-width="0.85"/>
<circle cx="185.30" cy="487.10" r="2.0" fill="none" stroke="#111" stroke-width="0.85"/>
<circle cx="190.10" cy="490.70" r="2.0" fill="none" stroke="#111" stroke-width="0.85"/>
<circle cx="219.00" cy="547.90" r="2.0" fill="none" stroke="#111" stroke-width="0.85"/>
<circle cx="214.50" cy="575.70" r="2.0" fill="none" stroke="#111" stroke-width="0.85"/>
<circle cx="218.10" cy="568.80" r="2.0" fill="none" stroke="#111" stroke-width="0.85"/>
<circle cx="222.60" cy="572.70" r="2.0" fill="none" stroke="#111" stroke-width="0.85"/>
<circle cx="238.40" cy="512.20" r="2.0" fill="none" stroke="#111" stroke-width="0.85"/>
<circle cx="234.20" cy="532.40" r="2.0" fill="none" stroke="#111" stroke-width="0.85"/>
<circle cx="239.00" cy="530.00" r="2.0" fill="none" stroke="#111" stroke-width="0.85"/>
<circle cx="243.20" cy="532.40" r="2.0" fill="none" stroke="#111" stroke-width="0.85"/>
<path d="M112.3 476.5 L112.3 459.9 L132.7 459.9 L132.7 464.0" stroke="#111" stroke-width="0.9" fill="none"/>
<path d="M165.3 481.7 L165.3 463.9 L185.3 463.9 L185.3 467.4" stroke="#111" stroke-width="0.9" fill="none"/>
<path d="M219.0 542.9 L219.0 502.6 L238.4 502.6 L238.4 507.1" stroke="#111" stroke-width="0.9" fill="none"/>
<text x="97.30" y="457.20" font-size="10.55" text-anchor="start" fill="#000" stroke="#000" font-style="italic">P = 0.0272</text>
<text x="150.20" y="461.50" font-size="10.55" text-anchor="start" fill="#000" stroke="#000" font-style="italic">P = 0.0015</text>
<text x="203.90" y="499.40" font-size="10.55" text-anchor="start" fill="#000" stroke="#000" font-style="italic">P = 0.0001</text>
<text x="68.80" y="610.70" font-size="10.55" text-anchor="middle" fill="#000" stroke="#000">CTL</text>
<text x="121.30" y="610.70" font-size="10.55" text-anchor="middle" fill="#000" stroke="#000">1</text>
<text x="175.20" y="610.70" font-size="10.55" text-anchor="middle" fill="#000" stroke="#000">2</text>
<text x="228.30" y="610.70" font-size="10.55" text-anchor="middle" fill="#000" stroke="#000">4</text>
<line x1="114.30" y1="614.60" x2="233.90" y2="614.60" stroke="#222" stroke-width="1"/>
<text x="175.40" y="624.20" font-size="10.55" text-anchor="middle" fill="#000" stroke="#000">Olaparib (µM)</text>
<text x="233.00" y="453.40" font-size="10.55" text-anchor="middle" fill="#000" stroke="#000">SU-DHL-5</text>
<line x1="208.60" y1="456.50" x2="257.50" y2="456.50" stroke="#cfcfcf" stroke-width="1.2"/>
<rect x="209.20" y="458.50" width="9.80" height="9.80" fill="#9b9b9f"/>
<rect x="209.20" y="472.00" width="9.80" height="9.80" fill="#55a0f8"/>
<text x="222.00" y="466.30" font-size="10.55" text-anchor="start" fill="#000" stroke="#000">EV</text>
<text x="222.00" y="480.30" font-size="10.55" text-anchor="start" fill="#000" stroke="#000">SENP6</text>
<text x="24.60" y="525.70" font-size="10.5" text-anchor="middle" fill="#000" stroke="#000" transform="rotate(-90 24.60 525.70)">relative viability (%)</text>
<text x="290.00" y="444.50" font-size="16" text-anchor="start" fill="#000" stroke="#000" font-weight="bold">h</text>
<text x="362.80" y="446.80" font-size="10.55" text-anchor="middle" fill="#000" stroke="#000">SU-DHL-6 control &amp;</text>
<text x="362.9" y="459.2" font-size="10.55" text-anchor="middle" stroke="#000">SU-DHL-6 <tspan font-style="italic">SENP6<tspan font-size="6.8" dy="-3.8">KD</tspan></tspan></text>
<g transform="translate(410.00 420) scale(0.10219)"><path d="M98 372 L24 382 C8 386 8 402 26 408 L208 464 L204 457 L42 404 C30 400 30 394 42 390 L100 380 Z" fill="#fafafa" stroke="#6e6e6e" stroke-width="9" stroke-linejoin="round"/><path d="M95 365 C95 300 120 232 190 192 C240 162 300 152 345 176 C352 160 372 148 398 140 C420 134 440 150 440 170 C472 190 520 228 548 262 C542 276 522 282 500 292 C472 306 442 322 428 342 C418 356 410 370 422 380 C432 384 446 384 442 395 C420 401 392 398 362 400 C352 410 356 420 342 426 C300 432 200 412 130 396 C112 391 95 382 95 365 Z" fill="#c8c8c8" stroke="#6a6a6a" stroke-width="9" stroke-linejoin="round"/><path d="M345 178 C352 198 362 216 378 232" fill="none" stroke="#6a6a6a" stroke-width="9"/><circle cx="463" cy="236" r="7" fill="#333"/><ellipse cx="256" cy="262" rx="58" ry="37" transform="rotate(-14 256 262)" fill="#d03434"/></g>
<g transform="translate(531.60 420) scale(0.10219)"><path d="M98 372 L24 382 C8 386 8 402 26 408 L208 464 L204 457 L42 404 C30 400 30 394 42 390 L100 380 Z" fill="#fafafa" stroke="#6e6e6e" stroke-width="9" stroke-linejoin="round"/><path d="M95 365 C95 300 120 232 190 192 C240 162 300 152 345 176 C352 160 372 148 398 140 C420 134 440 150 440 170 C472 190 520 228 548 262 C542 276 522 282 500 292 C472 306 442 322 428 342 C418 356 410 370 422 380 C432 384 446 384 442 395 C420 401 392 398 362 400 C352 410 356 420 342 426 C300 432 200 412 130 396 C112 391 95 382 95 365 Z" fill="#c8c8c8" stroke="#6a6a6a" stroke-width="9" stroke-linejoin="round"/><path d="M345 178 C352 198 362 216 378 232" fill="none" stroke="#6a6a6a" stroke-width="9"/><circle cx="463" cy="236" r="7" fill="#333"/><ellipse cx="256" cy="262" rx="58" ry="37" transform="rotate(-14 256 262)" fill="#d03434"/></g>
<text x="500.50" y="423.00" font-size="10.55" text-anchor="middle" fill="#000" stroke="#000">Olaparib (50 mg/kg) i.p.</text>
<text x="500.70" y="432.50" font-size="10.55" text-anchor="middle" fill="#000" stroke="#000">vs. vehicle (daily)</text>
<line x1="494.00" y1="435.40" x2="494.00" y2="443.00" stroke="#111" stroke-width="1.0"/>
<path d="M491.90 442.2 L494.00 446.6 L496.10 442.2 Z" stroke="none" stroke-width="0" fill="#111"/>
<line x1="500.70" y1="435.40" x2="500.70" y2="443.00" stroke="#111" stroke-width="1.0"/>
<path d="M498.60 442.2 L500.70 446.6 L502.80 442.2 Z" stroke="none" stroke-width="0" fill="#111"/>
<line x1="507.40" y1="435.40" x2="507.40" y2="443.00" stroke="#111" stroke-width="1.0"/>
<path d="M505.30 442.2 L507.40 446.6 L509.50 442.2 Z" stroke="none" stroke-width="0" fill="#111"/>
<line x1="476.80" y1="450.50" x2="518.50" y2="450.50" stroke="#111" stroke-width="1.2"/>
<path d="M517.2 446.3 L525.6 450.5 L517.2 454.7 Z" stroke="none" stroke-width="0" fill="#111"/>
<text x="635.00" y="446.50" font-size="10.55" text-anchor="middle" fill="#000" stroke="#000">analysis of tumor</text>
<text x="634.80" y="456.20" font-size="10.55" text-anchor="middle" fill="#000" stroke="#000">tumor growth</text>
<line x1="315.10" y1="491.20" x2="315.10" y2="601.50" stroke="#333" stroke-width="1.1"/>
<line x1="311.10" y1="598.30" x2="475.00" y2="598.30" stroke="#333" stroke-width="1.1"/>
<line x1="311.10" y1="598.30" x2="315.10" y2="598.30" stroke="#333" stroke-width="1.1"/>
<text x="309.20" y="601.90" font-size="10" text-anchor="end" fill="#000" stroke="#000">0</text>
<line x1="311.10" y1="571.52" x2="315.10" y2="571.52" stroke="#333" stroke-width="1.1"/>
<text x="309.20" y="575.12" font-size="10" text-anchor="end" fill="#000" stroke="#000">2</text>
<line x1="311.10" y1="544.74" x2="315.10" y2="544.74" stroke="#333" stroke-width="1.1"/>
<text x="309.20" y="548.34" font-size="10" text-anchor="end" fill="#000" stroke="#000">4</text>
<line x1="311.10" y1="517.96" x2="315.10" y2="517.96" stroke="#333" stroke-width="1.1"/>
<text x="309.20" y="521.56" font-size="10" text-anchor="end" fill="#000" stroke="#000">6</text>
<line x1="311.10" y1="491.18" x2="315.10" y2="491.18" stroke="#333" stroke-width="1.1"/>
<text x="309.20" y="494.78" font-size="10" text-anchor="end" fill="#000" stroke="#000">8</text>
<line x1="315.10" y1="598.30" x2="315.10" y2="601.80" stroke="#333" stroke-width="1.1"/>
<text x="315.10" y="611.90" font-size="10" text-anchor="middle" fill="#000" stroke="#000">0</text>
<line x1="368.54" y1="598.30" x2="368.54" y2="601.80" stroke="#333" stroke-width="1.1"/>
<text x="368.54" y="611.90" font-size="10" text-anchor="middle" fill="#000" stroke="#000">2</text>
<line x1="421.98" y1="598.30" x2="421.98" y2="601.80" stroke="#333" stroke-width="1.1"/>
<text x="421.98" y="611.90" font-size="10" text-anchor="middle" fill="#000" stroke="#000">4</text>
<line x1="475.42" y1="598.30" x2="475.42" y2="601.80" stroke="#333" stroke-width="1.1"/>
<text x="475.42" y="611.90" font-size="10" text-anchor="middle" fill="#000" stroke="#000">6</text>
<text x="394.80" y="623.30" font-size="10.55" text-anchor="middle" fill="#000" stroke="#000">Treatment (days)</text>
<text x="299.20" y="547.40" font-size="10.55" text-anchor="middle" fill="#000" stroke="#000" transform="rotate(-90 299.20 547.40)">relative tumor growth</text>
<line x1="368.54" y1="565.49" x2="368.54" y2="576.61" stroke="#000" stroke-width="1.0"/>
<line x1="366.54" y1="565.49" x2="370.54" y2="565.49" stroke="#000" stroke-width="1.0"/>
<line x1="366.54" y1="576.61" x2="370.54" y2="576.61" stroke="#000" stroke-width="1.0"/>
<line x1="448.70" y1="497.87" x2="448.70" y2="561.88" stroke="#000" stroke-width="1.0"/>
<line x1="446.70" y1="497.87" x2="450.70" y2="497.87" stroke="#000" stroke-width="1.0"/>
<line x1="446.70" y1="561.88" x2="450.70" y2="561.88" stroke="#000" stroke-width="1.0"/>
<line x1="446.70" y1="542.06" x2="450.70" y2="542.06" stroke="#111" stroke-width="1.0"/>
<path d="M315.10 584.91 L368.54 572.46 L448.70 552.37" stroke="#999999" stroke-width="1.0" fill="none"/>
<path d="M315.10 584.91 L368.54 570.18 L448.70 526.53" stroke="#4f9cf4" stroke-width="1.3" fill="none"/>
<circle cx="315.10" cy="584.91" r="1.9" fill="#fff" stroke="#333" stroke-width="0.9"/>
<circle cx="368.54" cy="572.46" r="1.9" fill="#fff" stroke="#333" stroke-width="0.9"/>
<circle cx="448.70" cy="552.37" r="1.9" fill="#fff" stroke="#333" stroke-width="0.9"/>
<circle cx="368.54" cy="570.18" r="1.9" fill="#fff" stroke="#333" stroke-width="0.9"/>
<circle cx="448.70" cy="526.53" r="1.9" fill="#fff" stroke="#333" stroke-width="0.9"/>
<text x="449.40" y="574.80" font-size="10.55" text-anchor="middle" fill="#000" stroke="#000">n.s.</text>
<text x="381.70" y="487.70" font-size="10.55" text-anchor="middle" fill="#000" stroke="#000">SU-DHL-6</text>
<text x="381.50" y="498.30" font-size="10.55" text-anchor="middle" fill="#000" stroke="#000">control</text>
<line x1="355.90" y1="501.90" x2="407.80" y2="501.90" stroke="#cfcfcf" stroke-width="1.2"/>
<rect x="355.90" y="505.10" width="9.90" height="9.60" fill="#9b9b9f"/>
<rect x="355.90" y="518.40" width="9.90" height="9.40" fill="#55a0f8"/>
<text x="368.20" y="513.40" font-size="10.55" text-anchor="start" fill="#000" stroke="#000">vehicle</text>
<text x="368.20" y="527.80" font-size="10.55" text-anchor="start" fill="#000" stroke="#000">Olaparib</text>
<line x1="519.60" y1="491.30" x2="519.60" y2="601.50" stroke="#333" stroke-width="1.1"/>
<line x1="515.10" y1="598.30" x2="679.20" y2="598.30" stroke="#333" stroke-width="1.1"/>
<line x1="515.60" y1="598.30" x2="519.60" y2="598.30" stroke="#333" stroke-width="1.1"/>
<text x="515.30" y="601.20" font-size="10" text-anchor="end" fill="#000" stroke="#000">0</text>
<line x1="515.60" y1="562.63" x2="519.60" y2="562.63" stroke="#333" stroke-width="1.1"/>
<text x="515.30" y="565.53" font-size="10" text-anchor="end" fill="#000" stroke="#000">1</text>
<line x1="515.60" y1="526.96" x2="519.60" y2="526.96" stroke="#333" stroke-width="1.1"/>
<text x="515.30" y="529.86" font-size="10" text-anchor="end" fill="#000" stroke="#000">2</text>
<line x1="515.60" y1="491.29" x2="519.60" y2="491.29" stroke="#333" stroke-width="1.1"/>
<text x="515.30" y="494.19" font-size="10" text-anchor="end" fill="#000" stroke="#000">3</text>
<line x1="519.60" y1="598.30" x2="519.60" y2="601.80" stroke="#333" stroke-width="1.1"/>
<text x="519.60" y="611.20" font-size="10" text-anchor="middle" fill="#000" stroke="#000">0</text>
<line x1="572.70" y1="598.30" x2="572.70" y2="601.80" stroke="#333" stroke-width="1.1"/>
<text x="572.70" y="611.20" font-size="10" text-anchor="middle" fill="#000" stroke="#000">2</text>
<line x1="625.80" y1="598.30" x2="625.80" y2="601.80" stroke="#333" stroke-width="1.1"/>
<text x="625.80" y="611.20" font-size="10" text-anchor="middle" fill="#000" stroke="#000">4</text>
<line x1="678.90" y1="598.30" x2="678.90" y2="601.80" stroke="#333" stroke-width="1.1"/>
<text x="678.90" y="611.20" font-size="10" text-anchor="middle" fill="#000" stroke="#000">6</text>
<text x="600.00" y="623.20" font-size="10.55" text-anchor="middle" fill="#000" stroke="#000">Treatment (days)</text>
<text x="503.70" y="546.50" font-size="10.55" text-anchor="middle" fill="#000" stroke="#000" transform="rotate(-90 503.70 546.50)">relative tumor growth</text>
<line x1="572.70" y1="534.45" x2="572.70" y2="549.79" stroke="#000" stroke-width="1.0"/>
<line x1="570.70" y1="534.45" x2="574.70" y2="534.45" stroke="#000" stroke-width="1.0"/>
<line x1="570.70" y1="549.79" x2="574.70" y2="549.79" stroke="#000" stroke-width="1.0"/>
<line x1="572.70" y1="554.43" x2="572.70" y2="562.99" stroke="#000" stroke-width="1.0"/>
<line x1="570.70" y1="554.43" x2="574.70" y2="554.43" stroke="#000" stroke-width="1.0"/>
<line x1="570.70" y1="562.99" x2="574.70" y2="562.99" stroke="#000" stroke-width="1.0"/>
<line x1="652.35" y1="510.55" x2="652.35" y2="537.66" stroke="#000" stroke-width="1.0"/>
<line x1="650.35" y1="510.55" x2="654.35" y2="510.55" stroke="#000" stroke-width="1.0"/>
<line x1="650.35" y1="537.66" x2="654.35" y2="537.66" stroke="#000" stroke-width="1.0"/>
<line x1="652.35" y1="558.71" x2="652.35" y2="569.41" stroke="#000" stroke-width="1.0"/>
<line x1="650.35" y1="558.71" x2="654.35" y2="558.71" stroke="#000" stroke-width="1.0"/>
<line x1="650.35" y1="569.41" x2="654.35" y2="569.41" stroke="#000" stroke-width="1.0"/>
<path d="M519.60 562.63 L572.70 541.94 L652.35 524.11" stroke="#999999" stroke-width="1.0" fill="none"/>
<path d="M519.60 562.63 L572.70 559.06 L652.35 563.70" stroke="#4f9cf4" stroke-width="1.3" fill="none"/>
<circle cx="519.60" cy="562.63" r="1.9" fill="#fff" stroke="#333" stroke-width="0.9"/>
<circle cx="572.70" cy="541.94" r="1.9" fill="#fff" stroke="#333" stroke-width="0.9"/>
<circle cx="652.35" cy="524.11" r="1.9" fill="#fff" stroke="#333" stroke-width="0.9"/>
<circle cx="572.70" cy="559.06" r="1.9" fill="#fff" stroke="#333" stroke-width="0.9"/>
<circle cx="652.35" cy="563.70" r="1.9" fill="#fff" stroke="#333" stroke-width="0.9"/>
<text x="627.80" y="582.40" font-size="10.55" text-anchor="start" fill="#000" stroke="#000" font-style="italic">P = 0.0136</text>
<text x="584.00" y="485.50" font-size="10.55" text-anchor="middle" fill="#000" stroke="#000">SU-DHL-6</text>
<text x="562.50" y="498.30" font-size="10.6" text-anchor="start" fill="#000" stroke="#000" font-style="italic">SENP6<tspan font-size="6.80" dy="-3.80">KD</tspan></text>
<line x1="557.90" y1="502.20" x2="609.40" y2="502.20" stroke="#cfcfcf" stroke-width="1.2"/>
<rect x="557.90" y="505.20" width="9.30" height="9.30" fill="#9b9b9f"/>
<rect x="557.90" y="518.60" width="9.30" height="9.30" fill="#55a0f8"/>
<text x="569.60" y="513.10" font-size="10.55" text-anchor="start" fill="#000" stroke="#000">vehicle</text>
<text x="569.60" y="527.60" font-size="10.55" text-anchor="start" fill="#000" stroke="#000">Olaparib</text>
</svg>
</body></html>
